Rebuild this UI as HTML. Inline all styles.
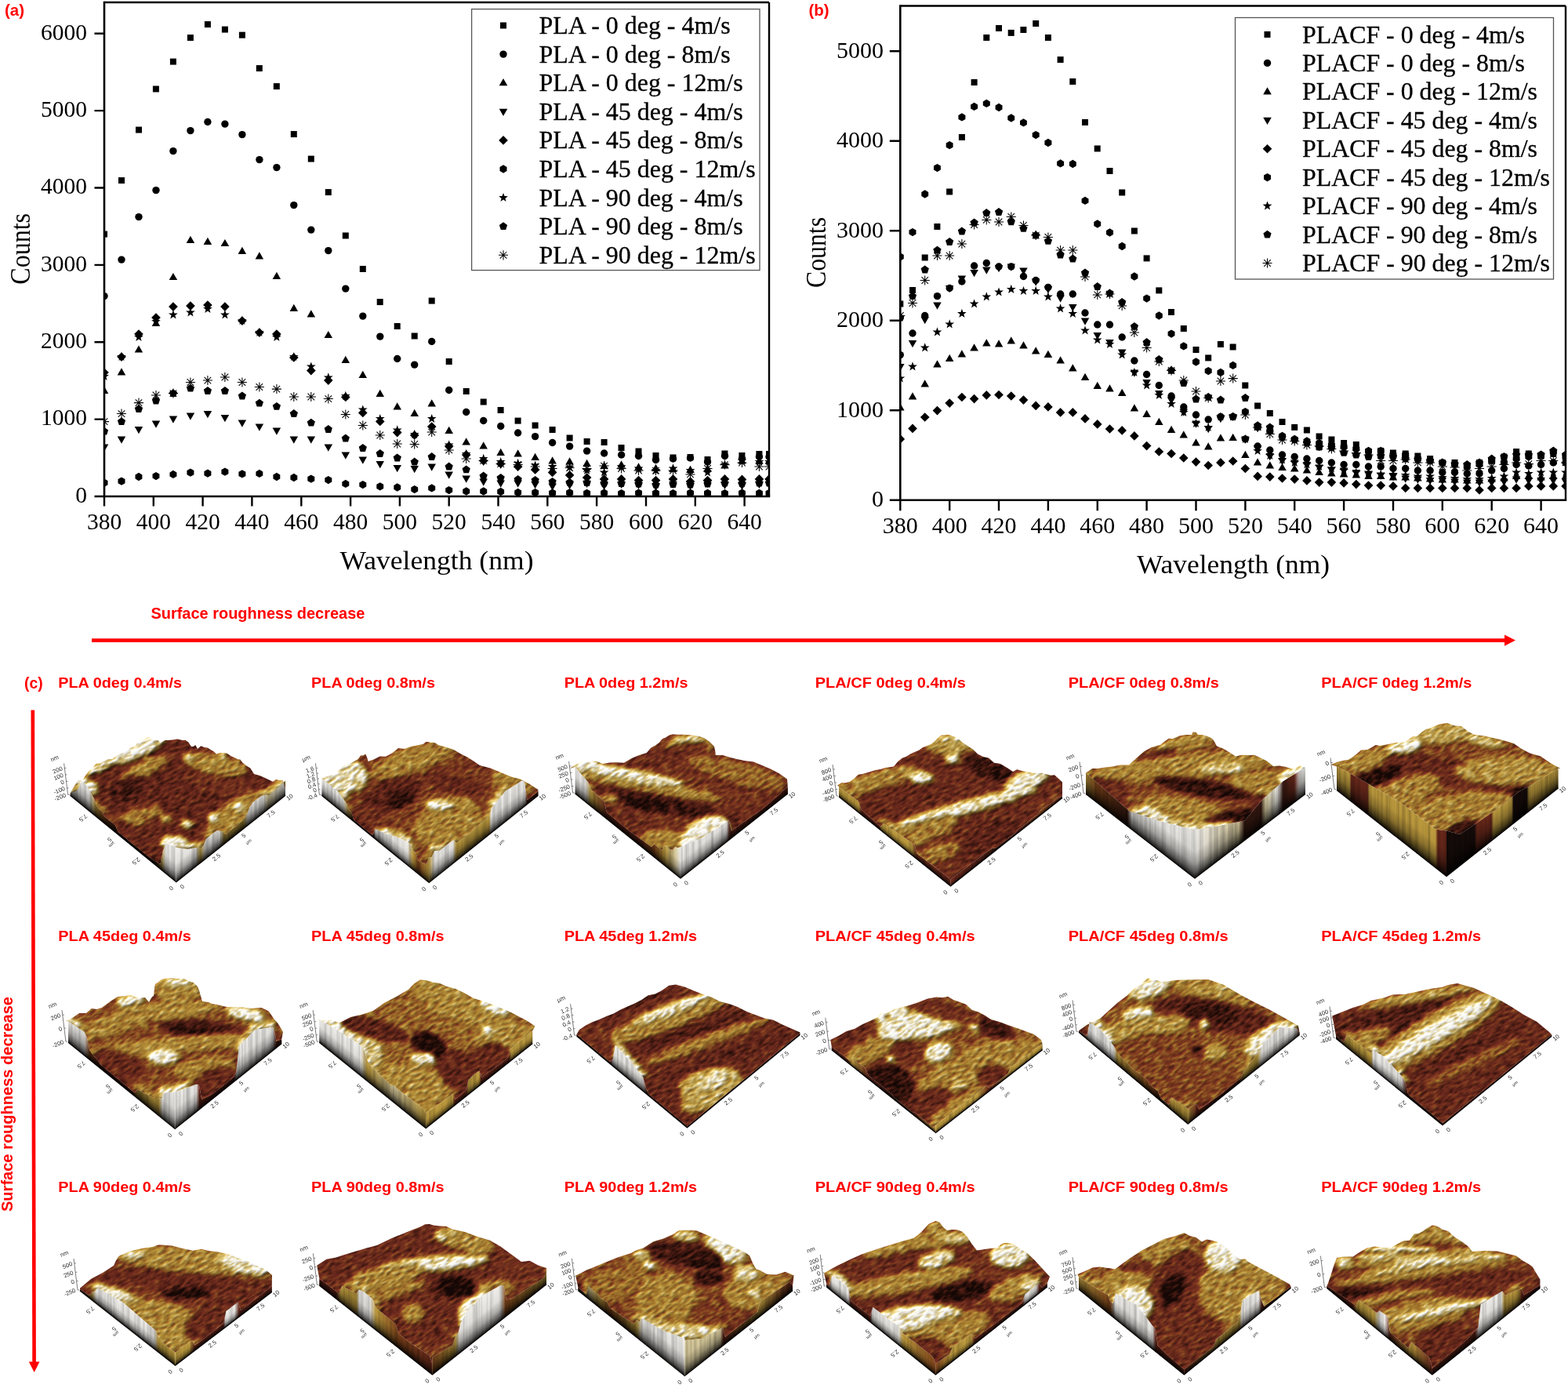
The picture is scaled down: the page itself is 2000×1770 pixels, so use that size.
<!DOCTYPE html><html><head><meta charset="utf-8"><title>Figure</title><style>html,body{margin:0;padding:0;background:#fff;}body{width:2000px;height:1770px;overflow:hidden;position:relative;}svg{display:block;}</style></head><body>
<svg width="2000" height="1770" viewBox="0 0 2000 1770">
<rect width="2000" height="1770" fill="#fff"/>
<clipPath id="cA"><rect x="133" y="3" width="848" height="630"/></clipPath>
<g clip-path="url(#cA)" fill="#000">
<rect x="129.0" y="294.6" width="8.0" height="8.0"/>
<rect x="151.0" y="226.1" width="8.0" height="8.0"/>
<rect x="173.0" y="161.6" width="8.0" height="8.0"/>
<rect x="194.9" y="109.5" width="8.0" height="8.0"/>
<rect x="216.9" y="74.6" width="8.0" height="8.0"/>
<rect x="238.9" y="44.1" width="8.0" height="8.0"/>
<rect x="260.9" y="27.1" width="8.0" height="8.0"/>
<rect x="282.9" y="33.6" width="8.0" height="8.0"/>
<rect x="304.9" y="40.7" width="8.0" height="8.0"/>
<rect x="326.8" y="83.1" width="8.0" height="8.0"/>
<rect x="348.8" y="106.1" width="8.0" height="8.0"/>
<rect x="370.8" y="167.1" width="8.0" height="8.0"/>
<rect x="392.8" y="198.6" width="8.0" height="8.0"/>
<rect x="414.8" y="241.1" width="8.0" height="8.0"/>
<rect x="436.8" y="296.5" width="8.0" height="8.0"/>
<rect x="458.8" y="339.0" width="8.0" height="8.0"/>
<rect x="480.7" y="381.1" width="8.0" height="8.0"/>
<rect x="502.7" y="412.0" width="8.0" height="8.0"/>
<rect x="524.7" y="424.5" width="8.0" height="8.0"/>
<rect x="546.7" y="379.6" width="8.0" height="8.0"/>
<rect x="568.7" y="457.0" width="8.0" height="8.0"/>
<rect x="590.7" y="495.0" width="8.0" height="8.0"/>
<rect x="612.7" y="508.5" width="8.0" height="8.0"/>
<rect x="634.6" y="519.0" width="8.0" height="8.0"/>
<rect x="656.6" y="532.6" width="8.0" height="8.0"/>
<rect x="678.6" y="538.5" width="8.0" height="8.0"/>
<rect x="700.6" y="544.0" width="8.0" height="8.0"/>
<rect x="722.6" y="554.5" width="8.0" height="8.0"/>
<rect x="744.6" y="559.0" width="8.0" height="8.0"/>
<rect x="766.6" y="560.0" width="8.0" height="8.0"/>
<rect x="788.5" y="567.0" width="8.0" height="8.0"/>
<rect x="810.5" y="571.5" width="8.0" height="8.0"/>
<rect x="832.5" y="577.0" width="8.0" height="8.0"/>
<rect x="854.5" y="579.5" width="8.0" height="8.0"/>
<rect x="876.5" y="579.0" width="8.0" height="8.0"/>
<rect x="898.5" y="582.0" width="8.0" height="8.0"/>
<rect x="920.4" y="574.5" width="8.0" height="8.0"/>
<rect x="942.4" y="577.0" width="8.0" height="8.0"/>
<rect x="964.4" y="575.0" width="8.0" height="8.0"/>
<rect x="977.0" y="575.0" width="8.0" height="8.0"/>
<circle cx="133.0" cy="377.6" r="4.7"/>
<circle cx="155.0" cy="331.1" r="4.7"/>
<circle cx="177.0" cy="276.6" r="4.7"/>
<circle cx="199.0" cy="242.6" r="4.7"/>
<circle cx="220.9" cy="192.6" r="4.7"/>
<circle cx="242.9" cy="166.6" r="4.7"/>
<circle cx="264.9" cy="155.5" r="4.7"/>
<circle cx="286.9" cy="158.1" r="4.7"/>
<circle cx="308.9" cy="171.6" r="4.7"/>
<circle cx="330.9" cy="203.6" r="4.7"/>
<circle cx="352.9" cy="213.6" r="4.7"/>
<circle cx="374.8" cy="261.6" r="4.7"/>
<circle cx="396.8" cy="293.1" r="4.7"/>
<circle cx="418.8" cy="319.6" r="4.7"/>
<circle cx="440.8" cy="368.1" r="4.7"/>
<circle cx="462.8" cy="403.1" r="4.7"/>
<circle cx="484.8" cy="429.1" r="4.7"/>
<circle cx="506.7" cy="457.5" r="4.7"/>
<circle cx="528.7" cy="465.1" r="4.7"/>
<circle cx="550.7" cy="435.5" r="4.7"/>
<circle cx="572.7" cy="497.5" r="4.7"/>
<circle cx="594.7" cy="525.5" r="4.7"/>
<circle cx="616.7" cy="536.5" r="4.7"/>
<circle cx="638.7" cy="543.5" r="4.7"/>
<circle cx="660.6" cy="552.0" r="4.7"/>
<circle cx="682.6" cy="556.6" r="4.7"/>
<circle cx="704.6" cy="564.5" r="4.7"/>
<circle cx="726.6" cy="569.1" r="4.7"/>
<circle cx="748.6" cy="575.1" r="4.7"/>
<circle cx="770.6" cy="578.0" r="4.7"/>
<circle cx="792.6" cy="580.0" r="4.7"/>
<circle cx="814.5" cy="581.5" r="4.7"/>
<circle cx="836.5" cy="586.5" r="4.7"/>
<circle cx="858.5" cy="585.0" r="4.7"/>
<circle cx="880.5" cy="584.0" r="4.7"/>
<circle cx="902.5" cy="589.0" r="4.7"/>
<circle cx="924.5" cy="581.5" r="4.7"/>
<circle cx="946.5" cy="585.0" r="4.7"/>
<circle cx="968.4" cy="582.5" r="4.7"/>
<circle cx="981.0" cy="582.5" r="4.7"/>
<path d="M133.0 492.8L138.3 502.1L127.7 502.1Z"/>
<path d="M155.0 469.3L160.2 478.5L149.7 478.5Z"/>
<path d="M177.0 440.4L182.2 449.6L171.7 449.6Z"/>
<path d="M199.0 406.8L204.2 416.1L193.7 416.1Z"/>
<path d="M220.9 347.9L226.2 357.1L215.7 357.1Z"/>
<path d="M242.9 300.8L248.2 310.1L237.7 310.1Z"/>
<path d="M264.9 302.8L270.2 312.1L259.6 312.1Z"/>
<path d="M286.9 304.9L292.2 314.1L281.6 314.1Z"/>
<path d="M308.9 314.8L314.1 324.1L303.6 324.1Z"/>
<path d="M330.9 321.3L336.1 330.6L325.6 330.6Z"/>
<path d="M352.9 346.8L358.1 356.1L347.6 356.1Z"/>
<path d="M374.8 387.8L380.1 397.1L369.6 397.1Z"/>
<path d="M396.8 395.3L402.1 404.6L391.6 404.6Z"/>
<path d="M418.8 421.9L424.1 431.1L413.5 431.1Z"/>
<path d="M440.8 453.8L446.1 463.1L435.5 463.1Z"/>
<path d="M462.8 472.8L468.0 482.1L457.5 482.1Z"/>
<path d="M484.8 496.8L490.0 506.1L479.5 506.1Z"/>
<path d="M506.7 513.3L512.0 522.5L501.5 522.5Z"/>
<path d="M528.7 521.8L534.0 531.1L523.5 531.1Z"/>
<path d="M550.7 509.3L556.0 518.6L545.5 518.6Z"/>
<path d="M572.7 543.8L578.0 553.0L567.4 553.0Z"/>
<path d="M594.7 558.3L600.0 567.6L589.4 567.6Z"/>
<path d="M616.7 563.3L621.9 572.6L611.4 572.6Z"/>
<path d="M638.7 571.8L643.9 581.1L633.4 581.1Z"/>
<path d="M660.6 573.3L665.9 582.5L655.4 582.5Z"/>
<path d="M682.6 577.8L687.9 587.1L677.4 587.1Z"/>
<path d="M704.6 582.3L709.9 591.6L699.4 591.6Z"/>
<path d="M726.6 583.3L731.9 592.6L721.3 592.6Z"/>
<path d="M748.6 585.8L753.8 595.0L743.3 595.0Z"/>
<path d="M770.6 588.8L775.8 598.1L765.3 598.1Z"/>
<path d="M792.6 587.3L797.8 596.6L787.3 596.6Z"/>
<path d="M814.5 590.3L819.8 599.6L809.3 599.6Z"/>
<path d="M836.5 591.8L841.8 601.0L831.3 601.0Z"/>
<path d="M858.5 592.7L863.8 602.0L853.2 602.0Z"/>
<path d="M880.5 593.7L885.8 603.0L875.2 603.0Z"/>
<path d="M902.5 592.3L907.7 601.5L897.2 601.5Z"/>
<path d="M924.5 588.3L929.7 597.6L919.2 597.6Z"/>
<path d="M946.5 582.3L951.7 591.6L941.2 591.6Z"/>
<path d="M968.4 582.3L973.7 591.6L963.2 591.6Z"/>
<path d="M981.0 582.3L986.3 591.6L975.7 591.6Z"/>
<path d="M133.0 575.8L138.3 566.5L127.7 566.5Z"/>
<path d="M155.0 565.7L160.2 556.5L149.7 556.5Z"/>
<path d="M177.0 553.2L182.2 544.0L171.7 544.0Z"/>
<path d="M199.0 545.7L204.2 536.5L193.7 536.5Z"/>
<path d="M220.9 539.7L226.2 530.5L215.7 530.5Z"/>
<path d="M242.9 535.7L248.2 526.4L237.7 526.4Z"/>
<path d="M264.9 533.3L270.2 524.0L259.6 524.0Z"/>
<path d="M286.9 538.3L292.2 529.0L281.6 529.0Z"/>
<path d="M308.9 544.8L314.1 535.5L303.6 535.5Z"/>
<path d="M330.9 549.8L336.1 540.5L325.6 540.5Z"/>
<path d="M352.9 554.7L358.1 545.4L347.6 545.4Z"/>
<path d="M374.8 565.7L380.1 556.5L369.6 556.5Z"/>
<path d="M396.8 565.7L402.1 556.5L391.6 556.5Z"/>
<path d="M418.8 575.8L424.1 566.5L413.5 566.5Z"/>
<path d="M440.8 585.7L446.1 576.4L435.5 576.4Z"/>
<path d="M462.8 591.7L468.0 582.4L457.5 582.4Z"/>
<path d="M484.8 597.2L490.0 587.9L479.5 587.9Z"/>
<path d="M506.7 602.2L512.0 593.0L501.5 593.0Z"/>
<path d="M528.7 603.2L534.0 593.9L523.5 593.9Z"/>
<path d="M550.7 600.7L556.0 591.5L545.5 591.5Z"/>
<path d="M572.7 610.7L578.0 601.4L567.4 601.4Z"/>
<path d="M594.7 615.7L600.0 606.4L589.4 606.4Z"/>
<path d="M616.7 619.7L621.9 610.5L611.4 610.5Z"/>
<path d="M638.7 621.7L643.9 612.4L633.4 612.4Z"/>
<path d="M660.6 621.7L665.9 612.4L655.4 612.4Z"/>
<path d="M682.6 623.2L687.9 613.9L677.4 613.9Z"/>
<path d="M704.6 625.7L709.9 616.5L699.4 616.5Z"/>
<path d="M726.6 624.0L731.9 614.7L721.3 614.7Z"/>
<path d="M748.6 622.0L753.8 612.7L743.3 612.7Z"/>
<path d="M770.6 624.9L775.8 615.7L765.3 615.7Z"/>
<path d="M792.6 623.0L797.8 613.7L787.3 613.7Z"/>
<path d="M814.5 624.0L819.8 614.7L809.3 614.7Z"/>
<path d="M836.5 625.9L841.8 616.7L831.3 616.7Z"/>
<path d="M858.5 623.0L863.8 613.7L853.2 613.7Z"/>
<path d="M880.5 624.9L885.8 615.7L875.2 615.7Z"/>
<path d="M902.5 622.0L907.7 612.7L897.2 612.7Z"/>
<path d="M924.5 624.0L929.7 614.7L919.2 614.7Z"/>
<path d="M946.5 624.9L951.7 615.7L941.2 615.7Z"/>
<path d="M968.4 623.0L973.7 613.7L963.2 613.7Z"/>
<path d="M981.0 623.0L986.3 613.7L975.7 613.7Z"/>
<path d="M133.0 469.2L138.8 475.0L133.0 480.8L127.2 475.0Z"/>
<path d="M155.0 449.2L160.8 455.0L155.0 460.9L149.2 455.0Z"/>
<path d="M177.0 420.2L182.8 426.0L177.0 431.8L171.1 426.0Z"/>
<path d="M199.0 399.2L204.8 405.0L199.0 410.9L193.1 405.0Z"/>
<path d="M220.9 385.2L226.8 391.1L220.9 396.9L215.1 391.1Z"/>
<path d="M242.9 384.3L248.8 390.1L242.9 395.9L237.1 390.1Z"/>
<path d="M264.9 383.2L270.7 389.0L264.9 394.8L259.1 389.0Z"/>
<path d="M286.9 385.2L292.7 391.1L286.9 396.9L281.1 391.1Z"/>
<path d="M308.9 403.2L314.7 409.1L308.9 414.9L303.1 409.1Z"/>
<path d="M330.9 418.2L336.7 424.0L330.9 429.9L325.0 424.0Z"/>
<path d="M352.9 420.2L358.7 426.0L352.9 431.8L347.0 426.0Z"/>
<path d="M374.8 450.2L380.7 456.0L374.8 461.8L369.0 456.0Z"/>
<path d="M396.8 466.7L402.7 472.5L396.8 478.4L391.0 472.5Z"/>
<path d="M418.8 479.2L424.6 485.0L418.8 490.9L413.0 485.0Z"/>
<path d="M440.8 500.6L446.6 506.5L440.8 512.3L435.0 506.5Z"/>
<path d="M462.8 520.6L468.6 526.5L462.8 532.3L456.9 526.5Z"/>
<path d="M484.8 531.6L490.6 537.5L484.8 543.3L478.9 537.5Z"/>
<path d="M506.7 545.7L512.6 551.5L506.7 557.4L500.9 551.5Z"/>
<path d="M528.7 549.2L534.6 555.0L528.7 560.8L522.9 555.0Z"/>
<path d="M550.7 538.2L556.5 544.1L550.7 549.9L544.9 544.1Z"/>
<path d="M572.7 563.2L578.5 569.1L572.7 574.9L566.9 569.1Z"/>
<path d="M594.7 574.1L600.5 580.0L594.7 585.8L588.9 580.0Z"/>
<path d="M616.7 581.7L622.5 587.5L616.7 593.4L610.8 587.5Z"/>
<path d="M638.7 585.7L644.5 591.5L638.7 597.3L632.8 591.5Z"/>
<path d="M660.6 589.2L666.5 595.0L660.6 600.9L654.8 595.0Z"/>
<path d="M682.6 593.1L688.5 599.0L682.6 604.8L676.8 599.0Z"/>
<path d="M704.6 596.7L710.4 602.5L704.6 608.3L698.8 602.5Z"/>
<path d="M726.6 600.1L732.4 605.9L726.6 611.8L720.8 605.9Z"/>
<path d="M748.6 603.2L754.4 609.0L748.6 614.8L742.8 609.0Z"/>
<path d="M770.6 605.1L776.4 611.0L770.6 616.8L764.7 611.0Z"/>
<path d="M792.6 605.1L798.4 611.0L792.6 616.8L786.7 611.0Z"/>
<path d="M814.5 606.7L820.4 612.5L814.5 618.4L808.7 612.5Z"/>
<path d="M836.5 606.7L842.4 612.5L836.5 618.4L830.7 612.5Z"/>
<path d="M858.5 605.1L864.3 611.0L858.5 616.8L852.7 611.0Z"/>
<path d="M880.5 608.2L886.3 614.0L880.5 619.8L874.7 614.0Z"/>
<path d="M902.5 606.7L908.3 612.5L902.5 618.4L896.7 612.5Z"/>
<path d="M924.5 605.1L930.3 611.0L924.5 616.8L918.6 611.0Z"/>
<path d="M946.5 605.6L952.3 611.5L946.5 617.3L940.6 611.5Z"/>
<path d="M968.4 605.1L974.3 611.0L968.4 616.8L962.6 611.0Z"/>
<path d="M981.0 605.1L986.8 611.0L981.0 616.8L975.2 611.0Z"/>
<polygon points="133.0,620.9 128.5,618.3 128.5,613.1 133.0,610.5 137.5,613.1 137.5,618.3"/>
<polygon points="155.0,618.8 150.5,616.2 150.5,611.0 155.0,608.4 159.5,611.0 159.5,616.2"/>
<polygon points="177.0,613.2 172.5,610.6 172.5,605.4 177.0,602.8 181.4,605.4 181.4,610.6"/>
<polygon points="199.0,612.2 194.5,609.6 194.5,604.4 199.0,601.9 203.4,604.4 203.4,609.6"/>
<polygon points="220.9,610.1 216.5,607.5 216.5,602.4 220.9,599.8 225.4,602.4 225.4,607.5"/>
<polygon points="242.9,607.8 238.4,605.2 238.4,600.0 242.9,597.4 247.4,600.0 247.4,605.2"/>
<polygon points="264.9,608.8 260.4,606.2 260.4,601.0 264.9,598.4 269.4,601.0 269.4,606.2"/>
<polygon points="286.9,606.8 282.4,604.2 282.4,599.0 286.9,596.4 291.4,599.0 291.4,604.2"/>
<polygon points="308.9,609.5 304.4,607.0 304.4,601.8 308.9,599.2 313.4,601.8 313.4,607.0"/>
<polygon points="330.9,609.1 326.4,606.6 326.4,601.4 330.9,598.8 335.3,601.4 335.3,606.6"/>
<polygon points="352.9,613.2 348.4,610.6 348.4,605.4 352.9,602.8 357.3,605.4 357.3,610.6"/>
<polygon points="374.8,614.2 370.4,611.6 370.4,606.4 374.8,603.8 379.3,606.4 379.3,611.6"/>
<polygon points="396.8,615.7 392.3,613.2 392.3,608.0 396.8,605.4 401.3,608.0 401.3,613.2"/>
<polygon points="418.8,617.2 414.3,614.6 414.3,609.5 418.8,606.9 423.3,609.5 423.3,614.6"/>
<polygon points="440.8,622.1 436.3,619.5 436.3,614.4 440.8,611.8 445.3,614.4 445.3,619.5"/>
<polygon points="462.8,623.2 458.3,620.6 458.3,615.5 462.8,612.9 467.3,615.5 467.3,620.6"/>
<polygon points="484.8,625.6 480.3,623.0 480.3,617.8 484.8,615.2 489.2,617.8 489.2,623.0"/>
<polygon points="506.7,626.7 502.3,624.1 502.3,618.9 506.7,616.3 511.2,618.9 511.2,624.1"/>
<polygon points="528.7,629.2 524.3,626.6 524.3,621.5 528.7,618.9 533.2,621.5 533.2,626.6"/>
<polygon points="550.7,627.6 546.2,625.1 546.2,619.9 550.7,617.3 555.2,619.9 555.2,625.1"/>
<polygon points="572.7,630.2 568.2,627.6 568.2,622.4 572.7,619.9 577.2,622.4 577.2,627.6"/>
<polygon points="594.7,631.7 590.2,629.1 590.2,623.9 594.7,621.3 599.2,623.9 599.2,629.1"/>
<polygon points="616.7,631.7 612.2,629.1 612.2,623.9 616.7,621.3 621.2,623.9 621.2,629.1"/>
<polygon points="638.7,632.2 634.2,629.6 634.2,624.4 638.7,621.8 643.1,624.4 643.1,629.6"/>
<polygon points="660.6,633.2 656.2,630.6 656.2,625.4 660.6,622.8 665.1,625.4 665.1,630.6"/>
<polygon points="682.6,633.3 678.2,630.7 678.2,625.5 682.6,622.9 687.1,625.5 687.1,630.7"/>
<polygon points="704.6,633.7 700.1,631.2 700.1,626.0 704.6,623.4 709.1,626.0 709.1,631.2"/>
<polygon points="726.6,633.4 722.1,630.9 722.1,625.7 726.6,623.1 731.1,625.7 731.1,630.9"/>
<polygon points="748.6,634.0 744.1,631.5 744.1,626.3 748.6,623.7 753.1,626.3 753.1,631.5"/>
<polygon points="770.6,633.7 766.1,631.2 766.1,626.0 770.6,623.4 775.0,626.0 775.0,631.2"/>
<polygon points="792.6,634.2 788.1,631.6 788.1,626.5 792.6,623.9 797.0,626.5 797.0,631.6"/>
<polygon points="814.5,633.7 810.1,631.2 810.1,626.0 814.5,623.4 819.0,626.0 819.0,631.2"/>
<polygon points="836.5,634.0 832.0,631.5 832.0,626.3 836.5,623.7 841.0,626.3 841.0,631.5"/>
<polygon points="858.5,634.2 854.0,631.6 854.0,626.5 858.5,623.9 863.0,626.5 863.0,631.6"/>
<polygon points="880.5,633.7 876.0,631.2 876.0,626.0 880.5,623.4 885.0,626.0 885.0,631.2"/>
<polygon points="902.5,634.0 898.0,631.5 898.0,626.3 902.5,623.7 907.0,626.3 907.0,631.5"/>
<polygon points="924.5,634.2 920.0,631.6 920.0,626.5 924.5,623.9 928.9,626.5 928.9,631.6"/>
<polygon points="946.5,633.7 942.0,631.2 942.0,626.0 946.5,623.4 950.9,626.0 950.9,631.2"/>
<polygon points="968.4,634.0 964.0,631.5 964.0,626.3 968.4,623.7 972.9,626.3 972.9,631.5"/>
<polygon points="981.0,634.0 976.5,631.5 976.5,626.3 981.0,623.7 985.5,626.3 985.5,631.5"/>
<polygon points="133.0,473.9 134.5,478.0 138.9,478.1 135.4,480.8 136.6,485.0 133.0,482.5 129.4,485.0 130.6,480.8 127.1,478.1 131.5,478.0"/>
<polygon points="155.0,448.9 156.5,453.0 160.8,453.1 157.4,455.8 158.6,460.0 155.0,457.6 151.4,460.0 152.6,455.8 149.1,453.1 153.5,453.0"/>
<polygon points="177.0,423.9 178.5,428.0 182.8,428.1 179.4,430.8 180.6,435.0 177.0,432.6 173.3,435.0 174.6,430.8 171.1,428.1 175.5,428.0"/>
<polygon points="199.0,403.9 200.4,408.0 204.8,408.2 201.4,410.8 202.6,415.0 199.0,412.6 195.3,415.0 196.5,410.8 193.1,408.2 197.5,408.0"/>
<polygon points="220.9,395.3 222.4,399.5 226.8,399.6 223.3,402.3 224.6,406.5 220.9,404.0 217.3,406.5 218.5,402.3 215.1,399.6 219.5,399.5"/>
<polygon points="242.9,392.4 244.4,396.5 248.8,396.6 245.3,399.3 246.5,403.5 242.9,401.1 239.3,403.5 240.5,399.3 237.1,396.6 241.4,396.5"/>
<polygon points="264.9,387.9 266.4,392.0 270.8,392.1 267.3,394.8 268.5,399.0 264.9,396.6 261.3,399.0 262.5,394.8 259.1,392.1 263.4,392.0"/>
<polygon points="286.9,395.3 288.4,399.5 292.8,399.6 289.3,402.3 290.5,406.5 286.9,404.0 283.3,406.5 284.5,402.3 281.0,399.6 285.4,399.5"/>
<polygon points="308.9,402.9 310.4,407.0 314.7,407.2 311.3,409.9 312.5,414.1 308.9,411.6 305.3,414.1 306.5,409.9 303.0,407.2 307.4,407.0"/>
<polygon points="330.9,417.9 332.4,422.0 336.7,422.1 333.3,424.8 334.5,429.0 330.9,426.6 327.2,429.0 328.5,424.8 325.0,422.1 329.4,422.0"/>
<polygon points="352.9,423.9 354.3,428.0 358.7,428.1 355.3,430.8 356.5,435.0 352.9,432.6 349.2,435.0 350.4,430.8 347.0,428.1 351.4,428.0"/>
<polygon points="374.8,448.9 376.3,453.0 380.7,453.1 377.2,455.8 378.5,460.0 374.8,457.6 371.2,460.0 372.4,455.8 369.0,453.1 373.3,453.0"/>
<polygon points="396.8,461.4 398.3,465.5 402.7,465.6 399.2,468.3 400.4,472.5 396.8,470.0 393.2,472.5 394.4,468.3 391.0,465.6 395.3,465.5"/>
<polygon points="418.8,475.3 420.3,479.4 424.7,479.6 421.2,482.3 422.4,486.5 418.8,484.0 415.2,486.5 416.4,482.3 412.9,479.6 417.3,479.4"/>
<polygon points="440.8,498.8 442.3,503.0 446.7,503.1 443.2,505.8 444.4,510.0 440.8,507.5 437.2,510.0 438.4,505.8 434.9,503.1 439.3,503.0"/>
<polygon points="462.8,516.4 464.3,520.5 468.6,520.6 465.2,523.3 466.4,527.5 462.8,525.0 459.2,527.5 460.4,523.3 456.9,520.6 461.3,520.5"/>
<polygon points="484.8,527.9 486.3,532.0 490.6,532.1 487.2,534.8 488.4,539.0 484.8,536.6 481.1,539.0 482.4,534.8 478.9,532.1 483.3,532.0"/>
<polygon points="506.7,542.3 508.2,546.4 512.6,546.6 509.2,549.3 510.4,553.5 506.7,551.0 503.1,553.5 504.3,549.3 500.9,546.6 505.3,546.4"/>
<polygon points="528.7,547.8 530.2,552.0 534.6,552.1 531.1,554.8 532.4,559.0 528.7,556.5 525.1,559.0 526.3,554.8 522.9,552.1 527.2,552.0"/>
<polygon points="550.7,527.9 552.2,532.0 556.6,532.1 553.1,534.8 554.3,539.0 550.7,536.6 547.1,539.0 548.3,534.8 544.9,532.1 549.2,532.0"/>
<polygon points="572.7,561.3 574.2,565.4 578.6,565.6 575.1,568.3 576.3,572.5 572.7,570.0 569.1,572.5 570.3,568.3 566.8,565.6 571.2,565.4"/>
<polygon points="594.7,572.8 596.2,576.9 600.5,577.1 597.1,579.8 598.3,584.0 594.7,581.5 591.1,584.0 592.3,579.8 588.8,577.1 593.2,576.9"/>
<polygon points="616.7,578.8 618.2,582.9 622.5,583.1 619.1,585.8 620.3,590.0 616.7,587.5 613.1,590.0 614.3,585.8 610.8,583.1 615.2,582.9"/>
<polygon points="638.7,582.9 640.1,587.0 644.5,587.1 641.1,589.8 642.3,594.0 638.7,591.6 635.0,594.0 636.3,589.8 632.8,587.1 637.2,587.0"/>
<polygon points="660.6,584.8 662.1,588.9 666.5,589.1 663.1,591.8 664.3,596.0 660.6,593.5 657.0,596.0 658.2,591.8 654.8,589.1 659.2,588.9"/>
<polygon points="682.6,587.4 684.1,591.5 688.5,591.6 685.0,594.3 686.3,598.5 682.6,596.1 679.0,598.5 680.2,594.3 676.8,591.6 681.1,591.5"/>
<polygon points="704.6,588.9 706.1,593.0 710.5,593.1 707.0,595.8 708.2,600.0 704.6,597.6 701.0,600.0 702.2,595.8 698.8,593.1 703.1,593.0"/>
<polygon points="726.6,589.8 728.1,594.0 732.5,594.1 729.0,596.8 730.2,601.0 726.6,598.5 723.0,601.0 724.2,596.8 720.7,594.1 725.1,594.0"/>
<polygon points="748.6,593.9 750.1,598.0 754.4,598.1 751.0,600.8 752.2,605.0 748.6,602.6 745.0,605.0 746.2,600.8 742.7,598.1 747.1,598.0"/>
<polygon points="770.6,596.3 772.1,600.5 776.4,600.6 773.0,603.3 774.2,607.5 770.6,605.0 766.9,607.5 768.2,603.3 764.7,600.6 769.1,600.5"/>
<polygon points="792.6,588.9 794.0,593.0 798.4,593.1 795.0,595.8 796.2,600.0 792.6,597.6 788.9,600.0 790.1,595.8 786.7,593.1 791.1,593.0"/>
<polygon points="814.5,591.3 816.0,595.4 820.4,595.6 816.9,598.3 818.2,602.5 814.5,600.0 810.9,602.5 812.1,598.3 808.7,595.6 813.1,595.4"/>
<polygon points="836.5,593.9 838.0,598.0 842.4,598.1 838.9,600.8 840.1,605.0 836.5,602.6 832.9,605.0 834.1,600.8 830.7,598.1 835.0,598.0"/>
<polygon points="858.5,591.3 860.0,595.4 864.4,595.6 860.9,598.3 862.1,602.5 858.5,600.0 854.9,602.5 856.1,598.3 852.7,595.6 857.0,595.4"/>
<polygon points="880.5,593.9 882.0,598.0 886.4,598.1 882.9,600.8 884.1,605.0 880.5,602.6 876.9,605.0 878.1,600.8 874.6,598.1 879.0,598.0"/>
<polygon points="902.5,596.3 904.0,600.5 908.3,600.6 904.9,603.3 906.1,607.5 902.5,605.0 898.9,607.5 900.1,603.3 896.6,600.6 901.0,600.5"/>
<polygon points="924.5,586.4 926.0,590.5 930.3,590.7 926.9,593.3 928.1,597.5 924.5,595.1 920.8,597.5 922.1,593.3 918.6,590.7 923.0,590.5"/>
<polygon points="946.5,581.4 947.9,585.5 952.3,585.6 948.9,588.3 950.1,592.5 946.5,590.1 942.8,592.5 944.0,588.3 940.6,585.6 945.0,585.5"/>
<polygon points="968.4,582.9 969.9,587.0 974.3,587.1 970.8,589.8 972.1,594.0 968.4,591.6 964.8,594.0 966.0,589.8 962.6,587.1 966.9,587.0"/>
<polygon points="981.0,582.9 982.5,587.0 986.9,587.1 983.4,589.8 984.6,594.0 981.0,591.6 977.4,594.0 978.6,589.8 975.1,587.1 979.5,587.0"/>
<polygon points="133.0,544.7 138.1,548.4 136.2,554.4 129.8,554.4 127.9,548.4"/>
<polygon points="155.0,532.2 160.1,535.9 158.2,541.9 151.8,541.9 149.9,535.9"/>
<polygon points="177.0,516.1 182.1,519.9 180.1,525.9 173.8,525.9 171.8,519.9"/>
<polygon points="199.0,505.6 204.1,509.3 202.1,515.4 195.8,515.4 193.8,509.3"/>
<polygon points="220.9,496.2 226.1,499.9 224.1,505.9 217.8,505.9 215.8,499.9"/>
<polygon points="242.9,489.7 248.1,493.4 246.1,499.4 239.8,499.4 237.8,493.4"/>
<polygon points="264.9,493.1 270.0,496.8 268.1,502.9 261.7,502.9 259.8,496.8"/>
<polygon points="286.9,493.1 292.0,496.8 290.1,502.9 283.7,502.9 281.8,496.8"/>
<polygon points="308.9,499.6 314.0,503.3 312.0,509.4 305.7,509.4 303.8,503.3"/>
<polygon points="330.9,508.7 336.0,512.4 334.0,518.4 327.7,518.4 325.7,512.4"/>
<polygon points="352.9,513.1 358.0,516.8 356.0,522.8 349.7,522.8 347.7,516.8"/>
<polygon points="374.8,522.1 380.0,525.9 378.0,531.9 371.7,531.9 369.7,525.9"/>
<polygon points="396.8,533.7 401.9,537.4 400.0,543.4 393.7,543.4 391.7,537.4"/>
<polygon points="418.8,542.1 423.9,545.8 422.0,551.9 415.6,551.9 413.7,545.8"/>
<polygon points="440.8,553.6 445.9,557.4 444.0,563.4 437.6,563.4 435.7,557.4"/>
<polygon points="462.8,566.1 467.9,569.8 465.9,575.9 459.6,575.9 457.7,569.8"/>
<polygon points="484.8,573.1 489.9,576.8 487.9,582.9 481.6,582.9 479.6,576.8"/>
<polygon points="506.7,578.6 511.9,582.3 509.9,588.4 503.6,588.4 501.6,582.3"/>
<polygon points="528.7,583.6 533.9,587.4 531.9,593.4 525.6,593.4 523.6,587.4"/>
<polygon points="550.7,577.1 555.8,580.9 553.9,586.9 547.6,586.9 545.6,580.9"/>
<polygon points="572.7,589.6 577.8,593.4 575.9,599.4 569.5,599.4 567.6,593.4"/>
<polygon points="594.7,593.6 599.8,597.3 597.9,603.3 591.5,603.3 589.6,597.3"/>
<polygon points="616.7,601.6 621.8,605.4 619.8,611.4 613.5,611.4 611.5,605.4"/>
<polygon points="638.7,604.1 643.8,607.8 641.8,613.8 635.5,613.8 633.5,607.8"/>
<polygon points="660.6,606.0 665.8,609.7 663.8,615.7 657.5,615.7 655.5,609.7"/>
<polygon points="682.6,606.9 687.8,610.7 685.8,616.7 679.5,616.7 677.5,610.7"/>
<polygon points="704.6,608.9 709.7,612.6 707.8,618.7 701.4,618.7 699.5,612.6"/>
<polygon points="726.6,609.9 731.7,613.6 729.8,619.7 723.4,619.7 721.5,613.6"/>
<polygon points="748.6,610.4 753.7,614.1 751.8,620.1 745.4,620.1 743.5,614.1"/>
<polygon points="770.6,610.9 775.7,614.6 773.7,620.6 767.4,620.6 765.4,614.6"/>
<polygon points="792.6,611.4 797.7,615.1 795.7,621.1 789.4,621.1 787.4,615.1"/>
<polygon points="814.5,611.9 819.7,615.6 817.7,621.6 811.4,621.6 809.4,615.6"/>
<polygon points="836.5,612.9 841.7,616.6 839.7,622.6 833.4,622.6 831.4,616.6"/>
<polygon points="858.5,612.4 863.6,616.1 861.7,622.1 855.3,622.1 853.4,616.1"/>
<polygon points="880.5,612.9 885.6,616.6 883.7,622.6 877.3,622.6 875.4,616.6"/>
<polygon points="902.5,611.9 907.6,615.6 905.6,621.6 899.3,621.6 897.4,615.6"/>
<polygon points="924.5,610.9 929.6,614.6 927.6,620.6 921.3,620.6 919.3,614.6"/>
<polygon points="946.5,611.4 951.6,615.1 949.6,621.1 943.3,621.1 941.3,615.1"/>
<polygon points="968.4,610.9 973.6,614.6 971.6,620.6 965.3,620.6 963.3,614.6"/>
<polygon points="981.0,610.9 986.1,614.6 984.2,620.6 977.8,620.6 975.9,614.6"/>
<path d="M127.0 537.6L139.1 537.6M128.7 533.3L137.3 541.8M133.0 531.5L133.0 543.6M137.3 533.3L128.7 541.8" fill="none" stroke="#000" stroke-width="1.05"/>
<path d="M148.9 527.5L161.0 527.5M150.7 523.3L159.3 531.8M155.0 521.5L155.0 533.6M159.3 523.3L150.7 531.8" fill="none" stroke="#000" stroke-width="1.05"/>
<path d="M170.9 513.6L183.0 513.6M172.7 509.3L181.2 517.8M177.0 507.5L177.0 519.6M181.2 509.3L172.7 517.8" fill="none" stroke="#000" stroke-width="1.05"/>
<path d="M192.9 504.0L205.0 504.0M194.7 499.7L203.2 508.3M199.0 498.0L199.0 510.1M203.2 499.7L194.7 508.3" fill="none" stroke="#000" stroke-width="1.05"/>
<path d="M214.9 501.6L227.0 501.6M216.7 497.3L225.2 505.8M220.9 495.5L220.9 507.6M225.2 497.3L216.7 505.8" fill="none" stroke="#000" stroke-width="1.05"/>
<path d="M236.9 487.5L249.0 487.5M238.6 483.2L247.2 491.8M242.9 481.4L242.9 493.5M247.2 483.2L238.6 491.8" fill="none" stroke="#000" stroke-width="1.05"/>
<path d="M258.9 485.0L271.0 485.0M260.6 480.8L269.2 489.3M264.9 479.0L264.9 491.1M269.2 480.8L260.6 489.3" fill="none" stroke="#000" stroke-width="1.05"/>
<path d="M280.8 481.0L292.9 481.0M282.6 476.7L291.2 485.3M286.9 474.9L286.9 487.0M291.2 476.7L282.6 485.3" fill="none" stroke="#000" stroke-width="1.05"/>
<path d="M302.8 487.5L314.9 487.5M304.6 483.2L313.2 491.8M308.9 481.4L308.9 493.5M313.2 483.2L304.6 491.8" fill="none" stroke="#000" stroke-width="1.05"/>
<path d="M324.8 493.5L336.9 493.5M326.6 489.2L335.1 497.8M330.9 487.4L330.9 499.5M335.1 489.2L326.6 497.8" fill="none" stroke="#000" stroke-width="1.05"/>
<path d="M346.8 496.1L358.9 496.1M348.6 491.8L357.1 500.3M352.9 490.0L352.9 502.1M357.1 491.8L348.6 500.3" fill="none" stroke="#000" stroke-width="1.05"/>
<path d="M368.8 506.0L380.9 506.0M370.6 501.7L379.1 510.3M374.8 499.9L374.8 512.0M379.1 501.7L370.6 510.3" fill="none" stroke="#000" stroke-width="1.05"/>
<path d="M390.8 506.0L402.9 506.0M392.5 501.7L401.1 510.3M396.8 499.9L396.8 512.0M401.1 501.7L392.5 510.3" fill="none" stroke="#000" stroke-width="1.05"/>
<path d="M412.8 508.5L424.9 508.5M414.5 504.3L423.1 512.8M418.8 502.5L418.8 514.6M423.1 504.3L414.5 512.8" fill="none" stroke="#000" stroke-width="1.05"/>
<path d="M434.7 528.5L446.8 528.5M436.5 524.2L445.1 532.8M440.8 522.5L440.8 534.6M445.1 524.2L436.5 532.8" fill="none" stroke="#000" stroke-width="1.05"/>
<path d="M456.7 542.5L468.8 542.5M458.5 538.2L467.1 546.8M462.8 536.4L462.8 548.5M467.1 538.2L458.5 546.8" fill="none" stroke="#000" stroke-width="1.05"/>
<path d="M478.7 555.0L490.8 555.0M480.5 550.7L489.0 559.3M484.8 548.9L484.8 561.0M489.0 550.7L480.5 559.3" fill="none" stroke="#000" stroke-width="1.05"/>
<path d="M500.7 566.0L512.8 566.0M502.5 561.7L511.0 570.3M506.7 560.0L506.7 572.1M511.0 561.7L502.5 570.3" fill="none" stroke="#000" stroke-width="1.05"/>
<path d="M522.7 566.5L534.8 566.5M524.5 562.2L533.0 570.8M528.7 560.4L528.7 572.5M533.0 562.2L524.5 570.8" fill="none" stroke="#000" stroke-width="1.05"/>
<path d="M544.7 551.0L556.8 551.0M546.4 546.8L555.0 555.3M550.7 545.0L550.7 557.1M555.0 546.8L546.4 555.3" fill="none" stroke="#000" stroke-width="1.05"/>
<path d="M566.7 574.0L578.8 574.0M568.4 569.7L577.0 578.2M572.7 567.9L572.7 580.0M577.0 569.7L568.4 578.2" fill="none" stroke="#000" stroke-width="1.05"/>
<path d="M588.6 585.0L600.7 585.0M590.4 580.7L599.0 589.3M594.7 578.9L594.7 591.0M599.0 580.7L590.4 589.3" fill="none" stroke="#000" stroke-width="1.05"/>
<path d="M610.6 587.5L622.7 587.5M612.4 583.3L621.0 591.8M616.7 581.5L616.7 593.6M621.0 583.3L612.4 591.8" fill="none" stroke="#000" stroke-width="1.05"/>
<path d="M632.6 591.5L644.7 591.5M634.4 587.2L642.9 595.8M638.7 585.4L638.7 597.5M642.9 587.2L634.4 595.8" fill="none" stroke="#000" stroke-width="1.05"/>
<path d="M654.6 592.5L666.7 592.5M656.4 588.2L664.9 596.7M660.6 586.4L660.6 598.5M664.9 588.2L656.4 596.7" fill="none" stroke="#000" stroke-width="1.05"/>
<path d="M676.6 595.0L688.7 595.0M678.4 590.7L686.9 599.3M682.6 589.0L682.6 601.1M686.9 590.7L678.4 599.3" fill="none" stroke="#000" stroke-width="1.05"/>
<path d="M698.6 597.5L710.7 597.5M700.3 593.2L708.9 601.8M704.6 591.4L704.6 603.5M708.9 593.2L700.3 601.8" fill="none" stroke="#000" stroke-width="1.05"/>
<path d="M720.6 596.5L732.6 596.5M722.3 592.2L730.9 600.8M726.6 590.4L726.6 602.5M730.9 592.2L722.3 600.8" fill="none" stroke="#000" stroke-width="1.05"/>
<path d="M742.5 597.5L754.6 597.5M744.3 593.2L752.9 601.8M748.6 591.4L748.6 603.5M752.9 593.2L744.3 601.8" fill="none" stroke="#000" stroke-width="1.05"/>
<path d="M764.5 594.0L776.6 594.0M766.3 589.8L774.8 598.3M770.6 588.0L770.6 600.1M774.8 589.8L766.3 598.3" fill="none" stroke="#000" stroke-width="1.05"/>
<path d="M786.5 597.5L798.6 597.5M788.3 593.2L796.8 601.8M792.6 591.4L792.6 603.5M796.8 593.2L788.3 601.8" fill="none" stroke="#000" stroke-width="1.05"/>
<path d="M808.5 600.0L820.6 600.0M810.3 595.8L818.8 604.3M814.5 594.0L814.5 606.1M818.8 595.8L810.3 604.3" fill="none" stroke="#000" stroke-width="1.05"/>
<path d="M830.5 600.0L842.6 600.0M832.2 595.8L840.8 604.3M836.5 594.0L836.5 606.1M840.8 595.8L832.2 604.3" fill="none" stroke="#000" stroke-width="1.05"/>
<path d="M852.5 600.0L864.6 600.0M854.2 595.8L862.8 604.3M858.5 594.0L858.5 606.1M862.8 595.8L854.2 604.3" fill="none" stroke="#000" stroke-width="1.05"/>
<path d="M874.4 605.0L886.5 605.0M876.2 600.7L884.8 609.2M880.5 598.9L880.5 611.0M884.8 600.7L876.2 609.2" fill="none" stroke="#000" stroke-width="1.05"/>
<path d="M896.4 597.5L908.5 597.5M898.2 593.2L906.8 601.8M902.5 591.4L902.5 603.5M906.8 593.2L898.2 601.8" fill="none" stroke="#000" stroke-width="1.05"/>
<path d="M918.4 592.6L930.5 592.6M920.2 588.3L928.7 596.8M924.5 586.5L924.5 598.6M928.7 588.3L920.2 596.8" fill="none" stroke="#000" stroke-width="1.05"/>
<path d="M940.4 590.0L952.5 590.0M942.2 585.7L950.7 594.3M946.5 584.0L946.5 596.1M950.7 585.7L942.2 594.3" fill="none" stroke="#000" stroke-width="1.05"/>
<path d="M962.4 595.0L974.5 595.0M964.2 590.7L972.7 599.3M968.4 589.0L968.4 601.1M972.7 590.7L964.2 599.3" fill="none" stroke="#000" stroke-width="1.05"/>
<path d="M975.0 595.0L987.0 595.0M976.7 590.7L985.3 599.3M981.0 589.0L981.0 601.1M985.3 590.7L976.7 599.3" fill="none" stroke="#000" stroke-width="1.05"/>
</g>
<path d="M133 3H981M981 3V633" stroke="#000" stroke-width="2.4" fill="none"/>
<path d="M133 1.8V633H982.2" stroke="#000" stroke-width="2.6" fill="none"/>
<path d="M133.0 633v12.5M195.8 633v12.5M258.6 633v12.5M321.4 633v12.5M384.3 633v12.5M447.1 633v12.5M509.9 633v12.5M572.7 633v12.5M635.5 633v12.5M698.3 633v12.5M761.1 633v12.5M824.0 633v12.5M886.8 633v12.5M949.6 633v12.5M133 633.0h-12.5M133 534.6h-12.5M133 436.2h-12.5M133 337.9h-12.5M133 239.5h-12.5M133 141.1h-12.5M133 42.7h-12.5" stroke="#000" stroke-width="2.4" fill="none"/>
<g font-family="'Liberation Serif', 'Times New Roman', serif" font-size="29.5" fill="#000">
<text x="133.0" y="674.5" text-anchor="middle">380</text>
<text x="195.8" y="674.5" text-anchor="middle">400</text>
<text x="258.6" y="674.5" text-anchor="middle">420</text>
<text x="321.4" y="674.5" text-anchor="middle">440</text>
<text x="384.3" y="674.5" text-anchor="middle">460</text>
<text x="447.1" y="674.5" text-anchor="middle">480</text>
<text x="509.9" y="674.5" text-anchor="middle">500</text>
<text x="572.7" y="674.5" text-anchor="middle">520</text>
<text x="635.5" y="674.5" text-anchor="middle">540</text>
<text x="698.3" y="674.5" text-anchor="middle">560</text>
<text x="761.1" y="674.5" text-anchor="middle">580</text>
<text x="824.0" y="674.5" text-anchor="middle">600</text>
<text x="886.8" y="674.5" text-anchor="middle">620</text>
<text x="949.6" y="674.5" text-anchor="middle">640</text>
<text x="111" y="640.8" text-anchor="end">0</text>
<text x="111" y="542.4" text-anchor="end">1000</text>
<text x="111" y="444.0" text-anchor="end">2000</text>
<text x="111" y="345.7" text-anchor="end">3000</text>
<text x="111" y="247.3" text-anchor="end">4000</text>
<text x="111" y="148.9" text-anchor="end">5000</text>
<text x="111" y="50.5" text-anchor="end">6000</text>
</g>
<text x="433.5" y="725.7" font-family="'Liberation Serif', 'Times New Roman', serif" font-size="34" textLength="247" lengthAdjust="spacingAndGlyphs">Wavelength (nm)</text>
<text transform="translate(37.5 362.7) rotate(-90)" x="0" y="0" font-family="'Liberation Serif', 'Times New Roman', serif" font-size="35" textLength="90.7" lengthAdjust="spacingAndGlyphs">Counts</text>
<rect x="601.6" y="11.6" width="367.4" height="333.0" fill="#fff" stroke="#555" stroke-width="1.3"/>
<g fill="#000">
<rect x="638.0" y="28.5" width="8.0" height="8.0"/>
<circle cx="642.0" cy="69.1" r="4.7"/>
<path d="M642.0 100.0L647.3 109.2L636.7 109.2Z"/>
<path d="M642.0 148.0L647.3 138.8L636.7 138.8Z"/>
<path d="M642.0 173.1L647.8 178.9L642.0 184.7L636.2 178.9Z"/>
<polygon points="642.0,220.7 637.5,218.1 637.5,212.9 642.0,210.3 646.5,212.9 646.5,218.1"/>
<polygon points="642.0,245.9 643.5,250.1 647.9,250.2 644.4,252.9 645.6,257.1 642.0,254.6 638.4,257.1 639.6,252.9 636.1,250.2 640.5,250.1"/>
<polygon points="642.0,283.3 647.1,287.0 645.2,293.1 638.8,293.1 636.9,287.0"/>
<path d="M636.0 325.3L648.0 325.3M637.7 321.0L646.3 329.6M642.0 319.2L642.0 331.4M646.3 321.0L637.7 329.6" fill="none" stroke="#000" stroke-width="1.05"/>
</g>
<g font-family="'Liberation Serif', 'Times New Roman', serif" font-size="31" fill="#000" stroke="#000" stroke-width="0.3">
<text x="687.6" y="43.0" textLength="244" lengthAdjust="spacingAndGlyphs">PLA - 0 deg - 4m/s</text>
<text x="687.6" y="79.6" textLength="244" lengthAdjust="spacingAndGlyphs">PLA - 0 deg - 8m/s</text>
<text x="687.6" y="116.2" textLength="260" lengthAdjust="spacingAndGlyphs">PLA - 0 deg - 12m/s</text>
<text x="687.6" y="152.8" textLength="260" lengthAdjust="spacingAndGlyphs">PLA - 45 deg - 4m/s</text>
<text x="687.6" y="189.4" textLength="260" lengthAdjust="spacingAndGlyphs">PLA - 45 deg - 8m/s</text>
<text x="687.6" y="226.0" textLength="276" lengthAdjust="spacingAndGlyphs">PLA - 45 deg - 12m/s</text>
<text x="687.6" y="262.6" textLength="260" lengthAdjust="spacingAndGlyphs">PLA - 90 deg - 4m/s</text>
<text x="687.6" y="299.2" textLength="260" lengthAdjust="spacingAndGlyphs">PLA - 90 deg - 8m/s</text>
<text x="687.6" y="335.8" textLength="276" lengthAdjust="spacingAndGlyphs">PLA - 90 deg - 12m/s</text>
</g>
<clipPath id="cB"><rect x="1148.3" y="7.5" width="848.7" height="630.2"/></clipPath>
<g clip-path="url(#cB)" fill="#000">
<rect x="1144.3" y="383.5" width="8.0" height="8.0"/>
<rect x="1160.0" y="366.0" width="8.0" height="8.0"/>
<rect x="1175.7" y="324.5" width="8.0" height="8.0"/>
<rect x="1191.4" y="285.0" width="8.0" height="8.0"/>
<rect x="1207.1" y="240.5" width="8.0" height="8.0"/>
<rect x="1222.9" y="171.0" width="8.0" height="8.0"/>
<rect x="1238.6" y="101.0" width="8.0" height="8.0"/>
<rect x="1254.3" y="44.0" width="8.0" height="8.0"/>
<rect x="1270.0" y="32.0" width="8.0" height="8.0"/>
<rect x="1285.7" y="37.9" width="8.0" height="8.0"/>
<rect x="1301.4" y="34.0" width="8.0" height="8.0"/>
<rect x="1317.2" y="26.0" width="8.0" height="8.0"/>
<rect x="1332.9" y="44.0" width="8.0" height="8.0"/>
<rect x="1348.6" y="72.1" width="8.0" height="8.0"/>
<rect x="1364.3" y="100.0" width="8.0" height="8.0"/>
<rect x="1380.0" y="152.0" width="8.0" height="8.0"/>
<rect x="1395.7" y="185.5" width="8.0" height="8.0"/>
<rect x="1411.5" y="214.0" width="8.0" height="8.0"/>
<rect x="1427.2" y="241.5" width="8.0" height="8.0"/>
<rect x="1442.9" y="290.5" width="8.0" height="8.0"/>
<rect x="1458.6" y="325.4" width="8.0" height="8.0"/>
<rect x="1474.3" y="366.4" width="8.0" height="8.0"/>
<rect x="1490.0" y="394.0" width="8.0" height="8.0"/>
<rect x="1505.8" y="415.0" width="8.0" height="8.0"/>
<rect x="1521.5" y="442.0" width="8.0" height="8.0"/>
<rect x="1537.2" y="452.4" width="8.0" height="8.0"/>
<rect x="1552.9" y="435.0" width="8.0" height="8.0"/>
<rect x="1568.6" y="438.5" width="8.0" height="8.0"/>
<rect x="1584.3" y="487.5" width="8.0" height="8.0"/>
<rect x="1600.1" y="513.5" width="8.0" height="8.0"/>
<rect x="1615.8" y="523.0" width="8.0" height="8.0"/>
<rect x="1631.5" y="534.0" width="8.0" height="8.0"/>
<rect x="1647.2" y="540.9" width="8.0" height="8.0"/>
<rect x="1662.9" y="544.5" width="8.0" height="8.0"/>
<rect x="1678.6" y="552.5" width="8.0" height="8.0"/>
<rect x="1694.4" y="556.5" width="8.0" height="8.0"/>
<rect x="1710.1" y="561.0" width="8.0" height="8.0"/>
<rect x="1725.8" y="563.0" width="8.0" height="8.0"/>
<rect x="1741.5" y="572.0" width="8.0" height="8.0"/>
<rect x="1757.2" y="570.9" width="8.0" height="8.0"/>
<rect x="1772.9" y="573.5" width="8.0" height="8.0"/>
<rect x="1788.7" y="574.5" width="8.0" height="8.0"/>
<rect x="1804.4" y="577.5" width="8.0" height="8.0"/>
<rect x="1820.1" y="581.0" width="8.0" height="8.0"/>
<rect x="1835.8" y="585.9" width="8.0" height="8.0"/>
<rect x="1851.5" y="585.9" width="8.0" height="8.0"/>
<rect x="1867.2" y="591.0" width="8.0" height="8.0"/>
<rect x="1883.0" y="585.9" width="8.0" height="8.0"/>
<rect x="1898.7" y="583.5" width="8.0" height="8.0"/>
<rect x="1914.4" y="578.5" width="8.0" height="8.0"/>
<rect x="1930.1" y="572.0" width="8.0" height="8.0"/>
<rect x="1945.8" y="574.5" width="8.0" height="8.0"/>
<rect x="1961.5" y="577.5" width="8.0" height="8.0"/>
<rect x="1977.3" y="574.9" width="8.0" height="8.0"/>
<rect x="1993.0" y="577.5" width="8.0" height="8.0"/>
<polygon points="1148.3,332.7 1143.8,330.1 1143.8,324.9 1148.3,322.3 1152.8,324.9 1152.8,330.1"/>
<polygon points="1164.0,301.2 1159.5,298.6 1159.5,293.4 1164.0,290.9 1168.5,293.4 1168.5,298.6"/>
<polygon points="1179.7,252.7 1175.3,250.1 1175.3,244.9 1179.7,242.3 1184.2,244.9 1184.2,250.1"/>
<polygon points="1195.5,219.2 1191.0,216.6 1191.0,211.5 1195.5,208.9 1199.9,211.5 1199.9,216.6"/>
<polygon points="1211.2,190.3 1206.7,187.7 1206.7,182.5 1211.2,179.9 1215.6,182.5 1215.6,187.7"/>
<polygon points="1226.9,154.6 1222.4,152.1 1222.4,146.9 1226.9,144.3 1231.4,146.9 1231.4,152.1"/>
<polygon points="1242.6,141.1 1238.1,138.5 1238.1,133.4 1242.6,130.8 1247.1,133.4 1247.1,138.5"/>
<polygon points="1258.3,137.1 1253.8,134.5 1253.8,129.4 1258.3,126.8 1262.8,129.4 1262.8,134.5"/>
<polygon points="1274.0,142.2 1269.6,139.6 1269.6,134.4 1274.0,131.8 1278.5,134.4 1278.5,139.6"/>
<polygon points="1289.8,155.7 1285.3,153.1 1285.3,147.9 1289.8,145.3 1294.2,147.9 1294.2,153.1"/>
<polygon points="1305.5,161.6 1301.0,159.0 1301.0,153.9 1305.5,151.3 1309.9,153.9 1309.9,159.0"/>
<polygon points="1321.2,177.2 1316.7,174.6 1316.7,169.4 1321.2,166.9 1325.7,169.4 1325.7,174.6"/>
<polygon points="1336.9,187.2 1332.4,184.6 1332.4,179.4 1336.9,176.8 1341.4,179.4 1341.4,184.6"/>
<polygon points="1352.6,213.6 1348.1,211.0 1348.1,205.9 1352.6,203.3 1357.1,205.9 1357.1,211.0"/>
<polygon points="1368.3,214.2 1363.9,211.6 1363.9,206.4 1368.3,203.8 1372.8,206.4 1372.8,211.6"/>
<polygon points="1384.0,261.1 1379.6,258.5 1379.6,253.4 1384.0,250.8 1388.5,253.4 1388.5,258.5"/>
<polygon points="1399.8,290.7 1395.3,288.1 1395.3,282.9 1399.8,280.3 1404.2,282.9 1404.2,288.1"/>
<polygon points="1415.5,301.7 1411.0,299.1 1411.0,293.9 1415.5,291.3 1420.0,293.9 1420.0,299.1"/>
<polygon points="1431.2,319.2 1426.7,316.6 1426.7,311.4 1431.2,308.8 1435.7,311.4 1435.7,316.6"/>
<polygon points="1446.9,357.7 1442.4,355.1 1442.4,349.9 1446.9,347.3 1451.4,349.9 1451.4,355.1"/>
<polygon points="1462.6,385.7 1458.2,383.1 1458.2,377.9 1462.6,375.4 1467.1,377.9 1467.1,383.1"/>
<polygon points="1478.3,407.7 1473.9,405.1 1473.9,399.9 1478.3,397.3 1482.8,399.9 1482.8,405.1"/>
<polygon points="1494.1,430.7 1489.6,428.1 1489.6,422.9 1494.1,420.4 1498.5,422.9 1498.5,428.1"/>
<polygon points="1509.8,446.6 1505.3,444.0 1505.3,438.9 1509.8,436.3 1514.3,438.9 1514.3,444.0"/>
<polygon points="1525.5,466.7 1521.0,464.1 1521.0,458.9 1525.5,456.3 1530.0,458.9 1530.0,464.1"/>
<polygon points="1541.2,478.2 1536.7,475.6 1536.7,470.5 1541.2,467.9 1545.7,470.5 1545.7,475.6"/>
<polygon points="1556.9,480.2 1552.5,477.6 1552.5,472.4 1556.9,469.8 1561.4,472.4 1561.4,477.6"/>
<polygon points="1572.7,471.1 1568.2,468.5 1568.2,463.4 1572.7,460.8 1577.1,463.4 1577.1,468.5"/>
<polygon points="1588.4,530.2 1583.9,527.6 1583.9,522.4 1588.4,519.9 1592.8,522.4 1592.8,527.6"/>
<polygon points="1604.1,550.1 1599.6,547.5 1599.6,542.4 1604.1,539.8 1608.6,542.4 1608.6,547.5"/>
<polygon points="1619.8,555.2 1615.3,552.6 1615.3,547.4 1619.8,544.8 1624.3,547.4 1624.3,552.6"/>
<polygon points="1635.5,561.1 1631.0,558.5 1631.0,553.4 1635.5,550.8 1640.0,553.4 1640.0,558.5"/>
<polygon points="1651.2,565.1 1646.8,562.5 1646.8,557.4 1651.2,554.8 1655.7,557.4 1655.7,562.5"/>
<polygon points="1666.9,567.6 1662.5,565.1 1662.5,559.9 1666.9,557.3 1671.4,559.9 1671.4,565.1"/>
<polygon points="1682.7,570.2 1678.2,567.6 1678.2,562.4 1682.7,559.8 1687.1,562.4 1687.1,567.6"/>
<polygon points="1698.4,572.7 1693.9,570.1 1693.9,564.9 1698.4,562.3 1702.9,564.9 1702.9,570.1"/>
<polygon points="1714.1,575.2 1709.6,572.6 1709.6,567.4 1714.1,564.9 1718.6,567.4 1718.6,572.6"/>
<polygon points="1729.8,577.7 1725.3,575.1 1725.3,570.0 1729.8,567.4 1734.3,570.0 1734.3,575.1"/>
<polygon points="1745.5,580.1 1741.1,577.5 1741.1,572.4 1745.5,569.8 1750.0,572.4 1750.0,577.5"/>
<polygon points="1761.2,580.1 1756.8,577.5 1756.8,572.4 1761.2,569.8 1765.7,572.4 1765.7,577.5"/>
<polygon points="1777.0,585.2 1772.5,582.6 1772.5,577.4 1777.0,574.8 1781.4,577.4 1781.4,582.6"/>
<polygon points="1792.7,585.2 1788.2,582.6 1788.2,577.4 1792.7,574.8 1797.2,577.4 1797.2,582.6"/>
<polygon points="1808.4,590.2 1803.9,587.6 1803.9,582.4 1808.4,579.9 1812.9,582.4 1812.9,587.6"/>
<polygon points="1824.1,592.7 1819.6,590.1 1819.6,585.0 1824.1,582.4 1828.6,585.0 1828.6,590.1"/>
<polygon points="1839.8,595.1 1835.4,592.5 1835.4,587.4 1839.8,584.8 1844.3,587.4 1844.3,592.5"/>
<polygon points="1855.5,597.6 1851.1,595.1 1851.1,589.9 1855.5,587.3 1860.0,589.9 1860.0,595.1"/>
<polygon points="1871.3,600.2 1866.8,597.6 1866.8,592.4 1871.3,589.8 1875.7,592.4 1875.7,597.6"/>
<polygon points="1887.0,597.6 1882.5,595.1 1882.5,589.9 1887.0,587.3 1891.5,589.9 1891.5,595.1"/>
<polygon points="1902.7,592.7 1898.2,590.1 1898.2,585.0 1902.7,582.4 1907.2,585.0 1907.2,590.1"/>
<polygon points="1918.4,595.1 1913.9,592.5 1913.9,587.4 1918.4,584.8 1922.9,587.4 1922.9,592.5"/>
<polygon points="1934.1,590.2 1929.7,587.6 1929.7,582.4 1934.1,579.9 1938.6,582.4 1938.6,587.6"/>
<polygon points="1949.8,587.7 1945.4,585.1 1945.4,579.9 1949.8,577.3 1954.3,579.9 1954.3,585.1"/>
<polygon points="1965.6,585.2 1961.1,582.6 1961.1,577.4 1965.6,574.8 1970.0,577.4 1970.0,582.6"/>
<polygon points="1981.3,581.7 1976.8,579.1 1976.8,574.0 1981.3,571.4 1985.8,574.0 1985.8,579.1"/>
<polygon points="1997.0,587.7 1992.5,585.1 1992.5,579.9 1997.0,577.3 2001.5,579.9 2001.5,585.1"/>
<path d="M1148.3 514.3L1153.6 523.5L1143.0 523.5Z"/>
<path d="M1164.0 500.3L1169.3 509.6L1158.8 509.6Z"/>
<path d="M1179.7 484.3L1185.0 493.5L1174.5 493.5Z"/>
<path d="M1195.5 459.3L1200.7 468.6L1190.2 468.6Z"/>
<path d="M1211.2 451.8L1216.4 461.0L1205.9 461.0Z"/>
<path d="M1226.9 446.3L1232.1 455.5L1221.6 455.5Z"/>
<path d="M1242.6 438.2L1247.9 447.5L1237.3 447.5Z"/>
<path d="M1258.3 432.3L1263.6 441.6L1253.1 441.6Z"/>
<path d="M1274.0 433.3L1279.3 442.6L1268.8 442.6Z"/>
<path d="M1289.8 429.3L1295.0 438.6L1284.5 438.6Z"/>
<path d="M1305.5 435.3L1310.7 444.5L1300.2 444.5Z"/>
<path d="M1321.2 442.3L1326.4 451.5L1315.9 451.5Z"/>
<path d="M1336.9 446.8L1342.2 456.1L1331.6 456.1Z"/>
<path d="M1352.6 454.3L1357.9 463.5L1347.4 463.5Z"/>
<path d="M1368.3 464.2L1373.6 473.5L1363.1 473.5Z"/>
<path d="M1384.0 475.8L1389.3 485.1L1378.8 485.1Z"/>
<path d="M1399.8 486.8L1405.0 496.1L1394.5 496.1Z"/>
<path d="M1415.5 490.2L1420.7 499.5L1410.2 499.5Z"/>
<path d="M1431.2 495.7L1436.5 505.0L1425.9 505.0Z"/>
<path d="M1446.9 515.3L1452.2 524.6L1441.7 524.6Z"/>
<path d="M1462.6 522.7L1467.9 532.0L1457.4 532.0Z"/>
<path d="M1478.3 532.8L1483.6 542.1L1473.1 542.1Z"/>
<path d="M1494.1 542.8L1499.3 552.1L1488.8 552.1Z"/>
<path d="M1509.8 549.3L1515.0 558.6L1504.5 558.6Z"/>
<path d="M1525.5 559.3L1530.8 568.5L1520.2 568.5Z"/>
<path d="M1541.2 564.3L1546.5 573.6L1536.0 573.6Z"/>
<path d="M1556.9 553.3L1562.2 562.6L1551.7 562.6Z"/>
<path d="M1572.7 552.7L1577.9 562.0L1567.4 562.0Z"/>
<path d="M1588.4 574.7L1593.6 584.0L1583.1 584.0Z"/>
<path d="M1604.1 584.2L1609.3 593.5L1598.8 593.5Z"/>
<path d="M1619.8 588.2L1625.1 597.5L1614.5 597.5Z"/>
<path d="M1635.5 590.8L1640.8 600.0L1630.3 600.0Z"/>
<path d="M1651.2 592.2L1656.5 601.5L1646.0 601.5Z"/>
<path d="M1666.9 594.3L1672.2 603.6L1661.7 603.6Z"/>
<path d="M1682.7 596.8L1687.9 606.1L1677.4 606.1Z"/>
<path d="M1698.4 598.3L1703.6 607.6L1693.1 607.6Z"/>
<path d="M1714.1 599.2L1719.4 608.5L1708.8 608.5Z"/>
<path d="M1729.8 600.3L1735.1 609.5L1724.6 609.5Z"/>
<path d="M1745.5 601.8L1750.8 611.0L1740.3 611.0Z"/>
<path d="M1761.2 601.8L1766.5 611.0L1756.0 611.0Z"/>
<path d="M1777.0 603.2L1782.2 612.5L1771.7 612.5Z"/>
<path d="M1792.7 603.2L1797.9 612.5L1787.4 612.5Z"/>
<path d="M1808.4 604.3L1813.7 613.5L1803.1 613.5Z"/>
<path d="M1824.1 605.3L1829.4 614.6L1818.9 614.6Z"/>
<path d="M1839.8 606.3L1845.1 615.6L1834.6 615.6Z"/>
<path d="M1855.5 606.3L1860.8 615.6L1850.3 615.6Z"/>
<path d="M1871.3 607.2L1876.5 616.5L1866.0 616.5Z"/>
<path d="M1887.0 607.2L1892.2 616.5L1881.7 616.5Z"/>
<path d="M1902.7 605.3L1908.0 614.6L1897.4 614.6Z"/>
<path d="M1918.4 604.3L1923.7 613.5L1913.2 613.5Z"/>
<path d="M1934.1 601.8L1939.4 611.0L1928.9 611.0Z"/>
<path d="M1949.8 601.8L1955.1 611.0L1944.6 611.0Z"/>
<path d="M1965.6 603.2L1970.8 612.5L1960.3 612.5Z"/>
<path d="M1981.3 601.8L1986.5 611.0L1976.0 611.0Z"/>
<path d="M1997.0 601.8L2002.3 611.0L1991.7 611.0Z"/>
<path d="M1148.3 473.2L1153.6 463.9L1143.0 463.9Z"/>
<path d="M1164.0 443.2L1169.3 433.9L1158.8 433.9Z"/>
<path d="M1179.7 413.3L1185.0 404.0L1174.5 404.0Z"/>
<path d="M1195.5 394.7L1200.7 385.5L1190.2 385.5Z"/>
<path d="M1211.2 373.2L1216.4 363.9L1205.9 363.9Z"/>
<path d="M1226.9 360.7L1232.1 351.5L1221.6 351.5Z"/>
<path d="M1242.6 353.3L1247.9 344.0L1237.3 344.0Z"/>
<path d="M1258.3 349.7L1263.6 340.5L1253.1 340.5Z"/>
<path d="M1274.0 347.2L1279.3 337.9L1268.8 337.9Z"/>
<path d="M1289.8 345.7L1295.0 336.5L1284.5 336.5Z"/>
<path d="M1305.5 350.8L1310.7 341.5L1300.2 341.5Z"/>
<path d="M1321.2 364.7L1326.4 355.5L1315.9 355.5Z"/>
<path d="M1336.9 374.2L1342.2 365.0L1331.6 365.0Z"/>
<path d="M1352.6 385.7L1357.9 376.4L1347.4 376.4Z"/>
<path d="M1368.3 397.2L1373.6 388.0L1363.1 388.0Z"/>
<path d="M1384.0 414.8L1389.3 405.5L1378.8 405.5Z"/>
<path d="M1399.8 433.2L1405.0 423.9L1394.5 423.9Z"/>
<path d="M1415.5 442.2L1420.7 433.0L1410.2 433.0Z"/>
<path d="M1431.2 454.7L1436.5 445.5L1425.9 445.5Z"/>
<path d="M1446.9 480.7L1452.2 471.4L1441.7 471.4Z"/>
<path d="M1462.6 493.2L1467.9 483.9L1457.4 483.9Z"/>
<path d="M1478.3 507.2L1483.6 497.9L1473.1 497.9Z"/>
<path d="M1494.1 515.8L1499.3 506.5L1488.8 506.5Z"/>
<path d="M1509.8 530.8L1515.0 521.5L1504.5 521.5Z"/>
<path d="M1525.5 545.8L1530.8 536.5L1520.2 536.5Z"/>
<path d="M1541.2 552.2L1546.5 542.9L1536.0 542.9Z"/>
<path d="M1556.9 539.2L1562.2 530.0L1551.7 530.0Z"/>
<path d="M1572.7 537.2L1577.9 527.9L1567.4 527.9Z"/>
<path d="M1588.4 565.7L1593.6 556.4L1583.1 556.4Z"/>
<path d="M1604.1 577.2L1609.3 568.0L1598.8 568.0Z"/>
<path d="M1619.8 587.2L1625.1 577.9L1614.5 577.9Z"/>
<path d="M1635.5 593.3L1640.8 584.0L1630.3 584.0Z"/>
<path d="M1651.2 595.7L1656.5 586.4L1646.0 586.4Z"/>
<path d="M1666.9 598.2L1672.2 588.9L1661.7 588.9Z"/>
<path d="M1682.7 601.7L1687.9 592.5L1677.4 592.5Z"/>
<path d="M1698.4 604.7L1703.6 595.5L1693.1 595.5Z"/>
<path d="M1714.1 605.7L1719.4 596.5L1708.8 596.5Z"/>
<path d="M1729.8 608.3L1735.1 599.0L1724.6 599.0Z"/>
<path d="M1745.5 610.7L1750.8 601.4L1740.3 601.4Z"/>
<path d="M1761.2 611.7L1766.5 602.4L1756.0 602.4Z"/>
<path d="M1777.0 613.2L1782.2 603.9L1771.7 603.9Z"/>
<path d="M1792.7 615.7L1797.9 606.4L1787.4 606.4Z"/>
<path d="M1808.4 616.7L1813.7 607.5L1803.1 607.5Z"/>
<path d="M1824.1 618.2L1829.4 609.0L1818.9 609.0Z"/>
<path d="M1839.8 618.2L1845.1 609.0L1834.6 609.0Z"/>
<path d="M1855.5 619.7L1860.8 610.5L1850.3 610.5Z"/>
<path d="M1871.3 620.7L1876.5 611.5L1866.0 611.5Z"/>
<path d="M1887.0 620.7L1892.2 611.5L1881.7 611.5Z"/>
<path d="M1902.7 620.7L1908.0 611.5L1897.4 611.5Z"/>
<path d="M1918.4 619.7L1923.7 610.5L1913.2 610.5Z"/>
<path d="M1934.1 616.7L1939.4 607.5L1928.9 607.5Z"/>
<path d="M1949.8 618.2L1955.1 609.0L1944.6 609.0Z"/>
<path d="M1965.6 618.2L1970.8 609.0L1960.3 609.0Z"/>
<path d="M1981.3 618.2L1986.5 609.0L1976.0 609.0Z"/>
<path d="M1997.0 619.7L2002.3 610.5L1991.7 610.5Z"/>
<path d="M1148.3 554.1L1154.1 560.0L1148.3 565.8L1142.5 560.0Z"/>
<path d="M1164.0 540.6L1169.8 546.4L1164.0 552.3L1158.2 546.4Z"/>
<path d="M1179.7 526.2L1185.6 532.0L1179.7 537.8L1173.9 532.0Z"/>
<path d="M1195.5 517.7L1201.3 523.5L1195.5 529.4L1189.6 523.5Z"/>
<path d="M1211.2 508.2L1217.0 514.0L1211.2 519.9L1205.3 514.0Z"/>
<path d="M1226.9 500.7L1232.7 506.5L1226.9 512.3L1221.1 506.5Z"/>
<path d="M1242.6 502.7L1248.4 508.5L1242.6 514.4L1236.8 508.5Z"/>
<path d="M1258.3 498.1L1264.1 504.0L1258.3 509.8L1252.5 504.0Z"/>
<path d="M1274.0 497.7L1279.9 503.5L1274.0 509.3L1268.2 503.5Z"/>
<path d="M1289.8 499.2L1295.6 505.0L1289.8 510.8L1283.9 505.0Z"/>
<path d="M1305.5 504.2L1311.3 510.0L1305.5 515.9L1299.6 510.0Z"/>
<path d="M1321.2 511.6L1327.0 517.5L1321.2 523.3L1315.4 517.5Z"/>
<path d="M1336.9 513.1L1342.7 519.0L1336.9 524.8L1331.1 519.0Z"/>
<path d="M1352.6 520.1L1358.4 525.9L1352.6 531.8L1346.8 525.9Z"/>
<path d="M1368.3 520.1L1374.2 525.9L1368.3 531.8L1362.5 525.9Z"/>
<path d="M1384.0 528.1L1389.9 534.0L1384.0 539.8L1378.2 534.0Z"/>
<path d="M1399.8 535.1L1405.6 540.9L1399.8 546.8L1393.9 540.9Z"/>
<path d="M1415.5 541.2L1421.3 547.0L1415.5 552.8L1409.7 547.0Z"/>
<path d="M1431.2 543.1L1437.0 549.0L1431.2 554.8L1425.4 549.0Z"/>
<path d="M1446.9 550.1L1452.7 555.9L1446.9 561.8L1441.1 555.9Z"/>
<path d="M1462.6 562.7L1468.5 568.5L1462.6 574.4L1456.8 568.5Z"/>
<path d="M1478.3 570.2L1484.2 576.0L1478.3 581.8L1472.5 576.0Z"/>
<path d="M1494.1 572.7L1499.9 578.5L1494.1 584.3L1488.2 578.5Z"/>
<path d="M1509.8 578.2L1515.6 584.0L1509.8 589.8L1504.0 584.0Z"/>
<path d="M1525.5 583.2L1531.3 589.0L1525.5 594.9L1519.7 589.0Z"/>
<path d="M1541.2 587.7L1547.0 593.5L1541.2 599.3L1535.4 593.5Z"/>
<path d="M1556.9 584.1L1562.8 590.0L1556.9 595.8L1551.1 590.0Z"/>
<path d="M1572.7 582.2L1578.5 588.0L1572.7 593.8L1566.8 588.0Z"/>
<path d="M1588.4 591.7L1594.2 597.5L1588.4 603.3L1582.5 597.5Z"/>
<path d="M1604.1 601.6L1609.9 607.5L1604.1 613.3L1598.3 607.5Z"/>
<path d="M1619.8 602.2L1625.6 608.0L1619.8 613.9L1614.0 608.0Z"/>
<path d="M1635.5 604.2L1641.3 610.0L1635.5 615.8L1629.7 610.0Z"/>
<path d="M1651.2 605.2L1657.1 611.0L1651.2 616.9L1645.4 611.0Z"/>
<path d="M1666.9 607.1L1672.8 613.0L1666.9 618.8L1661.1 613.0Z"/>
<path d="M1682.7 609.2L1688.5 615.0L1682.7 620.9L1676.8 615.0Z"/>
<path d="M1698.4 609.2L1704.2 615.0L1698.4 620.9L1692.6 615.0Z"/>
<path d="M1714.1 610.1L1719.9 615.9L1714.1 621.8L1708.3 615.9Z"/>
<path d="M1729.8 611.7L1735.6 617.5L1729.8 623.4L1724.0 617.5Z"/>
<path d="M1745.5 613.2L1751.4 619.0L1745.5 624.9L1739.7 619.0Z"/>
<path d="M1761.2 613.2L1767.1 619.0L1761.2 624.9L1755.4 619.0Z"/>
<path d="M1777.0 614.1L1782.8 620.0L1777.0 625.8L1771.1 620.0Z"/>
<path d="M1792.7 616.6L1798.5 622.5L1792.7 628.3L1786.9 622.5Z"/>
<path d="M1808.4 616.6L1814.2 622.5L1808.4 628.3L1802.6 622.5Z"/>
<path d="M1824.1 616.6L1829.9 622.5L1824.1 628.3L1818.3 622.5Z"/>
<path d="M1839.8 616.6L1845.7 622.5L1839.8 628.3L1834.0 622.5Z"/>
<path d="M1855.5 616.6L1861.4 622.5L1855.5 628.3L1849.7 622.5Z"/>
<path d="M1871.3 616.6L1877.1 622.5L1871.3 628.3L1865.4 622.5Z"/>
<path d="M1887.0 619.2L1892.8 625.0L1887.0 630.8L1881.2 625.0Z"/>
<path d="M1902.7 616.6L1908.5 622.5L1902.7 628.3L1896.9 622.5Z"/>
<path d="M1918.4 616.6L1924.2 622.5L1918.4 628.3L1912.6 622.5Z"/>
<path d="M1934.1 616.6L1940.0 622.5L1934.1 628.3L1928.3 622.5Z"/>
<path d="M1949.8 614.1L1955.7 620.0L1949.8 625.8L1944.0 620.0Z"/>
<path d="M1965.6 614.1L1971.4 620.0L1965.6 625.8L1959.7 620.0Z"/>
<path d="M1981.3 614.1L1987.1 620.0L1981.3 625.8L1975.5 620.0Z"/>
<path d="M1997.0 614.1L2002.8 620.0L1997.0 625.8L1991.2 620.0Z"/>
<circle cx="1148.3" cy="452.6" r="4.7"/>
<circle cx="1164.0" cy="425.0" r="4.7"/>
<circle cx="1179.7" cy="402.5" r="4.7"/>
<circle cx="1195.5" cy="377.6" r="4.7"/>
<circle cx="1211.2" cy="367.5" r="4.7"/>
<circle cx="1226.9" cy="359.0" r="4.7"/>
<circle cx="1242.6" cy="339.0" r="4.7"/>
<circle cx="1258.3" cy="335.5" r="4.7"/>
<circle cx="1274.0" cy="340.0" r="4.7"/>
<circle cx="1289.8" cy="340.0" r="4.7"/>
<circle cx="1305.5" cy="352.5" r="4.7"/>
<circle cx="1321.2" cy="357.5" r="4.7"/>
<circle cx="1336.9" cy="366.4" r="4.7"/>
<circle cx="1352.6" cy="375.0" r="4.7"/>
<circle cx="1368.3" cy="375.0" r="4.7"/>
<circle cx="1384.0" cy="399.0" r="4.7"/>
<circle cx="1399.8" cy="414.0" r="4.7"/>
<circle cx="1415.5" cy="414.0" r="4.7"/>
<circle cx="1431.2" cy="430.0" r="4.7"/>
<circle cx="1446.9" cy="460.0" r="4.7"/>
<circle cx="1462.6" cy="477.5" r="4.7"/>
<circle cx="1478.3" cy="491.5" r="4.7"/>
<circle cx="1494.1" cy="505.0" r="4.7"/>
<circle cx="1509.8" cy="519.0" r="4.7"/>
<circle cx="1525.5" cy="529.0" r="4.7"/>
<circle cx="1541.2" cy="535.0" r="4.7"/>
<circle cx="1556.9" cy="531.4" r="4.7"/>
<circle cx="1572.7" cy="531.4" r="4.7"/>
<circle cx="1588.4" cy="560.0" r="4.7"/>
<circle cx="1604.1" cy="569.0" r="4.7"/>
<circle cx="1619.8" cy="574.0" r="4.7"/>
<circle cx="1635.5" cy="580.0" r="4.7"/>
<circle cx="1651.2" cy="582.5" r="4.7"/>
<circle cx="1666.9" cy="585.0" r="4.7"/>
<circle cx="1682.7" cy="587.5" r="4.7"/>
<circle cx="1698.4" cy="590.0" r="4.7"/>
<circle cx="1714.1" cy="592.5" r="4.7"/>
<circle cx="1729.8" cy="592.5" r="4.7"/>
<circle cx="1745.5" cy="595.0" r="4.7"/>
<circle cx="1761.2" cy="595.0" r="4.7"/>
<circle cx="1777.0" cy="597.5" r="4.7"/>
<circle cx="1792.7" cy="597.5" r="4.7"/>
<circle cx="1808.4" cy="600.0" r="4.7"/>
<circle cx="1824.1" cy="600.0" r="4.7"/>
<circle cx="1839.8" cy="602.5" r="4.7"/>
<circle cx="1855.5" cy="602.5" r="4.7"/>
<circle cx="1871.3" cy="604.0" r="4.7"/>
<circle cx="1887.0" cy="604.0" r="4.7"/>
<circle cx="1902.7" cy="600.0" r="4.7"/>
<circle cx="1918.4" cy="597.5" r="4.7"/>
<circle cx="1934.1" cy="592.5" r="4.7"/>
<circle cx="1949.8" cy="594.0" r="4.7"/>
<circle cx="1965.6" cy="592.5" r="4.7"/>
<circle cx="1981.3" cy="590.0" r="4.7"/>
<circle cx="1997.0" cy="590.0" r="4.7"/>
<polygon points="1148.3,476.4 1149.8,480.5 1154.2,480.6 1150.7,483.3 1151.9,487.5 1148.3,485.1 1144.7,487.5 1145.9,483.3 1142.4,480.6 1146.8,480.5"/>
<polygon points="1164.0,461.3 1165.5,465.4 1169.9,465.5 1166.4,468.2 1167.6,472.4 1164.0,470.0 1160.4,472.4 1161.6,468.2 1158.2,465.5 1162.5,465.4"/>
<polygon points="1179.7,437.3 1181.2,441.5 1185.6,441.6 1182.1,444.3 1183.4,448.5 1179.7,446.0 1176.1,448.5 1177.3,444.3 1173.9,441.6 1178.2,441.5"/>
<polygon points="1195.5,417.3 1196.9,421.4 1201.3,421.6 1197.9,424.3 1199.1,428.5 1195.5,426.0 1191.8,428.5 1193.0,424.3 1189.6,421.6 1194.0,421.4"/>
<polygon points="1211.2,407.3 1212.7,411.5 1217.0,411.6 1213.6,414.3 1214.8,418.5 1211.2,416.0 1207.5,418.5 1208.8,414.3 1205.3,411.6 1209.7,411.5"/>
<polygon points="1226.9,393.8 1228.4,398.0 1232.7,398.1 1229.3,400.8 1230.5,405.0 1226.9,402.5 1223.3,405.0 1224.5,400.8 1221.0,398.1 1225.4,398.0"/>
<polygon points="1242.6,381.4 1244.1,385.5 1248.5,385.6 1245.0,388.3 1246.2,392.5 1242.6,390.0 1239.0,392.5 1240.2,388.3 1236.7,385.6 1241.1,385.5"/>
<polygon points="1258.3,372.3 1259.8,376.4 1264.2,376.6 1260.7,379.3 1261.9,383.5 1258.3,381.0 1254.7,383.5 1255.9,379.3 1252.5,376.6 1256.8,376.4"/>
<polygon points="1274.0,366.4 1275.5,370.5 1279.9,370.6 1276.4,373.3 1277.7,377.5 1274.0,375.0 1270.4,377.5 1271.6,373.3 1268.2,370.6 1272.5,370.5"/>
<polygon points="1289.8,362.8 1291.2,366.9 1295.6,367.1 1292.2,369.8 1293.4,374.0 1289.8,371.5 1286.1,374.0 1287.3,369.8 1283.9,367.1 1288.3,366.9"/>
<polygon points="1305.5,364.9 1307.0,369.0 1311.3,369.1 1307.9,371.8 1309.1,376.0 1305.5,373.6 1301.8,376.0 1303.1,371.8 1299.6,369.1 1304.0,369.0"/>
<polygon points="1321.2,364.9 1322.7,369.0 1327.0,369.1 1323.6,371.8 1324.8,376.0 1321.2,373.6 1317.6,376.0 1318.8,371.8 1315.3,369.1 1319.7,369.0"/>
<polygon points="1336.9,372.3 1338.4,376.4 1342.8,376.6 1339.3,379.3 1340.5,383.5 1336.9,381.0 1333.3,383.5 1334.5,379.3 1331.0,376.6 1335.4,376.4"/>
<polygon points="1352.6,387.3 1354.1,391.4 1358.5,391.6 1355.0,394.3 1356.2,398.5 1352.6,396.0 1349.0,398.5 1350.2,394.3 1346.8,391.6 1351.1,391.4"/>
<polygon points="1368.3,393.8 1369.8,398.0 1374.2,398.1 1370.7,400.8 1372.0,405.0 1368.3,402.5 1364.7,405.0 1365.9,400.8 1362.5,398.1 1366.8,398.0"/>
<polygon points="1384.0,415.4 1385.5,419.5 1389.9,419.6 1386.5,422.3 1387.7,426.5 1384.0,424.1 1380.4,426.5 1381.6,422.3 1378.2,419.6 1382.6,419.5"/>
<polygon points="1399.8,427.4 1401.3,431.5 1405.6,431.6 1402.2,434.3 1403.4,438.5 1399.8,436.1 1396.1,438.5 1397.4,434.3 1393.9,431.6 1398.3,431.5"/>
<polygon points="1415.5,432.9 1417.0,437.0 1421.3,437.1 1417.9,439.8 1419.1,444.0 1415.5,441.6 1411.9,444.0 1413.1,439.8 1409.6,437.1 1414.0,437.0"/>
<polygon points="1431.2,446.4 1432.7,450.5 1437.1,450.6 1433.6,453.3 1434.8,457.5 1431.2,455.1 1427.6,457.5 1428.8,453.3 1425.3,450.6 1429.7,450.5"/>
<polygon points="1446.9,468.8 1448.4,472.9 1452.8,473.1 1449.3,475.8 1450.5,480.0 1446.9,477.5 1443.3,480.0 1444.5,475.8 1441.1,473.1 1445.4,472.9"/>
<polygon points="1462.6,485.3 1464.1,489.4 1468.5,489.6 1465.0,492.3 1466.3,496.5 1462.6,494.0 1459.0,496.5 1460.2,492.3 1456.8,489.6 1461.1,489.4"/>
<polygon points="1478.3,497.8 1479.8,501.9 1484.2,502.1 1480.8,504.7 1482.0,508.9 1478.3,506.5 1474.7,508.9 1475.9,504.7 1472.5,502.1 1476.9,501.9"/>
<polygon points="1494.1,508.8 1495.6,512.9 1499.9,513.1 1496.5,515.7 1497.7,519.9 1494.1,517.5 1490.4,519.9 1491.7,515.7 1488.2,513.1 1492.6,512.9"/>
<polygon points="1509.8,519.8 1511.3,523.9 1515.6,524.0 1512.2,526.7 1513.4,530.9 1509.8,528.5 1506.2,530.9 1507.4,526.7 1503.9,524.0 1508.3,523.9"/>
<polygon points="1525.5,533.9 1527.0,538.0 1531.4,538.1 1527.9,540.8 1529.1,545.0 1525.5,542.6 1521.9,545.0 1523.1,540.8 1519.6,538.1 1524.0,538.0"/>
<polygon points="1541.2,538.8 1542.7,542.9 1547.1,543.1 1543.6,545.7 1544.8,549.9 1541.2,547.5 1537.6,549.9 1538.8,545.7 1535.4,543.1 1539.7,542.9"/>
<polygon points="1556.9,525.3 1558.4,529.4 1562.8,529.5 1559.3,532.2 1560.6,536.4 1556.9,534.0 1553.3,536.4 1554.5,532.2 1551.1,529.5 1555.4,529.4"/>
<polygon points="1572.7,525.3 1574.1,529.4 1578.5,529.5 1575.1,532.2 1576.3,536.4 1572.7,534.0 1569.0,536.4 1570.2,532.2 1566.8,529.5 1571.2,529.4"/>
<polygon points="1588.4,553.8 1589.9,557.9 1594.2,558.1 1590.8,560.7 1592.0,564.9 1588.4,562.5 1584.7,564.9 1586.0,560.7 1582.5,558.1 1586.9,557.9"/>
<polygon points="1604.1,568.8 1605.6,572.9 1609.9,573.1 1606.5,575.7 1607.7,579.9 1604.1,577.5 1600.5,579.9 1601.7,575.7 1598.2,573.1 1602.6,572.9"/>
<polygon points="1619.8,574.9 1621.3,579.0 1625.7,579.1 1622.2,581.8 1623.4,586.0 1619.8,583.6 1616.2,586.0 1617.4,581.8 1613.9,579.1 1618.3,579.0"/>
<polygon points="1635.5,580.4 1637.0,584.5 1641.4,584.6 1637.9,587.3 1639.1,591.5 1635.5,589.0 1631.9,591.5 1633.1,587.3 1629.7,584.6 1634.0,584.5"/>
<polygon points="1651.2,583.8 1652.7,587.9 1657.1,588.0 1653.6,590.7 1654.9,594.9 1651.2,592.5 1647.6,594.9 1648.8,590.7 1645.4,588.0 1649.7,587.9"/>
<polygon points="1666.9,586.3 1668.4,590.4 1672.8,590.6 1669.4,593.3 1670.6,597.5 1666.9,595.0 1663.3,597.5 1664.5,593.3 1661.1,590.6 1665.5,590.4"/>
<polygon points="1682.7,588.8 1684.2,592.9 1688.5,593.1 1685.1,595.8 1686.3,600.0 1682.7,597.5 1679.0,600.0 1680.3,595.8 1676.8,593.1 1681.2,592.9"/>
<polygon points="1698.4,591.4 1699.9,595.5 1704.2,595.6 1700.8,598.3 1702.0,602.5 1698.4,600.0 1694.8,602.5 1696.0,598.3 1692.5,595.6 1696.9,595.5"/>
<polygon points="1714.1,593.9 1715.6,598.0 1720.0,598.1 1716.5,600.8 1717.7,605.0 1714.1,602.6 1710.5,605.0 1711.7,600.8 1708.2,598.1 1712.6,598.0"/>
<polygon points="1729.8,596.4 1731.3,600.5 1735.7,600.6 1732.2,603.3 1733.4,607.5 1729.8,605.1 1726.2,607.5 1727.4,603.3 1724.0,600.6 1728.3,600.5"/>
<polygon points="1745.5,596.4 1747.0,600.5 1751.4,600.6 1747.9,603.3 1749.2,607.5 1745.5,605.1 1741.9,607.5 1743.1,603.3 1739.7,600.6 1744.0,600.5"/>
<polygon points="1761.2,598.8 1762.7,602.9 1767.1,603.0 1763.7,605.7 1764.9,609.9 1761.2,607.5 1757.6,609.9 1758.8,605.7 1755.4,603.0 1759.8,602.9"/>
<polygon points="1777.0,598.8 1778.5,602.9 1782.8,603.0 1779.4,605.7 1780.6,609.9 1777.0,607.5 1773.3,609.9 1774.6,605.7 1771.1,603.0 1775.5,602.9"/>
<polygon points="1792.7,599.8 1794.2,603.9 1798.5,604.1 1795.1,606.8 1796.3,611.0 1792.7,608.5 1789.1,611.0 1790.3,606.8 1786.8,604.1 1791.2,603.9"/>
<polygon points="1808.4,601.3 1809.9,605.4 1814.3,605.6 1810.8,608.3 1812.0,612.5 1808.4,610.0 1804.8,612.5 1806.0,608.3 1802.5,605.6 1806.9,605.4"/>
<polygon points="1824.1,601.3 1825.6,605.4 1830.0,605.6 1826.5,608.3 1827.7,612.5 1824.1,610.0 1820.5,612.5 1821.7,608.3 1818.3,605.6 1822.6,605.4"/>
<polygon points="1839.8,602.8 1841.3,606.9 1845.7,607.1 1842.2,609.7 1843.5,613.9 1839.8,611.5 1836.2,613.9 1837.4,609.7 1834.0,607.1 1838.3,606.9"/>
<polygon points="1855.5,603.8 1857.0,607.9 1861.4,608.1 1858.0,610.8 1859.2,615.0 1855.5,612.5 1851.9,615.0 1853.1,610.8 1849.7,608.1 1854.1,607.9"/>
<polygon points="1871.3,604.9 1872.8,609.0 1877.1,609.1 1873.7,611.8 1874.9,616.0 1871.3,613.6 1867.6,616.0 1868.9,611.8 1865.4,609.1 1869.8,609.0"/>
<polygon points="1887.0,604.9 1888.5,609.0 1892.8,609.1 1889.4,611.8 1890.6,616.0 1887.0,613.6 1883.4,616.0 1884.6,611.8 1881.1,609.1 1885.5,609.0"/>
<polygon points="1902.7,603.8 1904.2,607.9 1908.6,608.1 1905.1,610.8 1906.3,615.0 1902.7,612.5 1899.1,615.0 1900.3,610.8 1896.8,608.1 1901.2,607.9"/>
<polygon points="1918.4,601.3 1919.9,605.4 1924.3,605.6 1920.8,608.3 1922.0,612.5 1918.4,610.0 1914.8,612.5 1916.0,608.3 1912.6,605.6 1916.9,605.4"/>
<polygon points="1934.1,596.4 1935.6,600.5 1940.0,600.6 1936.5,603.3 1937.8,607.5 1934.1,605.1 1930.5,607.5 1931.7,603.3 1928.3,600.6 1932.6,600.5"/>
<polygon points="1949.8,597.9 1951.3,602.0 1955.7,602.1 1952.3,604.8 1953.5,609.0 1949.8,606.6 1946.2,609.0 1947.4,604.8 1944.0,602.1 1948.4,602.0"/>
<polygon points="1965.6,596.4 1967.1,600.5 1971.4,600.6 1968.0,603.3 1969.2,607.5 1965.6,605.1 1961.9,607.5 1963.2,603.3 1959.7,600.6 1964.1,600.5"/>
<polygon points="1981.3,596.4 1982.8,600.5 1987.1,600.6 1983.7,603.3 1984.9,607.5 1981.3,605.1 1977.7,607.5 1978.9,603.3 1975.4,600.6 1979.8,600.5"/>
<polygon points="1997.0,596.4 1998.5,600.5 2002.9,600.6 1999.4,603.3 2000.6,607.5 1997.0,605.1 1993.4,607.5 1994.6,603.3 1991.1,600.6 1995.5,600.5"/>
<polygon points="1148.3,399.6 1153.4,403.4 1151.5,409.4 1145.1,409.4 1143.2,403.4"/>
<polygon points="1164.0,372.4 1169.1,376.1 1167.2,382.1 1160.8,382.1 1158.9,376.1"/>
<polygon points="1179.7,338.6 1184.9,342.3 1182.9,348.4 1176.6,348.4 1174.6,342.3"/>
<polygon points="1195.5,313.7 1200.6,317.4 1198.6,323.4 1192.3,323.4 1190.3,317.4"/>
<polygon points="1211.2,303.1 1216.3,306.8 1214.3,312.9 1208.0,312.9 1206.0,306.8"/>
<polygon points="1226.9,289.6 1232.0,293.3 1230.1,299.4 1223.7,299.4 1221.8,293.3"/>
<polygon points="1242.6,278.6 1247.7,282.3 1245.8,288.4 1239.4,288.4 1237.5,282.3"/>
<polygon points="1258.3,266.1 1263.4,269.9 1261.5,275.9 1255.1,275.9 1253.2,269.9"/>
<polygon points="1274.0,265.1 1279.2,268.8 1277.2,274.9 1270.9,274.9 1268.9,268.8"/>
<polygon points="1289.8,277.6 1294.9,281.3 1292.9,287.3 1286.6,287.3 1284.6,281.3"/>
<polygon points="1305.5,286.1 1310.6,289.8 1308.6,295.8 1302.3,295.8 1300.3,289.8"/>
<polygon points="1321.2,294.6 1326.3,298.4 1324.4,304.4 1318.0,304.4 1316.1,298.4"/>
<polygon points="1336.9,302.1 1342.0,305.8 1340.1,311.8 1333.7,311.8 1331.8,305.8"/>
<polygon points="1352.6,319.6 1357.7,323.3 1355.8,329.4 1349.4,329.4 1347.5,323.3"/>
<polygon points="1368.3,324.6 1373.5,328.4 1371.5,334.4 1365.2,334.4 1363.2,328.4"/>
<polygon points="1384.0,342.6 1389.2,346.3 1387.2,352.4 1380.9,352.4 1378.9,346.3"/>
<polygon points="1399.8,360.1 1404.9,363.9 1402.9,369.9 1396.6,369.9 1394.6,363.9"/>
<polygon points="1415.5,368.6 1420.6,372.3 1418.7,378.4 1412.3,378.4 1410.4,372.3"/>
<polygon points="1431.2,380.1 1436.3,383.8 1434.4,389.8 1428.0,389.8 1426.1,383.8"/>
<polygon points="1446.9,411.1 1452.0,414.8 1450.1,420.8 1443.7,420.8 1441.8,414.8"/>
<polygon points="1462.6,431.1 1467.8,434.9 1465.8,440.9 1459.5,440.9 1457.5,434.9"/>
<polygon points="1478.3,453.1 1483.5,456.8 1481.5,462.9 1475.2,462.9 1473.2,456.8"/>
<polygon points="1494.1,467.1 1499.2,470.8 1497.2,476.8 1490.9,476.8 1488.9,470.8"/>
<polygon points="1509.8,483.1 1514.9,486.8 1513.0,492.9 1506.6,492.9 1504.7,486.8"/>
<polygon points="1525.5,503.6 1530.6,507.3 1528.7,513.4 1522.3,513.4 1520.4,507.3"/>
<polygon points="1541.2,501.1 1546.3,504.8 1544.4,510.8 1538.0,510.8 1536.1,504.8"/>
<polygon points="1556.9,504.6 1562.1,508.4 1560.1,514.4 1553.8,514.4 1551.8,508.4"/>
<polygon points="1572.7,526.1 1577.8,529.8 1575.8,535.8 1569.5,535.8 1567.5,529.8"/>
<polygon points="1588.4,502.1 1593.5,505.8 1591.5,511.9 1585.2,511.9 1583.2,505.8"/>
<polygon points="1604.1,537.2 1609.2,540.9 1607.3,546.9 1600.9,546.9 1599.0,540.9"/>
<polygon points="1619.8,539.6 1624.9,543.3 1623.0,549.3 1616.6,549.3 1614.7,543.3"/>
<polygon points="1635.5,552.2 1640.6,555.9 1638.7,561.9 1632.3,561.9 1630.4,555.9"/>
<polygon points="1651.2,555.6 1656.4,559.3 1654.4,565.3 1648.1,565.3 1646.1,559.3"/>
<polygon points="1666.9,559.6 1672.1,563.3 1670.1,569.4 1663.8,569.4 1661.8,563.3"/>
<polygon points="1682.7,564.6 1687.8,568.4 1685.8,574.4 1679.5,574.4 1677.5,568.4"/>
<polygon points="1698.4,565.6 1703.5,569.3 1701.6,575.3 1695.2,575.3 1693.3,569.3"/>
<polygon points="1714.1,572.1 1719.2,575.8 1717.3,581.8 1710.9,581.8 1709.0,575.8"/>
<polygon points="1729.8,574.6 1734.9,578.3 1733.0,584.4 1726.6,584.4 1724.7,578.3"/>
<polygon points="1745.5,577.1 1750.7,580.8 1748.7,586.9 1742.4,586.9 1740.4,580.8"/>
<polygon points="1761.2,575.6 1766.4,579.4 1764.4,585.4 1758.1,585.4 1756.1,579.4"/>
<polygon points="1777.0,577.1 1782.1,580.8 1780.1,586.9 1773.8,586.9 1771.8,580.8"/>
<polygon points="1792.7,579.6 1797.8,583.4 1795.9,589.4 1789.5,589.4 1787.6,583.4"/>
<polygon points="1808.4,580.6 1813.5,584.3 1811.6,590.3 1805.2,590.3 1803.3,584.3"/>
<polygon points="1824.1,582.2 1829.2,585.9 1827.3,591.9 1820.9,591.9 1819.0,585.9"/>
<polygon points="1839.8,584.6 1845.0,588.3 1843.0,594.3 1836.7,594.3 1834.7,588.3"/>
<polygon points="1855.5,586.2 1860.7,589.9 1858.7,595.9 1852.4,595.9 1850.4,589.9"/>
<polygon points="1871.3,587.1 1876.4,590.8 1874.4,596.8 1868.1,596.8 1866.1,590.8"/>
<polygon points="1887.0,584.6 1892.1,588.3 1890.2,594.3 1883.8,594.3 1881.9,588.3"/>
<polygon points="1902.7,579.6 1907.8,583.4 1905.9,589.4 1899.5,589.4 1897.6,583.4"/>
<polygon points="1918.4,577.1 1923.5,580.8 1921.6,586.9 1915.2,586.9 1913.3,580.8"/>
<polygon points="1934.1,574.6 1939.3,578.3 1937.3,584.4 1931.0,584.4 1929.0,578.3"/>
<polygon points="1949.8,574.6 1955.0,578.3 1953.0,584.4 1946.7,584.4 1944.7,578.3"/>
<polygon points="1965.6,574.6 1970.7,578.3 1968.7,584.4 1962.4,584.4 1960.4,578.3"/>
<polygon points="1981.3,569.6 1986.4,573.3 1984.5,579.3 1978.1,579.3 1976.2,573.3"/>
<polygon points="1997.0,574.6 2002.1,578.3 2000.2,584.4 1993.8,584.4 1991.9,578.3"/>
<path d="M1142.2 402.5L1154.3 402.5M1144.0 398.2L1152.6 406.8M1148.3 396.5L1148.3 408.6M1152.6 398.2L1144.0 406.8" fill="none" stroke="#000" stroke-width="1.05"/>
<path d="M1158.0 386.5L1170.1 386.5M1159.7 382.2L1168.3 390.8M1164.0 380.4L1164.0 392.5M1168.3 382.2L1159.7 390.8" fill="none" stroke="#000" stroke-width="1.05"/>
<path d="M1173.7 357.5L1185.8 357.5M1175.5 353.2L1184.0 361.8M1179.7 351.5L1179.7 363.6M1184.0 353.2L1175.5 361.8" fill="none" stroke="#000" stroke-width="1.05"/>
<path d="M1189.4 326.0L1201.5 326.0M1191.2 321.8L1199.7 330.3M1195.5 320.0L1195.5 332.1M1199.7 321.8L1191.2 330.3" fill="none" stroke="#000" stroke-width="1.05"/>
<path d="M1205.1 326.0L1217.2 326.0M1206.9 321.8L1215.4 330.3M1211.2 320.0L1211.2 332.1M1215.4 321.8L1206.9 330.3" fill="none" stroke="#000" stroke-width="1.05"/>
<path d="M1220.8 311.0L1232.9 311.0M1222.6 306.8L1231.2 315.3M1226.9 305.0L1226.9 317.1M1231.2 306.8L1222.6 315.3" fill="none" stroke="#000" stroke-width="1.05"/>
<path d="M1236.5 286.5L1248.6 286.5M1238.3 282.3L1246.9 290.8M1242.6 280.5L1242.6 292.6M1246.9 282.3L1238.3 290.8" fill="none" stroke="#000" stroke-width="1.05"/>
<path d="M1252.3 280.5L1264.4 280.5M1254.0 276.2L1262.6 284.7M1258.3 274.4L1258.3 286.5M1262.6 276.2L1254.0 284.7" fill="none" stroke="#000" stroke-width="1.05"/>
<path d="M1268.0 283.0L1280.1 283.0M1269.8 278.7L1278.3 287.3M1274.0 276.9L1274.0 289.0M1278.3 278.7L1269.8 287.3" fill="none" stroke="#000" stroke-width="1.05"/>
<path d="M1283.7 276.5L1295.8 276.5M1285.5 272.2L1294.0 280.7M1289.8 270.4L1289.8 282.5M1294.0 272.2L1285.5 280.7" fill="none" stroke="#000" stroke-width="1.05"/>
<path d="M1299.4 287.4L1311.5 287.4M1301.2 283.2L1309.7 291.7M1305.5 281.4L1305.5 293.5M1309.7 283.2L1301.2 291.7" fill="none" stroke="#000" stroke-width="1.05"/>
<path d="M1315.1 300.0L1327.2 300.0M1316.9 295.8L1325.5 304.3M1321.2 294.0L1321.2 306.1M1325.5 295.8L1316.9 304.3" fill="none" stroke="#000" stroke-width="1.05"/>
<path d="M1330.8 302.4L1342.9 302.4M1332.6 298.2L1341.2 306.7M1336.9 296.4L1336.9 308.5M1341.2 298.2L1332.6 306.7" fill="none" stroke="#000" stroke-width="1.05"/>
<path d="M1346.6 319.0L1358.7 319.0M1348.3 314.8L1356.9 323.3M1352.6 313.0L1352.6 325.1M1356.9 314.8L1348.3 323.3" fill="none" stroke="#000" stroke-width="1.05"/>
<path d="M1362.3 319.0L1374.4 319.0M1364.1 314.8L1372.6 323.3M1368.3 313.0L1368.3 325.1M1372.6 314.8L1364.1 323.3" fill="none" stroke="#000" stroke-width="1.05"/>
<path d="M1378.0 352.9L1390.1 352.9M1379.8 348.7L1388.3 357.2M1384.0 346.9L1384.0 359.0M1388.3 348.7L1379.8 357.2" fill="none" stroke="#000" stroke-width="1.05"/>
<path d="M1393.7 376.0L1405.8 376.0M1395.5 371.7L1404.0 380.2M1399.8 369.9L1399.8 382.0M1404.0 371.7L1395.5 380.2" fill="none" stroke="#000" stroke-width="1.05"/>
<path d="M1409.4 375.0L1421.5 375.0M1411.2 370.8L1419.8 379.3M1415.5 369.0L1415.5 381.1M1419.8 370.8L1411.2 379.3" fill="none" stroke="#000" stroke-width="1.05"/>
<path d="M1425.1 389.9L1437.2 389.9M1426.9 385.6L1435.5 394.2M1431.2 383.9L1431.2 396.0M1435.5 385.6L1426.9 394.2" fill="none" stroke="#000" stroke-width="1.05"/>
<path d="M1440.9 424.0L1453.0 424.0M1442.6 419.8L1451.2 428.3M1446.9 418.0L1446.9 430.1M1451.2 419.8L1442.6 428.3" fill="none" stroke="#000" stroke-width="1.05"/>
<path d="M1456.6 443.5L1468.7 443.5M1458.4 439.2L1466.9 447.8M1462.6 437.5L1462.6 449.6M1466.9 439.2L1458.4 447.8" fill="none" stroke="#000" stroke-width="1.05"/>
<path d="M1472.3 461.0L1484.4 461.0M1474.1 456.7L1482.6 465.3M1478.3 455.0L1478.3 467.1M1482.6 456.7L1474.1 465.3" fill="none" stroke="#000" stroke-width="1.05"/>
<path d="M1488.0 472.5L1500.1 472.5M1489.8 468.2L1498.3 476.8M1494.1 466.4L1494.1 478.5M1498.3 468.2L1489.8 476.8" fill="none" stroke="#000" stroke-width="1.05"/>
<path d="M1503.7 485.0L1515.8 485.0M1505.5 480.7L1514.1 489.2M1509.8 478.9L1509.8 491.0M1514.1 480.7L1505.5 489.2" fill="none" stroke="#000" stroke-width="1.05"/>
<path d="M1519.5 499.0L1531.5 499.0M1521.2 494.8L1529.8 503.3M1525.5 493.0L1525.5 505.1M1529.8 494.8L1521.2 503.3" fill="none" stroke="#000" stroke-width="1.05"/>
<path d="M1535.2 507.5L1547.3 507.5M1536.9 503.2L1545.5 511.8M1541.2 501.5L1541.2 513.6M1545.5 503.2L1536.9 511.8" fill="none" stroke="#000" stroke-width="1.05"/>
<path d="M1550.9 486.0L1563.0 486.0M1552.7 481.7L1561.2 490.3M1556.9 479.9L1556.9 492.0M1561.2 481.7L1552.7 490.3" fill="none" stroke="#000" stroke-width="1.05"/>
<path d="M1566.6 482.6L1578.7 482.6M1568.4 478.3L1576.9 486.8M1572.7 476.5L1572.7 488.6M1576.9 478.3L1568.4 486.8" fill="none" stroke="#000" stroke-width="1.05"/>
<path d="M1582.3 529.0L1594.4 529.0M1584.1 524.8L1592.6 533.3M1588.4 523.0L1588.4 535.1M1592.6 524.8L1584.1 533.3" fill="none" stroke="#000" stroke-width="1.05"/>
<path d="M1598.0 545.0L1610.1 545.0M1599.8 540.7L1608.4 549.2M1604.1 538.9L1604.1 551.0M1608.4 540.7L1599.8 549.2" fill="none" stroke="#000" stroke-width="1.05"/>
<path d="M1613.8 553.5L1625.8 553.5M1615.5 549.3L1624.1 557.8M1619.8 547.5L1619.8 559.6M1624.1 549.3L1615.5 557.8" fill="none" stroke="#000" stroke-width="1.05"/>
<path d="M1629.5 561.0L1641.6 561.0M1631.2 556.7L1639.8 565.3M1635.5 554.9L1635.5 567.0M1639.8 556.7L1631.2 565.3" fill="none" stroke="#000" stroke-width="1.05"/>
<path d="M1645.2 562.5L1657.3 562.5M1647.0 558.2L1655.5 566.8M1651.2 556.4L1651.2 568.5M1655.5 558.2L1647.0 566.8" fill="none" stroke="#000" stroke-width="1.05"/>
<path d="M1660.9 567.5L1673.0 567.5M1662.7 563.2L1671.2 571.8M1666.9 561.5L1666.9 573.6M1671.2 563.2L1662.7 571.8" fill="none" stroke="#000" stroke-width="1.05"/>
<path d="M1676.6 569.0L1688.7 569.0M1678.4 564.7L1686.9 573.3M1682.7 563.0L1682.7 575.0M1686.9 564.7L1678.4 573.3" fill="none" stroke="#000" stroke-width="1.05"/>
<path d="M1692.3 572.5L1704.4 572.5M1694.1 568.3L1702.7 576.8M1698.4 566.5L1698.4 578.6M1702.7 568.3L1694.1 576.8" fill="none" stroke="#000" stroke-width="1.05"/>
<path d="M1708.0 575.0L1720.1 575.0M1709.8 570.7L1718.4 579.2M1714.1 568.9L1714.1 581.0M1718.4 570.7L1709.8 579.2" fill="none" stroke="#000" stroke-width="1.05"/>
<path d="M1723.8 577.5L1735.9 577.5M1725.5 573.2L1734.1 581.8M1729.8 571.4L1729.8 583.5M1734.1 573.2L1725.5 581.8" fill="none" stroke="#000" stroke-width="1.05"/>
<path d="M1739.5 580.0L1751.6 580.0M1741.3 575.7L1749.8 584.3M1745.5 573.9L1745.5 586.0M1749.8 575.7L1741.3 584.3" fill="none" stroke="#000" stroke-width="1.05"/>
<path d="M1755.2 587.5L1767.3 587.5M1757.0 583.3L1765.5 591.8M1761.2 581.5L1761.2 593.6M1765.5 583.3L1757.0 591.8" fill="none" stroke="#000" stroke-width="1.05"/>
<path d="M1770.9 587.5L1783.0 587.5M1772.7 583.3L1781.2 591.8M1777.0 581.5L1777.0 593.6M1781.2 583.3L1772.7 591.8" fill="none" stroke="#000" stroke-width="1.05"/>
<path d="M1786.6 585.9L1798.7 585.9M1788.4 581.7L1797.0 590.2M1792.7 579.9L1792.7 592.0M1797.0 581.7L1788.4 590.2" fill="none" stroke="#000" stroke-width="1.05"/>
<path d="M1802.4 590.0L1814.5 590.0M1804.1 585.7L1812.7 594.2M1808.4 583.9L1808.4 596.0M1812.7 585.7L1804.1 594.2" fill="none" stroke="#000" stroke-width="1.05"/>
<path d="M1818.1 590.0L1830.2 590.0M1819.8 585.7L1828.4 594.2M1824.1 583.9L1824.1 596.0M1828.4 585.7L1819.8 594.2" fill="none" stroke="#000" stroke-width="1.05"/>
<path d="M1833.8 595.0L1845.9 595.0M1835.6 590.7L1844.1 599.3M1839.8 588.9L1839.8 601.0M1844.1 590.7L1835.6 599.3" fill="none" stroke="#000" stroke-width="1.05"/>
<path d="M1849.5 596.0L1861.6 596.0M1851.3 591.7L1859.8 600.3M1855.5 590.0L1855.5 602.1M1859.8 591.7L1851.3 600.3" fill="none" stroke="#000" stroke-width="1.05"/>
<path d="M1865.2 600.0L1877.3 600.0M1867.0 595.8L1875.5 604.3M1871.3 594.0L1871.3 606.1M1875.5 595.8L1867.0 604.3" fill="none" stroke="#000" stroke-width="1.05"/>
<path d="M1880.9 597.5L1893.0 597.5M1882.7 593.2L1891.3 601.8M1887.0 591.5L1887.0 603.6M1891.3 593.2L1882.7 601.8" fill="none" stroke="#000" stroke-width="1.05"/>
<path d="M1896.6 595.0L1908.7 595.0M1898.4 590.7L1907.0 599.3M1902.7 588.9L1902.7 601.0M1907.0 590.7L1898.4 599.3" fill="none" stroke="#000" stroke-width="1.05"/>
<path d="M1912.4 592.5L1924.5 592.5M1914.1 588.2L1922.7 596.8M1918.4 586.4L1918.4 598.5M1922.7 588.2L1914.1 596.8" fill="none" stroke="#000" stroke-width="1.05"/>
<path d="M1928.1 590.0L1940.2 590.0M1929.9 585.7L1938.4 594.2M1934.1 583.9L1934.1 596.0M1938.4 585.7L1929.9 594.2" fill="none" stroke="#000" stroke-width="1.05"/>
<path d="M1943.8 591.6L1955.9 591.6M1945.6 587.3L1954.1 595.8M1949.8 585.5L1949.8 597.6M1954.1 587.3L1945.6 595.8" fill="none" stroke="#000" stroke-width="1.05"/>
<path d="M1959.5 587.5L1971.6 587.5M1961.3 583.3L1969.8 591.8M1965.6 581.5L1965.6 593.6M1969.8 583.3L1961.3 591.8" fill="none" stroke="#000" stroke-width="1.05"/>
<path d="M1975.2 587.5L1987.3 587.5M1977.0 583.3L1985.6 591.8M1981.3 581.5L1981.3 593.6M1985.6 583.3L1977.0 591.8" fill="none" stroke="#000" stroke-width="1.05"/>
<path d="M1991.0 590.0L2003.0 590.0M1992.7 585.7L2001.3 594.2M1997.0 583.9L1997.0 596.0M2001.3 585.7L1992.7 594.2" fill="none" stroke="#000" stroke-width="1.05"/>
</g>
<path d="M1148.3 7.5H1997.0M1997.0 7.5V637.7" stroke="#000" stroke-width="2.4" fill="none"/>
<path d="M1148.3 6.3V637.7H1998.2" stroke="#000" stroke-width="2.6" fill="none"/>
<path d="M1148.3 637.7v13.5M1211.2 637.7v13.5M1274.0 637.7v13.5M1336.9 637.7v13.5M1399.8 637.7v13.5M1462.6 637.7v13.5M1525.5 637.7v13.5M1588.4 637.7v13.5M1651.2 637.7v13.5M1714.1 637.7v13.5M1777.0 637.7v13.5M1839.8 637.7v13.5M1902.7 637.7v13.5M1965.6 637.7v13.5M1148.3 637.7h-13.5M1148.3 523.2h-13.5M1148.3 408.7h-13.5M1148.3 294.2h-13.5M1148.3 179.7h-13.5M1148.3 65.2h-13.5" stroke="#000" stroke-width="2.4" fill="none"/>
<g font-family="'Liberation Serif', 'Times New Roman', serif" font-size="30" fill="#000">
<text x="1148.3" y="679.8" text-anchor="middle">380</text>
<text x="1211.2" y="679.8" text-anchor="middle">400</text>
<text x="1274.0" y="679.8" text-anchor="middle">420</text>
<text x="1336.9" y="679.8" text-anchor="middle">440</text>
<text x="1399.8" y="679.8" text-anchor="middle">460</text>
<text x="1462.6" y="679.8" text-anchor="middle">480</text>
<text x="1525.5" y="679.8" text-anchor="middle">500</text>
<text x="1588.4" y="679.8" text-anchor="middle">520</text>
<text x="1651.2" y="679.8" text-anchor="middle">540</text>
<text x="1714.1" y="679.8" text-anchor="middle">560</text>
<text x="1777.0" y="679.8" text-anchor="middle">580</text>
<text x="1839.8" y="679.8" text-anchor="middle">600</text>
<text x="1902.7" y="679.8" text-anchor="middle">620</text>
<text x="1965.6" y="679.8" text-anchor="middle">640</text>
<text x="1127" y="646.2" text-anchor="end">0</text>
<text x="1127" y="531.7" text-anchor="end">1000</text>
<text x="1127" y="417.2" text-anchor="end">2000</text>
<text x="1127" y="302.7" text-anchor="end">3000</text>
<text x="1127" y="188.2" text-anchor="end">4000</text>
<text x="1127" y="73.7" text-anchor="end">5000</text>
</g>
<text x="1450" y="731" font-family="'Liberation Serif', 'Times New Roman', serif" font-size="34" textLength="246" lengthAdjust="spacingAndGlyphs">Wavelength (nm)</text>
<text transform="translate(1053 367) rotate(-90)" x="0" y="0" font-family="'Liberation Serif', 'Times New Roman', serif" font-size="35" textLength="90" lengthAdjust="spacingAndGlyphs">Counts</text>
<rect x="1575.5" y="22.5" width="406.0" height="333.5" fill="#fff" stroke="#555" stroke-width="1.3"/>
<g fill="#000">
<rect x="1612.5" y="40.0" width="8.0" height="8.0"/>
<circle cx="1616.5" cy="80.4" r="4.7"/>
<path d="M1616.5 111.2L1621.8 120.4L1611.2 120.4Z"/>
<path d="M1616.5 159.0L1621.8 149.8L1611.2 149.8Z"/>
<path d="M1616.5 183.9L1622.3 189.8L1616.5 195.6L1610.7 189.8Z"/>
<polygon points="1616.5,231.4 1612.0,228.8 1612.0,223.6 1616.5,221.0 1621.0,223.6 1621.0,228.8"/>
<polygon points="1616.5,256.5 1618.0,260.6 1622.4,260.7 1618.9,263.4 1620.1,267.6 1616.5,265.2 1612.9,267.6 1614.1,263.4 1610.6,260.7 1615.0,260.6"/>
<polygon points="1616.5,293.7 1621.6,297.4 1619.7,303.4 1613.3,303.4 1611.4,297.4"/>
<path d="M1610.5 335.5L1622.5 335.5M1612.2 331.2L1620.8 339.8M1616.5 329.5L1616.5 341.6M1620.8 331.2L1612.2 339.8" fill="none" stroke="#000" stroke-width="1.05"/>
</g>
<g font-family="'Liberation Serif', 'Times New Roman', serif" font-size="31" fill="#000" stroke="#000" stroke-width="0.3">
<text x="1661" y="54.5" textLength="284" lengthAdjust="spacingAndGlyphs">PLACF - 0 deg - 4m/s</text>
<text x="1661" y="90.9" textLength="284" lengthAdjust="spacingAndGlyphs">PLACF - 0 deg - 8m/s</text>
<text x="1661" y="127.4" textLength="300" lengthAdjust="spacingAndGlyphs">PLACF - 0 deg - 12m/s</text>
<text x="1661" y="163.8" textLength="300" lengthAdjust="spacingAndGlyphs">PLACF - 45 deg - 4m/s</text>
<text x="1661" y="200.3" textLength="300" lengthAdjust="spacingAndGlyphs">PLACF - 45 deg - 8m/s</text>
<text x="1661" y="236.7" textLength="316" lengthAdjust="spacingAndGlyphs">PLACF - 45 deg - 12m/s</text>
<text x="1661" y="273.1" textLength="300" lengthAdjust="spacingAndGlyphs">PLACF - 90 deg - 4m/s</text>
<text x="1661" y="309.6" textLength="300" lengthAdjust="spacingAndGlyphs">PLACF - 90 deg - 8m/s</text>
<text x="1661" y="346.0" textLength="316" lengthAdjust="spacingAndGlyphs">PLACF - 90 deg - 12m/s</text>
</g>
<g font-family="'Liberation Sans', Arial, sans-serif" font-weight="bold" fill="#f00" font-size="20.5">
<text x="6" y="19.5">(a)</text>
<text x="1031.5" y="19.5">(b)</text>
</g>
<g font-family="'Liberation Sans', Arial, sans-serif" font-weight="bold" fill="#ff0000">
<text x="192.4" y="788.9" font-size="19.3" textLength="273" lengthAdjust="spacingAndGlyphs">Surface roughness decrease</text>
<text transform="translate(16.3 1545) rotate(-90)" font-size="19.3" textLength="274" lengthAdjust="spacingAndGlyphs">Surface roughness decrease</text>
<text x="31" y="877.6" font-size="19.5" textLength="23.6" lengthAdjust="spacingAndGlyphs">(c)</text>
<text x="74.3" y="877.4" font-size="18.3" textLength="157.8" lengthAdjust="spacingAndGlyphs">PLA 0deg 0.4m/s</text>
<text x="397.1" y="877.4" font-size="18.3" textLength="157.8" lengthAdjust="spacingAndGlyphs">PLA 0deg 0.8m/s</text>
<text x="719.7" y="877.4" font-size="18.3" textLength="157.8" lengthAdjust="spacingAndGlyphs">PLA 0deg 1.2m/s</text>
<text x="1039.7" y="877.4" font-size="18.3" textLength="192.3" lengthAdjust="spacingAndGlyphs">PLA/CF 0deg 0.4m/s</text>
<text x="1362.7" y="877.4" font-size="18.3" textLength="192.3" lengthAdjust="spacingAndGlyphs">PLA/CF 0deg 0.8m/s</text>
<text x="1685.2" y="877.4" font-size="18.3" textLength="192.3" lengthAdjust="spacingAndGlyphs">PLA/CF 0deg 1.2m/s</text>
<text x="74.3" y="1199.8" font-size="18.3" textLength="169.5" lengthAdjust="spacingAndGlyphs">PLA 45deg 0.4m/s</text>
<text x="397.1" y="1199.8" font-size="18.3" textLength="169.5" lengthAdjust="spacingAndGlyphs">PLA 45deg 0.8m/s</text>
<text x="719.7" y="1199.8" font-size="18.3" textLength="169.5" lengthAdjust="spacingAndGlyphs">PLA 45deg 1.2m/s</text>
<text x="1039.7" y="1199.8" font-size="18.3" textLength="204.0" lengthAdjust="spacingAndGlyphs">PLA/CF 45deg 0.4m/s</text>
<text x="1362.7" y="1199.8" font-size="18.3" textLength="204.0" lengthAdjust="spacingAndGlyphs">PLA/CF 45deg 0.8m/s</text>
<text x="1685.2" y="1199.8" font-size="18.3" textLength="204.0" lengthAdjust="spacingAndGlyphs">PLA/CF 45deg 1.2m/s</text>
<text x="74.3" y="1520.4" font-size="18.3" textLength="169.5" lengthAdjust="spacingAndGlyphs">PLA 90deg 0.4m/s</text>
<text x="397.1" y="1520.4" font-size="18.3" textLength="169.5" lengthAdjust="spacingAndGlyphs">PLA 90deg 0.8m/s</text>
<text x="719.7" y="1520.4" font-size="18.3" textLength="169.5" lengthAdjust="spacingAndGlyphs">PLA 90deg 1.2m/s</text>
<text x="1039.7" y="1520.4" font-size="18.3" textLength="204.0" lengthAdjust="spacingAndGlyphs">PLA/CF 90deg 0.4m/s</text>
<text x="1362.7" y="1520.4" font-size="18.3" textLength="204.0" lengthAdjust="spacingAndGlyphs">PLA/CF 90deg 0.8m/s</text>
<text x="1685.2" y="1520.4" font-size="18.3" textLength="204.0" lengthAdjust="spacingAndGlyphs">PLA/CF 90deg 1.2m/s</text>
</g>
<path d="M117 816.6H1920" stroke="#ff0000" stroke-width="4.6"/>
<path d="M1919 809.5L1933 816.6L1919 823.8Z" fill="#ff0000"/>
<path d="M41.8 905.5L43.6 1738" stroke="#ff0000" stroke-width="4.6"/>
<path d="M36.8 1736.5L50.5 1736.5L43.7 1750Z" fill="#ff0000"/>
<filter id="streak" color-interpolation-filters="sRGB"><feTurbulence type="fractalNoise" baseFrequency="0.28 0.004" numOctaves="2" seed="5" result="t"/><feColorMatrix in="t" type="matrix" values="0 0 0 0 0 0 0 0 0 0 0 0 0 0 0 0.5 0 0 0 -0.18" result="ta"/><feComposite in="ta" in2="SourceGraphic" operator="in"/></filter>
<clipPath id="p0c"><polygon points="98.4,1008.0 103.2,998.9 108.0,990.6 112.8,984.0 117.5,979.9 122.3,974.1 127.0,972.8 132.3,971.0 137.7,967.9 143.0,968.0 147.3,964.7 151.7,960.8 156.0,960.0 161.3,955.8 166.7,953.8 172.0,952.0 177.3,944.7 182.7,943.4 188.0,940.8 190.7,940.5 193.3,942.5 196.0,944.0 198.7,944.0 201.3,943.5 204.0,947.0 207.2,945.7 210.4,944.0 213.6,944.0 220.0,943.4 226.4,942.6 232.8,944.0 236.5,943.8 240.3,946.4 244.0,952.0 246.7,952.0 249.3,950.1 252.0,955.0 256.3,951.3 260.5,952.9 264.8,953.6 268.5,955.9 272.3,958.1 276.0,961.6 278.7,960.6 281.3,959.9 284.0,960.0 289.3,960.5 294.7,964.2 300.0,966.4 303.2,968.2 306.4,968.6 309.6,972.8 314.4,976.5 319.2,979.4 324.0,987.0 332.0,989.3 340.0,992.9 348.0,996.8 352.3,994.0 356.5,994.9 360.8,995.0 361.9,998.0 362.9,1001.9 364.0,1006.0 364.0,995.4 360.5,999.3 357.0,1002.2 353.6,1005.1 350.1,1008.0 346.6,1010.9 343.1,1013.9 339.6,1013.6 336.2,1014.2 332.7,1015.2 329.2,1018.0 325.7,1020.8 322.2,1023.5 318.8,1028.8 315.3,1037.8 311.8,1042.6 308.3,1047.4 304.8,1050.1 301.4,1052.9 297.9,1055.6 294.4,1058.4 290.9,1061.2 287.4,1063.9 284.0,1060.4 280.5,1059.8 277.0,1059.1 273.5,1061.2 270.0,1063.9 266.6,1066.7 263.1,1069.6 259.6,1078.1 256.1,1081.6 252.6,1080.7 249.2,1081.2 245.7,1081.7 242.2,1082.2 238.7,1082.8 235.2,1082.3 231.8,1081.8 228.3,1081.3 224.8,1080.8 224.8,1080.8 221.4,1079.1 218.0,1077.4 214.7,1076.2 211.3,1076.9 207.9,1084.2 204.5,1102.2 201.1,1100.1 197.8,1098.0 194.4,1095.9 191.0,1093.8 187.6,1091.1 184.2,1088.3 180.9,1085.6 177.5,1082.8 174.1,1080.1 170.7,1077.4 167.3,1074.6 164.0,1071.9 160.6,1069.1 157.2,1066.4 153.8,1063.6 150.4,1060.9 147.1,1052.5 143.7,1049.8 140.3,1047.0 136.9,1044.2 133.5,1041.5 130.2,1034.7 126.8,1032.0 123.4,1028.1 120.0,1018.3 116.6,1012.1 113.3,1005.8 109.9,1001.0 106.5,998.2 103.1,995.4 99.7,994.4 96.4,1000.0 93.0,1005.7 89.6,1011.4"/></clipPath>
<filter id="p0f" filterUnits="userSpaceOnUse" x="-180.4" y="662" width="814.4" height="732.8" color-interpolation-filters="sRGB"><feGaussianBlur in="SourceGraphic" stdDeviation="2.6" result="b"/><feTurbulence type="fractalNoise" baseFrequency="0.1 0.28" numOctaves="2" seed="3" result="t"/><feColorMatrix in="t" type="matrix" values="1 0 0 0 0 1 0 0 0 0 1 0 0 0 0 0 0 0 0 1" result="tg"/><feComposite in="b" in2="tg" operator="arithmetic" k1="0" k2="1.0" k3="0.6" k4="-0.300" result="h"/><feComponentTransfer in="h" result="col"><feFuncR type="table" tableValues="0.08 0.24 0.40 0.49 0.60 0.70 0.83 0.97"/><feFuncG type="table" tableValues="0.03 0.09 0.15 0.23 0.42 0.57 0.75 0.97"/><feFuncB type="table" tableValues="0.02 0.06 0.11 0.12 0.16 0.23 0.49 0.96"/><feFuncA type="linear" slope="0" intercept="1"/></feComponentTransfer><feColorMatrix in="h" type="matrix" values="0 0 0 0 0 0 0 0 0 0 0 0 0 0 0 1 0 0 0 0" result="ha0"/><feGaussianBlur in="ha0" stdDeviation="1.3" result="ha"/><feDiffuseLighting in="ha" surfaceScale="2.5" diffuseConstant="1" lighting-color="#fff" result="lit"><feDistantLight azimuth="255" elevation="50"/></feDiffuseLighting><feComposite in="col" in2="lit" operator="arithmetic" k1="1.305" k2="0" k3="0" k4="0"/></filter>
<linearGradient id="p0lh" gradientUnits="userSpaceOnUse" x1="89.6" y1="0" x2="224.8" y2="0"><stop offset="0.000" stop-color="#f2f0ec"/><stop offset="0.180" stop-color="#f2f0ec"/><stop offset="0.240" stop-color="#c4a040"/><stop offset="0.320" stop-color="#8a4a1c"/><stop offset="0.450" stop-color="#3a1a12"/><stop offset="0.800" stop-color="#3a1a12"/><stop offset="0.860" stop-color="#c4a040"/><stop offset="0.900" stop-color="#f2f0ec"/><stop offset="1.000" stop-color="#f2f0ec"/></linearGradient>
<linearGradient id="p0lv" gradientUnits="userSpaceOnUse" x1="0" y1="941.2" x2="0" y2="897.2" gradientTransform="matrix(1 0.8166 0 1 0 0)"><stop offset="0" stop-color="#000" stop-opacity="0.93"/><stop offset="0.12" stop-color="#000" stop-opacity="0.62"/><stop offset="0.3" stop-color="#000" stop-opacity="0.3"/><stop offset="0.55" stop-color="#000" stop-opacity="0.07"/><stop offset="1" stop-color="#000" stop-opacity="0"/></linearGradient>
<polygon points="89.6,1014.4 224.8,1124.8 224.8,1080.8 221.4,1079.1 218.0,1077.4 214.7,1076.2 211.3,1076.9 207.9,1084.2 204.5,1102.2 201.1,1100.1 197.8,1098.0 194.4,1095.9 191.0,1093.8 187.6,1091.1 184.2,1088.3 180.9,1085.6 177.5,1082.8 174.1,1080.1 170.7,1077.4 167.3,1074.6 164.0,1071.9 160.6,1069.1 157.2,1066.4 153.8,1063.6 150.4,1060.9 147.1,1052.5 143.7,1049.8 140.3,1047.0 136.9,1044.2 133.5,1041.5 130.2,1034.7 126.8,1032.0 123.4,1028.1 120.0,1018.3 116.6,1012.1 113.3,1005.8 109.9,1001.0 106.5,998.2 103.1,995.4 99.7,994.4 96.4,1000.0 93.0,1005.7 89.6,1011.4" fill="url(#p0lh)"/>
<polygon points="89.6,1014.4 224.8,1124.8 224.8,1080.8 221.4,1079.1 218.0,1077.4 214.7,1076.2 211.3,1076.9 207.9,1084.2 204.5,1102.2 201.1,1100.1 197.8,1098.0 194.4,1095.9 191.0,1093.8 187.6,1091.1 184.2,1088.3 180.9,1085.6 177.5,1082.8 174.1,1080.1 170.7,1077.4 167.3,1074.6 164.0,1071.9 160.6,1069.1 157.2,1066.4 153.8,1063.6 150.4,1060.9 147.1,1052.5 143.7,1049.8 140.3,1047.0 136.9,1044.2 133.5,1041.5 130.2,1034.7 126.8,1032.0 123.4,1028.1 120.0,1018.3 116.6,1012.1 113.3,1005.8 109.9,1001.0 106.5,998.2 103.1,995.4 99.7,994.4 96.4,1000.0 93.0,1005.7 89.6,1011.4" fill="#000" filter="url(#streak)"/>
<polygon points="89.6,1014.4 224.8,1124.8 224.8,1080.8 221.4,1079.1 218.0,1077.4 214.7,1076.2 211.3,1076.9 207.9,1084.2 204.5,1102.2 201.1,1100.1 197.8,1098.0 194.4,1095.9 191.0,1093.8 187.6,1091.1 184.2,1088.3 180.9,1085.6 177.5,1082.8 174.1,1080.1 170.7,1077.4 167.3,1074.6 164.0,1071.9 160.6,1069.1 157.2,1066.4 153.8,1063.6 150.4,1060.9 147.1,1052.5 143.7,1049.8 140.3,1047.0 136.9,1044.2 133.5,1041.5 130.2,1034.7 126.8,1032.0 123.4,1028.1 120.0,1018.3 116.6,1012.1 113.3,1005.8 109.9,1001.0 106.5,998.2 103.1,995.4 99.7,994.4 96.4,1000.0 93.0,1005.7 89.6,1011.4" fill="url(#p0lv)"/>
<linearGradient id="p0rh" gradientUnits="userSpaceOnUse" x1="224.8" y1="0" x2="364.0" y2="0"><stop offset="0.000" stop-color="#f2f0ec"/><stop offset="0.180" stop-color="#f2f0ec"/><stop offset="0.220" stop-color="#c4a040"/><stop offset="0.270" stop-color="#f2f0ec"/><stop offset="0.400" stop-color="#f2f0ec"/><stop offset="0.440" stop-color="#c4a040"/><stop offset="0.620" stop-color="#c4a040"/><stop offset="0.660" stop-color="#f2f0ec"/><stop offset="0.800" stop-color="#f2f0ec"/><stop offset="0.840" stop-color="#e2d4a4"/><stop offset="1.000" stop-color="#f2f0ec"/></linearGradient>
<linearGradient id="p0rv" gradientUnits="userSpaceOnUse" x1="0" y1="1303.1" x2="0" y2="1259.1" gradientTransform="matrix(1 -0.7931 0 1 0 0)"><stop offset="0" stop-color="#000" stop-opacity="0.93"/><stop offset="0.12" stop-color="#000" stop-opacity="0.62"/><stop offset="0.3" stop-color="#000" stop-opacity="0.3"/><stop offset="0.55" stop-color="#000" stop-opacity="0.07"/><stop offset="1" stop-color="#000" stop-opacity="0"/></linearGradient>
<polygon points="224.8,1124.8 364.0,1014.4 364.0,995.4 360.5,999.3 357.0,1002.2 353.6,1005.1 350.1,1008.0 346.6,1010.9 343.1,1013.9 339.6,1013.6 336.2,1014.2 332.7,1015.2 329.2,1018.0 325.7,1020.8 322.2,1023.5 318.8,1028.8 315.3,1037.8 311.8,1042.6 308.3,1047.4 304.8,1050.1 301.4,1052.9 297.9,1055.6 294.4,1058.4 290.9,1061.2 287.4,1063.9 284.0,1060.4 280.5,1059.8 277.0,1059.1 273.5,1061.2 270.0,1063.9 266.6,1066.7 263.1,1069.6 259.6,1078.1 256.1,1081.6 252.6,1080.7 249.2,1081.2 245.7,1081.7 242.2,1082.2 238.7,1082.8 235.2,1082.3 231.8,1081.8 228.3,1081.3 224.8,1080.8" fill="url(#p0rh)"/>
<polygon points="224.8,1124.8 364.0,1014.4 364.0,995.4 360.5,999.3 357.0,1002.2 353.6,1005.1 350.1,1008.0 346.6,1010.9 343.1,1013.9 339.6,1013.6 336.2,1014.2 332.7,1015.2 329.2,1018.0 325.7,1020.8 322.2,1023.5 318.8,1028.8 315.3,1037.8 311.8,1042.6 308.3,1047.4 304.8,1050.1 301.4,1052.9 297.9,1055.6 294.4,1058.4 290.9,1061.2 287.4,1063.9 284.0,1060.4 280.5,1059.8 277.0,1059.1 273.5,1061.2 270.0,1063.9 266.6,1066.7 263.1,1069.6 259.6,1078.1 256.1,1081.6 252.6,1080.7 249.2,1081.2 245.7,1081.7 242.2,1082.2 238.7,1082.8 235.2,1082.3 231.8,1081.8 228.3,1081.3 224.8,1080.8" fill="#000" filter="url(#streak)"/>
<polygon points="224.8,1124.8 364.0,1014.4 364.0,995.4 360.5,999.3 357.0,1002.2 353.6,1005.1 350.1,1008.0 346.6,1010.9 343.1,1013.9 339.6,1013.6 336.2,1014.2 332.7,1015.2 329.2,1018.0 325.7,1020.8 322.2,1023.5 318.8,1028.8 315.3,1037.8 311.8,1042.6 308.3,1047.4 304.8,1050.1 301.4,1052.9 297.9,1055.6 294.4,1058.4 290.9,1061.2 287.4,1063.9 284.0,1060.4 280.5,1059.8 277.0,1059.1 273.5,1061.2 270.0,1063.9 266.6,1066.7 263.1,1069.6 259.6,1078.1 256.1,1081.6 252.6,1080.7 249.2,1081.2 245.7,1081.7 242.2,1082.2 238.7,1082.8 235.2,1082.3 231.8,1081.8 228.3,1081.3 224.8,1080.8" fill="url(#p0rv)"/>
<g clip-path="url(#p0c)"><g transform="rotate(-30 226.8 1028.4)" filter="url(#p0f)"><g transform="rotate(30 226.8 1028.4)">
<rect x="10" y="852" width="434" height="353" fill="rgb(71,71,71)"/>
<ellipse cx="89.6" cy="1008.4" rx="7" ry="4" fill="rgb(242,242,242)"/>
<ellipse cx="96.4" cy="997.0" rx="7" ry="4" fill="rgb(242,242,242)"/>
<ellipse cx="103.1" cy="992.4" rx="7" ry="4" fill="rgb(242,242,242)"/>
<ellipse cx="109.9" cy="998.0" rx="7" ry="4" fill="rgb(242,242,242)"/>
<ellipse cx="116.6" cy="1009.1" rx="7" ry="4" fill="rgb(242,242,242)"/>
<ellipse cx="123.4" cy="1025.1" rx="7" ry="4" fill="rgb(165,165,165)"/>
<ellipse cx="130.2" cy="1031.7" rx="7" ry="4" fill="rgb(165,165,165)"/>
<ellipse cx="136.9" cy="1041.2" rx="7" ry="4" fill="rgb(114,114,114)"/>
<ellipse cx="143.7" cy="1046.8" rx="7" ry="4" fill="rgb(114,114,114)"/>
<ellipse cx="150.4" cy="1057.9" rx="7" ry="4" fill="rgb(45,45,45)"/>
<ellipse cx="157.2" cy="1063.4" rx="7" ry="4" fill="rgb(45,45,45)"/>
<ellipse cx="164.0" cy="1068.9" rx="7" ry="4" fill="rgb(45,45,45)"/>
<ellipse cx="170.7" cy="1074.4" rx="7" ry="4" fill="rgb(45,45,45)"/>
<ellipse cx="177.5" cy="1079.8" rx="7" ry="4" fill="rgb(45,45,45)"/>
<ellipse cx="184.2" cy="1085.3" rx="7" ry="4" fill="rgb(45,45,45)"/>
<ellipse cx="191.0" cy="1090.8" rx="7" ry="4" fill="rgb(45,45,45)"/>
<ellipse cx="197.8" cy="1095.0" rx="7" ry="4" fill="rgb(45,45,45)"/>
<ellipse cx="204.5" cy="1099.2" rx="7" ry="4" fill="rgb(45,45,45)"/>
<ellipse cx="211.3" cy="1073.9" rx="7" ry="4" fill="rgb(242,242,242)"/>
<ellipse cx="218.0" cy="1074.4" rx="7" ry="4" fill="rgb(242,242,242)"/>
<ellipse cx="224.8" cy="1077.8" rx="7" ry="4" fill="rgb(242,242,242)"/>
<ellipse cx="224.8" cy="1077.8" rx="7" ry="4" fill="rgb(242,242,242)"/>
<ellipse cx="231.8" cy="1078.8" rx="7" ry="4" fill="rgb(242,242,242)"/>
<ellipse cx="238.7" cy="1079.8" rx="7" ry="4" fill="rgb(242,242,242)"/>
<ellipse cx="245.7" cy="1078.7" rx="7" ry="4" fill="rgb(242,242,242)"/>
<ellipse cx="252.6" cy="1077.7" rx="7" ry="4" fill="rgb(242,242,242)"/>
<ellipse cx="259.6" cy="1075.1" rx="7" ry="4" fill="rgb(165,165,165)"/>
<ellipse cx="266.6" cy="1063.7" rx="7" ry="4" fill="rgb(242,242,242)"/>
<ellipse cx="273.5" cy="1058.2" rx="7" ry="4" fill="rgb(242,242,242)"/>
<ellipse cx="280.5" cy="1056.8" rx="7" ry="4" fill="rgb(242,242,242)"/>
<ellipse cx="287.4" cy="1060.9" rx="7" ry="4" fill="rgb(165,165,165)"/>
<ellipse cx="294.4" cy="1055.4" rx="7" ry="4" fill="rgb(165,165,165)"/>
<ellipse cx="301.4" cy="1049.9" rx="7" ry="4" fill="rgb(165,165,165)"/>
<ellipse cx="308.3" cy="1044.4" rx="7" ry="4" fill="rgb(165,165,165)"/>
<ellipse cx="315.3" cy="1034.8" rx="7" ry="4" fill="rgb(165,165,165)"/>
<ellipse cx="322.2" cy="1020.5" rx="7" ry="4" fill="rgb(242,242,242)"/>
<ellipse cx="329.2" cy="1015.0" rx="7" ry="4" fill="rgb(242,242,242)"/>
<ellipse cx="336.2" cy="1011.2" rx="7" ry="4" fill="rgb(242,242,242)"/>
<ellipse cx="343.1" cy="1010.9" rx="7" ry="4" fill="rgb(216,216,216)"/>
<ellipse cx="350.1" cy="1005.0" rx="7" ry="4" fill="rgb(216,216,216)"/>
<ellipse cx="357.0" cy="999.2" rx="7" ry="4" fill="rgb(216,216,216)"/>
<ellipse cx="364.0" cy="992.4" rx="7" ry="4" fill="rgb(242,242,242)"/>
<ellipse cx="176" cy="955" rx="40" ry="12" transform="rotate(-25 176 955)" fill="rgb(242,242,242)"/>
<ellipse cx="130" cy="975" rx="25" ry="8" transform="rotate(-30 130 975)" fill="rgb(229,229,229)"/>
<ellipse cx="112" cy="1005" rx="14" ry="10" fill="rgb(242,242,242)"/>
<ellipse cx="185" cy="980" rx="35" ry="10" transform="rotate(-25 185 980)" fill="rgb(165,165,165)"/>
<ellipse cx="165" cy="1008" rx="28" ry="16" transform="rotate(-20 165 1008)" fill="rgb(56,56,56)"/>
<ellipse cx="163" cy="1005" rx="8" ry="9" fill="rgb(20,20,20)"/>
<ellipse cx="275" cy="975" rx="42" ry="14" transform="rotate(10 275 975)" fill="rgb(165,165,165)"/>
<ellipse cx="241" cy="965" rx="6" ry="5" fill="rgb(242,242,242)"/>
<ellipse cx="284" cy="963" rx="6" ry="5" fill="rgb(242,242,242)"/>
<ellipse cx="285" cy="1003" rx="50" ry="10" transform="rotate(15 285 1003)" fill="rgb(89,89,89)"/>
<ellipse cx="300" cy="1040" rx="45" ry="18" transform="rotate(-35 300 1040)" fill="rgb(165,165,165)"/>
<ellipse cx="305" cy="1029" rx="8" ry="6" fill="rgb(242,242,242)"/>
<ellipse cx="273" cy="1042" rx="8" ry="6" fill="rgb(242,242,242)"/>
<ellipse cx="239" cy="1051" rx="8" ry="6" fill="rgb(234,234,234)"/>
<ellipse cx="212" cy="1045" rx="7" ry="5" fill="rgb(229,229,229)"/>
<ellipse cx="170" cy="1045" rx="40" ry="12" transform="rotate(-20 170 1045)" fill="rgb(153,153,153)"/>
<ellipse cx="175" cy="1070" rx="40" ry="14" transform="rotate(30 175 1070)" fill="rgb(76,76,76)"/>
<ellipse cx="222" cy="1075" rx="18" ry="10" fill="rgb(242,242,242)"/>
</g></g></g>
<path d="M89.6,1014.4L224.8,1124.8L364.0,1014.4" stroke="#0a0606" stroke-width="1.2" fill="none"/>
<g font-family="'Liberation Sans', Arial, sans-serif" font-size="7.6" fill="#2a2a2a"><text transform="translate(172.0 1096.2) rotate(141)" text-anchor="middle">2.5</text><text transform="translate(138.2 1068.6) rotate(141)" text-anchor="middle">5</text><text transform="translate(104.4 1041.0) rotate(141)" text-anchor="middle">7.5</text><text transform="translate(141.2 1075.6) rotate(141)" text-anchor="middle" font-size="5.5">µm</text><text transform="translate(277.6 1095.2) rotate(-38)" text-anchor="middle">2.5</text><text transform="translate(312.4 1067.6) rotate(-38)" text-anchor="middle">5</text><text transform="translate(347.2 1040.0) rotate(-38)" text-anchor="middle">7.5</text><text transform="translate(371.0 1018.4) rotate(-38)" text-anchor="middle">10</text><text transform="translate(318.4 1074.6) rotate(-38)" text-anchor="middle" font-size="5.5">µm</text><text transform="translate(219.8 1134.8) rotate(-38)" text-anchor="middle">0</text><text transform="translate(233.8 1132.8) rotate(-38)" text-anchor="middle">0</text><path d="M86.6 1013.4L81.6 973.4" stroke="#444" stroke-width="0.7" fill="none"/><text transform="translate(80.3 981.9) rotate(-22)" text-anchor="end">200</text><text transform="translate(81.4 990.4) rotate(-22)" text-anchor="end">100</text><text transform="translate(82.5 998.9) rotate(-22)" text-anchor="end">0</text><text transform="translate(83.5 1007.4) rotate(-22)" text-anchor="end">-100</text><text transform="translate(84.6 1015.9) rotate(-22)" text-anchor="end">-200</text><path d="M82.3 979.4h2.2M83.4 987.9h2.2M84.5 996.4h2.2M85.5 1004.9h2.2M86.6 1013.4h2.2" stroke="#444" stroke-width="0.6" fill="none"/><text transform="translate(70.6 969.4) rotate(-22)" text-anchor="middle">nm</text></g>
<clipPath id="p1c"><polygon points="412.0,992.0 417.3,989.4 422.7,988.2 428.0,987.0 437.6,977.1 447.2,973.5 456.8,968.0 460.0,963.6 463.2,963.2 466.4,961.6 467.5,964.5 468.5,966.8 469.6,971.0 477.1,968.3 484.5,964.5 492.0,964.8 500.0,960.5 508.0,954.1 516.0,955.0 524.0,952.0 532.0,950.4 540.0,948.8 543.2,945.9 546.4,946.1 549.6,947.0 552.7,946.8 555.9,947.7 559.0,950.0 568.7,952.8 578.3,955.7 588.0,961.6 596.0,965.5 604.0,970.6 612.0,976.0 625.3,979.6 638.7,985.0 652.0,990.4 663.5,993.6 674.9,999.6 686.4,1007.0 686.4,1009.1 682.9,1011.9 679.4,1014.7 676.0,1017.5 672.5,1020.3 669.0,996.6 665.5,995.6 662.0,997.8 658.6,1000.0 655.1,1002.2 651.6,1004.4 648.1,1006.6 644.6,1008.8 641.2,1013.0 637.7,1017.3 634.2,1021.6 630.7,1025.9 627.2,1030.2 623.8,1040.4 620.3,1043.5 616.8,1046.6 613.3,1049.7 609.8,1052.8 606.4,1055.8 602.9,1058.9 599.4,1062.0 595.9,1065.1 592.4,1067.5 589.0,1069.8 585.5,1072.2 582.0,1074.6 578.5,1071.1 575.0,1073.4 571.6,1076.1 568.1,1078.9 564.6,1081.7 561.1,1084.5 557.6,1084.8 554.2,1085.0 550.7,1092.8 547.2,1093.6 547.2,1093.6 543.8,1102.1 540.4,1100.5 536.9,1099.0 533.5,1097.4 530.1,1087.1 526.7,1084.5 523.3,1075.9 519.8,1073.4 516.4,1071.8 513.0,1070.3 509.6,1068.8 506.2,1067.2 502.7,1066.2 499.3,1065.2 495.9,1064.1 492.5,1063.1 489.1,1061.6 485.6,1060.1 482.2,1058.5 478.8,1057.0 475.4,1065.0 472.0,1062.4 468.5,1059.7 465.1,1056.9 461.7,1054.1 458.3,1051.3 454.9,1048.5 451.4,1045.8 448.0,1035.4 444.6,1031.0 441.2,1023.4 437.8,1018.6 434.3,1013.9 430.9,1009.1 427.5,1006.3 424.1,1003.5 420.7,1000.7 417.2,998.0 413.8,995.2 410.4,992.4"/></clipPath>
<filter id="p1f" filterUnits="userSpaceOnUse" x="140.39999999999998" y="667" width="816.0" height="728.5999999999999" color-interpolation-filters="sRGB"><feGaussianBlur in="SourceGraphic" stdDeviation="2.6" result="b"/><feTurbulence type="fractalNoise" baseFrequency="0.1 0.28" numOctaves="2" seed="10" result="t"/><feColorMatrix in="t" type="matrix" values="1 0 0 0 0 1 0 0 0 0 1 0 0 0 0 0 0 0 0 1" result="tg"/><feComposite in="b" in2="tg" operator="arithmetic" k1="0" k2="1.0" k3="0.6" k4="-0.300" result="h"/><feComponentTransfer in="h" result="col"><feFuncR type="table" tableValues="0.08 0.24 0.40 0.49 0.60 0.70 0.83 0.97"/><feFuncG type="table" tableValues="0.03 0.09 0.15 0.23 0.42 0.57 0.75 0.97"/><feFuncB type="table" tableValues="0.02 0.06 0.11 0.12 0.16 0.23 0.49 0.96"/><feFuncA type="linear" slope="0" intercept="1"/></feComponentTransfer><feColorMatrix in="h" type="matrix" values="0 0 0 0 0 0 0 0 0 0 0 0 0 0 0 1 0 0 0 0" result="ha0"/><feGaussianBlur in="ha0" stdDeviation="1.3" result="ha"/><feDiffuseLighting in="ha" surfaceScale="2.5" diffuseConstant="1" lighting-color="#fff" result="lit"><feDistantLight azimuth="255" elevation="50"/></feDiffuseLighting><feComposite in="col" in2="lit" operator="arithmetic" k1="1.305" k2="0" k3="0" k4="0"/></filter>
<linearGradient id="p1lh" gradientUnits="userSpaceOnUse" x1="410.4" y1="0" x2="547.2" y2="0"><stop offset="0.000" stop-color="#f2f0ec"/><stop offset="0.200" stop-color="#f2f0ec"/><stop offset="0.250" stop-color="#c4a040"/><stop offset="0.300" stop-color="#3a1a12"/><stop offset="0.480" stop-color="#3a1a12"/><stop offset="0.500" stop-color="#f2f0ec"/><stop offset="0.800" stop-color="#f2f0ec"/><stop offset="0.850" stop-color="#c4a040"/><stop offset="0.900" stop-color="#8a4a1c"/><stop offset="1.000" stop-color="#c4a040"/></linearGradient>
<linearGradient id="p1lv" gradientUnits="userSpaceOnUse" x1="0" y1="680.8" x2="0" y2="648.8" gradientTransform="matrix(1 0.8129 0 1 0 0)"><stop offset="0" stop-color="#000" stop-opacity="0.93"/><stop offset="0.12" stop-color="#000" stop-opacity="0.62"/><stop offset="0.3" stop-color="#000" stop-opacity="0.3"/><stop offset="0.55" stop-color="#000" stop-opacity="0.07"/><stop offset="1" stop-color="#000" stop-opacity="0"/></linearGradient>
<polygon points="410.4,1014.4 547.2,1125.6 547.2,1093.6 543.8,1102.1 540.4,1100.5 536.9,1099.0 533.5,1097.4 530.1,1087.1 526.7,1084.5 523.3,1075.9 519.8,1073.4 516.4,1071.8 513.0,1070.3 509.6,1068.8 506.2,1067.2 502.7,1066.2 499.3,1065.2 495.9,1064.1 492.5,1063.1 489.1,1061.6 485.6,1060.1 482.2,1058.5 478.8,1057.0 475.4,1065.0 472.0,1062.4 468.5,1059.7 465.1,1056.9 461.7,1054.1 458.3,1051.3 454.9,1048.5 451.4,1045.8 448.0,1035.4 444.6,1031.0 441.2,1023.4 437.8,1018.6 434.3,1013.9 430.9,1009.1 427.5,1006.3 424.1,1003.5 420.7,1000.7 417.2,998.0 413.8,995.2 410.4,992.4" fill="url(#p1lh)"/>
<polygon points="410.4,1014.4 547.2,1125.6 547.2,1093.6 543.8,1102.1 540.4,1100.5 536.9,1099.0 533.5,1097.4 530.1,1087.1 526.7,1084.5 523.3,1075.9 519.8,1073.4 516.4,1071.8 513.0,1070.3 509.6,1068.8 506.2,1067.2 502.7,1066.2 499.3,1065.2 495.9,1064.1 492.5,1063.1 489.1,1061.6 485.6,1060.1 482.2,1058.5 478.8,1057.0 475.4,1065.0 472.0,1062.4 468.5,1059.7 465.1,1056.9 461.7,1054.1 458.3,1051.3 454.9,1048.5 451.4,1045.8 448.0,1035.4 444.6,1031.0 441.2,1023.4 437.8,1018.6 434.3,1013.9 430.9,1009.1 427.5,1006.3 424.1,1003.5 420.7,1000.7 417.2,998.0 413.8,995.2 410.4,992.4" fill="#000" filter="url(#streak)"/>
<polygon points="410.4,1014.4 547.2,1125.6 547.2,1093.6 543.8,1102.1 540.4,1100.5 536.9,1099.0 533.5,1097.4 530.1,1087.1 526.7,1084.5 523.3,1075.9 519.8,1073.4 516.4,1071.8 513.0,1070.3 509.6,1068.8 506.2,1067.2 502.7,1066.2 499.3,1065.2 495.9,1064.1 492.5,1063.1 489.1,1061.6 485.6,1060.1 482.2,1058.5 478.8,1057.0 475.4,1065.0 472.0,1062.4 468.5,1059.7 465.1,1056.9 461.7,1054.1 458.3,1051.3 454.9,1048.5 451.4,1045.8 448.0,1035.4 444.6,1031.0 441.2,1023.4 437.8,1018.6 434.3,1013.9 430.9,1009.1 427.5,1006.3 424.1,1003.5 420.7,1000.7 417.2,998.0 413.8,995.2 410.4,992.4" fill="url(#p1lv)"/>
<linearGradient id="p1rh" gradientUnits="userSpaceOnUse" x1="547.2" y1="0" x2="686.4" y2="0"><stop offset="0.000" stop-color="#c4a040"/><stop offset="0.050" stop-color="#f2f0ec"/><stop offset="0.220" stop-color="#f2f0ec"/><stop offset="0.250" stop-color="#c4a040"/><stop offset="0.550" stop-color="#c4a040"/><stop offset="0.570" stop-color="#f2f0ec"/><stop offset="0.880" stop-color="#f2f0ec"/><stop offset="0.900" stop-color="#6e2a1c"/><stop offset="1.000" stop-color="#6e2a1c"/></linearGradient>
<linearGradient id="p1rv" gradientUnits="userSpaceOnUse" x1="0" y1="1562.7" x2="0" y2="1523.7" gradientTransform="matrix(1 -0.7989 0 1 0 0)"><stop offset="0" stop-color="#000" stop-opacity="0.93"/><stop offset="0.12" stop-color="#000" stop-opacity="0.62"/><stop offset="0.3" stop-color="#000" stop-opacity="0.3"/><stop offset="0.55" stop-color="#000" stop-opacity="0.07"/><stop offset="1" stop-color="#000" stop-opacity="0"/></linearGradient>
<polygon points="547.2,1125.6 686.4,1014.4 686.4,1009.1 682.9,1011.9 679.4,1014.7 676.0,1017.5 672.5,1020.3 669.0,996.6 665.5,995.6 662.0,997.8 658.6,1000.0 655.1,1002.2 651.6,1004.4 648.1,1006.6 644.6,1008.8 641.2,1013.0 637.7,1017.3 634.2,1021.6 630.7,1025.9 627.2,1030.2 623.8,1040.4 620.3,1043.5 616.8,1046.6 613.3,1049.7 609.8,1052.8 606.4,1055.8 602.9,1058.9 599.4,1062.0 595.9,1065.1 592.4,1067.5 589.0,1069.8 585.5,1072.2 582.0,1074.6 578.5,1071.1 575.0,1073.4 571.6,1076.1 568.1,1078.9 564.6,1081.7 561.1,1084.5 557.6,1084.8 554.2,1085.0 550.7,1092.8 547.2,1093.6" fill="url(#p1rh)"/>
<polygon points="547.2,1125.6 686.4,1014.4 686.4,1009.1 682.9,1011.9 679.4,1014.7 676.0,1017.5 672.5,1020.3 669.0,996.6 665.5,995.6 662.0,997.8 658.6,1000.0 655.1,1002.2 651.6,1004.4 648.1,1006.6 644.6,1008.8 641.2,1013.0 637.7,1017.3 634.2,1021.6 630.7,1025.9 627.2,1030.2 623.8,1040.4 620.3,1043.5 616.8,1046.6 613.3,1049.7 609.8,1052.8 606.4,1055.8 602.9,1058.9 599.4,1062.0 595.9,1065.1 592.4,1067.5 589.0,1069.8 585.5,1072.2 582.0,1074.6 578.5,1071.1 575.0,1073.4 571.6,1076.1 568.1,1078.9 564.6,1081.7 561.1,1084.5 557.6,1084.8 554.2,1085.0 550.7,1092.8 547.2,1093.6" fill="#000" filter="url(#streak)"/>
<polygon points="547.2,1125.6 686.4,1014.4 686.4,1009.1 682.9,1011.9 679.4,1014.7 676.0,1017.5 672.5,1020.3 669.0,996.6 665.5,995.6 662.0,997.8 658.6,1000.0 655.1,1002.2 651.6,1004.4 648.1,1006.6 644.6,1008.8 641.2,1013.0 637.7,1017.3 634.2,1021.6 630.7,1025.9 627.2,1030.2 623.8,1040.4 620.3,1043.5 616.8,1046.6 613.3,1049.7 609.8,1052.8 606.4,1055.8 602.9,1058.9 599.4,1062.0 595.9,1065.1 592.4,1067.5 589.0,1069.8 585.5,1072.2 582.0,1074.6 578.5,1071.1 575.0,1073.4 571.6,1076.1 568.1,1078.9 564.6,1081.7 561.1,1084.5 557.6,1084.8 554.2,1085.0 550.7,1092.8 547.2,1093.6" fill="url(#p1rv)"/>
<g clip-path="url(#p1c)"><g transform="rotate(-30 548.4 1031.3)" filter="url(#p1f)"><g transform="rotate(30 548.4 1031.3)">
<rect x="330" y="857" width="436" height="349" fill="rgb(107,107,107)"/>
<ellipse cx="410.4" cy="989.4" rx="7" ry="4" fill="rgb(242,242,242)"/>
<ellipse cx="417.2" cy="995.0" rx="7" ry="4" fill="rgb(242,242,242)"/>
<ellipse cx="424.1" cy="1000.5" rx="7" ry="4" fill="rgb(242,242,242)"/>
<ellipse cx="430.9" cy="1006.1" rx="7" ry="4" fill="rgb(242,242,242)"/>
<ellipse cx="437.8" cy="1015.6" rx="7" ry="4" fill="rgb(242,242,242)"/>
<ellipse cx="444.6" cy="1028.0" rx="7" ry="4" fill="rgb(165,165,165)"/>
<ellipse cx="451.4" cy="1042.8" rx="7" ry="4" fill="rgb(45,45,45)"/>
<ellipse cx="458.3" cy="1048.3" rx="7" ry="4" fill="rgb(45,45,45)"/>
<ellipse cx="465.1" cy="1053.9" rx="7" ry="4" fill="rgb(45,45,45)"/>
<ellipse cx="472.0" cy="1059.4" rx="7" ry="4" fill="rgb(45,45,45)"/>
<ellipse cx="478.8" cy="1054.0" rx="7" ry="4" fill="rgb(242,242,242)"/>
<ellipse cx="485.6" cy="1057.1" rx="7" ry="4" fill="rgb(242,242,242)"/>
<ellipse cx="492.5" cy="1060.1" rx="7" ry="4" fill="rgb(242,242,242)"/>
<ellipse cx="499.3" cy="1062.2" rx="7" ry="4" fill="rgb(242,242,242)"/>
<ellipse cx="506.2" cy="1064.2" rx="7" ry="4" fill="rgb(242,242,242)"/>
<ellipse cx="513.0" cy="1067.3" rx="7" ry="4" fill="rgb(242,242,242)"/>
<ellipse cx="519.8" cy="1070.4" rx="7" ry="4" fill="rgb(242,242,242)"/>
<ellipse cx="526.7" cy="1081.5" rx="7" ry="4" fill="rgb(165,165,165)"/>
<ellipse cx="533.5" cy="1094.4" rx="7" ry="4" fill="rgb(114,114,114)"/>
<ellipse cx="540.4" cy="1097.5" rx="7" ry="4" fill="rgb(114,114,114)"/>
<ellipse cx="547.2" cy="1090.6" rx="7" ry="4" fill="rgb(165,165,165)"/>
<ellipse cx="547.2" cy="1090.6" rx="7" ry="4" fill="rgb(165,165,165)"/>
<ellipse cx="554.2" cy="1082.0" rx="7" ry="4" fill="rgb(242,242,242)"/>
<ellipse cx="561.1" cy="1081.5" rx="7" ry="4" fill="rgb(242,242,242)"/>
<ellipse cx="568.1" cy="1075.9" rx="7" ry="4" fill="rgb(242,242,242)"/>
<ellipse cx="575.0" cy="1070.4" rx="7" ry="4" fill="rgb(242,242,242)"/>
<ellipse cx="582.0" cy="1071.6" rx="7" ry="4" fill="rgb(165,165,165)"/>
<ellipse cx="589.0" cy="1066.8" rx="7" ry="4" fill="rgb(165,165,165)"/>
<ellipse cx="595.9" cy="1062.1" rx="7" ry="4" fill="rgb(165,165,165)"/>
<ellipse cx="602.9" cy="1055.9" rx="7" ry="4" fill="rgb(165,165,165)"/>
<ellipse cx="609.8" cy="1049.8" rx="7" ry="4" fill="rgb(165,165,165)"/>
<ellipse cx="616.8" cy="1043.6" rx="7" ry="4" fill="rgb(165,165,165)"/>
<ellipse cx="623.8" cy="1037.4" rx="7" ry="4" fill="rgb(165,165,165)"/>
<ellipse cx="630.7" cy="1022.9" rx="7" ry="4" fill="rgb(242,242,242)"/>
<ellipse cx="637.7" cy="1014.3" rx="7" ry="4" fill="rgb(242,242,242)"/>
<ellipse cx="644.6" cy="1005.8" rx="7" ry="4" fill="rgb(242,242,242)"/>
<ellipse cx="651.6" cy="1001.4" rx="7" ry="4" fill="rgb(242,242,242)"/>
<ellipse cx="658.6" cy="997.0" rx="7" ry="4" fill="rgb(242,242,242)"/>
<ellipse cx="665.5" cy="992.6" rx="7" ry="4" fill="rgb(242,242,242)"/>
<ellipse cx="672.5" cy="1017.3" rx="7" ry="4" fill="rgb(81,81,81)"/>
<ellipse cx="679.4" cy="1011.7" rx="7" ry="4" fill="rgb(81,81,81)"/>
<ellipse cx="686.4" cy="1006.1" rx="7" ry="4" fill="rgb(81,81,81)"/>
<ellipse cx="440" cy="990" rx="30" ry="22" fill="rgb(234,234,234)"/>
<ellipse cx="530" cy="968" rx="60" ry="16" transform="rotate(-20 530 968)" fill="rgb(165,165,165)"/>
<ellipse cx="620" cy="975" rx="35" ry="12" transform="rotate(20 620 975)" fill="rgb(91,91,91)"/>
<ellipse cx="655" cy="998" rx="30" ry="12" transform="rotate(20 655 998)" fill="rgb(165,165,165)"/>
<ellipse cx="500" cy="1015" rx="40" ry="20" transform="rotate(-20 500 1015)" fill="rgb(63,63,63)"/>
<ellipse cx="512" cy="1020" rx="18" ry="10" transform="rotate(-20 512 1020)" fill="rgb(20,20,20)"/>
<ellipse cx="580" cy="1000" rx="40" ry="12" transform="rotate(15 580 1000)" fill="rgb(76,76,76)"/>
<ellipse cx="570" cy="1048" rx="45" ry="28" transform="rotate(-25 570 1048)" fill="rgb(165,165,165)"/>
<ellipse cx="560" cy="1026" rx="18" ry="7" fill="rgb(242,242,242)"/>
<ellipse cx="645" cy="1030" rx="22" ry="14" transform="rotate(-35 645 1030)" fill="rgb(242,242,242)"/>
<ellipse cx="505" cy="1075" rx="25" ry="14" transform="rotate(30 505 1075)" fill="rgb(229,229,229)"/>
<ellipse cx="470" cy="1040" rx="25" ry="12" transform="rotate(35 470 1040)" fill="rgb(89,89,89)"/>
</g></g></g>
<path d="M410.4,1014.4L547.2,1125.6L686.4,1014.4" stroke="#0a0606" stroke-width="1.2" fill="none"/>
<g font-family="'Liberation Sans', Arial, sans-serif" font-size="7.6" fill="#2a2a2a"><text transform="translate(494.0 1096.8) rotate(141)" text-anchor="middle">2.5</text><text transform="translate(459.8 1069.0) rotate(141)" text-anchor="middle">5</text><text transform="translate(425.6 1041.2) rotate(141)" text-anchor="middle">7.5</text><text transform="translate(462.8 1076.0) rotate(141)" text-anchor="middle" font-size="5.5">µm</text><text transform="translate(600.0 1095.8) rotate(-38)" text-anchor="middle">2.5</text><text transform="translate(634.8 1068.0) rotate(-38)" text-anchor="middle">5</text><text transform="translate(669.6 1040.2) rotate(-38)" text-anchor="middle">7.5</text><text transform="translate(693.4 1018.4) rotate(-38)" text-anchor="middle">10</text><text transform="translate(640.8 1075.0) rotate(-38)" text-anchor="middle" font-size="5.5">µm</text><text transform="translate(542.2 1135.6) rotate(-38)" text-anchor="middle">0</text><text transform="translate(556.2 1133.6) rotate(-38)" text-anchor="middle">0</text><path d="M407.4 1013.4L402.4 973.4" stroke="#444" stroke-width="0.7" fill="none"/><text transform="translate(401.1 981.9) rotate(-22)" text-anchor="end">1.6</text><text transform="translate(402.0 988.7) rotate(-22)" text-anchor="end">1.2</text><text transform="translate(402.8 995.5) rotate(-22)" text-anchor="end">0.8</text><text transform="translate(403.7 1002.3) rotate(-22)" text-anchor="end">0.4</text><text transform="translate(404.5 1009.1) rotate(-22)" text-anchor="end">0</text><text transform="translate(405.4 1015.9) rotate(-22)" text-anchor="end">-0.4</text><path d="M403.1 979.4h2.2M404.0 986.2h2.2M404.8 993.0h2.2M405.7 999.8h2.2M406.5 1006.6h2.2M407.4 1013.4h2.2" stroke="#444" stroke-width="0.6" fill="none"/><text transform="translate(391.4 969.4) rotate(-22)" text-anchor="middle">µm</text></g>
<clipPath id="p2c"><polygon points="727.0,980.0 732.9,975.7 738.9,972.2 744.8,971.0 752.8,970.8 760.8,970.8 768.8,974.0 777.9,972.4 786.9,972.2 796.0,972.8 805.6,967.0 815.2,962.9 824.8,960.0 830.1,953.8 835.5,950.8 840.8,947.0 843.5,943.5 846.1,941.5 848.8,940.8 853.5,937.6 858.3,936.3 863.0,936.8 872.7,936.7 882.3,937.5 892.0,939.0 898.3,941.3 904.7,945.6 911.0,952.0 911.6,954.9 912.2,957.3 912.8,963.0 921.9,962.9 930.9,965.7 940.0,968.0 950.7,970.3 961.3,971.4 972.0,976.0 982.7,980.5 993.3,986.0 1004.0,993.6 1004.8,1003.2 1001.4,1006.3 998.0,1009.3 994.5,1012.4 991.1,1015.4 987.7,1018.5 984.3,1021.5 980.9,1024.5 977.4,1027.6 974.0,1030.6 970.6,1033.1 967.2,1035.5 963.8,1037.9 960.3,1040.3 956.9,1042.7 953.5,1045.1 950.1,1047.4 946.7,1049.8 943.2,1052.2 939.8,1054.8 936.4,1057.3 933.0,1059.9 929.6,1045.9 926.1,1048.2 922.7,1050.4 919.3,1052.7 915.9,1054.9 912.5,1057.2 909.0,1059.4 905.6,1061.7 902.2,1063.9 898.8,1066.2 895.4,1068.4 891.9,1069.8 888.5,1071.3 885.1,1072.8 881.7,1074.2 878.3,1075.7 874.8,1077.1 871.4,1078.5 868.0,1080.0 868.0,1080.0 864.6,1081.0 861.3,1079.9 857.9,1084.1 854.6,1082.8 851.2,1080.5 847.8,1078.2 844.5,1083.8 841.1,1081.4 837.8,1078.9 834.4,1076.5 831.0,1080.1 827.7,1077.7 824.3,1075.2 821.0,1072.8 817.6,1070.4 814.2,1068.0 810.9,1065.6 807.5,1063.1 804.2,1060.7 800.8,1058.3 797.4,1055.5 794.1,1052.7 790.7,1049.9 787.4,1047.1 784.0,1044.3 780.6,1041.5 777.3,1038.7 773.9,1035.9 770.6,1021.9 767.2,1019.0 763.8,1015.8 760.5,1012.7 757.1,1009.5 753.8,1006.4 750.4,997.6 747.0,993.8 743.7,989.9 740.3,985.9 737.0,982.0 733.6,978.0"/></clipPath>
<filter id="p2f" filterUnits="userSpaceOnUse" x="458" y="657" width="817" height="733" color-interpolation-filters="sRGB"><feGaussianBlur in="SourceGraphic" stdDeviation="2.6" result="b"/><feTurbulence type="fractalNoise" baseFrequency="0.1 0.28" numOctaves="2" seed="17" result="t"/><feColorMatrix in="t" type="matrix" values="1 0 0 0 0 1 0 0 0 0 1 0 0 0 0 0 0 0 0 1" result="tg"/><feComposite in="b" in2="tg" operator="arithmetic" k1="0" k2="1.0" k3="0.6" k4="-0.300" result="h"/><feComponentTransfer in="h" result="col"><feFuncR type="table" tableValues="0.08 0.24 0.40 0.49 0.60 0.70 0.83 0.97"/><feFuncG type="table" tableValues="0.03 0.09 0.15 0.23 0.42 0.57 0.75 0.97"/><feFuncB type="table" tableValues="0.02 0.06 0.11 0.12 0.16 0.23 0.49 0.96"/><feFuncA type="linear" slope="0" intercept="1"/></feComponentTransfer><feColorMatrix in="h" type="matrix" values="0 0 0 0 0 0 0 0 0 0 0 0 0 0 0 1 0 0 0 0" result="ha0"/><feGaussianBlur in="ha0" stdDeviation="1.3" result="ha"/><feDiffuseLighting in="ha" surfaceScale="2.5" diffuseConstant="1" lighting-color="#fff" result="lit"><feDistantLight azimuth="255" elevation="50"/></feDiffuseLighting><feComposite in="col" in2="lit" operator="arithmetic" k1="1.305" k2="0" k3="0" k4="0"/></filter>
<linearGradient id="p2lh" gradientUnits="userSpaceOnUse" x1="733.6" y1="0" x2="868.0" y2="0"><stop offset="0.000" stop-color="#f2f0ec"/><stop offset="0.100" stop-color="#f2f0ec"/><stop offset="0.150" stop-color="#c4a040"/><stop offset="0.300" stop-color="#6e2a1c"/><stop offset="0.600" stop-color="#6e2a1c"/><stop offset="0.750" stop-color="#8a4a1c"/><stop offset="0.850" stop-color="#c4a040"/><stop offset="0.950" stop-color="#e2d4a4"/><stop offset="1.000" stop-color="#f2f0ec"/></linearGradient>
<linearGradient id="p2lv" gradientUnits="userSpaceOnUse" x1="0" y1="422.5" x2="0" y2="382.5" gradientTransform="matrix(1 0.8036 0 1 0 0)"><stop offset="0" stop-color="#000" stop-opacity="0.93"/><stop offset="0.12" stop-color="#000" stop-opacity="0.62"/><stop offset="0.3" stop-color="#000" stop-opacity="0.3"/><stop offset="0.55" stop-color="#000" stop-opacity="0.07"/><stop offset="1" stop-color="#000" stop-opacity="0"/></linearGradient>
<polygon points="733.6,1012.0 868.0,1120.0 868.0,1080.0 864.6,1081.0 861.3,1079.9 857.9,1084.1 854.6,1082.8 851.2,1080.5 847.8,1078.2 844.5,1083.8 841.1,1081.4 837.8,1078.9 834.4,1076.5 831.0,1080.1 827.7,1077.7 824.3,1075.2 821.0,1072.8 817.6,1070.4 814.2,1068.0 810.9,1065.6 807.5,1063.1 804.2,1060.7 800.8,1058.3 797.4,1055.5 794.1,1052.7 790.7,1049.9 787.4,1047.1 784.0,1044.3 780.6,1041.5 777.3,1038.7 773.9,1035.9 770.6,1021.9 767.2,1019.0 763.8,1015.8 760.5,1012.7 757.1,1009.5 753.8,1006.4 750.4,997.6 747.0,993.8 743.7,989.9 740.3,985.9 737.0,982.0 733.6,978.0" fill="url(#p2lh)"/>
<polygon points="733.6,1012.0 868.0,1120.0 868.0,1080.0 864.6,1081.0 861.3,1079.9 857.9,1084.1 854.6,1082.8 851.2,1080.5 847.8,1078.2 844.5,1083.8 841.1,1081.4 837.8,1078.9 834.4,1076.5 831.0,1080.1 827.7,1077.7 824.3,1075.2 821.0,1072.8 817.6,1070.4 814.2,1068.0 810.9,1065.6 807.5,1063.1 804.2,1060.7 800.8,1058.3 797.4,1055.5 794.1,1052.7 790.7,1049.9 787.4,1047.1 784.0,1044.3 780.6,1041.5 777.3,1038.7 773.9,1035.9 770.6,1021.9 767.2,1019.0 763.8,1015.8 760.5,1012.7 757.1,1009.5 753.8,1006.4 750.4,997.6 747.0,993.8 743.7,989.9 740.3,985.9 737.0,982.0 733.6,978.0" fill="#000" filter="url(#streak)"/>
<polygon points="733.6,1012.0 868.0,1120.0 868.0,1080.0 864.6,1081.0 861.3,1079.9 857.9,1084.1 854.6,1082.8 851.2,1080.5 847.8,1078.2 844.5,1083.8 841.1,1081.4 837.8,1078.9 834.4,1076.5 831.0,1080.1 827.7,1077.7 824.3,1075.2 821.0,1072.8 817.6,1070.4 814.2,1068.0 810.9,1065.6 807.5,1063.1 804.2,1060.7 800.8,1058.3 797.4,1055.5 794.1,1052.7 790.7,1049.9 787.4,1047.1 784.0,1044.3 780.6,1041.5 777.3,1038.7 773.9,1035.9 770.6,1021.9 767.2,1019.0 763.8,1015.8 760.5,1012.7 757.1,1009.5 753.8,1006.4 750.4,997.6 747.0,993.8 743.7,989.9 740.3,985.9 737.0,982.0 733.6,978.0" fill="url(#p2lv)"/>
<linearGradient id="p2rh" gradientUnits="userSpaceOnUse" x1="868.0" y1="0" x2="1004.8" y2="0"><stop offset="0.000" stop-color="#f2f0ec"/><stop offset="0.430" stop-color="#f2f0ec"/><stop offset="0.460" stop-color="#6e2a1c"/><stop offset="1.000" stop-color="#6e2a1c"/></linearGradient>
<linearGradient id="p2rv" gradientUnits="userSpaceOnUse" x1="0" y1="1805.3" x2="0" y2="1765.3" gradientTransform="matrix(1 -0.7895 0 1 0 0)"><stop offset="0" stop-color="#000" stop-opacity="0.93"/><stop offset="0.12" stop-color="#000" stop-opacity="0.62"/><stop offset="0.3" stop-color="#000" stop-opacity="0.3"/><stop offset="0.55" stop-color="#000" stop-opacity="0.07"/><stop offset="1" stop-color="#000" stop-opacity="0"/></linearGradient>
<polygon points="868.0,1120.0 1004.8,1012.0 1004.8,1003.2 1001.4,1006.3 998.0,1009.3 994.5,1012.4 991.1,1015.4 987.7,1018.5 984.3,1021.5 980.9,1024.5 977.4,1027.6 974.0,1030.6 970.6,1033.1 967.2,1035.5 963.8,1037.9 960.3,1040.3 956.9,1042.7 953.5,1045.1 950.1,1047.4 946.7,1049.8 943.2,1052.2 939.8,1054.8 936.4,1057.3 933.0,1059.9 929.6,1045.9 926.1,1048.2 922.7,1050.4 919.3,1052.7 915.9,1054.9 912.5,1057.2 909.0,1059.4 905.6,1061.7 902.2,1063.9 898.8,1066.2 895.4,1068.4 891.9,1069.8 888.5,1071.3 885.1,1072.8 881.7,1074.2 878.3,1075.7 874.8,1077.1 871.4,1078.5 868.0,1080.0" fill="url(#p2rh)"/>
<polygon points="868.0,1120.0 1004.8,1012.0 1004.8,1003.2 1001.4,1006.3 998.0,1009.3 994.5,1012.4 991.1,1015.4 987.7,1018.5 984.3,1021.5 980.9,1024.5 977.4,1027.6 974.0,1030.6 970.6,1033.1 967.2,1035.5 963.8,1037.9 960.3,1040.3 956.9,1042.7 953.5,1045.1 950.1,1047.4 946.7,1049.8 943.2,1052.2 939.8,1054.8 936.4,1057.3 933.0,1059.9 929.6,1045.9 926.1,1048.2 922.7,1050.4 919.3,1052.7 915.9,1054.9 912.5,1057.2 909.0,1059.4 905.6,1061.7 902.2,1063.9 898.8,1066.2 895.4,1068.4 891.9,1069.8 888.5,1071.3 885.1,1072.8 881.7,1074.2 878.3,1075.7 874.8,1077.1 871.4,1078.5 868.0,1080.0" fill="#000" filter="url(#streak)"/>
<polygon points="868.0,1120.0 1004.8,1012.0 1004.8,1003.2 1001.4,1006.3 998.0,1009.3 994.5,1012.4 991.1,1015.4 987.7,1018.5 984.3,1021.5 980.9,1024.5 977.4,1027.6 974.0,1030.6 970.6,1033.1 967.2,1035.5 963.8,1037.9 960.3,1040.3 956.9,1042.7 953.5,1045.1 950.1,1047.4 946.7,1049.8 943.2,1052.2 939.8,1054.8 936.4,1057.3 933.0,1059.9 929.6,1045.9 926.1,1048.2 922.7,1050.4 919.3,1052.7 915.9,1054.9 912.5,1057.2 909.0,1059.4 905.6,1061.7 902.2,1063.9 898.8,1066.2 895.4,1068.4 891.9,1069.8 888.5,1071.3 885.1,1072.8 881.7,1074.2 878.3,1075.7 874.8,1077.1 871.4,1078.5 868.0,1080.0" fill="url(#p2rv)"/>
<g clip-path="url(#p2c)"><g transform="rotate(-30 866.5 1023.5)" filter="url(#p2f)"><g transform="rotate(30 866.5 1023.5)">
<rect x="648" y="847" width="437" height="353" fill="rgb(94,94,94)"/>
<ellipse cx="733.6" cy="975.0" rx="7" ry="4" fill="rgb(242,242,242)"/>
<ellipse cx="740.3" cy="982.9" rx="7" ry="4" fill="rgb(242,242,242)"/>
<ellipse cx="747.0" cy="990.8" rx="7" ry="4" fill="rgb(242,242,242)"/>
<ellipse cx="753.8" cy="1003.4" rx="7" ry="4" fill="rgb(165,165,165)"/>
<ellipse cx="760.5" cy="1009.7" rx="7" ry="4" fill="rgb(165,165,165)"/>
<ellipse cx="767.2" cy="1016.0" rx="7" ry="4" fill="rgb(165,165,165)"/>
<ellipse cx="773.9" cy="1032.9" rx="7" ry="4" fill="rgb(81,81,81)"/>
<ellipse cx="780.6" cy="1038.5" rx="7" ry="4" fill="rgb(81,81,81)"/>
<ellipse cx="787.4" cy="1044.1" rx="7" ry="4" fill="rgb(81,81,81)"/>
<ellipse cx="794.1" cy="1049.7" rx="7" ry="4" fill="rgb(81,81,81)"/>
<ellipse cx="800.8" cy="1055.3" rx="7" ry="4" fill="rgb(81,81,81)"/>
<ellipse cx="807.5" cy="1060.1" rx="7" ry="4" fill="rgb(81,81,81)"/>
<ellipse cx="814.2" cy="1065.0" rx="7" ry="4" fill="rgb(81,81,81)"/>
<ellipse cx="821.0" cy="1069.8" rx="7" ry="4" fill="rgb(81,81,81)"/>
<ellipse cx="827.7" cy="1074.7" rx="7" ry="4" fill="rgb(81,81,81)"/>
<ellipse cx="834.4" cy="1073.5" rx="7" ry="4" fill="rgb(114,114,114)"/>
<ellipse cx="841.1" cy="1078.4" rx="7" ry="4" fill="rgb(114,114,114)"/>
<ellipse cx="847.8" cy="1075.2" rx="7" ry="4" fill="rgb(165,165,165)"/>
<ellipse cx="854.6" cy="1079.8" rx="7" ry="4" fill="rgb(165,165,165)"/>
<ellipse cx="861.3" cy="1076.9" rx="7" ry="4" fill="rgb(216,216,216)"/>
<ellipse cx="868.0" cy="1077.0" rx="7" ry="4" fill="rgb(242,242,242)"/>
<ellipse cx="868.0" cy="1077.0" rx="7" ry="4" fill="rgb(242,242,242)"/>
<ellipse cx="874.8" cy="1074.1" rx="7" ry="4" fill="rgb(242,242,242)"/>
<ellipse cx="881.7" cy="1071.2" rx="7" ry="4" fill="rgb(242,242,242)"/>
<ellipse cx="888.5" cy="1068.3" rx="7" ry="4" fill="rgb(242,242,242)"/>
<ellipse cx="895.4" cy="1065.4" rx="7" ry="4" fill="rgb(242,242,242)"/>
<ellipse cx="902.2" cy="1060.9" rx="7" ry="4" fill="rgb(242,242,242)"/>
<ellipse cx="909.0" cy="1056.4" rx="7" ry="4" fill="rgb(242,242,242)"/>
<ellipse cx="915.9" cy="1051.9" rx="7" ry="4" fill="rgb(242,242,242)"/>
<ellipse cx="922.7" cy="1047.4" rx="7" ry="4" fill="rgb(242,242,242)"/>
<ellipse cx="929.6" cy="1042.9" rx="7" ry="4" fill="rgb(242,242,242)"/>
<ellipse cx="936.4" cy="1054.3" rx="7" ry="4" fill="rgb(81,81,81)"/>
<ellipse cx="943.2" cy="1049.2" rx="7" ry="4" fill="rgb(81,81,81)"/>
<ellipse cx="950.1" cy="1044.4" rx="7" ry="4" fill="rgb(81,81,81)"/>
<ellipse cx="956.9" cy="1039.7" rx="7" ry="4" fill="rgb(81,81,81)"/>
<ellipse cx="963.8" cy="1034.9" rx="7" ry="4" fill="rgb(81,81,81)"/>
<ellipse cx="970.6" cy="1030.1" rx="7" ry="4" fill="rgb(81,81,81)"/>
<ellipse cx="977.4" cy="1024.6" rx="7" ry="4" fill="rgb(81,81,81)"/>
<ellipse cx="984.3" cy="1018.5" rx="7" ry="4" fill="rgb(81,81,81)"/>
<ellipse cx="991.1" cy="1012.4" rx="7" ry="4" fill="rgb(81,81,81)"/>
<ellipse cx="998.0" cy="1006.3" rx="7" ry="4" fill="rgb(81,81,81)"/>
<ellipse cx="1004.8" cy="1000.2" rx="7" ry="4" fill="rgb(81,81,81)"/>
<ellipse cx="880" cy="950" rx="30" ry="12" fill="rgb(178,178,178)"/>
<ellipse cx="880" cy="942" rx="18" ry="5" fill="rgb(224,224,224)"/>
<ellipse cx="850" cy="965" rx="55" ry="10" transform="rotate(-15 850 965)" fill="rgb(81,81,81)"/>
<ellipse cx="940" cy="985" rx="65" ry="14" transform="rotate(15 940 985)" fill="rgb(140,140,140)"/>
<ellipse cx="830" cy="1003" rx="90" ry="9" transform="rotate(10 830 1003)" fill="rgb(170,170,170)"/>
<ellipse cx="800" cy="987" rx="75" ry="7" transform="rotate(10 800 987)" fill="rgb(247,247,247)"/>
<ellipse cx="750" cy="975" rx="18" ry="8" transform="rotate(10 750 975)" fill="rgb(242,242,242)"/>
<ellipse cx="850" cy="1027" rx="95" ry="11" transform="rotate(12 850 1027)" fill="rgb(38,38,38)"/>
<ellipse cx="825" cy="1027" rx="30" ry="8" transform="rotate(10 825 1027)" fill="rgb(12,12,12)"/>
<ellipse cx="778" cy="1018" rx="12" ry="6" fill="rgb(170,170,170)"/>
<ellipse cx="815" cy="1055" rx="45" ry="14" transform="rotate(20 815 1055)" fill="rgb(81,81,81)"/>
<ellipse cx="845" cy="1070" rx="30" ry="12" fill="rgb(165,165,165)"/>
<ellipse cx="900" cy="1065" rx="35" ry="22" transform="rotate(-30 900 1065)" fill="rgb(247,247,247)"/>
</g></g></g>
<path d="M733.6,1012.0L868.0,1120.0L1004.8,1012.0" stroke="#0a0606" stroke-width="1.2" fill="none"/>
<g font-family="'Liberation Sans', Arial, sans-serif" font-size="7.6" fill="#2a2a2a"><text transform="translate(815.4 1092.0) rotate(141)" text-anchor="middle">2.5</text><text transform="translate(781.8 1065.0) rotate(141)" text-anchor="middle">5</text><text transform="translate(748.2 1038.0) rotate(141)" text-anchor="middle">7.5</text><text transform="translate(784.8 1072.0) rotate(141)" text-anchor="middle" font-size="5.5">µm</text><text transform="translate(920.2 1091.0) rotate(-38)" text-anchor="middle">2.5</text><text transform="translate(954.4 1064.0) rotate(-38)" text-anchor="middle">5</text><text transform="translate(988.6 1037.0) rotate(-38)" text-anchor="middle">7.5</text><text transform="translate(1011.8 1016.0) rotate(-38)" text-anchor="middle">10</text><text transform="translate(960.4 1071.0) rotate(-38)" text-anchor="middle" font-size="5.5">µm</text><text transform="translate(863.0 1130.0) rotate(-38)" text-anchor="middle">0</text><text transform="translate(877.0 1128.0) rotate(-38)" text-anchor="middle">0</text><path d="M730.6 1011.0L725.6 971.0" stroke="#444" stroke-width="0.7" fill="none"/><text transform="translate(724.4 979.5) rotate(-22)" text-anchor="end">500</text><text transform="translate(725.4 988.0) rotate(-22)" text-anchor="end">250</text><text transform="translate(726.5 996.5) rotate(-22)" text-anchor="end">0</text><text transform="translate(727.5 1005.0) rotate(-22)" text-anchor="end">-250</text><text transform="translate(728.6 1013.5) rotate(-22)" text-anchor="end">-500</text><path d="M726.4 977.0h2.2M727.4 985.5h2.2M728.5 994.0h2.2M729.5 1002.5h2.2M730.6 1011.0h2.2" stroke="#444" stroke-width="0.6" fill="none"/><text transform="translate(714.6 967.0) rotate(-22)" text-anchor="middle">nm</text></g>
<clipPath id="p3c"><polygon points="1068.0,1001.6 1073.3,998.2 1078.7,998.2 1084.0,996.8 1089.3,993.0 1094.7,987.7 1100.0,987.0 1108.0,984.8 1116.0,982.2 1124.0,980.8 1129.3,979.1 1134.7,978.2 1140.0,977.6 1145.3,970.9 1150.7,966.8 1156.0,964.8 1161.3,961.6 1166.7,958.9 1172.0,956.8 1177.3,953.1 1182.7,950.9 1188.0,948.8 1192.3,944.9 1196.5,941.0 1200.8,937.6 1204.5,937.5 1208.3,936.8 1212.0,937.6 1217.3,939.4 1222.7,942.5 1228.0,947.0 1234.3,951.2 1240.7,955.2 1247.0,961.6 1254.0,965.1 1261.0,966.5 1268.0,972.8 1276.0,974.1 1284.0,978.8 1292.0,984.0 1297.3,981.3 1302.7,982.7 1308.0,984.0 1318.7,985.6 1329.3,985.7 1340.0,988.8 1345.0,988.3 1350.0,992.7 1355.0,997.5 1355.0,1015.4 1351.4,1016.6 1347.9,1019.1 1344.3,1021.5 1340.8,1024.0 1337.2,1026.4 1333.6,1028.9 1330.1,1031.6 1326.5,1034.3 1322.9,1039.1 1319.4,1041.8 1315.8,1044.6 1312.2,1047.3 1308.7,1050.1 1305.1,1052.8 1301.6,1055.6 1298.0,1058.3 1294.4,1062.8 1290.9,1065.5 1287.3,1068.1 1283.8,1070.8 1280.2,1073.5 1276.6,1076.2 1273.1,1078.9 1269.5,1081.5 1265.9,1081.5 1262.4,1084.1 1258.8,1086.7 1255.2,1089.2 1251.7,1091.9 1248.1,1094.6 1244.6,1097.2 1241.0,1099.9 1237.4,1102.6 1233.9,1105.2 1230.3,1107.9 1226.8,1110.6 1223.2,1113.2 1219.6,1115.9 1216.1,1118.6 1212.5,1121.2 1212.5,1121.2 1208.9,1118.5 1205.4,1115.8 1201.8,1113.1 1198.2,1110.4 1194.7,1107.7 1191.1,1104.9 1187.6,1102.2 1184.0,1099.5 1180.4,1096.8 1176.9,1094.1 1173.3,1091.4 1169.8,1088.7 1166.2,1077.0 1162.6,1074.4 1159.1,1071.9 1155.5,1069.4 1151.9,1066.8 1148.4,1064.3 1144.8,1061.9 1141.2,1059.6 1137.7,1057.2 1134.1,1054.9 1130.6,1052.5 1127.0,1050.2 1123.4,1054.0 1119.9,1051.4 1116.3,1048.2 1112.8,1045.1 1109.2,1041.9 1105.6,1038.8 1102.1,1035.6 1098.5,1032.5 1094.9,1021.8 1091.4,1019.1 1087.8,1016.5 1084.2,1013.8 1080.7,1011.1 1077.1,1008.5 1073.6,1005.9 1070.0,1003.2"/></clipPath>
<filter id="p3f" filterUnits="userSpaceOnUse" x="800" y="657.5" width="825" height="742.5" color-interpolation-filters="sRGB"><feGaussianBlur in="SourceGraphic" stdDeviation="2.6" result="b"/><feTurbulence type="fractalNoise" baseFrequency="0.1 0.28" numOctaves="2" seed="24" result="t"/><feColorMatrix in="t" type="matrix" values="1 0 0 0 0 1 0 0 0 0 1 0 0 0 0 0 0 0 0 1" result="tg"/><feComposite in="b" in2="tg" operator="arithmetic" k1="0" k2="1.0" k3="0.6" k4="-0.300" result="h"/><feComponentTransfer in="h" result="col"><feFuncR type="table" tableValues="0.08 0.24 0.40 0.49 0.60 0.70 0.83 0.97"/><feFuncG type="table" tableValues="0.03 0.09 0.15 0.23 0.42 0.57 0.75 0.97"/><feFuncB type="table" tableValues="0.02 0.06 0.11 0.12 0.16 0.23 0.49 0.96"/><feFuncA type="linear" slope="0" intercept="1"/></feComponentTransfer><feColorMatrix in="h" type="matrix" values="0 0 0 0 0 0 0 0 0 0 0 0 0 0 0 1 0 0 0 0" result="ha0"/><feGaussianBlur in="ha0" stdDeviation="1.3" result="ha"/><feDiffuseLighting in="ha" surfaceScale="2.5" diffuseConstant="1" lighting-color="#fff" result="lit"><feDistantLight azimuth="255" elevation="50"/></feDiffuseLighting><feComposite in="col" in2="lit" operator="arithmetic" k1="1.305" k2="0" k3="0" k4="0"/></filter>
<linearGradient id="p3lh" gradientUnits="userSpaceOnUse" x1="1070.0" y1="0" x2="1212.5" y2="0"><stop offset="0.000" stop-color="#c4a040"/><stop offset="0.180" stop-color="#c4a040"/><stop offset="0.200" stop-color="#6e2a1c"/><stop offset="0.360" stop-color="#6e2a1c"/><stop offset="0.380" stop-color="#c4a040"/><stop offset="0.650" stop-color="#c4a040"/><stop offset="0.700" stop-color="#6e2a1c"/><stop offset="1.000" stop-color="#6e2a1c"/></linearGradient>
<linearGradient id="p3lv" gradientUnits="userSpaceOnUse" x1="0" y1="160.0" x2="0" y2="144.0" gradientTransform="matrix(1 0.8000 0 1 0 0)"><stop offset="0" stop-color="#000" stop-opacity="0.93"/><stop offset="0.12" stop-color="#000" stop-opacity="0.62"/><stop offset="0.3" stop-color="#000" stop-opacity="0.3"/><stop offset="0.55" stop-color="#000" stop-opacity="0.07"/><stop offset="1" stop-color="#000" stop-opacity="0"/></linearGradient>
<polygon points="1070.0,1016.0 1212.5,1130.0 1212.5,1121.2 1208.9,1118.5 1205.4,1115.8 1201.8,1113.1 1198.2,1110.4 1194.7,1107.7 1191.1,1104.9 1187.6,1102.2 1184.0,1099.5 1180.4,1096.8 1176.9,1094.1 1173.3,1091.4 1169.8,1088.7 1166.2,1077.0 1162.6,1074.4 1159.1,1071.9 1155.5,1069.4 1151.9,1066.8 1148.4,1064.3 1144.8,1061.9 1141.2,1059.6 1137.7,1057.2 1134.1,1054.9 1130.6,1052.5 1127.0,1050.2 1123.4,1054.0 1119.9,1051.4 1116.3,1048.2 1112.8,1045.1 1109.2,1041.9 1105.6,1038.8 1102.1,1035.6 1098.5,1032.5 1094.9,1021.8 1091.4,1019.1 1087.8,1016.5 1084.2,1013.8 1080.7,1011.1 1077.1,1008.5 1073.6,1005.9 1070.0,1003.2" fill="url(#p3lh)"/>
<polygon points="1070.0,1016.0 1212.5,1130.0 1212.5,1121.2 1208.9,1118.5 1205.4,1115.8 1201.8,1113.1 1198.2,1110.4 1194.7,1107.7 1191.1,1104.9 1187.6,1102.2 1184.0,1099.5 1180.4,1096.8 1176.9,1094.1 1173.3,1091.4 1169.8,1088.7 1166.2,1077.0 1162.6,1074.4 1159.1,1071.9 1155.5,1069.4 1151.9,1066.8 1148.4,1064.3 1144.8,1061.9 1141.2,1059.6 1137.7,1057.2 1134.1,1054.9 1130.6,1052.5 1127.0,1050.2 1123.4,1054.0 1119.9,1051.4 1116.3,1048.2 1112.8,1045.1 1109.2,1041.9 1105.6,1038.8 1102.1,1035.6 1098.5,1032.5 1094.9,1021.8 1091.4,1019.1 1087.8,1016.5 1084.2,1013.8 1080.7,1011.1 1077.1,1008.5 1073.6,1005.9 1070.0,1003.2" fill="#000" filter="url(#streak)"/>
<polygon points="1070.0,1016.0 1212.5,1130.0 1212.5,1121.2 1208.9,1118.5 1205.4,1115.8 1201.8,1113.1 1198.2,1110.4 1194.7,1107.7 1191.1,1104.9 1187.6,1102.2 1184.0,1099.5 1180.4,1096.8 1176.9,1094.1 1173.3,1091.4 1169.8,1088.7 1166.2,1077.0 1162.6,1074.4 1159.1,1071.9 1155.5,1069.4 1151.9,1066.8 1148.4,1064.3 1144.8,1061.9 1141.2,1059.6 1137.7,1057.2 1134.1,1054.9 1130.6,1052.5 1127.0,1050.2 1123.4,1054.0 1119.9,1051.4 1116.3,1048.2 1112.8,1045.1 1109.2,1041.9 1105.6,1038.8 1102.1,1035.6 1098.5,1032.5 1094.9,1021.8 1091.4,1019.1 1087.8,1016.5 1084.2,1013.8 1080.7,1011.1 1077.1,1008.5 1073.6,1005.9 1070.0,1003.2" fill="url(#p3lv)"/>
<linearGradient id="p3rh" gradientUnits="userSpaceOnUse" x1="1212.5" y1="0" x2="1355.0" y2="0"><stop offset="0.000" stop-color="#6e2a1c"/><stop offset="0.400" stop-color="#3a1a12"/><stop offset="0.600" stop-color="#6e2a1c"/><stop offset="0.800" stop-color="#8a4a1c"/><stop offset="1.000" stop-color="#6e2a1c"/></linearGradient>
<linearGradient id="p3rv" gradientUnits="userSpaceOnUse" x1="0" y1="2087.2" x2="0" y2="2078.5" gradientTransform="matrix(1 -0.7895 0 1 0 0)"><stop offset="0" stop-color="#000" stop-opacity="0.93"/><stop offset="0.12" stop-color="#000" stop-opacity="0.62"/><stop offset="0.3" stop-color="#000" stop-opacity="0.3"/><stop offset="0.55" stop-color="#000" stop-opacity="0.07"/><stop offset="1" stop-color="#000" stop-opacity="0"/></linearGradient>
<polygon points="1212.5,1130.0 1355.0,1017.5 1355.0,1015.4 1351.4,1016.6 1347.9,1019.1 1344.3,1021.5 1340.8,1024.0 1337.2,1026.4 1333.6,1028.9 1330.1,1031.6 1326.5,1034.3 1322.9,1039.1 1319.4,1041.8 1315.8,1044.6 1312.2,1047.3 1308.7,1050.1 1305.1,1052.8 1301.6,1055.6 1298.0,1058.3 1294.4,1062.8 1290.9,1065.5 1287.3,1068.1 1283.8,1070.8 1280.2,1073.5 1276.6,1076.2 1273.1,1078.9 1269.5,1081.5 1265.9,1081.5 1262.4,1084.1 1258.8,1086.7 1255.2,1089.2 1251.7,1091.9 1248.1,1094.6 1244.6,1097.2 1241.0,1099.9 1237.4,1102.6 1233.9,1105.2 1230.3,1107.9 1226.8,1110.6 1223.2,1113.2 1219.6,1115.9 1216.1,1118.6 1212.5,1121.2" fill="url(#p3rh)"/>
<polygon points="1212.5,1130.0 1355.0,1017.5 1355.0,1015.4 1351.4,1016.6 1347.9,1019.1 1344.3,1021.5 1340.8,1024.0 1337.2,1026.4 1333.6,1028.9 1330.1,1031.6 1326.5,1034.3 1322.9,1039.1 1319.4,1041.8 1315.8,1044.6 1312.2,1047.3 1308.7,1050.1 1305.1,1052.8 1301.6,1055.6 1298.0,1058.3 1294.4,1062.8 1290.9,1065.5 1287.3,1068.1 1283.8,1070.8 1280.2,1073.5 1276.6,1076.2 1273.1,1078.9 1269.5,1081.5 1265.9,1081.5 1262.4,1084.1 1258.8,1086.7 1255.2,1089.2 1251.7,1091.9 1248.1,1094.6 1244.6,1097.2 1241.0,1099.9 1237.4,1102.6 1233.9,1105.2 1230.3,1107.9 1226.8,1110.6 1223.2,1113.2 1219.6,1115.9 1216.1,1118.6 1212.5,1121.2" fill="#000" filter="url(#streak)"/>
<polygon points="1212.5,1130.0 1355.0,1017.5 1355.0,1015.4 1351.4,1016.6 1347.9,1019.1 1344.3,1021.5 1340.8,1024.0 1337.2,1026.4 1333.6,1028.9 1330.1,1031.6 1326.5,1034.3 1322.9,1039.1 1319.4,1041.8 1315.8,1044.6 1312.2,1047.3 1308.7,1050.1 1305.1,1052.8 1301.6,1055.6 1298.0,1058.3 1294.4,1062.8 1290.9,1065.5 1287.3,1068.1 1283.8,1070.8 1280.2,1073.5 1276.6,1076.2 1273.1,1078.9 1269.5,1081.5 1265.9,1081.5 1262.4,1084.1 1258.8,1086.7 1255.2,1089.2 1251.7,1091.9 1248.1,1094.6 1244.6,1097.2 1241.0,1099.9 1237.4,1102.6 1233.9,1105.2 1230.3,1107.9 1226.8,1110.6 1223.2,1113.2 1219.6,1115.9 1216.1,1118.6 1212.5,1121.2" fill="url(#p3rv)"/>
<g clip-path="url(#p3c)"><g transform="rotate(-30 1212.5 1028.8)" filter="url(#p3f)"><g transform="rotate(30 1212.5 1028.8)">
<rect x="990" y="848" width="445" height="362" fill="rgb(81,81,81)"/>
<ellipse cx="1070.0" cy="1000.2" rx="7" ry="4" fill="rgb(165,165,165)"/>
<ellipse cx="1077.1" cy="1005.5" rx="7" ry="4" fill="rgb(165,165,165)"/>
<ellipse cx="1084.2" cy="1010.8" rx="7" ry="4" fill="rgb(165,165,165)"/>
<ellipse cx="1091.4" cy="1016.1" rx="7" ry="4" fill="rgb(165,165,165)"/>
<ellipse cx="1098.5" cy="1029.5" rx="7" ry="4" fill="rgb(81,81,81)"/>
<ellipse cx="1105.6" cy="1035.8" rx="7" ry="4" fill="rgb(81,81,81)"/>
<ellipse cx="1112.8" cy="1042.1" rx="7" ry="4" fill="rgb(81,81,81)"/>
<ellipse cx="1119.9" cy="1048.4" rx="7" ry="4" fill="rgb(81,81,81)"/>
<ellipse cx="1127.0" cy="1047.2" rx="7" ry="4" fill="rgb(165,165,165)"/>
<ellipse cx="1134.1" cy="1051.9" rx="7" ry="4" fill="rgb(165,165,165)"/>
<ellipse cx="1141.2" cy="1056.6" rx="7" ry="4" fill="rgb(165,165,165)"/>
<ellipse cx="1148.4" cy="1061.3" rx="7" ry="4" fill="rgb(165,165,165)"/>
<ellipse cx="1155.5" cy="1066.4" rx="7" ry="4" fill="rgb(165,165,165)"/>
<ellipse cx="1162.6" cy="1071.4" rx="7" ry="4" fill="rgb(165,165,165)"/>
<ellipse cx="1169.8" cy="1085.7" rx="7" ry="4" fill="rgb(81,81,81)"/>
<ellipse cx="1176.9" cy="1091.1" rx="7" ry="4" fill="rgb(81,81,81)"/>
<ellipse cx="1184.0" cy="1096.5" rx="7" ry="4" fill="rgb(81,81,81)"/>
<ellipse cx="1191.1" cy="1101.9" rx="7" ry="4" fill="rgb(81,81,81)"/>
<ellipse cx="1198.2" cy="1107.4" rx="7" ry="4" fill="rgb(81,81,81)"/>
<ellipse cx="1205.4" cy="1112.8" rx="7" ry="4" fill="rgb(81,81,81)"/>
<ellipse cx="1212.5" cy="1118.2" rx="7" ry="4" fill="rgb(81,81,81)"/>
<ellipse cx="1212.5" cy="1118.2" rx="7" ry="4" fill="rgb(81,81,81)"/>
<ellipse cx="1219.6" cy="1112.9" rx="7" ry="4" fill="rgb(81,81,81)"/>
<ellipse cx="1226.8" cy="1107.6" rx="7" ry="4" fill="rgb(81,81,81)"/>
<ellipse cx="1233.9" cy="1102.2" rx="7" ry="4" fill="rgb(81,81,81)"/>
<ellipse cx="1241.0" cy="1096.9" rx="7" ry="4" fill="rgb(81,81,81)"/>
<ellipse cx="1248.1" cy="1091.6" rx="7" ry="4" fill="rgb(81,81,81)"/>
<ellipse cx="1255.2" cy="1086.2" rx="7" ry="4" fill="rgb(81,81,81)"/>
<ellipse cx="1262.4" cy="1081.1" rx="7" ry="4" fill="rgb(81,81,81)"/>
<ellipse cx="1269.5" cy="1078.5" rx="7" ry="4" fill="rgb(45,45,45)"/>
<ellipse cx="1276.6" cy="1073.2" rx="7" ry="4" fill="rgb(45,45,45)"/>
<ellipse cx="1283.8" cy="1067.8" rx="7" ry="4" fill="rgb(45,45,45)"/>
<ellipse cx="1290.9" cy="1062.5" rx="7" ry="4" fill="rgb(45,45,45)"/>
<ellipse cx="1298.0" cy="1055.3" rx="7" ry="4" fill="rgb(81,81,81)"/>
<ellipse cx="1305.1" cy="1049.8" rx="7" ry="4" fill="rgb(81,81,81)"/>
<ellipse cx="1312.2" cy="1044.3" rx="7" ry="4" fill="rgb(81,81,81)"/>
<ellipse cx="1319.4" cy="1038.8" rx="7" ry="4" fill="rgb(81,81,81)"/>
<ellipse cx="1326.5" cy="1031.3" rx="7" ry="4" fill="rgb(114,114,114)"/>
<ellipse cx="1333.6" cy="1025.9" rx="7" ry="4" fill="rgb(114,114,114)"/>
<ellipse cx="1340.8" cy="1021.0" rx="7" ry="4" fill="rgb(114,114,114)"/>
<ellipse cx="1347.9" cy="1016.1" rx="7" ry="4" fill="rgb(114,114,114)"/>
<ellipse cx="1355.0" cy="1012.4" rx="7" ry="4" fill="rgb(81,81,81)"/>
<ellipse cx="1212" cy="950" rx="32" ry="14" fill="rgb(178,178,178)"/>
<ellipse cx="1212" cy="942" rx="15" ry="6" fill="rgb(224,224,224)"/>
<ellipse cx="1215" cy="968" rx="10" ry="6" fill="rgb(247,247,247)"/>
<ellipse cx="1120" cy="995" rx="55" ry="12" transform="rotate(-15 1120 995)" fill="rgb(165,165,165)"/>
<ellipse cx="1175" cy="992" rx="16" ry="8" fill="rgb(247,247,247)"/>
<ellipse cx="1265" cy="982" rx="35" ry="12" transform="rotate(20 1265 982)" fill="rgb(25,25,25)"/>
<ellipse cx="1160" cy="1020" rx="65" ry="12" transform="rotate(-15 1160 1020)" fill="rgb(76,76,76)"/>
<ellipse cx="1232" cy="1030" rx="95" ry="9" transform="rotate(-15 1232 1030)" fill="rgb(242,242,242)"/>
<ellipse cx="1310" cy="995" rx="30" ry="12" transform="rotate(-20 1310 995)" fill="rgb(242,242,242)"/>
<ellipse cx="1176" cy="1062" rx="50" ry="14" transform="rotate(-20 1176 1062)" fill="rgb(160,160,160)"/>
<ellipse cx="1268" cy="1070" rx="40" ry="20" transform="rotate(-30 1268 1070)" fill="rgb(63,63,63)"/>
<ellipse cx="1196" cy="1088" rx="30" ry="12" transform="rotate(-20 1196 1088)" fill="rgb(153,153,153)"/>
<ellipse cx="1205" cy="1110" rx="20" ry="10" fill="rgb(89,89,89)"/>
</g></g></g>
<path d="M1070.0,1016.0L1212.5,1130.0L1355.0,1017.5" stroke="#0a0606" stroke-width="1.2" fill="none"/>
<g font-family="'Liberation Sans', Arial, sans-serif" font-size="7.6" fill="#2a2a2a"><text transform="translate(1157.9 1100.5) rotate(141)" text-anchor="middle">2.5</text><text transform="translate(1122.2 1072.0) rotate(141)" text-anchor="middle">5</text><text transform="translate(1086.6 1043.5) rotate(141)" text-anchor="middle">7.5</text><text transform="translate(1125.2 1079.0) rotate(141)" text-anchor="middle" font-size="5.5">µm</text><text transform="translate(1266.1 1099.9) rotate(-38)" text-anchor="middle">2.5</text><text transform="translate(1301.8 1071.8) rotate(-38)" text-anchor="middle">5</text><text transform="translate(1337.4 1043.6) rotate(-38)" text-anchor="middle">7.5</text><text transform="translate(1362.0 1021.5) rotate(-38)" text-anchor="middle">10</text><text transform="translate(1307.8 1078.8) rotate(-38)" text-anchor="middle" font-size="5.5">µm</text><text transform="translate(1207.5 1140.0) rotate(-38)" text-anchor="middle">0</text><text transform="translate(1221.5 1138.0) rotate(-38)" text-anchor="middle">0</text><path d="M1067.0 1015.0L1062.0 975.0" stroke="#444" stroke-width="0.7" fill="none"/><text transform="translate(1060.8 983.5) rotate(-22)" text-anchor="end">800</text><text transform="translate(1061.8 992.0) rotate(-22)" text-anchor="end">400</text><text transform="translate(1062.9 1000.5) rotate(-22)" text-anchor="end">0</text><text transform="translate(1063.9 1009.0) rotate(-22)" text-anchor="end">-400</text><text transform="translate(1065.0 1017.5) rotate(-22)" text-anchor="end">-800</text><path d="M1062.8 981.0h2.2M1063.8 989.5h2.2M1064.9 998.0h2.2M1065.9 1006.5h2.2M1067.0 1015.0h2.2" stroke="#444" stroke-width="0.6" fill="none"/><text transform="translate(1051.0 971.0) rotate(-22)" text-anchor="middle">nm</text></g>
<clipPath id="p4c"><polygon points="1385.6,985.2 1393.1,979.9 1400.5,980.1 1408.0,978.8 1418.7,977.6 1429.3,975.5 1440.0,975.6 1449.6,966.8 1459.2,958.3 1468.8,953.0 1472.5,951.9 1476.3,950.7 1480.0,950.0 1485.3,945.6 1490.7,941.7 1496.0,942.0 1504.0,938.6 1512.0,937.1 1520.0,937.0 1521.0,934.9 1522.0,933.0 1523.0,934.0 1524.7,933.6 1526.3,934.4 1528.0,937.0 1533.3,937.0 1538.7,938.4 1544.0,940.4 1546.7,942.5 1549.3,946.3 1552.0,951.6 1560.0,954.4 1568.0,959.2 1576.0,964.4 1584.0,962.7 1592.0,963.1 1600.0,962.8 1608.0,966.6 1616.0,970.4 1624.0,977.0 1632.0,976.4 1640.0,978.0 1648.0,980.4 1653.3,978.9 1658.7,976.5 1664.0,978.8 1665.0,978.5 1636.8,996.0 1611.4,1018.3 1587.5,1046.6 1552.2,1053.5 1524.0,1058.0 1524.0,1058.0 1482.3,1047.8 1440.6,1034.5 1385.0,985.5"/></clipPath>
<filter id="p4f" filterUnits="userSpaceOnUse" x="1115" y="655" width="820" height="735" color-interpolation-filters="sRGB"><feGaussianBlur in="SourceGraphic" stdDeviation="2.6" result="b"/><feTurbulence type="fractalNoise" baseFrequency="0.1 0.28" numOctaves="2" seed="31" result="t"/><feColorMatrix in="t" type="matrix" values="1 0 0 0 0 1 0 0 0 0 1 0 0 0 0 0 0 0 0 1" result="tg"/><feComposite in="b" in2="tg" operator="arithmetic" k1="0" k2="1.0" k3="0.6" k4="-0.300" result="h"/><feComponentTransfer in="h" result="col"><feFuncR type="table" tableValues="0.08 0.24 0.40 0.49 0.60 0.70 0.83 0.97"/><feFuncG type="table" tableValues="0.03 0.09 0.15 0.23 0.42 0.57 0.75 0.97"/><feFuncB type="table" tableValues="0.02 0.06 0.11 0.12 0.16 0.23 0.49 0.96"/><feFuncA type="linear" slope="0" intercept="1"/></feComponentTransfer><feColorMatrix in="h" type="matrix" values="0 0 0 0 0 0 0 0 0 0 0 0 0 0 0 1 0 0 0 0" result="ha0"/><feGaussianBlur in="ha0" stdDeviation="1.3" result="ha"/><feDiffuseLighting in="ha" surfaceScale="2.5" diffuseConstant="1" lighting-color="#fff" result="lit"><feDistantLight azimuth="255" elevation="50"/></feDiffuseLighting><feComposite in="col" in2="lit" operator="arithmetic" k1="1.305" k2="0" k3="0" k4="0"/></filter>
<linearGradient id="p4lh" gradientUnits="userSpaceOnUse" x1="1385.0" y1="0" x2="1524.0" y2="0"><stop offset="0.000" stop-color="#c4a040"/><stop offset="0.100" stop-color="#8a4a1c"/><stop offset="0.380" stop-color="#3a1a12"/><stop offset="0.420" stop-color="#f2f0ec"/><stop offset="1.000" stop-color="#f2f0ec"/></linearGradient>
<linearGradient id="p4lv" gradientUnits="userSpaceOnUse" x1="0" y1="-58.6" x2="0" y2="-120.6" gradientTransform="matrix(1 0.7734 0 1 0 0)"><stop offset="0" stop-color="#000" stop-opacity="0.93"/><stop offset="0.12" stop-color="#000" stop-opacity="0.62"/><stop offset="0.3" stop-color="#000" stop-opacity="0.3"/><stop offset="0.55" stop-color="#000" stop-opacity="0.07"/><stop offset="1" stop-color="#000" stop-opacity="0"/></linearGradient>
<polygon points="1385.0,1012.5 1524.0,1120.0 1524.0,1058.0 1482.3,1047.8 1440.6,1034.5 1385.0,985.5" fill="url(#p4lh)"/>
<polygon points="1385.0,1012.5 1524.0,1120.0 1524.0,1058.0 1482.3,1047.8 1440.6,1034.5 1385.0,985.5" fill="#000" filter="url(#streak)"/>
<polygon points="1385.0,1012.5 1524.0,1120.0 1524.0,1058.0 1482.3,1047.8 1440.6,1034.5 1385.0,985.5" fill="url(#p4lv)"/>
<linearGradient id="p4rh" gradientUnits="userSpaceOnUse" x1="1524.0" y1="0" x2="1665.0" y2="0"><stop offset="0.000" stop-color="#f2f0ec"/><stop offset="0.400" stop-color="#e2d4a4"/><stop offset="0.450" stop-color="#3a1a12"/><stop offset="0.600" stop-color="#3a1a12"/><stop offset="0.630" stop-color="#e2d4a4"/><stop offset="0.750" stop-color="#f2f0ec"/><stop offset="0.800" stop-color="#3a1a12"/><stop offset="0.900" stop-color="#6e2a1c"/><stop offset="0.950" stop-color="#f2f0ec"/><stop offset="1.000" stop-color="#f2f0ec"/></linearGradient>
<linearGradient id="p4rv" gradientUnits="userSpaceOnUse" x1="0" y1="2281.9" x2="0" y2="2219.9" gradientTransform="matrix(1 -0.7624 0 1 0 0)"><stop offset="0" stop-color="#000" stop-opacity="0.93"/><stop offset="0.12" stop-color="#000" stop-opacity="0.62"/><stop offset="0.3" stop-color="#000" stop-opacity="0.3"/><stop offset="0.55" stop-color="#000" stop-opacity="0.07"/><stop offset="1" stop-color="#000" stop-opacity="0"/></linearGradient>
<polygon points="1524.0,1120.0 1665.0,1012.5 1665.0,978.5 1636.8,996.0 1611.4,1018.3 1587.5,1046.6 1552.2,1053.5 1524.0,1058.0" fill="url(#p4rh)"/>
<polygon points="1524.0,1120.0 1665.0,1012.5 1665.0,978.5 1636.8,996.0 1611.4,1018.3 1587.5,1046.6 1552.2,1053.5 1524.0,1058.0" fill="#000" filter="url(#streak)"/>
<polygon points="1524.0,1120.0 1665.0,1012.5 1665.0,978.5 1636.8,996.0 1611.4,1018.3 1587.5,1046.6 1552.2,1053.5 1524.0,1058.0" fill="url(#p4rv)"/>
<g clip-path="url(#p4c)"><g transform="rotate(-30 1525.0 1022.5)" filter="url(#p4f)"><g transform="rotate(30 1525.0 1022.5)">
<rect x="1305" y="845" width="440" height="355" fill="rgb(119,119,119)"/>
<ellipse cx="1385.0" cy="982.5" rx="7" ry="4" fill="rgb(165,165,165)"/>
<ellipse cx="1392.0" cy="988.6" rx="7" ry="4" fill="rgb(165,165,165)"/>
<ellipse cx="1398.9" cy="994.8" rx="7" ry="4" fill="rgb(114,114,114)"/>
<ellipse cx="1405.8" cy="1000.9" rx="7" ry="4" fill="rgb(114,114,114)"/>
<ellipse cx="1412.8" cy="1007.0" rx="7" ry="4" fill="rgb(114,114,114)"/>
<ellipse cx="1419.8" cy="1013.1" rx="7" ry="4" fill="rgb(114,114,114)"/>
<ellipse cx="1426.7" cy="1019.3" rx="7" ry="4" fill="rgb(114,114,114)"/>
<ellipse cx="1433.7" cy="1025.4" rx="7" ry="4" fill="rgb(114,114,114)"/>
<ellipse cx="1440.6" cy="1031.5" rx="7" ry="4" fill="rgb(45,45,45)"/>
<ellipse cx="1447.5" cy="1033.7" rx="7" ry="4" fill="rgb(242,242,242)"/>
<ellipse cx="1454.5" cy="1035.9" rx="7" ry="4" fill="rgb(242,242,242)"/>
<ellipse cx="1461.5" cy="1038.1" rx="7" ry="4" fill="rgb(242,242,242)"/>
<ellipse cx="1468.4" cy="1040.3" rx="7" ry="4" fill="rgb(242,242,242)"/>
<ellipse cx="1475.3" cy="1042.5" rx="7" ry="4" fill="rgb(242,242,242)"/>
<ellipse cx="1482.3" cy="1044.8" rx="7" ry="4" fill="rgb(242,242,242)"/>
<ellipse cx="1489.2" cy="1046.5" rx="7" ry="4" fill="rgb(242,242,242)"/>
<ellipse cx="1496.2" cy="1048.2" rx="7" ry="4" fill="rgb(242,242,242)"/>
<ellipse cx="1503.2" cy="1049.9" rx="7" ry="4" fill="rgb(242,242,242)"/>
<ellipse cx="1510.1" cy="1051.6" rx="7" ry="4" fill="rgb(242,242,242)"/>
<ellipse cx="1517.0" cy="1053.3" rx="7" ry="4" fill="rgb(242,242,242)"/>
<ellipse cx="1524.0" cy="1055.0" rx="7" ry="4" fill="rgb(242,242,242)"/>
<ellipse cx="1524.0" cy="1055.0" rx="7" ry="4" fill="rgb(242,242,242)"/>
<ellipse cx="1531.0" cy="1053.9" rx="7" ry="4" fill="rgb(242,242,242)"/>
<ellipse cx="1538.1" cy="1052.8" rx="7" ry="4" fill="rgb(242,242,242)"/>
<ellipse cx="1545.2" cy="1051.6" rx="7" ry="4" fill="rgb(242,242,242)"/>
<ellipse cx="1552.2" cy="1050.5" rx="7" ry="4" fill="rgb(242,242,242)"/>
<ellipse cx="1559.2" cy="1049.1" rx="7" ry="4" fill="rgb(242,242,242)"/>
<ellipse cx="1566.3" cy="1047.8" rx="7" ry="4" fill="rgb(242,242,242)"/>
<ellipse cx="1573.3" cy="1046.4" rx="7" ry="4" fill="rgb(242,242,242)"/>
<ellipse cx="1580.4" cy="1045.0" rx="7" ry="4" fill="rgb(216,216,216)"/>
<ellipse cx="1587.5" cy="1043.6" rx="7" ry="4" fill="rgb(45,45,45)"/>
<ellipse cx="1594.5" cy="1035.3" rx="7" ry="4" fill="rgb(45,45,45)"/>
<ellipse cx="1601.5" cy="1027.0" rx="7" ry="4" fill="rgb(45,45,45)"/>
<ellipse cx="1608.6" cy="1018.7" rx="7" ry="4" fill="rgb(45,45,45)"/>
<ellipse cx="1615.7" cy="1011.6" rx="7" ry="4" fill="rgb(216,216,216)"/>
<ellipse cx="1622.7" cy="1005.4" rx="7" ry="4" fill="rgb(216,216,216)"/>
<ellipse cx="1629.8" cy="999.2" rx="7" ry="4" fill="rgb(242,242,242)"/>
<ellipse cx="1636.8" cy="993.0" rx="7" ry="4" fill="rgb(45,45,45)"/>
<ellipse cx="1643.8" cy="988.6" rx="7" ry="4" fill="rgb(45,45,45)"/>
<ellipse cx="1650.9" cy="984.2" rx="7" ry="4" fill="rgb(81,81,81)"/>
<ellipse cx="1658.0" cy="979.9" rx="7" ry="4" fill="rgb(242,242,242)"/>
<ellipse cx="1665.0" cy="975.5" rx="7" ry="4" fill="rgb(242,242,242)"/>
<ellipse cx="1512" cy="948" rx="40" ry="10" transform="rotate(-10 1512 948)" fill="rgb(170,170,170)"/>
<ellipse cx="1472" cy="968" rx="32" ry="8" transform="rotate(-20 1472 968)" fill="rgb(76,76,76)"/>
<ellipse cx="1410" cy="1003" rx="24" ry="14" transform="rotate(-20 1410 1003)" fill="rgb(51,51,51)"/>
<ellipse cx="1512" cy="978" rx="120" ry="15" transform="rotate(-5 1512 978)" fill="rgb(165,165,165)"/>
<ellipse cx="1560" cy="980" rx="30" ry="8" fill="rgb(216,216,216)"/>
<ellipse cx="1536" cy="1006" rx="64" ry="10" transform="rotate(10 1536 1006)" fill="rgb(25,25,25)"/>
<ellipse cx="1416" cy="1012" rx="24" ry="16" fill="rgb(81,81,81)"/>
<ellipse cx="1512" cy="1034" rx="56" ry="16" transform="rotate(10 1512 1034)" fill="rgb(165,165,165)"/>
<ellipse cx="1576" cy="1046" rx="40" ry="12" transform="rotate(-10 1576 1046)" fill="rgb(20,20,20)"/>
<ellipse cx="1612" cy="998" rx="44" ry="14" fill="rgb(165,165,165)"/>
<ellipse cx="1648" cy="992" rx="16" ry="12" fill="rgb(242,242,242)"/>
<ellipse cx="1540" cy="1060" rx="40" ry="10" transform="rotate(-10 1540 1060)" fill="rgb(242,242,242)"/>
<ellipse cx="1480" cy="1045" rx="30" ry="8" transform="rotate(35 1480 1045)" fill="rgb(242,242,242)"/>
</g></g></g>
<path d="M1385.0,1012.5L1524.0,1120.0L1665.0,1012.5" stroke="#0a0606" stroke-width="1.2" fill="none"/>
<g font-family="'Liberation Sans', Arial, sans-serif" font-size="7.6" fill="#2a2a2a"><text transform="translate(1470.2 1092.1) rotate(141)" text-anchor="middle">2.5</text><text transform="translate(1435.5 1065.2) rotate(141)" text-anchor="middle">5</text><text transform="translate(1400.8 1038.4) rotate(141)" text-anchor="middle">7.5</text><text transform="translate(1438.5 1072.2) rotate(141)" text-anchor="middle" font-size="5.5">µm</text><text transform="translate(1577.2 1091.1) rotate(-38)" text-anchor="middle">2.5</text><text transform="translate(1612.5 1064.2) rotate(-38)" text-anchor="middle">5</text><text transform="translate(1647.8 1037.4) rotate(-38)" text-anchor="middle">7.5</text><text transform="translate(1672.0 1016.5) rotate(-38)" text-anchor="middle">10</text><text transform="translate(1618.5 1071.2) rotate(-38)" text-anchor="middle" font-size="5.5">µm</text><text transform="translate(1519.0 1130.0) rotate(-38)" text-anchor="middle">0</text><text transform="translate(1533.0 1128.0) rotate(-38)" text-anchor="middle">0</text><path d="M1382.0 1011.5L1377.0 971.5" stroke="#444" stroke-width="0.7" fill="none"/><text transform="translate(1375.8 980.0) rotate(-22)" text-anchor="end">200</text><text transform="translate(1377.2 991.3) rotate(-22)" text-anchor="end">0</text><text transform="translate(1378.6 1002.7) rotate(-22)" text-anchor="end">-200</text><text transform="translate(1380.0 1014.0) rotate(-22)" text-anchor="end">-400</text><path d="M1377.8 977.5h2.2M1379.2 988.8h2.2M1380.6 1000.2h2.2M1382.0 1011.5h2.2" stroke="#444" stroke-width="0.6" fill="none"/><text transform="translate(1366.0 967.5) rotate(-22)" text-anchor="middle">nm</text></g>
<clipPath id="p5c"><polygon points="1697.6,975.2 1705.1,972.0 1712.5,969.9 1720.0,968.8 1728.0,963.5 1736.0,956.5 1744.0,956.0 1749.3,953.3 1754.7,950.1 1760.0,951.0 1770.7,949.0 1781.3,947.1 1792.0,946.4 1797.3,942.2 1802.7,938.9 1808.0,938.4 1813.3,933.8 1818.7,930.1 1824.0,928.8 1829.9,926.1 1835.7,923.8 1841.6,922.4 1846.4,922.0 1851.2,923.9 1856.0,925.6 1864.0,926.1 1872.0,932.3 1880.0,936.8 1893.3,938.5 1906.7,941.6 1920.0,944.8 1930.7,947.9 1941.3,955.3 1952.0,960.8 1964.8,964.3 1977.6,972.9 1990.4,980.0 1987.5,980.0 1959.0,997.5 1937.6,1009.4 1909.1,1031.9 1887.8,1046.8 1862.1,1064.0 1845.0,1059.5 1845.0,1059.5 1831.0,1057.5 1789.0,1025.5 1747.0,1000.5 1719.0,984.5 1705.0,977.5"/></clipPath>
<filter id="p5f" filterUnits="userSpaceOnUse" x="1427.5" y="642.5" width="832.5" height="745.0" color-interpolation-filters="sRGB"><feGaussianBlur in="SourceGraphic" stdDeviation="2.6" result="b"/><feTurbulence type="fractalNoise" baseFrequency="0.1 0.28" numOctaves="2" seed="38" result="t"/><feColorMatrix in="t" type="matrix" values="1 0 0 0 0 1 0 0 0 0 1 0 0 0 0 0 0 0 0 1" result="tg"/><feComposite in="b" in2="tg" operator="arithmetic" k1="0" k2="1.0" k3="0.6" k4="-0.300" result="h"/><feComponentTransfer in="h" result="col"><feFuncR type="table" tableValues="0.08 0.24 0.40 0.49 0.60 0.70 0.83 0.97"/><feFuncG type="table" tableValues="0.03 0.09 0.15 0.23 0.42 0.57 0.75 0.97"/><feFuncB type="table" tableValues="0.02 0.06 0.11 0.12 0.16 0.23 0.49 0.96"/><feFuncA type="linear" slope="0" intercept="1"/></feComponentTransfer><feColorMatrix in="h" type="matrix" values="0 0 0 0 0 0 0 0 0 0 0 0 0 0 0 1 0 0 0 0" result="ha0"/><feGaussianBlur in="ha0" stdDeviation="1.3" result="ha"/><feDiffuseLighting in="ha" surfaceScale="2.5" diffuseConstant="1" lighting-color="#fff" result="lit"><feDistantLight azimuth="255" elevation="50"/></feDiffuseLighting><feComposite in="col" in2="lit" operator="arithmetic" k1="1.305" k2="0" k3="0" k4="0"/></filter>
<linearGradient id="p5lh" gradientUnits="userSpaceOnUse" x1="1705.0" y1="0" x2="1845.0" y2="0"><stop offset="0.000" stop-color="#c4a040"/><stop offset="0.120" stop-color="#c4a040"/><stop offset="0.130" stop-color="#6e2a1c"/><stop offset="0.280" stop-color="#6e2a1c"/><stop offset="0.300" stop-color="#c4a040"/><stop offset="0.900" stop-color="#c4a040"/><stop offset="0.920" stop-color="#6e2a1c"/><stop offset="1.000" stop-color="#6e2a1c"/></linearGradient>
<linearGradient id="p5lv" gradientUnits="userSpaceOnUse" x1="0" y1="-332.1" x2="0" y2="-390.1" gradientTransform="matrix(1 0.7857 0 1 0 0)"><stop offset="0" stop-color="#000" stop-opacity="0.93"/><stop offset="0.12" stop-color="#000" stop-opacity="0.62"/><stop offset="0.3" stop-color="#000" stop-opacity="0.3"/><stop offset="0.55" stop-color="#000" stop-opacity="0.07"/><stop offset="1" stop-color="#000" stop-opacity="0"/></linearGradient>
<polygon points="1705.0,1007.5 1845.0,1117.5 1845.0,1059.5 1831.0,1057.5 1789.0,1025.5 1747.0,1000.5 1719.0,984.5 1705.0,977.5" fill="url(#p5lh)"/>
<polygon points="1705.0,1007.5 1845.0,1117.5 1845.0,1059.5 1831.0,1057.5 1789.0,1025.5 1747.0,1000.5 1719.0,984.5 1705.0,977.5" fill="#000" filter="url(#streak)"/>
<polygon points="1705.0,1007.5 1845.0,1117.5 1845.0,1059.5 1831.0,1057.5 1789.0,1025.5 1747.0,1000.5 1719.0,984.5 1705.0,977.5" fill="url(#p5lv)"/>
<linearGradient id="p5rh" gradientUnits="userSpaceOnUse" x1="1845.0" y1="0" x2="1987.5" y2="0"><stop offset="0.000" stop-color="#160c0a"/><stop offset="0.250" stop-color="#160c0a"/><stop offset="0.270" stop-color="#6e2a1c"/><stop offset="0.400" stop-color="#6e2a1c"/><stop offset="0.420" stop-color="#c4a040"/><stop offset="0.580" stop-color="#c4a040"/><stop offset="0.600" stop-color="#160c0a"/><stop offset="0.720" stop-color="#160c0a"/><stop offset="0.740" stop-color="#c4a040"/><stop offset="1.000" stop-color="#c4a040"/></linearGradient>
<linearGradient id="p5rv" gradientUnits="userSpaceOnUse" x1="0" y1="2574.1" x2="0" y2="2516.1" gradientTransform="matrix(1 -0.7895 0 1 0 0)"><stop offset="0" stop-color="#000" stop-opacity="0.93"/><stop offset="0.12" stop-color="#000" stop-opacity="0.62"/><stop offset="0.3" stop-color="#000" stop-opacity="0.3"/><stop offset="0.55" stop-color="#000" stop-opacity="0.07"/><stop offset="1" stop-color="#000" stop-opacity="0"/></linearGradient>
<polygon points="1845.0,1117.5 1987.5,1005.0 1987.5,980.0 1959.0,997.5 1937.6,1009.4 1909.1,1031.9 1887.8,1046.8 1862.1,1064.0 1845.0,1059.5" fill="url(#p5rh)"/>
<polygon points="1845.0,1117.5 1987.5,1005.0 1987.5,980.0 1959.0,997.5 1937.6,1009.4 1909.1,1031.9 1887.8,1046.8 1862.1,1064.0 1845.0,1059.5" fill="#000" filter="url(#streak)"/>
<polygon points="1845.0,1117.5 1987.5,1005.0 1987.5,980.0 1959.0,997.5 1937.6,1009.4 1909.1,1031.9 1887.8,1046.8 1862.1,1064.0 1845.0,1059.5" fill="url(#p5rv)"/>
<g clip-path="url(#p5c)"><g transform="rotate(-30 1843.8 1015.0)" filter="url(#p5f)"><g transform="rotate(30 1843.8 1015.0)">
<rect x="1618" y="832" width="452" height="365" fill="rgb(119,119,119)"/>
<ellipse cx="1705.0" cy="974.5" rx="7" ry="4" fill="rgb(165,165,165)"/>
<ellipse cx="1712.0" cy="978.0" rx="7" ry="4" fill="rgb(165,165,165)"/>
<ellipse cx="1719.0" cy="981.5" rx="7" ry="4" fill="rgb(165,165,165)"/>
<ellipse cx="1726.0" cy="985.5" rx="7" ry="4" fill="rgb(81,81,81)"/>
<ellipse cx="1733.0" cy="989.5" rx="7" ry="4" fill="rgb(81,81,81)"/>
<ellipse cx="1740.0" cy="993.5" rx="7" ry="4" fill="rgb(81,81,81)"/>
<ellipse cx="1747.0" cy="997.5" rx="7" ry="4" fill="rgb(165,165,165)"/>
<ellipse cx="1754.0" cy="1001.7" rx="7" ry="4" fill="rgb(165,165,165)"/>
<ellipse cx="1761.0" cy="1005.8" rx="7" ry="4" fill="rgb(165,165,165)"/>
<ellipse cx="1768.0" cy="1010.0" rx="7" ry="4" fill="rgb(165,165,165)"/>
<ellipse cx="1775.0" cy="1014.2" rx="7" ry="4" fill="rgb(165,165,165)"/>
<ellipse cx="1782.0" cy="1018.3" rx="7" ry="4" fill="rgb(165,165,165)"/>
<ellipse cx="1789.0" cy="1022.5" rx="7" ry="4" fill="rgb(165,165,165)"/>
<ellipse cx="1796.0" cy="1027.8" rx="7" ry="4" fill="rgb(165,165,165)"/>
<ellipse cx="1803.0" cy="1033.2" rx="7" ry="4" fill="rgb(165,165,165)"/>
<ellipse cx="1810.0" cy="1038.5" rx="7" ry="4" fill="rgb(165,165,165)"/>
<ellipse cx="1817.0" cy="1043.8" rx="7" ry="4" fill="rgb(165,165,165)"/>
<ellipse cx="1824.0" cy="1049.2" rx="7" ry="4" fill="rgb(165,165,165)"/>
<ellipse cx="1831.0" cy="1054.5" rx="7" ry="4" fill="rgb(165,165,165)"/>
<ellipse cx="1838.0" cy="1055.5" rx="7" ry="4" fill="rgb(81,81,81)"/>
<ellipse cx="1845.0" cy="1056.5" rx="7" ry="4" fill="rgb(81,81,81)"/>
<ellipse cx="1845.0" cy="1056.5" rx="7" ry="4" fill="rgb(15,15,15)"/>
<ellipse cx="1852.1" cy="1058.4" rx="7" ry="4" fill="rgb(15,15,15)"/>
<ellipse cx="1859.2" cy="1060.2" rx="7" ry="4" fill="rgb(15,15,15)"/>
<ellipse cx="1866.4" cy="1058.1" rx="7" ry="4" fill="rgb(15,15,15)"/>
<ellipse cx="1873.5" cy="1053.3" rx="7" ry="4" fill="rgb(15,15,15)"/>
<ellipse cx="1880.6" cy="1048.5" rx="7" ry="4" fill="rgb(15,15,15)"/>
<ellipse cx="1887.8" cy="1043.8" rx="7" ry="4" fill="rgb(81,81,81)"/>
<ellipse cx="1894.9" cy="1038.8" rx="7" ry="4" fill="rgb(81,81,81)"/>
<ellipse cx="1902.0" cy="1033.8" rx="7" ry="4" fill="rgb(81,81,81)"/>
<ellipse cx="1909.1" cy="1028.9" rx="7" ry="4" fill="rgb(165,165,165)"/>
<ellipse cx="1916.2" cy="1023.2" rx="7" ry="4" fill="rgb(165,165,165)"/>
<ellipse cx="1923.4" cy="1017.6" rx="7" ry="4" fill="rgb(165,165,165)"/>
<ellipse cx="1930.5" cy="1012.0" rx="7" ry="4" fill="rgb(15,15,15)"/>
<ellipse cx="1937.6" cy="1006.4" rx="7" ry="4" fill="rgb(15,15,15)"/>
<ellipse cx="1944.8" cy="1002.4" rx="7" ry="4" fill="rgb(15,15,15)"/>
<ellipse cx="1951.9" cy="998.5" rx="7" ry="4" fill="rgb(165,165,165)"/>
<ellipse cx="1959.0" cy="994.5" rx="7" ry="4" fill="rgb(165,165,165)"/>
<ellipse cx="1966.1" cy="990.1" rx="7" ry="4" fill="rgb(165,165,165)"/>
<ellipse cx="1973.2" cy="985.8" rx="7" ry="4" fill="rgb(165,165,165)"/>
<ellipse cx="1980.4" cy="981.4" rx="7" ry="4" fill="rgb(165,165,165)"/>
<ellipse cx="1987.5" cy="977.0" rx="7" ry="4" fill="rgb(165,165,165)"/>
<ellipse cx="1840" cy="936" rx="48" ry="12" transform="rotate(-5 1840 936)" fill="rgb(191,191,191)"/>
<ellipse cx="1784" cy="957" rx="32" ry="10" transform="rotate(-20 1784 957)" fill="rgb(247,247,247)"/>
<ellipse cx="1896" cy="946" rx="24" ry="6" transform="rotate(10 1896 946)" fill="rgb(216,216,216)"/>
<ellipse cx="1840" cy="984" rx="80" ry="18" transform="rotate(10 1840 984)" fill="rgb(76,76,76)"/>
<ellipse cx="1912" cy="996" rx="72" ry="16" transform="rotate(10 1912 996)" fill="rgb(81,81,81)"/>
<ellipse cx="1737" cy="972" rx="38" ry="14" transform="rotate(-20 1737 972)" fill="rgb(165,165,165)"/>
<ellipse cx="1756" cy="992" rx="36" ry="10" transform="rotate(-20 1756 992)" fill="rgb(12,12,12)"/>
<ellipse cx="1796" cy="1009" rx="44" ry="17" transform="rotate(-20 1796 1009)" fill="rgb(165,165,165)"/>
<ellipse cx="1920" cy="984" rx="64" ry="18" fill="rgb(178,178,178)"/>
<ellipse cx="1940" cy="1012" rx="12" ry="8" fill="rgb(12,12,12)"/>
<ellipse cx="1856" cy="1036" rx="80" ry="22" transform="rotate(-10 1856 1036)" fill="rgb(165,165,165)"/>
<ellipse cx="1860" cy="1064" rx="28" ry="12" transform="rotate(-30 1860 1064)" fill="rgb(25,25,25)"/>
</g></g></g>
<path d="M1705.0,1007.5L1845.0,1117.5L1987.5,1005.0" stroke="#0a0606" stroke-width="1.2" fill="none"/>
<g font-family="'Liberation Sans', Arial, sans-serif" font-size="7.6" fill="#2a2a2a"><text transform="translate(1791.0 1089.0) rotate(141)" text-anchor="middle">2.5</text><text transform="translate(1756.0 1061.5) rotate(141)" text-anchor="middle">5</text><text transform="translate(1721.0 1034.0) rotate(141)" text-anchor="middle">7.5</text><text transform="translate(1759.0 1068.5) rotate(141)" text-anchor="middle" font-size="5.5">µm</text><text transform="translate(1898.6 1087.4) rotate(-38)" text-anchor="middle">2.5</text><text transform="translate(1934.2 1059.2) rotate(-38)" text-anchor="middle">5</text><text transform="translate(1969.9 1031.1) rotate(-38)" text-anchor="middle">7.5</text><text transform="translate(1994.5 1009.0) rotate(-38)" text-anchor="middle">10</text><text transform="translate(1940.2 1066.2) rotate(-38)" text-anchor="middle" font-size="5.5">µm</text><text transform="translate(1840.0 1127.5) rotate(-38)" text-anchor="middle">0</text><text transform="translate(1854.0 1125.5) rotate(-38)" text-anchor="middle">0</text><path d="M1702.0 1006.5L1697.0 966.5" stroke="#444" stroke-width="0.7" fill="none"/><text transform="translate(1695.8 975.0) rotate(-22)" text-anchor="end">0</text><text transform="translate(1697.9 992.0) rotate(-22)" text-anchor="end">-200</text><text transform="translate(1700.0 1009.0) rotate(-22)" text-anchor="end">-400</text><path d="M1697.8 972.5h2.2M1699.9 989.5h2.2M1702.0 1006.5h2.2" stroke="#444" stroke-width="0.6" fill="none"/><text transform="translate(1686.0 962.5) rotate(-22)" text-anchor="middle">nm</text></g>
<clipPath id="p6c"><polygon points="84.0,1302.0 92.7,1297.8 101.3,1292.0 110.0,1292.0 116.7,1285.9 123.3,1286.9 130.0,1285.0 136.7,1280.1 143.3,1275.2 150.0,1271.0 158.3,1270.3 166.7,1269.0 175.0,1272.0 180.0,1272.4 185.0,1272.1 190.0,1278.0 192.0,1274.2 194.0,1271.3 196.0,1270.0 196.7,1263.6 197.3,1258.0 198.0,1255.0 202.0,1252.6 206.0,1249.0 210.0,1248.0 218.3,1247.1 226.7,1247.9 235.0,1248.0 240.7,1251.0 246.3,1252.8 252.0,1258.0 254.0,1263.0 256.0,1270.0 258.0,1277.0 262.0,1277.6 266.0,1278.1 270.0,1280.0 276.3,1280.9 282.7,1282.5 289.0,1284.0 299.3,1284.6 309.7,1284.6 320.0,1286.0 326.7,1285.6 333.3,1284.9 340.0,1288.0 343.3,1290.1 346.7,1295.3 350.0,1300.0 353.7,1303.9 357.3,1309.5 361.0,1316.0 359.2,1325.5 355.8,1326.6 352.4,1327.7 349.0,1309.9 345.6,1309.9 342.2,1310.4 338.8,1310.9 335.4,1311.5 332.0,1312.0 328.6,1312.5 325.2,1313.0 321.8,1316.6 318.4,1320.1 315.0,1323.7 311.6,1327.2 308.2,1330.8 304.8,1334.3 301.4,1367.1 298.0,1373.8 294.6,1376.5 291.2,1379.2 287.8,1382.0 284.4,1384.7 281.0,1387.4 277.6,1390.1 274.2,1392.8 270.8,1395.6 267.4,1397.2 264.0,1398.9 260.6,1400.6 257.2,1402.2 253.8,1383.1 250.4,1382.8 247.0,1384.1 243.6,1385.3 240.2,1386.5 236.8,1387.7 233.4,1388.9 230.0,1390.2 226.6,1391.4 223.2,1392.6 223.2,1392.6 219.8,1392.8 216.4,1393.1 213.0,1393.3 209.6,1393.6 206.2,1400.4 202.8,1400.2 199.4,1400.1 196.0,1399.9 192.6,1398.2 189.1,1396.4 185.7,1394.6 182.3,1392.9 178.9,1391.1 175.5,1389.4 172.1,1393.6 168.7,1391.2 165.3,1388.4 161.9,1385.6 158.5,1382.7 155.1,1379.9 151.7,1377.1 148.3,1374.2 144.9,1371.4 141.5,1368.6 138.1,1365.7 134.7,1362.9 131.3,1360.1 127.9,1357.2 124.5,1351.4 121.0,1348.5 117.6,1343.7 114.2,1338.9 110.8,1322.3 107.4,1315.8 104.0,1313.5 100.6,1311.2 97.2,1309.0 93.8,1306.7 90.4,1304.5 87.0,1302.2"/></clipPath>
<filter id="p6f" filterUnits="userSpaceOnUse" x="-186" y="968" width="817" height="741.5999999999999" color-interpolation-filters="sRGB"><feGaussianBlur in="SourceGraphic" stdDeviation="2.6" result="b"/><feTurbulence type="fractalNoise" baseFrequency="0.1 0.28" numOctaves="2" seed="45" result="t"/><feColorMatrix in="t" type="matrix" values="1 0 0 0 0 1 0 0 0 0 1 0 0 0 0 0 0 0 0 1" result="tg"/><feComposite in="b" in2="tg" operator="arithmetic" k1="0" k2="1.0" k3="0.6" k4="-0.300" result="h"/><feComponentTransfer in="h" result="col"><feFuncR type="table" tableValues="0.08 0.24 0.40 0.49 0.60 0.70 0.83 0.97"/><feFuncG type="table" tableValues="0.03 0.09 0.15 0.23 0.42 0.57 0.75 0.97"/><feFuncB type="table" tableValues="0.02 0.06 0.11 0.12 0.16 0.23 0.49 0.96"/><feFuncA type="linear" slope="0" intercept="1"/></feComponentTransfer><feColorMatrix in="h" type="matrix" values="0 0 0 0 0 0 0 0 0 0 0 0 0 0 0 1 0 0 0 0" result="ha0"/><feGaussianBlur in="ha0" stdDeviation="1.3" result="ha"/><feDiffuseLighting in="ha" surfaceScale="2.5" diffuseConstant="1" lighting-color="#fff" result="lit"><feDistantLight azimuth="255" elevation="50"/></feDiffuseLighting><feComposite in="col" in2="lit" operator="arithmetic" k1="1.305" k2="0" k3="0" k4="0"/></filter>
<linearGradient id="p6lh" gradientUnits="userSpaceOnUse" x1="87.0" y1="0" x2="223.2" y2="0"><stop offset="0.000" stop-color="#f2f0ec"/><stop offset="0.150" stop-color="#f2f0ec"/><stop offset="0.200" stop-color="#8a4a1c"/><stop offset="0.300" stop-color="#6e2a1c"/><stop offset="0.600" stop-color="#6e2a1c"/><stop offset="0.650" stop-color="#c4a040"/><stop offset="0.850" stop-color="#c4a040"/><stop offset="0.880" stop-color="#f2f0ec"/><stop offset="1.000" stop-color="#f2f0ec"/></linearGradient>
<linearGradient id="p6lv" gradientUnits="userSpaceOnUse" x1="0" y1="1258.7" x2="0" y2="1211.7" gradientTransform="matrix(1 0.8106 0 1 0 0)"><stop offset="0" stop-color="#000" stop-opacity="0.93"/><stop offset="0.12" stop-color="#000" stop-opacity="0.62"/><stop offset="0.3" stop-color="#000" stop-opacity="0.3"/><stop offset="0.55" stop-color="#000" stop-opacity="0.07"/><stop offset="1" stop-color="#000" stop-opacity="0"/></linearGradient>
<polygon points="87.0,1329.2 223.2,1439.6 223.2,1392.6 219.8,1392.8 216.4,1393.1 213.0,1393.3 209.6,1393.6 206.2,1400.4 202.8,1400.2 199.4,1400.1 196.0,1399.9 192.6,1398.2 189.1,1396.4 185.7,1394.6 182.3,1392.9 178.9,1391.1 175.5,1389.4 172.1,1393.6 168.7,1391.2 165.3,1388.4 161.9,1385.6 158.5,1382.7 155.1,1379.9 151.7,1377.1 148.3,1374.2 144.9,1371.4 141.5,1368.6 138.1,1365.7 134.7,1362.9 131.3,1360.1 127.9,1357.2 124.5,1351.4 121.0,1348.5 117.6,1343.7 114.2,1338.9 110.8,1322.3 107.4,1315.8 104.0,1313.5 100.6,1311.2 97.2,1309.0 93.8,1306.7 90.4,1304.5 87.0,1302.2" fill="url(#p6lh)"/>
<polygon points="87.0,1329.2 223.2,1439.6 223.2,1392.6 219.8,1392.8 216.4,1393.1 213.0,1393.3 209.6,1393.6 206.2,1400.4 202.8,1400.2 199.4,1400.1 196.0,1399.9 192.6,1398.2 189.1,1396.4 185.7,1394.6 182.3,1392.9 178.9,1391.1 175.5,1389.4 172.1,1393.6 168.7,1391.2 165.3,1388.4 161.9,1385.6 158.5,1382.7 155.1,1379.9 151.7,1377.1 148.3,1374.2 144.9,1371.4 141.5,1368.6 138.1,1365.7 134.7,1362.9 131.3,1360.1 127.9,1357.2 124.5,1351.4 121.0,1348.5 117.6,1343.7 114.2,1338.9 110.8,1322.3 107.4,1315.8 104.0,1313.5 100.6,1311.2 97.2,1309.0 93.8,1306.7 90.4,1304.5 87.0,1302.2" fill="#000" filter="url(#streak)"/>
<polygon points="87.0,1329.2 223.2,1439.6 223.2,1392.6 219.8,1392.8 216.4,1393.1 213.0,1393.3 209.6,1393.6 206.2,1400.4 202.8,1400.2 199.4,1400.1 196.0,1399.9 192.6,1398.2 189.1,1396.4 185.7,1394.6 182.3,1392.9 178.9,1391.1 175.5,1389.4 172.1,1393.6 168.7,1391.2 165.3,1388.4 161.9,1385.6 158.5,1382.7 155.1,1379.9 151.7,1377.1 148.3,1374.2 144.9,1371.4 141.5,1368.6 138.1,1365.7 134.7,1362.9 131.3,1360.1 127.9,1357.2 124.5,1351.4 121.0,1348.5 117.6,1343.7 114.2,1338.9 110.8,1322.3 107.4,1315.8 104.0,1313.5 100.6,1311.2 97.2,1309.0 93.8,1306.7 90.4,1304.5 87.0,1302.2" fill="url(#p6lv)"/>
<linearGradient id="p6rh" gradientUnits="userSpaceOnUse" x1="223.2" y1="0" x2="359.2" y2="0"><stop offset="0.000" stop-color="#f2f0ec"/><stop offset="0.200" stop-color="#f2f0ec"/><stop offset="0.230" stop-color="#6e2a1c"/><stop offset="0.550" stop-color="#6e2a1c"/><stop offset="0.580" stop-color="#f2f0ec"/><stop offset="0.920" stop-color="#f2f0ec"/><stop offset="0.950" stop-color="#6e2a1c"/><stop offset="1.000" stop-color="#6e2a1c"/></linearGradient>
<linearGradient id="p6rv" gradientUnits="userSpaceOnUse" x1="0" y1="1618.2" x2="0" y2="1571.2" gradientTransform="matrix(1 -0.8000 0 1 0 0)"><stop offset="0" stop-color="#000" stop-opacity="0.93"/><stop offset="0.12" stop-color="#000" stop-opacity="0.62"/><stop offset="0.3" stop-color="#000" stop-opacity="0.3"/><stop offset="0.55" stop-color="#000" stop-opacity="0.07"/><stop offset="1" stop-color="#000" stop-opacity="0"/></linearGradient>
<polygon points="223.2,1439.6 359.2,1330.8 359.2,1325.5 355.8,1326.6 352.4,1327.7 349.0,1309.9 345.6,1309.9 342.2,1310.4 338.8,1310.9 335.4,1311.5 332.0,1312.0 328.6,1312.5 325.2,1313.0 321.8,1316.6 318.4,1320.1 315.0,1323.7 311.6,1327.2 308.2,1330.8 304.8,1334.3 301.4,1367.1 298.0,1373.8 294.6,1376.5 291.2,1379.2 287.8,1382.0 284.4,1384.7 281.0,1387.4 277.6,1390.1 274.2,1392.8 270.8,1395.6 267.4,1397.2 264.0,1398.9 260.6,1400.6 257.2,1402.2 253.8,1383.1 250.4,1382.8 247.0,1384.1 243.6,1385.3 240.2,1386.5 236.8,1387.7 233.4,1388.9 230.0,1390.2 226.6,1391.4 223.2,1392.6" fill="url(#p6rh)"/>
<polygon points="223.2,1439.6 359.2,1330.8 359.2,1325.5 355.8,1326.6 352.4,1327.7 349.0,1309.9 345.6,1309.9 342.2,1310.4 338.8,1310.9 335.4,1311.5 332.0,1312.0 328.6,1312.5 325.2,1313.0 321.8,1316.6 318.4,1320.1 315.0,1323.7 311.6,1327.2 308.2,1330.8 304.8,1334.3 301.4,1367.1 298.0,1373.8 294.6,1376.5 291.2,1379.2 287.8,1382.0 284.4,1384.7 281.0,1387.4 277.6,1390.1 274.2,1392.8 270.8,1395.6 267.4,1397.2 264.0,1398.9 260.6,1400.6 257.2,1402.2 253.8,1383.1 250.4,1382.8 247.0,1384.1 243.6,1385.3 240.2,1386.5 236.8,1387.7 233.4,1388.9 230.0,1390.2 226.6,1391.4 223.2,1392.6" fill="#000" filter="url(#streak)"/>
<polygon points="223.2,1439.6 359.2,1330.8 359.2,1325.5 355.8,1326.6 352.4,1327.7 349.0,1309.9 345.6,1309.9 342.2,1310.4 338.8,1310.9 335.4,1311.5 332.0,1312.0 328.6,1312.5 325.2,1313.0 321.8,1316.6 318.4,1320.1 315.0,1323.7 311.6,1327.2 308.2,1330.8 304.8,1334.3 301.4,1367.1 298.0,1373.8 294.6,1376.5 291.2,1379.2 287.8,1382.0 284.4,1384.7 281.0,1387.4 277.6,1390.1 274.2,1392.8 270.8,1395.6 267.4,1397.2 264.0,1398.9 260.6,1400.6 257.2,1402.2 253.8,1383.1 250.4,1382.8 247.0,1384.1 243.6,1385.3 240.2,1386.5 236.8,1387.7 233.4,1388.9 230.0,1390.2 226.6,1391.4 223.2,1392.6" fill="url(#p6rv)"/>
<g clip-path="url(#p6c)"><g transform="rotate(-30 222.5 1338.8)" filter="url(#p6f)"><g transform="rotate(30 222.5 1338.8)">
<rect x="4" y="1158" width="437" height="362" fill="rgb(119,119,119)"/>
<ellipse cx="87.0" cy="1299.2" rx="7" ry="4" fill="rgb(242,242,242)"/>
<ellipse cx="93.8" cy="1303.7" rx="7" ry="4" fill="rgb(242,242,242)"/>
<ellipse cx="100.6" cy="1308.2" rx="7" ry="4" fill="rgb(242,242,242)"/>
<ellipse cx="107.4" cy="1312.8" rx="7" ry="4" fill="rgb(242,242,242)"/>
<ellipse cx="114.2" cy="1335.9" rx="7" ry="4" fill="rgb(114,114,114)"/>
<ellipse cx="121.0" cy="1345.5" rx="7" ry="4" fill="rgb(114,114,114)"/>
<ellipse cx="127.9" cy="1354.2" rx="7" ry="4" fill="rgb(81,81,81)"/>
<ellipse cx="134.7" cy="1359.9" rx="7" ry="4" fill="rgb(81,81,81)"/>
<ellipse cx="141.5" cy="1365.6" rx="7" ry="4" fill="rgb(81,81,81)"/>
<ellipse cx="148.3" cy="1371.2" rx="7" ry="4" fill="rgb(81,81,81)"/>
<ellipse cx="155.1" cy="1376.9" rx="7" ry="4" fill="rgb(81,81,81)"/>
<ellipse cx="161.9" cy="1382.6" rx="7" ry="4" fill="rgb(81,81,81)"/>
<ellipse cx="168.7" cy="1388.2" rx="7" ry="4" fill="rgb(81,81,81)"/>
<ellipse cx="175.5" cy="1386.4" rx="7" ry="4" fill="rgb(165,165,165)"/>
<ellipse cx="182.3" cy="1389.9" rx="7" ry="4" fill="rgb(165,165,165)"/>
<ellipse cx="189.1" cy="1393.4" rx="7" ry="4" fill="rgb(165,165,165)"/>
<ellipse cx="196.0" cy="1396.9" rx="7" ry="4" fill="rgb(165,165,165)"/>
<ellipse cx="202.8" cy="1397.2" rx="7" ry="4" fill="rgb(165,165,165)"/>
<ellipse cx="209.6" cy="1390.6" rx="7" ry="4" fill="rgb(242,242,242)"/>
<ellipse cx="216.4" cy="1390.1" rx="7" ry="4" fill="rgb(242,242,242)"/>
<ellipse cx="223.2" cy="1389.6" rx="7" ry="4" fill="rgb(242,242,242)"/>
<ellipse cx="223.2" cy="1389.6" rx="7" ry="4" fill="rgb(242,242,242)"/>
<ellipse cx="230.0" cy="1387.2" rx="7" ry="4" fill="rgb(242,242,242)"/>
<ellipse cx="236.8" cy="1384.7" rx="7" ry="4" fill="rgb(242,242,242)"/>
<ellipse cx="243.6" cy="1382.3" rx="7" ry="4" fill="rgb(242,242,242)"/>
<ellipse cx="250.4" cy="1379.8" rx="7" ry="4" fill="rgb(242,242,242)"/>
<ellipse cx="257.2" cy="1399.2" rx="7" ry="4" fill="rgb(81,81,81)"/>
<ellipse cx="264.0" cy="1395.9" rx="7" ry="4" fill="rgb(81,81,81)"/>
<ellipse cx="270.8" cy="1392.6" rx="7" ry="4" fill="rgb(81,81,81)"/>
<ellipse cx="277.6" cy="1387.1" rx="7" ry="4" fill="rgb(81,81,81)"/>
<ellipse cx="284.4" cy="1381.7" rx="7" ry="4" fill="rgb(81,81,81)"/>
<ellipse cx="291.2" cy="1376.2" rx="7" ry="4" fill="rgb(81,81,81)"/>
<ellipse cx="298.0" cy="1370.8" rx="7" ry="4" fill="rgb(81,81,81)"/>
<ellipse cx="304.8" cy="1331.3" rx="7" ry="4" fill="rgb(242,242,242)"/>
<ellipse cx="311.6" cy="1324.2" rx="7" ry="4" fill="rgb(242,242,242)"/>
<ellipse cx="318.4" cy="1317.1" rx="7" ry="4" fill="rgb(242,242,242)"/>
<ellipse cx="325.2" cy="1310.0" rx="7" ry="4" fill="rgb(242,242,242)"/>
<ellipse cx="332.0" cy="1309.0" rx="7" ry="4" fill="rgb(242,242,242)"/>
<ellipse cx="338.8" cy="1307.9" rx="7" ry="4" fill="rgb(242,242,242)"/>
<ellipse cx="345.6" cy="1306.9" rx="7" ry="4" fill="rgb(242,242,242)"/>
<ellipse cx="352.4" cy="1324.7" rx="7" ry="4" fill="rgb(81,81,81)"/>
<ellipse cx="359.2" cy="1322.5" rx="7" ry="4" fill="rgb(81,81,81)"/>
<ellipse cx="227" cy="1262" rx="30" ry="16" fill="rgb(170,170,170)"/>
<ellipse cx="227" cy="1252" rx="22" ry="6" fill="rgb(234,234,234)"/>
<ellipse cx="168" cy="1275" rx="20" ry="7" transform="rotate(-15 168 1275)" fill="rgb(242,242,242)"/>
<ellipse cx="210" cy="1290" rx="73" ry="12" transform="rotate(-5 210 1290)" fill="rgb(170,170,170)"/>
<ellipse cx="314" cy="1293" rx="26" ry="9" transform="rotate(10 314 1293)" fill="rgb(242,242,242)"/>
<ellipse cx="144" cy="1307" rx="60" ry="13" transform="rotate(-15 144 1307)" fill="rgb(165,165,165)"/>
<ellipse cx="260" cy="1314" rx="56" ry="12" transform="rotate(5 260 1314)" fill="rgb(51,51,51)"/>
<ellipse cx="245" cy="1314" rx="28" ry="6" fill="rgb(20,20,20)"/>
<ellipse cx="228" cy="1332" rx="120" ry="10" transform="rotate(-5 228 1332)" fill="rgb(170,170,170)"/>
<ellipse cx="316" cy="1334" rx="16" ry="8" fill="rgb(242,242,242)"/>
<ellipse cx="208" cy="1348" rx="20" ry="10" fill="rgb(247,247,247)"/>
<ellipse cx="152" cy="1358" rx="36" ry="16" transform="rotate(20 152 1358)" fill="rgb(76,76,76)"/>
<ellipse cx="260" cy="1362" rx="40" ry="12" transform="rotate(-10 260 1362)" fill="rgb(165,165,165)"/>
<ellipse cx="268" cy="1382" rx="32" ry="16" transform="rotate(-30 268 1382)" fill="rgb(76,76,76)"/>
<ellipse cx="228" cy="1396" rx="24" ry="10" fill="rgb(242,242,242)"/>
</g></g></g>
<path d="M87.0,1329.2L223.2,1439.6L359.2,1330.8" stroke="#0a0606" stroke-width="1.2" fill="none"/>
<g font-family="'Liberation Sans', Arial, sans-serif" font-size="7.6" fill="#2a2a2a"><text transform="translate(170.1 1411.0) rotate(141)" text-anchor="middle">2.5</text><text transform="translate(136.1 1383.4) rotate(141)" text-anchor="middle">5</text><text transform="translate(102.0 1355.8) rotate(141)" text-anchor="middle">7.5</text><text transform="translate(139.1 1390.4) rotate(141)" text-anchor="middle" font-size="5.5">µm</text><text transform="translate(275.2 1410.4) rotate(-38)" text-anchor="middle">2.5</text><text transform="translate(309.2 1383.2) rotate(-38)" text-anchor="middle">5</text><text transform="translate(343.2 1356.0) rotate(-38)" text-anchor="middle">7.5</text><text transform="translate(366.2 1334.8) rotate(-38)" text-anchor="middle">10</text><text transform="translate(315.2 1390.2) rotate(-38)" text-anchor="middle" font-size="5.5">µm</text><text transform="translate(218.2 1449.6) rotate(-38)" text-anchor="middle">0</text><text transform="translate(232.2 1447.6) rotate(-38)" text-anchor="middle">0</text><path d="M84.0 1328.2L79.0 1288.2" stroke="#444" stroke-width="0.7" fill="none"/><text transform="translate(77.8 1296.7) rotate(-22)" text-anchor="end">200</text><text transform="translate(79.9 1313.7) rotate(-22)" text-anchor="end">0</text><text transform="translate(82.0 1330.7) rotate(-22)" text-anchor="end">-200</text><path d="M79.8 1294.2h2.2M81.9 1311.2h2.2M84.0 1328.2h2.2" stroke="#444" stroke-width="0.6" fill="none"/><text transform="translate(68.0 1284.2) rotate(-22)" text-anchor="middle">nm</text></g>
<clipPath id="p7c"><polygon points="405.6,1300.4 414.7,1301.7 423.7,1301.0 432.8,1304.4 447.2,1297.0 461.6,1293.7 476.0,1289.0 490.9,1278.6 505.9,1270.8 520.8,1262.0 528.3,1254.2 535.7,1249.5 543.2,1250.0 552.1,1252.6 561.1,1254.1 570.0,1258.0 581.3,1260.9 592.7,1266.6 604.0,1273.0 620.0,1277.9 636.0,1284.3 652.0,1291.0 662.1,1296.4 672.3,1301.7 682.4,1308.4 679.2,1314.8 675.8,1317.5 672.4,1320.2 669.0,1322.9 665.6,1325.6 662.2,1328.3 658.8,1331.0 655.4,1333.7 652.0,1336.4 648.6,1348.1 645.2,1350.8 641.8,1353.5 638.4,1356.2 635.0,1358.7 631.6,1361.2 628.2,1363.8 624.8,1366.3 621.4,1368.8 618.0,1371.3 614.6,1373.9 611.2,1365.6 607.8,1367.9 604.4,1370.2 601.0,1373.6 597.6,1376.9 594.2,1390.4 590.8,1393.4 587.4,1396.4 584.0,1399.4 580.6,1402.0 577.2,1395.3 573.8,1397.7 570.4,1400.1 567.0,1402.6 563.6,1405.0 560.2,1407.4 556.8,1409.9 553.4,1412.3 550.0,1414.7 546.6,1417.2 543.2,1419.6 543.2,1419.6 539.8,1413.5 536.4,1410.9 533.0,1408.3 529.6,1405.8 526.2,1403.2 522.8,1400.7 519.4,1398.1 516.0,1395.6 512.6,1393.0 509.2,1390.5 505.8,1387.2 502.4,1383.9 499.0,1384.1 495.6,1380.9 492.2,1377.7 488.8,1374.5 485.4,1371.3 482.0,1368.0 478.6,1364.8 475.2,1361.6 471.8,1356.9 468.4,1352.1 465.0,1340.3 461.6,1335.0 458.2,1331.6 454.8,1329.4 451.4,1327.2 448.0,1325.0 444.6,1322.8 441.2,1320.5 437.8,1318.3 434.4,1316.1 431.0,1314.1 427.6,1312.1 424.2,1310.2 420.8,1308.2 417.4,1306.2 414.0,1304.2 410.6,1302.2 407.2,1300.2"/></clipPath>
<filter id="p7f" filterUnits="userSpaceOnUse" x="135.60000000000002" y="970" width="816.8" height="738.8" color-interpolation-filters="sRGB"><feGaussianBlur in="SourceGraphic" stdDeviation="2.6" result="b"/><feTurbulence type="fractalNoise" baseFrequency="0.1 0.28" numOctaves="2" seed="52" result="t"/><feColorMatrix in="t" type="matrix" values="1 0 0 0 0 1 0 0 0 0 1 0 0 0 0 0 0 0 0 1" result="tg"/><feComposite in="b" in2="tg" operator="arithmetic" k1="0" k2="1.0" k3="0.6" k4="-0.300" result="h"/><feComponentTransfer in="h" result="col"><feFuncR type="table" tableValues="0.08 0.24 0.40 0.49 0.60 0.70 0.83 0.97"/><feFuncG type="table" tableValues="0.03 0.09 0.15 0.23 0.42 0.57 0.75 0.97"/><feFuncB type="table" tableValues="0.02 0.06 0.11 0.12 0.16 0.23 0.49 0.96"/><feFuncA type="linear" slope="0" intercept="1"/></feComponentTransfer><feColorMatrix in="h" type="matrix" values="0 0 0 0 0 0 0 0 0 0 0 0 0 0 0 1 0 0 0 0" result="ha0"/><feGaussianBlur in="ha0" stdDeviation="1.3" result="ha"/><feDiffuseLighting in="ha" surfaceScale="2.5" diffuseConstant="1" lighting-color="#fff" result="lit"><feDistantLight azimuth="255" elevation="50"/></feDiffuseLighting><feComposite in="col" in2="lit" operator="arithmetic" k1="1.305" k2="0" k3="0" k4="0"/></filter>
<linearGradient id="p7lh" gradientUnits="userSpaceOnUse" x1="407.2" y1="0" x2="543.2" y2="0"><stop offset="0.000" stop-color="#f2f0ec"/><stop offset="0.390" stop-color="#f2f0ec"/><stop offset="0.450" stop-color="#c4a040"/><stop offset="0.700" stop-color="#e2d4a4"/><stop offset="1.000" stop-color="#c4a040"/></linearGradient>
<linearGradient id="p7lv" gradientUnits="userSpaceOnUse" x1="0" y1="1001.0" x2="0" y2="962.4" gradientTransform="matrix(1 0.8059 0 1 0 0)"><stop offset="0" stop-color="#000" stop-opacity="0.93"/><stop offset="0.12" stop-color="#000" stop-opacity="0.62"/><stop offset="0.3" stop-color="#000" stop-opacity="0.3"/><stop offset="0.55" stop-color="#000" stop-opacity="0.07"/><stop offset="1" stop-color="#000" stop-opacity="0"/></linearGradient>
<polygon points="407.2,1329.2 543.2,1438.8 543.2,1419.6 539.8,1413.5 536.4,1410.9 533.0,1408.3 529.6,1405.8 526.2,1403.2 522.8,1400.7 519.4,1398.1 516.0,1395.6 512.6,1393.0 509.2,1390.5 505.8,1387.2 502.4,1383.9 499.0,1384.1 495.6,1380.9 492.2,1377.7 488.8,1374.5 485.4,1371.3 482.0,1368.0 478.6,1364.8 475.2,1361.6 471.8,1356.9 468.4,1352.1 465.0,1340.3 461.6,1335.0 458.2,1331.6 454.8,1329.4 451.4,1327.2 448.0,1325.0 444.6,1322.8 441.2,1320.5 437.8,1318.3 434.4,1316.1 431.0,1314.1 427.6,1312.1 424.2,1310.2 420.8,1308.2 417.4,1306.2 414.0,1304.2 410.6,1302.2 407.2,1300.2" fill="url(#p7lh)"/>
<polygon points="407.2,1329.2 543.2,1438.8 543.2,1419.6 539.8,1413.5 536.4,1410.9 533.0,1408.3 529.6,1405.8 526.2,1403.2 522.8,1400.7 519.4,1398.1 516.0,1395.6 512.6,1393.0 509.2,1390.5 505.8,1387.2 502.4,1383.9 499.0,1384.1 495.6,1380.9 492.2,1377.7 488.8,1374.5 485.4,1371.3 482.0,1368.0 478.6,1364.8 475.2,1361.6 471.8,1356.9 468.4,1352.1 465.0,1340.3 461.6,1335.0 458.2,1331.6 454.8,1329.4 451.4,1327.2 448.0,1325.0 444.6,1322.8 441.2,1320.5 437.8,1318.3 434.4,1316.1 431.0,1314.1 427.6,1312.1 424.2,1310.2 420.8,1308.2 417.4,1306.2 414.0,1304.2 410.6,1302.2 407.2,1300.2" fill="#000" filter="url(#streak)"/>
<polygon points="407.2,1329.2 543.2,1438.8 543.2,1419.6 539.8,1413.5 536.4,1410.9 533.0,1408.3 529.6,1405.8 526.2,1403.2 522.8,1400.7 519.4,1398.1 516.0,1395.6 512.6,1393.0 509.2,1390.5 505.8,1387.2 502.4,1383.9 499.0,1384.1 495.6,1380.9 492.2,1377.7 488.8,1374.5 485.4,1371.3 482.0,1368.0 478.6,1364.8 475.2,1361.6 471.8,1356.9 468.4,1352.1 465.0,1340.3 461.6,1335.0 458.2,1331.6 454.8,1329.4 451.4,1327.2 448.0,1325.0 444.6,1322.8 441.2,1320.5 437.8,1318.3 434.4,1316.1 431.0,1314.1 427.6,1312.1 424.2,1310.2 420.8,1308.2 417.4,1306.2 414.0,1304.2 410.6,1302.2 407.2,1300.2" fill="url(#p7lv)"/>
<linearGradient id="p7rh" gradientUnits="userSpaceOnUse" x1="543.2" y1="0" x2="679.2" y2="0"><stop offset="0.000" stop-color="#c4a040"/><stop offset="0.250" stop-color="#c4a040"/><stop offset="0.270" stop-color="#6e2a1c"/><stop offset="0.380" stop-color="#6e2a1c"/><stop offset="0.400" stop-color="#c4a040"/><stop offset="0.500" stop-color="#c4a040"/><stop offset="0.520" stop-color="#6e2a1c"/><stop offset="0.780" stop-color="#6e2a1c"/><stop offset="0.800" stop-color="#c4a040"/><stop offset="1.000" stop-color="#c4a040"/></linearGradient>
<linearGradient id="p7rv" gradientUnits="userSpaceOnUse" x1="0" y1="1870.2" x2="0" y2="1850.2" gradientTransform="matrix(1 -0.7941 0 1 0 0)"><stop offset="0" stop-color="#000" stop-opacity="0.93"/><stop offset="0.12" stop-color="#000" stop-opacity="0.62"/><stop offset="0.3" stop-color="#000" stop-opacity="0.3"/><stop offset="0.55" stop-color="#000" stop-opacity="0.07"/><stop offset="1" stop-color="#000" stop-opacity="0"/></linearGradient>
<polygon points="543.2,1438.8 679.2,1330.8 679.2,1314.8 675.8,1317.5 672.4,1320.2 669.0,1322.9 665.6,1325.6 662.2,1328.3 658.8,1331.0 655.4,1333.7 652.0,1336.4 648.6,1348.1 645.2,1350.8 641.8,1353.5 638.4,1356.2 635.0,1358.7 631.6,1361.2 628.2,1363.8 624.8,1366.3 621.4,1368.8 618.0,1371.3 614.6,1373.9 611.2,1365.6 607.8,1367.9 604.4,1370.2 601.0,1373.6 597.6,1376.9 594.2,1390.4 590.8,1393.4 587.4,1396.4 584.0,1399.4 580.6,1402.0 577.2,1395.3 573.8,1397.7 570.4,1400.1 567.0,1402.6 563.6,1405.0 560.2,1407.4 556.8,1409.9 553.4,1412.3 550.0,1414.7 546.6,1417.2 543.2,1419.6" fill="url(#p7rh)"/>
<polygon points="543.2,1438.8 679.2,1330.8 679.2,1314.8 675.8,1317.5 672.4,1320.2 669.0,1322.9 665.6,1325.6 662.2,1328.3 658.8,1331.0 655.4,1333.7 652.0,1336.4 648.6,1348.1 645.2,1350.8 641.8,1353.5 638.4,1356.2 635.0,1358.7 631.6,1361.2 628.2,1363.8 624.8,1366.3 621.4,1368.8 618.0,1371.3 614.6,1373.9 611.2,1365.6 607.8,1367.9 604.4,1370.2 601.0,1373.6 597.6,1376.9 594.2,1390.4 590.8,1393.4 587.4,1396.4 584.0,1399.4 580.6,1402.0 577.2,1395.3 573.8,1397.7 570.4,1400.1 567.0,1402.6 563.6,1405.0 560.2,1407.4 556.8,1409.9 553.4,1412.3 550.0,1414.7 546.6,1417.2 543.2,1419.6" fill="#000" filter="url(#streak)"/>
<polygon points="543.2,1438.8 679.2,1330.8 679.2,1314.8 675.8,1317.5 672.4,1320.2 669.0,1322.9 665.6,1325.6 662.2,1328.3 658.8,1331.0 655.4,1333.7 652.0,1336.4 648.6,1348.1 645.2,1350.8 641.8,1353.5 638.4,1356.2 635.0,1358.7 631.6,1361.2 628.2,1363.8 624.8,1366.3 621.4,1368.8 618.0,1371.3 614.6,1373.9 611.2,1365.6 607.8,1367.9 604.4,1370.2 601.0,1373.6 597.6,1376.9 594.2,1390.4 590.8,1393.4 587.4,1396.4 584.0,1399.4 580.6,1402.0 577.2,1395.3 573.8,1397.7 570.4,1400.1 567.0,1402.6 563.6,1405.0 560.2,1407.4 556.8,1409.9 553.4,1412.3 550.0,1414.7 546.6,1417.2 543.2,1419.6" fill="url(#p7rv)"/>
<g clip-path="url(#p7c)"><g transform="rotate(-30 544.0 1339.4)" filter="url(#p7f)"><g transform="rotate(30 544.0 1339.4)">
<rect x="326" y="1160" width="437" height="359" fill="rgb(140,140,140)"/>
<ellipse cx="407.2" cy="1297.2" rx="7" ry="4" fill="rgb(242,242,242)"/>
<ellipse cx="414.0" cy="1301.2" rx="7" ry="4" fill="rgb(242,242,242)"/>
<ellipse cx="420.8" cy="1305.2" rx="7" ry="4" fill="rgb(242,242,242)"/>
<ellipse cx="427.6" cy="1309.1" rx="7" ry="4" fill="rgb(242,242,242)"/>
<ellipse cx="434.4" cy="1313.1" rx="7" ry="4" fill="rgb(242,242,242)"/>
<ellipse cx="441.2" cy="1317.5" rx="7" ry="4" fill="rgb(242,242,242)"/>
<ellipse cx="448.0" cy="1322.0" rx="7" ry="4" fill="rgb(242,242,242)"/>
<ellipse cx="454.8" cy="1326.4" rx="7" ry="4" fill="rgb(242,242,242)"/>
<ellipse cx="461.6" cy="1332.0" rx="7" ry="4" fill="rgb(242,242,242)"/>
<ellipse cx="468.4" cy="1349.1" rx="7" ry="4" fill="rgb(165,165,165)"/>
<ellipse cx="475.2" cy="1358.6" rx="7" ry="4" fill="rgb(165,165,165)"/>
<ellipse cx="482.0" cy="1365.0" rx="7" ry="4" fill="rgb(165,165,165)"/>
<ellipse cx="488.8" cy="1371.5" rx="7" ry="4" fill="rgb(165,165,165)"/>
<ellipse cx="495.6" cy="1377.9" rx="7" ry="4" fill="rgb(165,165,165)"/>
<ellipse cx="502.4" cy="1380.9" rx="7" ry="4" fill="rgb(216,216,216)"/>
<ellipse cx="509.2" cy="1387.5" rx="7" ry="4" fill="rgb(216,216,216)"/>
<ellipse cx="516.0" cy="1392.6" rx="7" ry="4" fill="rgb(216,216,216)"/>
<ellipse cx="522.8" cy="1397.7" rx="7" ry="4" fill="rgb(216,216,216)"/>
<ellipse cx="529.6" cy="1402.8" rx="7" ry="4" fill="rgb(216,216,216)"/>
<ellipse cx="536.4" cy="1407.9" rx="7" ry="4" fill="rgb(216,216,216)"/>
<ellipse cx="543.2" cy="1416.6" rx="7" ry="4" fill="rgb(165,165,165)"/>
<ellipse cx="543.2" cy="1416.6" rx="7" ry="4" fill="rgb(165,165,165)"/>
<ellipse cx="550.0" cy="1411.7" rx="7" ry="4" fill="rgb(165,165,165)"/>
<ellipse cx="556.8" cy="1406.9" rx="7" ry="4" fill="rgb(165,165,165)"/>
<ellipse cx="563.6" cy="1402.0" rx="7" ry="4" fill="rgb(165,165,165)"/>
<ellipse cx="570.4" cy="1397.1" rx="7" ry="4" fill="rgb(165,165,165)"/>
<ellipse cx="577.2" cy="1392.3" rx="7" ry="4" fill="rgb(165,165,165)"/>
<ellipse cx="584.0" cy="1396.4" rx="7" ry="4" fill="rgb(81,81,81)"/>
<ellipse cx="590.8" cy="1390.4" rx="7" ry="4" fill="rgb(81,81,81)"/>
<ellipse cx="597.6" cy="1373.9" rx="7" ry="4" fill="rgb(165,165,165)"/>
<ellipse cx="604.4" cy="1367.2" rx="7" ry="4" fill="rgb(165,165,165)"/>
<ellipse cx="611.2" cy="1362.6" rx="7" ry="4" fill="rgb(165,165,165)"/>
<ellipse cx="618.0" cy="1368.3" rx="7" ry="4" fill="rgb(81,81,81)"/>
<ellipse cx="624.8" cy="1363.3" rx="7" ry="4" fill="rgb(81,81,81)"/>
<ellipse cx="631.6" cy="1358.2" rx="7" ry="4" fill="rgb(81,81,81)"/>
<ellipse cx="638.4" cy="1353.2" rx="7" ry="4" fill="rgb(81,81,81)"/>
<ellipse cx="645.2" cy="1347.8" rx="7" ry="4" fill="rgb(81,81,81)"/>
<ellipse cx="652.0" cy="1333.4" rx="7" ry="4" fill="rgb(165,165,165)"/>
<ellipse cx="658.8" cy="1328.0" rx="7" ry="4" fill="rgb(165,165,165)"/>
<ellipse cx="665.6" cy="1322.6" rx="7" ry="4" fill="rgb(165,165,165)"/>
<ellipse cx="672.4" cy="1317.2" rx="7" ry="4" fill="rgb(165,165,165)"/>
<ellipse cx="679.2" cy="1311.8" rx="7" ry="4" fill="rgb(165,165,165)"/>
<ellipse cx="455" cy="1335" rx="38" ry="24" transform="rotate(35 455 1335)" fill="rgb(219,219,219)"/>
<ellipse cx="432" cy="1326" rx="28" ry="28" fill="rgb(242,242,242)"/>
<ellipse cx="425" cy="1312" rx="16" ry="10" fill="rgb(247,247,247)"/>
<ellipse cx="588" cy="1278" rx="64" ry="24" transform="rotate(20 588 1278)" fill="rgb(170,170,170)"/>
<ellipse cx="632" cy="1283" rx="20" ry="10" transform="rotate(20 632 1283)" fill="rgb(242,242,242)"/>
<ellipse cx="478" cy="1313" rx="46" ry="12" transform="rotate(15 478 1313)" fill="rgb(63,63,63)"/>
<ellipse cx="548" cy="1334" rx="24" ry="16" transform="rotate(25 548 1334)" fill="rgb(12,12,12)"/>
<ellipse cx="588" cy="1366" rx="32" ry="24" transform="rotate(35 588 1366)" fill="rgb(71,71,71)"/>
<ellipse cx="642" cy="1322" rx="38" ry="20" fill="rgb(170,170,170)"/>
<ellipse cx="623" cy="1315" rx="6" ry="7" fill="rgb(247,247,247)"/>
<ellipse cx="620" cy="1354" rx="32" ry="20" transform="rotate(-30 620 1354)" fill="rgb(76,76,76)"/>
<ellipse cx="540" cy="1350" rx="16" ry="8" fill="rgb(242,242,242)"/>
<ellipse cx="508" cy="1386" rx="60" ry="30" fill="rgb(170,170,170)"/>
</g></g></g>
<path d="M407.2,1329.2L543.2,1438.8L679.2,1330.8" stroke="#0a0606" stroke-width="1.2" fill="none"/>
<g font-family="'Liberation Sans', Arial, sans-serif" font-size="7.6" fill="#2a2a2a"><text transform="translate(490.2 1410.4) rotate(141)" text-anchor="middle">2.5</text><text transform="translate(456.2 1383.0) rotate(141)" text-anchor="middle">5</text><text transform="translate(422.2 1355.6) rotate(141)" text-anchor="middle">7.5</text><text transform="translate(459.2 1390.0) rotate(141)" text-anchor="middle" font-size="5.5">µm</text><text transform="translate(595.2 1409.8) rotate(-38)" text-anchor="middle">2.5</text><text transform="translate(629.2 1382.8) rotate(-38)" text-anchor="middle">5</text><text transform="translate(663.2 1355.8) rotate(-38)" text-anchor="middle">7.5</text><text transform="translate(686.2 1334.8) rotate(-38)" text-anchor="middle">10</text><text transform="translate(635.2 1389.8) rotate(-38)" text-anchor="middle" font-size="5.5">µm</text><text transform="translate(538.2 1448.8) rotate(-38)" text-anchor="middle">0</text><text transform="translate(552.2 1446.8) rotate(-38)" text-anchor="middle">0</text><path d="M404.2 1328.2L399.2 1288.2" stroke="#444" stroke-width="0.7" fill="none"/><text transform="translate(397.9 1296.7) rotate(-22)" text-anchor="end">500</text><text transform="translate(399.0 1305.2) rotate(-22)" text-anchor="end">250</text><text transform="translate(400.1 1313.7) rotate(-22)" text-anchor="end">0</text><text transform="translate(401.1 1322.2) rotate(-22)" text-anchor="end">-250</text><text transform="translate(402.2 1330.7) rotate(-22)" text-anchor="end">-500</text><path d="M399.9 1294.2h2.2M401.0 1302.7h2.2M402.1 1311.2h2.2M403.1 1319.7h2.2M404.2 1328.2h2.2" stroke="#444" stroke-width="0.6" fill="none"/><text transform="translate(388.2 1284.2) rotate(-22)" text-anchor="middle">nm</text></g>
<clipPath id="p8c"><polygon points="738.8,1313.2 747.6,1307.2 756.4,1303.0 765.2,1299.8 774.0,1295.7 782.8,1292.5 791.6,1287.5 800.4,1283.5 809.2,1279.8 818.0,1275.3 826.8,1269.2 835.6,1267.6 844.4,1262.9 853.2,1256.7 862.0,1255.6 873.3,1258.5 884.6,1263.2 895.9,1267.8 907.3,1271.5 918.6,1277.2 929.9,1280.1 941.2,1284.3 952.5,1290.0 963.8,1294.3 975.1,1298.6 986.5,1300.7 997.8,1306.4 1009.1,1311.6 1020.4,1316.4 1020.4,1317.6 1016.8,1320.6 1013.2,1323.5 1009.6,1326.5 1006.0,1329.4 1002.4,1332.4 998.8,1335.4 995.2,1338.3 991.6,1341.3 988.0,1344.2 984.4,1347.2 980.8,1350.2 977.2,1353.1 973.6,1356.1 970.0,1359.0 966.4,1362.0 962.8,1365.0 959.2,1367.9 955.6,1370.9 952.0,1373.8 948.4,1376.8 944.8,1379.8 941.2,1382.7 937.6,1385.7 934.0,1388.6 930.4,1391.6 926.8,1394.6 923.2,1397.5 919.6,1400.5 916.0,1403.4 912.4,1406.4 908.8,1409.4 905.2,1412.3 901.6,1415.3 898.0,1418.2 894.4,1421.2 890.8,1424.1 887.2,1427.1 883.6,1430.0 880.0,1433.0 876.4,1435.9 876.4,1435.9 872.9,1433.0 869.4,1430.1 865.8,1427.1 862.3,1424.2 858.8,1421.3 855.3,1418.4 851.8,1415.5 848.2,1412.5 844.7,1409.6 841.2,1406.7 837.7,1403.8 834.2,1400.9 830.6,1397.9 827.1,1395.0 823.6,1386.2 820.1,1373.3 816.6,1369.0 813.0,1364.8 809.5,1360.5 806.0,1356.3 802.5,1352.0 799.0,1347.8 795.4,1343.9 791.9,1340.1 788.4,1336.3 784.9,1332.4 781.4,1351.8 777.8,1354.1 774.3,1351.2 770.8,1348.3 767.3,1345.4 763.8,1342.5 760.2,1339.5 756.7,1336.6 753.2,1333.7 749.7,1330.8 746.2,1327.9 742.6,1324.9 739.1,1322.0 735.6,1319.1"/></clipPath>
<filter id="p8f" filterUnits="userSpaceOnUse" x="465.6" y="975.5999999999999" width="824.8000000000001" height="732.4000000000001" color-interpolation-filters="sRGB"><feGaussianBlur in="SourceGraphic" stdDeviation="2.6" result="b"/><feTurbulence type="fractalNoise" baseFrequency="0.1 0.28" numOctaves="2" seed="59" result="t"/><feColorMatrix in="t" type="matrix" values="1 0 0 0 0 1 0 0 0 0 1 0 0 0 0 0 0 0 0 1" result="tg"/><feComposite in="b" in2="tg" operator="arithmetic" k1="0" k2="1.0" k3="0.6" k4="-0.300" result="h"/><feComponentTransfer in="h" result="col"><feFuncR type="table" tableValues="0.08 0.24 0.40 0.49 0.60 0.70 0.83 0.97"/><feFuncG type="table" tableValues="0.03 0.09 0.15 0.23 0.42 0.57 0.75 0.97"/><feFuncB type="table" tableValues="0.02 0.06 0.11 0.12 0.16 0.23 0.49 0.96"/><feFuncA type="linear" slope="0" intercept="1"/></feComponentTransfer><feColorMatrix in="h" type="matrix" values="0 0 0 0 0 0 0 0 0 0 0 0 0 0 0 1 0 0 0 0" result="ha0"/><feGaussianBlur in="ha0" stdDeviation="1.3" result="ha"/><feDiffuseLighting in="ha" surfaceScale="2.5" diffuseConstant="1" lighting-color="#fff" result="lit"><feDistantLight azimuth="255" elevation="50"/></feDiffuseLighting><feComposite in="col" in2="lit" operator="arithmetic" k1="1.305" k2="0" k3="0" k4="0"/></filter>
<linearGradient id="p8lh" gradientUnits="userSpaceOnUse" x1="735.6" y1="0" x2="876.4" y2="0"><stop offset="0.000" stop-color="#6e2a1c"/><stop offset="0.300" stop-color="#6e2a1c"/><stop offset="0.330" stop-color="#f2f0ec"/><stop offset="0.600" stop-color="#f2f0ec"/><stop offset="0.640" stop-color="#6e2a1c"/><stop offset="1.000" stop-color="#6e2a1c"/></linearGradient>
<linearGradient id="p8lv" gradientUnits="userSpaceOnUse" x1="0" y1="711.0" x2="0" y2="681.4" gradientTransform="matrix(1 0.8295 0 1 0 0)"><stop offset="0" stop-color="#000" stop-opacity="0.93"/><stop offset="0.12" stop-color="#000" stop-opacity="0.62"/><stop offset="0.3" stop-color="#000" stop-opacity="0.3"/><stop offset="0.55" stop-color="#000" stop-opacity="0.07"/><stop offset="1" stop-color="#000" stop-opacity="0"/></linearGradient>
<polygon points="735.6,1321.2 876.4,1438.0 876.4,1435.9 872.9,1433.0 869.4,1430.1 865.8,1427.1 862.3,1424.2 858.8,1421.3 855.3,1418.4 851.8,1415.5 848.2,1412.5 844.7,1409.6 841.2,1406.7 837.7,1403.8 834.2,1400.9 830.6,1397.9 827.1,1395.0 823.6,1386.2 820.1,1373.3 816.6,1369.0 813.0,1364.8 809.5,1360.5 806.0,1356.3 802.5,1352.0 799.0,1347.8 795.4,1343.9 791.9,1340.1 788.4,1336.3 784.9,1332.4 781.4,1351.8 777.8,1354.1 774.3,1351.2 770.8,1348.3 767.3,1345.4 763.8,1342.5 760.2,1339.5 756.7,1336.6 753.2,1333.7 749.7,1330.8 746.2,1327.9 742.6,1324.9 739.1,1322.0 735.6,1319.1" fill="url(#p8lh)"/>
<polygon points="735.6,1321.2 876.4,1438.0 876.4,1435.9 872.9,1433.0 869.4,1430.1 865.8,1427.1 862.3,1424.2 858.8,1421.3 855.3,1418.4 851.8,1415.5 848.2,1412.5 844.7,1409.6 841.2,1406.7 837.7,1403.8 834.2,1400.9 830.6,1397.9 827.1,1395.0 823.6,1386.2 820.1,1373.3 816.6,1369.0 813.0,1364.8 809.5,1360.5 806.0,1356.3 802.5,1352.0 799.0,1347.8 795.4,1343.9 791.9,1340.1 788.4,1336.3 784.9,1332.4 781.4,1351.8 777.8,1354.1 774.3,1351.2 770.8,1348.3 767.3,1345.4 763.8,1342.5 760.2,1339.5 756.7,1336.6 753.2,1333.7 749.7,1330.8 746.2,1327.9 742.6,1324.9 739.1,1322.0 735.6,1319.1" fill="#000" filter="url(#streak)"/>
<polygon points="735.6,1321.2 876.4,1438.0 876.4,1435.9 872.9,1433.0 869.4,1430.1 865.8,1427.1 862.3,1424.2 858.8,1421.3 855.3,1418.4 851.8,1415.5 848.2,1412.5 844.7,1409.6 841.2,1406.7 837.7,1403.8 834.2,1400.9 830.6,1397.9 827.1,1395.0 823.6,1386.2 820.1,1373.3 816.6,1369.0 813.0,1364.8 809.5,1360.5 806.0,1356.3 802.5,1352.0 799.0,1347.8 795.4,1343.9 791.9,1340.1 788.4,1336.3 784.9,1332.4 781.4,1351.8 777.8,1354.1 774.3,1351.2 770.8,1348.3 767.3,1345.4 763.8,1342.5 760.2,1339.5 756.7,1336.6 753.2,1333.7 749.7,1330.8 746.2,1327.9 742.6,1324.9 739.1,1322.0 735.6,1319.1" fill="url(#p8lv)"/>
<linearGradient id="p8rh" gradientUnits="userSpaceOnUse" x1="876.4" y1="0" x2="1020.4" y2="0"><stop offset="0.000" stop-color="#6e2a1c"/><stop offset="1.000" stop-color="#3a1a12"/></linearGradient>
<linearGradient id="p8rv" gradientUnits="userSpaceOnUse" x1="0" y1="2158.6" x2="0" y2="2152.6" gradientTransform="matrix(1 -0.8222 0 1 0 0)"><stop offset="0" stop-color="#000" stop-opacity="0.93"/><stop offset="0.12" stop-color="#000" stop-opacity="0.62"/><stop offset="0.3" stop-color="#000" stop-opacity="0.3"/><stop offset="0.55" stop-color="#000" stop-opacity="0.07"/><stop offset="1" stop-color="#000" stop-opacity="0"/></linearGradient>
<polygon points="876.4,1438.0 1020.4,1319.6 1020.4,1317.6 1016.8,1320.6 1013.2,1323.5 1009.6,1326.5 1006.0,1329.4 1002.4,1332.4 998.8,1335.4 995.2,1338.3 991.6,1341.3 988.0,1344.2 984.4,1347.2 980.8,1350.2 977.2,1353.1 973.6,1356.1 970.0,1359.0 966.4,1362.0 962.8,1365.0 959.2,1367.9 955.6,1370.9 952.0,1373.8 948.4,1376.8 944.8,1379.8 941.2,1382.7 937.6,1385.7 934.0,1388.6 930.4,1391.6 926.8,1394.6 923.2,1397.5 919.6,1400.5 916.0,1403.4 912.4,1406.4 908.8,1409.4 905.2,1412.3 901.6,1415.3 898.0,1418.2 894.4,1421.2 890.8,1424.1 887.2,1427.1 883.6,1430.0 880.0,1433.0 876.4,1435.9" fill="url(#p8rh)"/>
<polygon points="876.4,1438.0 1020.4,1319.6 1020.4,1317.6 1016.8,1320.6 1013.2,1323.5 1009.6,1326.5 1006.0,1329.4 1002.4,1332.4 998.8,1335.4 995.2,1338.3 991.6,1341.3 988.0,1344.2 984.4,1347.2 980.8,1350.2 977.2,1353.1 973.6,1356.1 970.0,1359.0 966.4,1362.0 962.8,1365.0 959.2,1367.9 955.6,1370.9 952.0,1373.8 948.4,1376.8 944.8,1379.8 941.2,1382.7 937.6,1385.7 934.0,1388.6 930.4,1391.6 926.8,1394.6 923.2,1397.5 919.6,1400.5 916.0,1403.4 912.4,1406.4 908.8,1409.4 905.2,1412.3 901.6,1415.3 898.0,1418.2 894.4,1421.2 890.8,1424.1 887.2,1427.1 883.6,1430.0 880.0,1433.0 876.4,1435.9" fill="#000" filter="url(#streak)"/>
<polygon points="876.4,1438.0 1020.4,1319.6 1020.4,1317.6 1016.8,1320.6 1013.2,1323.5 1009.6,1326.5 1006.0,1329.4 1002.4,1332.4 998.8,1335.4 995.2,1338.3 991.6,1341.3 988.0,1344.2 984.4,1347.2 980.8,1350.2 977.2,1353.1 973.6,1356.1 970.0,1359.0 966.4,1362.0 962.8,1365.0 959.2,1367.9 955.6,1370.9 952.0,1373.8 948.4,1376.8 944.8,1379.8 941.2,1382.7 937.6,1385.7 934.0,1388.6 930.4,1391.6 926.8,1394.6 923.2,1397.5 919.6,1400.5 916.0,1403.4 912.4,1406.4 908.8,1409.4 905.2,1412.3 901.6,1415.3 898.0,1418.2 894.4,1421.2 890.8,1424.1 887.2,1427.1 883.6,1430.0 880.0,1433.0 876.4,1435.9" fill="url(#p8rv)"/>
<g clip-path="url(#p8c)"><g transform="rotate(-30 878.0 1341.8)" filter="url(#p8f)"><g transform="rotate(30 878.0 1341.8)">
<rect x="656" y="1166" width="445" height="352" fill="rgb(81,81,81)"/>
<ellipse cx="735.6" cy="1316.1" rx="7" ry="4" fill="rgb(81,81,81)"/>
<ellipse cx="742.6" cy="1321.9" rx="7" ry="4" fill="rgb(81,81,81)"/>
<ellipse cx="749.7" cy="1327.8" rx="7" ry="4" fill="rgb(81,81,81)"/>
<ellipse cx="756.7" cy="1333.6" rx="7" ry="4" fill="rgb(81,81,81)"/>
<ellipse cx="763.8" cy="1339.5" rx="7" ry="4" fill="rgb(81,81,81)"/>
<ellipse cx="770.8" cy="1345.3" rx="7" ry="4" fill="rgb(81,81,81)"/>
<ellipse cx="777.8" cy="1351.1" rx="7" ry="4" fill="rgb(81,81,81)"/>
<ellipse cx="784.9" cy="1329.4" rx="7" ry="4" fill="rgb(242,242,242)"/>
<ellipse cx="791.9" cy="1337.1" rx="7" ry="4" fill="rgb(242,242,242)"/>
<ellipse cx="799.0" cy="1344.8" rx="7" ry="4" fill="rgb(242,242,242)"/>
<ellipse cx="806.0" cy="1353.3" rx="7" ry="4" fill="rgb(242,242,242)"/>
<ellipse cx="813.0" cy="1361.8" rx="7" ry="4" fill="rgb(242,242,242)"/>
<ellipse cx="820.1" cy="1370.3" rx="7" ry="4" fill="rgb(242,242,242)"/>
<ellipse cx="827.1" cy="1392.0" rx="7" ry="4" fill="rgb(81,81,81)"/>
<ellipse cx="834.2" cy="1397.9" rx="7" ry="4" fill="rgb(81,81,81)"/>
<ellipse cx="841.2" cy="1403.7" rx="7" ry="4" fill="rgb(81,81,81)"/>
<ellipse cx="848.2" cy="1409.5" rx="7" ry="4" fill="rgb(81,81,81)"/>
<ellipse cx="855.3" cy="1415.4" rx="7" ry="4" fill="rgb(81,81,81)"/>
<ellipse cx="862.3" cy="1421.2" rx="7" ry="4" fill="rgb(81,81,81)"/>
<ellipse cx="869.4" cy="1427.1" rx="7" ry="4" fill="rgb(81,81,81)"/>
<ellipse cx="876.4" cy="1432.9" rx="7" ry="4" fill="rgb(81,81,81)"/>
<ellipse cx="876.4" cy="1432.9" rx="7" ry="4" fill="rgb(81,81,81)"/>
<ellipse cx="883.6" cy="1427.0" rx="7" ry="4" fill="rgb(81,81,81)"/>
<ellipse cx="890.8" cy="1421.1" rx="7" ry="4" fill="rgb(81,81,81)"/>
<ellipse cx="898.0" cy="1415.2" rx="7" ry="4" fill="rgb(81,81,81)"/>
<ellipse cx="905.2" cy="1409.3" rx="7" ry="4" fill="rgb(81,81,81)"/>
<ellipse cx="912.4" cy="1403.4" rx="7" ry="4" fill="rgb(81,81,81)"/>
<ellipse cx="919.6" cy="1397.5" rx="7" ry="4" fill="rgb(81,81,81)"/>
<ellipse cx="926.8" cy="1391.6" rx="7" ry="4" fill="rgb(81,81,81)"/>
<ellipse cx="934.0" cy="1385.6" rx="7" ry="4" fill="rgb(81,81,81)"/>
<ellipse cx="941.2" cy="1379.7" rx="7" ry="4" fill="rgb(81,81,81)"/>
<ellipse cx="948.4" cy="1373.8" rx="7" ry="4" fill="rgb(81,81,81)"/>
<ellipse cx="955.6" cy="1367.9" rx="7" ry="4" fill="rgb(81,81,81)"/>
<ellipse cx="962.8" cy="1362.0" rx="7" ry="4" fill="rgb(81,81,81)"/>
<ellipse cx="970.0" cy="1356.0" rx="7" ry="4" fill="rgb(81,81,81)"/>
<ellipse cx="977.2" cy="1350.1" rx="7" ry="4" fill="rgb(81,81,81)"/>
<ellipse cx="984.4" cy="1344.2" rx="7" ry="4" fill="rgb(81,81,81)"/>
<ellipse cx="991.6" cy="1338.3" rx="7" ry="4" fill="rgb(81,81,81)"/>
<ellipse cx="998.8" cy="1332.4" rx="7" ry="4" fill="rgb(81,81,81)"/>
<ellipse cx="1006.0" cy="1326.4" rx="7" ry="4" fill="rgb(81,81,81)"/>
<ellipse cx="1013.2" cy="1320.5" rx="7" ry="4" fill="rgb(81,81,81)"/>
<ellipse cx="1020.4" cy="1314.6" rx="7" ry="4" fill="rgb(45,45,45)"/>
<ellipse cx="800" cy="1283" rx="65" ry="5" transform="rotate(-22 800 1283)" fill="rgb(51,51,51)"/>
<ellipse cx="850" cy="1300" rx="90" ry="14" transform="rotate(-20 850 1300)" fill="rgb(170,170,170)"/>
<ellipse cx="858" cy="1286" rx="55" ry="7" transform="rotate(-20 858 1286)" fill="rgb(242,242,242)"/>
<ellipse cx="878" cy="1318" rx="80" ry="6" transform="rotate(-18 878 1318)" fill="rgb(51,51,51)"/>
<ellipse cx="902" cy="1328" rx="85" ry="8" transform="rotate(-20 902 1328)" fill="rgb(160,160,160)"/>
<ellipse cx="934" cy="1346" rx="85" ry="8" transform="rotate(-20 934 1346)" fill="rgb(63,63,63)"/>
<ellipse cx="902" cy="1390" rx="48" ry="26" transform="rotate(-20 902 1390)" fill="rgb(191,191,191)"/>
<ellipse cx="910" cy="1378" rx="22" ry="10" transform="rotate(-20 910 1378)" fill="rgb(229,229,229)"/>
<ellipse cx="846" cy="1402" rx="24" ry="28" fill="rgb(76,76,76)"/>
<ellipse cx="800" cy="1360" rx="12" ry="28" transform="rotate(-30 800 1360)" fill="rgb(242,242,242)"/>
<ellipse cx="760" cy="1326" rx="22" ry="14" fill="rgb(89,89,89)"/>
</g></g></g>
<path d="M735.6,1321.2L876.4,1438.0L1020.4,1319.6" stroke="#0a0606" stroke-width="1.2" fill="none"/>
<g font-family="'Liberation Sans', Arial, sans-serif" font-size="7.6" fill="#2a2a2a"><text transform="translate(822.2 1407.8) rotate(141)" text-anchor="middle">2.5</text><text transform="translate(787.0 1378.6) rotate(141)" text-anchor="middle">5</text><text transform="translate(751.8 1349.4) rotate(141)" text-anchor="middle">7.5</text><text transform="translate(790.0 1385.6) rotate(141)" text-anchor="middle" font-size="5.5">µm</text><text transform="translate(930.4 1406.4) rotate(-38)" text-anchor="middle">2.5</text><text transform="translate(966.4 1376.8) rotate(-38)" text-anchor="middle">5</text><text transform="translate(1002.4 1347.2) rotate(-38)" text-anchor="middle">7.5</text><text transform="translate(1027.4 1323.6) rotate(-38)" text-anchor="middle">10</text><text transform="translate(972.4 1383.8) rotate(-38)" text-anchor="middle" font-size="5.5">µm</text><text transform="translate(871.4 1448.0) rotate(-38)" text-anchor="middle">0</text><text transform="translate(885.4 1446.0) rotate(-38)" text-anchor="middle">0</text><path d="M732.6 1320.2L727.6 1280.2" stroke="#444" stroke-width="0.7" fill="none"/><text transform="translate(726.4 1288.7) rotate(-22)" text-anchor="end">1.2</text><text transform="translate(727.4 1297.2) rotate(-22)" text-anchor="end">0.8</text><text transform="translate(728.5 1305.7) rotate(-22)" text-anchor="end">0.4</text><text transform="translate(729.5 1314.2) rotate(-22)" text-anchor="end">0</text><text transform="translate(730.6 1322.7) rotate(-22)" text-anchor="end">-0.4</text><path d="M728.4 1286.2h2.2M729.4 1294.7h2.2M730.5 1303.2h2.2M731.5 1311.7h2.2M732.6 1320.2h2.2" stroke="#444" stroke-width="0.6" fill="none"/><text transform="translate(716.6 1276.2) rotate(-22)" text-anchor="middle">µm</text></g>
<clipPath id="p9c"><polygon points="1059.2,1326.0 1069.5,1321.0 1079.7,1314.9 1090.0,1312.0 1100.0,1306.3 1110.0,1301.8 1120.0,1297.0 1124.3,1291.0 1128.7,1292.9 1133.0,1291.0 1142.0,1286.2 1151.0,1284.3 1160.0,1282.0 1171.7,1278.1 1183.3,1273.4 1195.0,1271.6 1202.0,1272.3 1209.0,1270.8 1216.0,1275.0 1224.0,1277.7 1232.0,1280.8 1240.0,1288.0 1248.0,1290.5 1256.0,1294.7 1264.0,1300.0 1276.0,1303.4 1288.0,1307.9 1300.0,1312.0 1309.3,1315.4 1318.7,1318.9 1328.0,1326.0 1329.6,1330.8 1326.2,1333.4 1322.8,1335.9 1319.4,1338.5 1316.0,1341.0 1312.6,1343.6 1309.2,1346.2 1305.8,1348.7 1302.4,1351.3 1299.0,1353.8 1295.6,1356.4 1292.2,1359.0 1288.8,1361.5 1285.4,1369.2 1282.0,1371.8 1278.6,1374.4 1275.2,1377.0 1271.8,1379.6 1268.4,1382.2 1265.0,1384.8 1261.6,1387.4 1258.2,1384.6 1254.8,1387.3 1251.4,1389.9 1248.0,1392.6 1244.6,1395.2 1241.2,1397.8 1237.8,1400.5 1234.4,1403.1 1231.0,1405.8 1227.6,1408.4 1224.2,1411.0 1220.8,1413.7 1217.4,1416.3 1214.0,1419.0 1210.6,1421.6 1207.2,1424.2 1203.8,1426.9 1200.4,1429.5 1197.0,1432.2 1193.6,1434.8 1193.6,1434.8 1190.3,1437.5 1187.0,1434.9 1183.6,1432.2 1180.3,1429.5 1177.0,1426.8 1173.7,1424.2 1170.4,1421.5 1167.0,1418.8 1163.7,1418.1 1160.4,1415.4 1157.1,1412.7 1153.8,1410.1 1150.4,1407.4 1147.1,1404.8 1143.8,1402.1 1140.5,1399.4 1137.2,1394.7 1133.8,1392.1 1130.5,1389.4 1127.2,1386.7 1123.9,1384.1 1120.6,1381.5 1117.2,1378.9 1113.9,1376.3 1110.6,1373.7 1107.3,1371.1 1104.0,1362.5 1100.6,1359.9 1097.3,1357.4 1094.0,1354.8 1090.7,1352.2 1087.4,1349.7 1084.0,1352.8 1080.7,1350.2 1077.4,1347.6 1074.1,1345.0 1070.8,1342.4 1067.4,1339.8 1064.1,1337.2 1060.8,1334.6"/></clipPath>
<filter id="p9f" filterUnits="userSpaceOnUse" x="789.2" y="991.5999999999999" width="810.3999999999999" height="722.8000000000002" color-interpolation-filters="sRGB"><feGaussianBlur in="SourceGraphic" stdDeviation="2.6" result="b"/><feTurbulence type="fractalNoise" baseFrequency="0.1 0.28" numOctaves="2" seed="66" result="t"/><feColorMatrix in="t" type="matrix" values="1 0 0 0 0 1 0 0 0 0 1 0 0 0 0 0 0 0 0 1" result="tg"/><feComposite in="b" in2="tg" operator="arithmetic" k1="0" k2="1.0" k3="0.6" k4="-0.300" result="h"/><feComponentTransfer in="h" result="col"><feFuncR type="table" tableValues="0.08 0.24 0.40 0.49 0.60 0.70 0.83 0.97"/><feFuncG type="table" tableValues="0.03 0.09 0.15 0.23 0.42 0.57 0.75 0.97"/><feFuncB type="table" tableValues="0.02 0.06 0.11 0.12 0.16 0.23 0.49 0.96"/><feFuncA type="linear" slope="0" intercept="1"/></feComponentTransfer><feColorMatrix in="h" type="matrix" values="0 0 0 0 0 0 0 0 0 0 0 0 0 0 0 1 0 0 0 0" result="ha0"/><feGaussianBlur in="ha0" stdDeviation="1.3" result="ha"/><feDiffuseLighting in="ha" surfaceScale="2.5" diffuseConstant="1" lighting-color="#fff" result="lit"><feDistantLight azimuth="255" elevation="50"/></feDiffuseLighting><feComposite in="col" in2="lit" operator="arithmetic" k1="1.305" k2="0" k3="0" k4="0"/></filter>
<linearGradient id="p9lh" gradientUnits="userSpaceOnUse" x1="1060.8" y1="0" x2="1193.6" y2="0"><stop offset="0.000" stop-color="#6e2a1c"/><stop offset="0.150" stop-color="#6e2a1c"/><stop offset="0.200" stop-color="#c4a040"/><stop offset="0.350" stop-color="#6e2a1c"/><stop offset="0.600" stop-color="#3a1a12"/><stop offset="0.800" stop-color="#6e2a1c"/><stop offset="1.000" stop-color="#c4a040"/></linearGradient>
<linearGradient id="p9lv" gradientUnits="userSpaceOnUse" x1="0" y1="495.3" x2="0" y2="484.6" gradientTransform="matrix(1 0.7952 0 1 0 0)"><stop offset="0" stop-color="#000" stop-opacity="0.93"/><stop offset="0.12" stop-color="#000" stop-opacity="0.62"/><stop offset="0.3" stop-color="#000" stop-opacity="0.3"/><stop offset="0.55" stop-color="#000" stop-opacity="0.07"/><stop offset="1" stop-color="#000" stop-opacity="0"/></linearGradient>
<polygon points="1060.8,1338.8 1193.6,1444.4 1193.6,1434.8 1190.3,1437.5 1187.0,1434.9 1183.6,1432.2 1180.3,1429.5 1177.0,1426.8 1173.7,1424.2 1170.4,1421.5 1167.0,1418.8 1163.7,1418.1 1160.4,1415.4 1157.1,1412.7 1153.8,1410.1 1150.4,1407.4 1147.1,1404.8 1143.8,1402.1 1140.5,1399.4 1137.2,1394.7 1133.8,1392.1 1130.5,1389.4 1127.2,1386.7 1123.9,1384.1 1120.6,1381.5 1117.2,1378.9 1113.9,1376.3 1110.6,1373.7 1107.3,1371.1 1104.0,1362.5 1100.6,1359.9 1097.3,1357.4 1094.0,1354.8 1090.7,1352.2 1087.4,1349.7 1084.0,1352.8 1080.7,1350.2 1077.4,1347.6 1074.1,1345.0 1070.8,1342.4 1067.4,1339.8 1064.1,1337.2 1060.8,1334.6" fill="url(#p9lh)"/>
<polygon points="1060.8,1338.8 1193.6,1444.4 1193.6,1434.8 1190.3,1437.5 1187.0,1434.9 1183.6,1432.2 1180.3,1429.5 1177.0,1426.8 1173.7,1424.2 1170.4,1421.5 1167.0,1418.8 1163.7,1418.1 1160.4,1415.4 1157.1,1412.7 1153.8,1410.1 1150.4,1407.4 1147.1,1404.8 1143.8,1402.1 1140.5,1399.4 1137.2,1394.7 1133.8,1392.1 1130.5,1389.4 1127.2,1386.7 1123.9,1384.1 1120.6,1381.5 1117.2,1378.9 1113.9,1376.3 1110.6,1373.7 1107.3,1371.1 1104.0,1362.5 1100.6,1359.9 1097.3,1357.4 1094.0,1354.8 1090.7,1352.2 1087.4,1349.7 1084.0,1352.8 1080.7,1350.2 1077.4,1347.6 1074.1,1345.0 1070.8,1342.4 1067.4,1339.8 1064.1,1337.2 1060.8,1334.6" fill="#000" filter="url(#streak)"/>
<polygon points="1060.8,1338.8 1193.6,1444.4 1193.6,1434.8 1190.3,1437.5 1187.0,1434.9 1183.6,1432.2 1180.3,1429.5 1177.0,1426.8 1173.7,1424.2 1170.4,1421.5 1167.0,1418.8 1163.7,1418.1 1160.4,1415.4 1157.1,1412.7 1153.8,1410.1 1150.4,1407.4 1147.1,1404.8 1143.8,1402.1 1140.5,1399.4 1137.2,1394.7 1133.8,1392.1 1130.5,1389.4 1127.2,1386.7 1123.9,1384.1 1120.6,1381.5 1117.2,1378.9 1113.9,1376.3 1110.6,1373.7 1107.3,1371.1 1104.0,1362.5 1100.6,1359.9 1097.3,1357.4 1094.0,1354.8 1090.7,1352.2 1087.4,1349.7 1084.0,1352.8 1080.7,1350.2 1077.4,1347.6 1074.1,1345.0 1070.8,1342.4 1067.4,1339.8 1064.1,1337.2 1060.8,1334.6" fill="url(#p9lv)"/>
<linearGradient id="p9rh" gradientUnits="userSpaceOnUse" x1="1193.6" y1="0" x2="1329.6" y2="0"><stop offset="0.000" stop-color="#c4a040"/><stop offset="0.400" stop-color="#c4a040"/><stop offset="0.500" stop-color="#6e2a1c"/><stop offset="0.700" stop-color="#c4a040"/><stop offset="1.000" stop-color="#c4a040"/></linearGradient>
<linearGradient id="p9rv" gradientUnits="userSpaceOnUse" x1="0" y1="2371.2" x2="0" y2="2361.6" gradientTransform="matrix(1 -0.7765 0 1 0 0)"><stop offset="0" stop-color="#000" stop-opacity="0.93"/><stop offset="0.12" stop-color="#000" stop-opacity="0.62"/><stop offset="0.3" stop-color="#000" stop-opacity="0.3"/><stop offset="0.55" stop-color="#000" stop-opacity="0.07"/><stop offset="1" stop-color="#000" stop-opacity="0"/></linearGradient>
<polygon points="1193.6,1444.4 1329.6,1338.8 1329.6,1330.8 1326.2,1333.4 1322.8,1335.9 1319.4,1338.5 1316.0,1341.0 1312.6,1343.6 1309.2,1346.2 1305.8,1348.7 1302.4,1351.3 1299.0,1353.8 1295.6,1356.4 1292.2,1359.0 1288.8,1361.5 1285.4,1369.2 1282.0,1371.8 1278.6,1374.4 1275.2,1377.0 1271.8,1379.6 1268.4,1382.2 1265.0,1384.8 1261.6,1387.4 1258.2,1384.6 1254.8,1387.3 1251.4,1389.9 1248.0,1392.6 1244.6,1395.2 1241.2,1397.8 1237.8,1400.5 1234.4,1403.1 1231.0,1405.8 1227.6,1408.4 1224.2,1411.0 1220.8,1413.7 1217.4,1416.3 1214.0,1419.0 1210.6,1421.6 1207.2,1424.2 1203.8,1426.9 1200.4,1429.5 1197.0,1432.2 1193.6,1434.8" fill="url(#p9rh)"/>
<polygon points="1193.6,1444.4 1329.6,1338.8 1329.6,1330.8 1326.2,1333.4 1322.8,1335.9 1319.4,1338.5 1316.0,1341.0 1312.6,1343.6 1309.2,1346.2 1305.8,1348.7 1302.4,1351.3 1299.0,1353.8 1295.6,1356.4 1292.2,1359.0 1288.8,1361.5 1285.4,1369.2 1282.0,1371.8 1278.6,1374.4 1275.2,1377.0 1271.8,1379.6 1268.4,1382.2 1265.0,1384.8 1261.6,1387.4 1258.2,1384.6 1254.8,1387.3 1251.4,1389.9 1248.0,1392.6 1244.6,1395.2 1241.2,1397.8 1237.8,1400.5 1234.4,1403.1 1231.0,1405.8 1227.6,1408.4 1224.2,1411.0 1220.8,1413.7 1217.4,1416.3 1214.0,1419.0 1210.6,1421.6 1207.2,1424.2 1203.8,1426.9 1200.4,1429.5 1197.0,1432.2 1193.6,1434.8" fill="#000" filter="url(#streak)"/>
<polygon points="1193.6,1444.4 1329.6,1338.8 1329.6,1330.8 1326.2,1333.4 1322.8,1335.9 1319.4,1338.5 1316.0,1341.0 1312.6,1343.6 1309.2,1346.2 1305.8,1348.7 1302.4,1351.3 1299.0,1353.8 1295.6,1356.4 1292.2,1359.0 1288.8,1361.5 1285.4,1369.2 1282.0,1371.8 1278.6,1374.4 1275.2,1377.0 1271.8,1379.6 1268.4,1382.2 1265.0,1384.8 1261.6,1387.4 1258.2,1384.6 1254.8,1387.3 1251.4,1389.9 1248.0,1392.6 1244.6,1395.2 1241.2,1397.8 1237.8,1400.5 1234.4,1403.1 1231.0,1405.8 1227.6,1408.4 1224.2,1411.0 1220.8,1413.7 1217.4,1416.3 1214.0,1419.0 1210.6,1421.6 1207.2,1424.2 1203.8,1426.9 1200.4,1429.5 1197.0,1432.2 1193.6,1434.8" fill="url(#p9rv)"/>
<g clip-path="url(#p9c)"><g transform="rotate(-30 1194.4 1353.0)" filter="url(#p9f)"><g transform="rotate(30 1194.4 1353.0)">
<rect x="979" y="1182" width="430" height="343" fill="rgb(119,119,119)"/>
<ellipse cx="1060.8" cy="1331.6" rx="7" ry="4" fill="rgb(81,81,81)"/>
<ellipse cx="1067.4" cy="1336.8" rx="7" ry="4" fill="rgb(81,81,81)"/>
<ellipse cx="1074.1" cy="1342.0" rx="7" ry="4" fill="rgb(81,81,81)"/>
<ellipse cx="1080.7" cy="1347.2" rx="7" ry="4" fill="rgb(81,81,81)"/>
<ellipse cx="1087.4" cy="1346.7" rx="7" ry="4" fill="rgb(165,165,165)"/>
<ellipse cx="1094.0" cy="1351.8" rx="7" ry="4" fill="rgb(165,165,165)"/>
<ellipse cx="1100.6" cy="1356.9" rx="7" ry="4" fill="rgb(165,165,165)"/>
<ellipse cx="1107.3" cy="1368.1" rx="7" ry="4" fill="rgb(81,81,81)"/>
<ellipse cx="1113.9" cy="1373.3" rx="7" ry="4" fill="rgb(81,81,81)"/>
<ellipse cx="1120.6" cy="1378.5" rx="7" ry="4" fill="rgb(81,81,81)"/>
<ellipse cx="1127.2" cy="1383.7" rx="7" ry="4" fill="rgb(81,81,81)"/>
<ellipse cx="1133.8" cy="1389.1" rx="7" ry="4" fill="rgb(81,81,81)"/>
<ellipse cx="1140.5" cy="1396.4" rx="7" ry="4" fill="rgb(45,45,45)"/>
<ellipse cx="1147.1" cy="1401.8" rx="7" ry="4" fill="rgb(45,45,45)"/>
<ellipse cx="1153.8" cy="1407.1" rx="7" ry="4" fill="rgb(45,45,45)"/>
<ellipse cx="1160.4" cy="1412.4" rx="7" ry="4" fill="rgb(45,45,45)"/>
<ellipse cx="1167.0" cy="1415.8" rx="7" ry="4" fill="rgb(81,81,81)"/>
<ellipse cx="1173.7" cy="1421.2" rx="7" ry="4" fill="rgb(81,81,81)"/>
<ellipse cx="1180.3" cy="1426.5" rx="7" ry="4" fill="rgb(81,81,81)"/>
<ellipse cx="1187.0" cy="1431.9" rx="7" ry="4" fill="rgb(81,81,81)"/>
<ellipse cx="1193.6" cy="1431.8" rx="7" ry="4" fill="rgb(165,165,165)"/>
<ellipse cx="1193.6" cy="1431.8" rx="7" ry="4" fill="rgb(165,165,165)"/>
<ellipse cx="1200.4" cy="1426.5" rx="7" ry="4" fill="rgb(165,165,165)"/>
<ellipse cx="1207.2" cy="1421.2" rx="7" ry="4" fill="rgb(165,165,165)"/>
<ellipse cx="1214.0" cy="1416.0" rx="7" ry="4" fill="rgb(165,165,165)"/>
<ellipse cx="1220.8" cy="1410.7" rx="7" ry="4" fill="rgb(165,165,165)"/>
<ellipse cx="1227.6" cy="1405.4" rx="7" ry="4" fill="rgb(165,165,165)"/>
<ellipse cx="1234.4" cy="1400.1" rx="7" ry="4" fill="rgb(165,165,165)"/>
<ellipse cx="1241.2" cy="1394.8" rx="7" ry="4" fill="rgb(165,165,165)"/>
<ellipse cx="1248.0" cy="1389.6" rx="7" ry="4" fill="rgb(165,165,165)"/>
<ellipse cx="1254.8" cy="1384.3" rx="7" ry="4" fill="rgb(165,165,165)"/>
<ellipse cx="1261.6" cy="1384.4" rx="7" ry="4" fill="rgb(81,81,81)"/>
<ellipse cx="1268.4" cy="1379.2" rx="7" ry="4" fill="rgb(81,81,81)"/>
<ellipse cx="1275.2" cy="1374.0" rx="7" ry="4" fill="rgb(81,81,81)"/>
<ellipse cx="1282.0" cy="1368.8" rx="7" ry="4" fill="rgb(81,81,81)"/>
<ellipse cx="1288.8" cy="1358.5" rx="7" ry="4" fill="rgb(165,165,165)"/>
<ellipse cx="1295.6" cy="1353.4" rx="7" ry="4" fill="rgb(165,165,165)"/>
<ellipse cx="1302.4" cy="1348.3" rx="7" ry="4" fill="rgb(165,165,165)"/>
<ellipse cx="1309.2" cy="1343.2" rx="7" ry="4" fill="rgb(165,165,165)"/>
<ellipse cx="1316.0" cy="1338.0" rx="7" ry="4" fill="rgb(165,165,165)"/>
<ellipse cx="1322.8" cy="1332.9" rx="7" ry="4" fill="rgb(165,165,165)"/>
<ellipse cx="1329.6" cy="1327.8" rx="7" ry="4" fill="rgb(165,165,165)"/>
<ellipse cx="1090" cy="1318" rx="30" ry="12" transform="rotate(-25 1090 1318)" fill="rgb(76,76,76)"/>
<ellipse cx="1112" cy="1338" rx="40" ry="12" transform="rotate(-25 1112 1338)" fill="rgb(165,165,165)"/>
<ellipse cx="1175" cy="1307" rx="57" ry="18" transform="rotate(-10 1175 1307)" fill="rgb(242,242,242)"/>
<ellipse cx="1124" cy="1298" rx="8" ry="10" fill="rgb(242,242,242)"/>
<ellipse cx="1145" cy="1290" rx="14" ry="9" fill="rgb(242,242,242)"/>
<ellipse cx="1140" cy="1313" rx="12" ry="6" fill="rgb(242,242,242)"/>
<ellipse cx="1200" cy="1288" rx="48" ry="12" transform="rotate(15 1200 1288)" fill="rgb(89,89,89)"/>
<ellipse cx="1272" cy="1314" rx="24" ry="12" transform="rotate(25 1272 1314)" fill="rgb(38,38,38)"/>
<ellipse cx="1272" cy="1346" rx="56" ry="20" transform="rotate(-10 1272 1346)" fill="rgb(165,165,165)"/>
<ellipse cx="1160" cy="1342" rx="24" ry="16" fill="rgb(81,81,81)"/>
<ellipse cx="1197" cy="1342" rx="19" ry="13" transform="rotate(-20 1197 1342)" fill="rgb(242,242,242)"/>
<ellipse cx="1137" cy="1351" rx="5" ry="5" fill="rgb(242,242,242)"/>
<ellipse cx="1257" cy="1351" rx="5" ry="4" fill="rgb(242,242,242)"/>
<ellipse cx="1243" cy="1311" rx="6" ry="5" fill="rgb(242,242,242)"/>
<ellipse cx="1136" cy="1382" rx="32" ry="24" transform="rotate(20 1136 1382)" fill="rgb(25,25,25)"/>
<ellipse cx="1224" cy="1370" rx="56" ry="20" transform="rotate(-20 1224 1370)" fill="rgb(165,165,165)"/>
<ellipse cx="1225" cy="1385" rx="10" ry="5" fill="rgb(216,216,216)"/>
<ellipse cx="1184" cy="1406" rx="32" ry="16" transform="rotate(-20 1184 1406)" fill="rgb(76,76,76)"/>
<ellipse cx="1216" cy="1422" rx="32" ry="16" transform="rotate(-30 1216 1422)" fill="rgb(170,170,170)"/>
<ellipse cx="1268" cy="1374" rx="20" ry="16" fill="rgb(81,81,81)"/>
</g></g></g>
<path d="M1060.8,1338.8L1193.6,1444.4L1329.6,1338.8" stroke="#0a0606" stroke-width="1.2" fill="none"/>
<g font-family="'Liberation Sans', Arial, sans-serif" font-size="7.6" fill="#2a2a2a"><text transform="translate(1141.4 1417.0) rotate(141)" text-anchor="middle">2.5</text><text transform="translate(1108.2 1390.6) rotate(141)" text-anchor="middle">5</text><text transform="translate(1075.0 1364.2) rotate(141)" text-anchor="middle">7.5</text><text transform="translate(1111.2 1397.6) rotate(141)" text-anchor="middle" font-size="5.5">µm</text><text transform="translate(1245.6 1416.0) rotate(-38)" text-anchor="middle">2.5</text><text transform="translate(1279.6 1389.6) rotate(-38)" text-anchor="middle">5</text><text transform="translate(1313.6 1363.2) rotate(-38)" text-anchor="middle">7.5</text><text transform="translate(1336.6 1342.8) rotate(-38)" text-anchor="middle">10</text><text transform="translate(1285.6 1396.6) rotate(-38)" text-anchor="middle" font-size="5.5">µm</text><text transform="translate(1188.6 1454.4) rotate(-38)" text-anchor="middle">0</text><text transform="translate(1202.6 1452.4) rotate(-38)" text-anchor="middle">0</text><path d="M1057.8 1337.8L1052.8 1297.8" stroke="#444" stroke-width="0.7" fill="none"/><text transform="translate(1051.5 1306.3) rotate(-22)" text-anchor="end">400</text><text transform="translate(1053.0 1317.6) rotate(-22)" text-anchor="end">200</text><text transform="translate(1054.4 1329.0) rotate(-22)" text-anchor="end">0</text><text transform="translate(1055.8 1340.3) rotate(-22)" text-anchor="end">-200</text><path d="M1053.5 1303.8h2.2M1055.0 1315.1h2.2M1056.4 1326.5h2.2M1057.8 1337.8h2.2" stroke="#444" stroke-width="0.6" fill="none"/><text transform="translate(1041.8 1293.8) rotate(-22)" text-anchor="middle">nm</text></g>
<clipPath id="p10c"><polygon points="1377.6,1313.2 1386.1,1307.0 1394.5,1303.1 1403.0,1299.0 1414.3,1288.8 1425.7,1278.6 1437.0,1270.0 1446.0,1261.3 1455.0,1254.9 1464.0,1247.6 1470.3,1248.5 1476.7,1250.4 1483.0,1252.0 1502.3,1249.8 1521.7,1249.3 1541.0,1249.0 1560.7,1255.8 1580.3,1267.6 1600.0,1278.0 1618.7,1287.2 1637.3,1297.5 1656.0,1308.0 1657.6,1316.8 1654.0,1311.4 1650.5,1311.2 1646.9,1311.0 1643.4,1310.7 1639.8,1310.5 1636.2,1310.3 1632.7,1310.1 1629.1,1312.9 1625.6,1316.5 1622.0,1320.1 1618.4,1323.6 1614.9,1327.2 1611.3,1330.8 1607.8,1339.4 1604.2,1343.7 1600.6,1348.0 1597.1,1352.3 1593.5,1356.6 1590.0,1360.9 1586.4,1365.2 1582.8,1374.4 1579.3,1377.4 1575.7,1380.3 1572.2,1383.2 1568.6,1386.1 1565.0,1389.1 1561.5,1392.0 1557.9,1394.9 1554.4,1397.4 1550.8,1399.9 1547.2,1402.4 1543.7,1404.9 1540.1,1407.4 1536.6,1409.9 1533.0,1412.3 1529.4,1414.8 1525.9,1407.9 1522.3,1409.9 1518.8,1412.0 1515.2,1414.0 1515.2,1414.0 1511.7,1411.6 1508.2,1409.1 1504.8,1406.7 1501.3,1404.2 1497.8,1401.8 1494.3,1399.4 1490.8,1408.8 1487.4,1406.0 1483.9,1403.2 1480.4,1400.4 1476.9,1391.4 1473.4,1388.7 1470.0,1386.0 1466.5,1383.3 1463.0,1376.6 1459.5,1374.0 1456.0,1371.4 1452.6,1368.8 1449.1,1366.2 1445.6,1363.6 1442.1,1360.0 1438.6,1356.4 1435.2,1352.8 1431.7,1349.3 1428.2,1345.7 1424.7,1342.1 1421.2,1334.5 1417.8,1330.3 1414.3,1325.9 1410.8,1321.5 1407.3,1317.1 1403.8,1312.8 1400.4,1310.3 1396.9,1307.9 1393.4,1305.5 1389.9,1303.1 1386.4,1321.2 1383.0,1319.2 1379.5,1317.3 1376.0,1314.4"/></clipPath>
<filter id="p10f" filterUnits="userSpaceOnUse" x="1106" y="971" width="821.5999999999999" height="732.2" color-interpolation-filters="sRGB"><feGaussianBlur in="SourceGraphic" stdDeviation="2.6" result="b"/><feTurbulence type="fractalNoise" baseFrequency="0.1 0.28" numOctaves="2" seed="73" result="t"/><feColorMatrix in="t" type="matrix" values="1 0 0 0 0 1 0 0 0 0 1 0 0 0 0 0 0 0 0 1" result="tg"/><feComposite in="b" in2="tg" operator="arithmetic" k1="0" k2="1.0" k3="0.6" k4="-0.300" result="h"/><feComponentTransfer in="h" result="col"><feFuncR type="table" tableValues="0.08 0.24 0.40 0.49 0.60 0.70 0.83 0.97"/><feFuncG type="table" tableValues="0.03 0.09 0.15 0.23 0.42 0.57 0.75 0.97"/><feFuncB type="table" tableValues="0.02 0.06 0.11 0.12 0.16 0.23 0.49 0.96"/><feFuncA type="linear" slope="0" intercept="1"/></feComponentTransfer><feColorMatrix in="h" type="matrix" values="0 0 0 0 0 0 0 0 0 0 0 0 0 0 0 1 0 0 0 0" result="ha0"/><feGaussianBlur in="ha0" stdDeviation="1.3" result="ha"/><feDiffuseLighting in="ha" surfaceScale="2.5" diffuseConstant="1" lighting-color="#fff" result="lit"><feDistantLight azimuth="255" elevation="50"/></feDiffuseLighting><feComposite in="col" in2="lit" operator="arithmetic" k1="1.305" k2="0" k3="0" k4="0"/></filter>
<linearGradient id="p10lh" gradientUnits="userSpaceOnUse" x1="1376.0" y1="0" x2="1515.2" y2="0"><stop offset="0.000" stop-color="#3a1a12"/><stop offset="0.100" stop-color="#f2f0ec"/><stop offset="0.320" stop-color="#f2f0ec"/><stop offset="0.350" stop-color="#c4a040"/><stop offset="0.650" stop-color="#8a4a1c"/><stop offset="0.750" stop-color="#3a1a12"/><stop offset="0.850" stop-color="#c4a040"/><stop offset="1.000" stop-color="#c4a040"/></linearGradient>
<linearGradient id="p10lv" gradientUnits="userSpaceOnUse" x1="0" y1="161.8" x2="0" y2="134.8" gradientTransform="matrix(1 0.8391 0 1 0 0)"><stop offset="0" stop-color="#000" stop-opacity="0.93"/><stop offset="0.12" stop-color="#000" stop-opacity="0.62"/><stop offset="0.3" stop-color="#000" stop-opacity="0.3"/><stop offset="0.55" stop-color="#000" stop-opacity="0.07"/><stop offset="1" stop-color="#000" stop-opacity="0"/></linearGradient>
<polygon points="1376.0,1316.4 1515.2,1433.2 1515.2,1414.0 1511.7,1411.6 1508.2,1409.1 1504.8,1406.7 1501.3,1404.2 1497.8,1401.8 1494.3,1399.4 1490.8,1408.8 1487.4,1406.0 1483.9,1403.2 1480.4,1400.4 1476.9,1391.4 1473.4,1388.7 1470.0,1386.0 1466.5,1383.3 1463.0,1376.6 1459.5,1374.0 1456.0,1371.4 1452.6,1368.8 1449.1,1366.2 1445.6,1363.6 1442.1,1360.0 1438.6,1356.4 1435.2,1352.8 1431.7,1349.3 1428.2,1345.7 1424.7,1342.1 1421.2,1334.5 1417.8,1330.3 1414.3,1325.9 1410.8,1321.5 1407.3,1317.1 1403.8,1312.8 1400.4,1310.3 1396.9,1307.9 1393.4,1305.5 1389.9,1303.1 1386.4,1321.2 1383.0,1319.2 1379.5,1317.3 1376.0,1314.4" fill="url(#p10lh)"/>
<polygon points="1376.0,1316.4 1515.2,1433.2 1515.2,1414.0 1511.7,1411.6 1508.2,1409.1 1504.8,1406.7 1501.3,1404.2 1497.8,1401.8 1494.3,1399.4 1490.8,1408.8 1487.4,1406.0 1483.9,1403.2 1480.4,1400.4 1476.9,1391.4 1473.4,1388.7 1470.0,1386.0 1466.5,1383.3 1463.0,1376.6 1459.5,1374.0 1456.0,1371.4 1452.6,1368.8 1449.1,1366.2 1445.6,1363.6 1442.1,1360.0 1438.6,1356.4 1435.2,1352.8 1431.7,1349.3 1428.2,1345.7 1424.7,1342.1 1421.2,1334.5 1417.8,1330.3 1414.3,1325.9 1410.8,1321.5 1407.3,1317.1 1403.8,1312.8 1400.4,1310.3 1396.9,1307.9 1393.4,1305.5 1389.9,1303.1 1386.4,1321.2 1383.0,1319.2 1379.5,1317.3 1376.0,1314.4" fill="#000" filter="url(#streak)"/>
<polygon points="1376.0,1316.4 1515.2,1433.2 1515.2,1414.0 1511.7,1411.6 1508.2,1409.1 1504.8,1406.7 1501.3,1404.2 1497.8,1401.8 1494.3,1399.4 1490.8,1408.8 1487.4,1406.0 1483.9,1403.2 1480.4,1400.4 1476.9,1391.4 1473.4,1388.7 1470.0,1386.0 1466.5,1383.3 1463.0,1376.6 1459.5,1374.0 1456.0,1371.4 1452.6,1368.8 1449.1,1366.2 1445.6,1363.6 1442.1,1360.0 1438.6,1356.4 1435.2,1352.8 1431.7,1349.3 1428.2,1345.7 1424.7,1342.1 1421.2,1334.5 1417.8,1330.3 1414.3,1325.9 1410.8,1321.5 1407.3,1317.1 1403.8,1312.8 1400.4,1310.3 1396.9,1307.9 1393.4,1305.5 1389.9,1303.1 1386.4,1321.2 1383.0,1319.2 1379.5,1317.3 1376.0,1314.4" fill="url(#p10lv)"/>
<linearGradient id="p10rh" gradientUnits="userSpaceOnUse" x1="1515.2" y1="0" x2="1657.6" y2="0"><stop offset="0.000" stop-color="#c4a040"/><stop offset="0.080" stop-color="#6e2a1c"/><stop offset="0.450" stop-color="#6e2a1c"/><stop offset="0.500" stop-color="#c4a040"/><stop offset="0.620" stop-color="#c4a040"/><stop offset="0.660" stop-color="#f2f0ec"/><stop offset="0.970" stop-color="#f2f0ec"/><stop offset="1.000" stop-color="#6e2a1c"/></linearGradient>
<linearGradient id="p10rv" gradientUnits="userSpaceOnUse" x1="0" y1="2642.0" x2="0" y2="2612.5" gradientTransform="matrix(1 -0.7978 0 1 0 0)"><stop offset="0" stop-color="#000" stop-opacity="0.93"/><stop offset="0.12" stop-color="#000" stop-opacity="0.62"/><stop offset="0.3" stop-color="#000" stop-opacity="0.3"/><stop offset="0.55" stop-color="#000" stop-opacity="0.07"/><stop offset="1" stop-color="#000" stop-opacity="0"/></linearGradient>
<polygon points="1515.2,1433.2 1657.6,1319.6 1657.6,1316.8 1654.0,1311.4 1650.5,1311.2 1646.9,1311.0 1643.4,1310.7 1639.8,1310.5 1636.2,1310.3 1632.7,1310.1 1629.1,1312.9 1625.6,1316.5 1622.0,1320.1 1618.4,1323.6 1614.9,1327.2 1611.3,1330.8 1607.8,1339.4 1604.2,1343.7 1600.6,1348.0 1597.1,1352.3 1593.5,1356.6 1590.0,1360.9 1586.4,1365.2 1582.8,1374.4 1579.3,1377.4 1575.7,1380.3 1572.2,1383.2 1568.6,1386.1 1565.0,1389.1 1561.5,1392.0 1557.9,1394.9 1554.4,1397.4 1550.8,1399.9 1547.2,1402.4 1543.7,1404.9 1540.1,1407.4 1536.6,1409.9 1533.0,1412.3 1529.4,1414.8 1525.9,1407.9 1522.3,1409.9 1518.8,1412.0 1515.2,1414.0" fill="url(#p10rh)"/>
<polygon points="1515.2,1433.2 1657.6,1319.6 1657.6,1316.8 1654.0,1311.4 1650.5,1311.2 1646.9,1311.0 1643.4,1310.7 1639.8,1310.5 1636.2,1310.3 1632.7,1310.1 1629.1,1312.9 1625.6,1316.5 1622.0,1320.1 1618.4,1323.6 1614.9,1327.2 1611.3,1330.8 1607.8,1339.4 1604.2,1343.7 1600.6,1348.0 1597.1,1352.3 1593.5,1356.6 1590.0,1360.9 1586.4,1365.2 1582.8,1374.4 1579.3,1377.4 1575.7,1380.3 1572.2,1383.2 1568.6,1386.1 1565.0,1389.1 1561.5,1392.0 1557.9,1394.9 1554.4,1397.4 1550.8,1399.9 1547.2,1402.4 1543.7,1404.9 1540.1,1407.4 1536.6,1409.9 1533.0,1412.3 1529.4,1414.8 1525.9,1407.9 1522.3,1409.9 1518.8,1412.0 1515.2,1414.0" fill="#000" filter="url(#streak)"/>
<polygon points="1515.2,1433.2 1657.6,1319.6 1657.6,1316.8 1654.0,1311.4 1650.5,1311.2 1646.9,1311.0 1643.4,1310.7 1639.8,1310.5 1636.2,1310.3 1632.7,1310.1 1629.1,1312.9 1625.6,1316.5 1622.0,1320.1 1618.4,1323.6 1614.9,1327.2 1611.3,1330.8 1607.8,1339.4 1604.2,1343.7 1600.6,1348.0 1597.1,1352.3 1593.5,1356.6 1590.0,1360.9 1586.4,1365.2 1582.8,1374.4 1579.3,1377.4 1575.7,1380.3 1572.2,1383.2 1568.6,1386.1 1565.0,1389.1 1561.5,1392.0 1557.9,1394.9 1554.4,1397.4 1550.8,1399.9 1547.2,1402.4 1543.7,1404.9 1540.1,1407.4 1536.6,1409.9 1533.0,1412.3 1529.4,1414.8 1525.9,1407.9 1522.3,1409.9 1518.8,1412.0 1515.2,1414.0" fill="url(#p10rv)"/>
<g clip-path="url(#p10c)"><g transform="rotate(-30 1516.8 1337.1)" filter="url(#p10f)"><g transform="rotate(30 1516.8 1337.1)">
<rect x="1296" y="1161" width="442" height="352" fill="rgb(127,127,127)"/>
<ellipse cx="1376.0" cy="1311.4" rx="7" ry="4" fill="rgb(45,45,45)"/>
<ellipse cx="1383.0" cy="1316.2" rx="7" ry="4" fill="rgb(45,45,45)"/>
<ellipse cx="1389.9" cy="1300.1" rx="7" ry="4" fill="rgb(242,242,242)"/>
<ellipse cx="1396.9" cy="1304.9" rx="7" ry="4" fill="rgb(242,242,242)"/>
<ellipse cx="1403.8" cy="1309.8" rx="7" ry="4" fill="rgb(242,242,242)"/>
<ellipse cx="1410.8" cy="1318.5" rx="7" ry="4" fill="rgb(242,242,242)"/>
<ellipse cx="1417.8" cy="1327.3" rx="7" ry="4" fill="rgb(242,242,242)"/>
<ellipse cx="1424.7" cy="1339.1" rx="7" ry="4" fill="rgb(165,165,165)"/>
<ellipse cx="1431.7" cy="1346.3" rx="7" ry="4" fill="rgb(165,165,165)"/>
<ellipse cx="1438.6" cy="1353.4" rx="7" ry="4" fill="rgb(165,165,165)"/>
<ellipse cx="1445.6" cy="1360.6" rx="7" ry="4" fill="rgb(165,165,165)"/>
<ellipse cx="1452.6" cy="1365.8" rx="7" ry="4" fill="rgb(165,165,165)"/>
<ellipse cx="1459.5" cy="1371.0" rx="7" ry="4" fill="rgb(165,165,165)"/>
<ellipse cx="1466.5" cy="1380.3" rx="7" ry="4" fill="rgb(114,114,114)"/>
<ellipse cx="1473.4" cy="1385.7" rx="7" ry="4" fill="rgb(114,114,114)"/>
<ellipse cx="1480.4" cy="1397.4" rx="7" ry="4" fill="rgb(45,45,45)"/>
<ellipse cx="1487.4" cy="1403.0" rx="7" ry="4" fill="rgb(45,45,45)"/>
<ellipse cx="1494.3" cy="1396.4" rx="7" ry="4" fill="rgb(165,165,165)"/>
<ellipse cx="1501.3" cy="1401.2" rx="7" ry="4" fill="rgb(165,165,165)"/>
<ellipse cx="1508.2" cy="1406.1" rx="7" ry="4" fill="rgb(165,165,165)"/>
<ellipse cx="1515.2" cy="1411.0" rx="7" ry="4" fill="rgb(165,165,165)"/>
<ellipse cx="1515.2" cy="1411.0" rx="7" ry="4" fill="rgb(165,165,165)"/>
<ellipse cx="1522.3" cy="1406.9" rx="7" ry="4" fill="rgb(165,165,165)"/>
<ellipse cx="1529.4" cy="1411.8" rx="7" ry="4" fill="rgb(81,81,81)"/>
<ellipse cx="1536.6" cy="1406.9" rx="7" ry="4" fill="rgb(81,81,81)"/>
<ellipse cx="1543.7" cy="1401.9" rx="7" ry="4" fill="rgb(81,81,81)"/>
<ellipse cx="1550.8" cy="1396.9" rx="7" ry="4" fill="rgb(81,81,81)"/>
<ellipse cx="1557.9" cy="1391.9" rx="7" ry="4" fill="rgb(81,81,81)"/>
<ellipse cx="1565.0" cy="1386.1" rx="7" ry="4" fill="rgb(81,81,81)"/>
<ellipse cx="1572.2" cy="1380.2" rx="7" ry="4" fill="rgb(81,81,81)"/>
<ellipse cx="1579.3" cy="1374.4" rx="7" ry="4" fill="rgb(81,81,81)"/>
<ellipse cx="1586.4" cy="1362.2" rx="7" ry="4" fill="rgb(165,165,165)"/>
<ellipse cx="1593.5" cy="1353.6" rx="7" ry="4" fill="rgb(165,165,165)"/>
<ellipse cx="1600.6" cy="1345.0" rx="7" ry="4" fill="rgb(165,165,165)"/>
<ellipse cx="1607.8" cy="1336.4" rx="7" ry="4" fill="rgb(165,165,165)"/>
<ellipse cx="1614.9" cy="1324.2" rx="7" ry="4" fill="rgb(242,242,242)"/>
<ellipse cx="1622.0" cy="1317.1" rx="7" ry="4" fill="rgb(242,242,242)"/>
<ellipse cx="1629.1" cy="1309.9" rx="7" ry="4" fill="rgb(242,242,242)"/>
<ellipse cx="1636.2" cy="1307.3" rx="7" ry="4" fill="rgb(242,242,242)"/>
<ellipse cx="1643.4" cy="1307.7" rx="7" ry="4" fill="rgb(242,242,242)"/>
<ellipse cx="1650.5" cy="1308.2" rx="7" ry="4" fill="rgb(242,242,242)"/>
<ellipse cx="1657.6" cy="1313.8" rx="7" ry="4" fill="rgb(81,81,81)"/>
<ellipse cx="1468" cy="1259" rx="28" ry="13" transform="rotate(-20 1468 1259)" fill="rgb(242,242,242)"/>
<ellipse cx="1544" cy="1264" rx="56" ry="13" transform="rotate(15 1544 1264)" fill="rgb(170,170,170)"/>
<ellipse cx="1560" cy="1258" rx="12" ry="6" fill="rgb(216,216,216)"/>
<ellipse cx="1552" cy="1296" rx="80" ry="20" transform="rotate(10 1552 1296)" fill="rgb(63,63,63)"/>
<ellipse cx="1544" cy="1293" rx="36" ry="12" transform="rotate(10 1544 1293)" fill="rgb(30,30,30)"/>
<ellipse cx="1452" cy="1294" rx="20" ry="10" transform="rotate(-10 1452 1294)" fill="rgb(242,242,242)"/>
<ellipse cx="1456" cy="1313" rx="64" ry="16" transform="rotate(-10 1456 1313)" fill="rgb(178,178,178)"/>
<ellipse cx="1406" cy="1325" rx="14" ry="12" fill="rgb(242,242,242)"/>
<ellipse cx="1480" cy="1338" rx="56" ry="20" fill="rgb(114,114,114)"/>
<ellipse cx="1528" cy="1340" rx="8" ry="6" fill="rgb(25,25,25)"/>
<ellipse cx="1536" cy="1306" rx="8" ry="6" fill="rgb(247,247,247)"/>
<ellipse cx="1550" cy="1342" rx="15" ry="10" fill="rgb(186,186,186)"/>
<ellipse cx="1620" cy="1325" rx="36" ry="16" transform="rotate(-30 1620 1325)" fill="rgb(242,242,242)"/>
<ellipse cx="1504" cy="1378" rx="80" ry="28" fill="rgb(114,114,114)"/>
</g></g></g>
<path d="M1376.0,1316.4L1515.2,1433.2L1657.6,1319.6" stroke="#0a0606" stroke-width="1.2" fill="none"/>
<g font-family="'Liberation Sans', Arial, sans-serif" font-size="7.6" fill="#2a2a2a"><text transform="translate(1461.4 1403.0) rotate(141)" text-anchor="middle">2.5</text><text transform="translate(1426.6 1373.8) rotate(141)" text-anchor="middle">5</text><text transform="translate(1391.8 1344.6) rotate(141)" text-anchor="middle">7.5</text><text transform="translate(1429.6 1380.8) rotate(141)" text-anchor="middle" font-size="5.5">µm</text><text transform="translate(1568.8 1402.8) rotate(-38)" text-anchor="middle">2.5</text><text transform="translate(1604.4 1374.4) rotate(-38)" text-anchor="middle">5</text><text transform="translate(1640.0 1346.0) rotate(-38)" text-anchor="middle">7.5</text><text transform="translate(1664.6 1323.6) rotate(-38)" text-anchor="middle">10</text><text transform="translate(1610.4 1381.4) rotate(-38)" text-anchor="middle" font-size="5.5">µm</text><text transform="translate(1510.2 1443.2) rotate(-38)" text-anchor="middle">0</text><text transform="translate(1524.2 1441.2) rotate(-38)" text-anchor="middle">0</text><path d="M1373.0 1315.4L1368.0 1275.4" stroke="#444" stroke-width="0.7" fill="none"/><text transform="translate(1366.8 1283.9) rotate(-22)" text-anchor="end">800</text><text transform="translate(1367.8 1292.4) rotate(-22)" text-anchor="end">400</text><text transform="translate(1368.9 1300.9) rotate(-22)" text-anchor="end">0</text><text transform="translate(1369.9 1309.4) rotate(-22)" text-anchor="end">-400</text><text transform="translate(1371.0 1317.9) rotate(-22)" text-anchor="end">-800</text><path d="M1368.8 1281.4h2.2M1369.8 1289.9h2.2M1370.9 1298.4h2.2M1371.9 1306.9h2.2M1373.0 1315.4h2.2" stroke="#444" stroke-width="0.6" fill="none"/><text transform="translate(1357.0 1271.4) rotate(-22)" text-anchor="middle">nm</text></g>
<clipPath id="p11c"><polygon points="1699.2,1295.6 1712.5,1290.2 1725.7,1284.9 1739.0,1281.0 1748.7,1276.1 1758.3,1274.1 1768.0,1271.6 1776.0,1268.6 1784.0,1267.9 1792.0,1268.0 1808.0,1264.4 1824.0,1260.9 1840.0,1258.8 1846.3,1256.2 1852.7,1255.1 1859.0,1254.0 1869.7,1256.9 1880.3,1259.9 1891.0,1265.0 1903.3,1270.4 1915.7,1276.8 1928.0,1284.0 1944.0,1294.2 1960.0,1302.8 1976.0,1316.0 1979.2,1319.2 1975.7,1322.0 1972.2,1324.9 1968.8,1327.7 1965.3,1330.6 1961.8,1333.4 1958.3,1336.2 1954.8,1339.1 1951.4,1341.9 1947.9,1344.8 1944.4,1347.6 1940.9,1350.4 1937.4,1353.3 1934.0,1356.1 1930.5,1359.0 1927.0,1361.8 1923.5,1364.6 1920.0,1367.5 1916.6,1370.3 1913.1,1373.1 1909.6,1375.9 1906.1,1378.7 1902.6,1381.5 1899.2,1384.3 1895.7,1387.1 1892.2,1389.9 1888.7,1392.7 1885.2,1395.5 1881.8,1398.3 1878.3,1401.1 1874.8,1404.0 1871.3,1406.8 1867.8,1409.6 1864.4,1412.4 1860.9,1415.2 1857.4,1418.0 1853.9,1420.8 1850.4,1423.6 1847.0,1426.4 1843.5,1429.2 1840.0,1432.0 1840.0,1432.0 1836.6,1429.2 1833.2,1426.4 1829.8,1423.5 1826.4,1420.7 1823.0,1417.9 1819.6,1415.1 1816.2,1412.3 1812.8,1409.5 1809.4,1406.6 1806.0,1403.8 1802.6,1401.0 1799.2,1398.2 1795.8,1394.3 1792.4,1379.9 1789.0,1374.0 1785.6,1369.8 1782.2,1366.0 1778.8,1362.2 1775.4,1358.4 1772.0,1354.7 1768.6,1350.9 1765.2,1347.1 1761.8,1345.2 1758.4,1343.2 1755.0,1341.3 1751.6,1339.4 1748.2,1342.0 1744.8,1339.9 1741.4,1337.4 1738.0,1334.8 1734.6,1332.2 1731.2,1329.7 1727.8,1327.1 1724.4,1324.6 1721.0,1322.0 1717.6,1319.4 1714.2,1328.8 1710.8,1326.1 1707.4,1323.5 1704.0,1320.8"/></clipPath>
<filter id="p11f" filterUnits="userSpaceOnUse" x="1429.2" y="974" width="820.0" height="730.8" color-interpolation-filters="sRGB"><feGaussianBlur in="SourceGraphic" stdDeviation="2.6" result="b"/><feTurbulence type="fractalNoise" baseFrequency="0.1 0.28" numOctaves="2" seed="80" result="t"/><feColorMatrix in="t" type="matrix" values="1 0 0 0 0 1 0 0 0 0 1 0 0 0 0 0 0 0 0 1" result="tg"/><feComposite in="b" in2="tg" operator="arithmetic" k1="0" k2="1.0" k3="0.6" k4="-0.300" result="h"/><feComponentTransfer in="h" result="col"><feFuncR type="table" tableValues="0.08 0.24 0.40 0.49 0.60 0.70 0.83 0.97"/><feFuncG type="table" tableValues="0.03 0.09 0.15 0.23 0.42 0.57 0.75 0.97"/><feFuncB type="table" tableValues="0.02 0.06 0.11 0.12 0.16 0.23 0.49 0.96"/><feFuncA type="linear" slope="0" intercept="1"/></feComponentTransfer><feColorMatrix in="h" type="matrix" values="0 0 0 0 0 0 0 0 0 0 0 0 0 0 0 1 0 0 0 0" result="ha0"/><feGaussianBlur in="ha0" stdDeviation="1.3" result="ha"/><feDiffuseLighting in="ha" surfaceScale="2.5" diffuseConstant="1" lighting-color="#fff" result="lit"><feDistantLight azimuth="255" elevation="50"/></feDiffuseLighting><feComposite in="col" in2="lit" operator="arithmetic" k1="1.305" k2="0" k3="0" k4="0"/></filter>
<linearGradient id="p11lh" gradientUnits="userSpaceOnUse" x1="1704.0" y1="0" x2="1840.0" y2="0"><stop offset="0.000" stop-color="#3a1a12"/><stop offset="0.080" stop-color="#c4a040"/><stop offset="0.330" stop-color="#c4a040"/><stop offset="0.350" stop-color="#f2f0ec"/><stop offset="0.620" stop-color="#f2f0ec"/><stop offset="0.660" stop-color="#6e2a1c"/><stop offset="1.000" stop-color="#6e2a1c"/></linearGradient>
<linearGradient id="p11lv" gradientUnits="userSpaceOnUse" x1="0" y1="-58.8" x2="0" y2="-85.8" gradientTransform="matrix(1 0.8118 0 1 0 0)"><stop offset="0" stop-color="#000" stop-opacity="0.93"/><stop offset="0.12" stop-color="#000" stop-opacity="0.62"/><stop offset="0.3" stop-color="#000" stop-opacity="0.3"/><stop offset="0.55" stop-color="#000" stop-opacity="0.07"/><stop offset="1" stop-color="#000" stop-opacity="0"/></linearGradient>
<polygon points="1704.0,1324.4 1840.0,1434.8 1840.0,1432.0 1836.6,1429.2 1833.2,1426.4 1829.8,1423.5 1826.4,1420.7 1823.0,1417.9 1819.6,1415.1 1816.2,1412.3 1812.8,1409.5 1809.4,1406.6 1806.0,1403.8 1802.6,1401.0 1799.2,1398.2 1795.8,1394.3 1792.4,1379.9 1789.0,1374.0 1785.6,1369.8 1782.2,1366.0 1778.8,1362.2 1775.4,1358.4 1772.0,1354.7 1768.6,1350.9 1765.2,1347.1 1761.8,1345.2 1758.4,1343.2 1755.0,1341.3 1751.6,1339.4 1748.2,1342.0 1744.8,1339.9 1741.4,1337.4 1738.0,1334.8 1734.6,1332.2 1731.2,1329.7 1727.8,1327.1 1724.4,1324.6 1721.0,1322.0 1717.6,1319.4 1714.2,1328.8 1710.8,1326.1 1707.4,1323.5 1704.0,1320.8" fill="url(#p11lh)"/>
<polygon points="1704.0,1324.4 1840.0,1434.8 1840.0,1432.0 1836.6,1429.2 1833.2,1426.4 1829.8,1423.5 1826.4,1420.7 1823.0,1417.9 1819.6,1415.1 1816.2,1412.3 1812.8,1409.5 1809.4,1406.6 1806.0,1403.8 1802.6,1401.0 1799.2,1398.2 1795.8,1394.3 1792.4,1379.9 1789.0,1374.0 1785.6,1369.8 1782.2,1366.0 1778.8,1362.2 1775.4,1358.4 1772.0,1354.7 1768.6,1350.9 1765.2,1347.1 1761.8,1345.2 1758.4,1343.2 1755.0,1341.3 1751.6,1339.4 1748.2,1342.0 1744.8,1339.9 1741.4,1337.4 1738.0,1334.8 1734.6,1332.2 1731.2,1329.7 1727.8,1327.1 1724.4,1324.6 1721.0,1322.0 1717.6,1319.4 1714.2,1328.8 1710.8,1326.1 1707.4,1323.5 1704.0,1320.8" fill="#000" filter="url(#streak)"/>
<polygon points="1704.0,1324.4 1840.0,1434.8 1840.0,1432.0 1836.6,1429.2 1833.2,1426.4 1829.8,1423.5 1826.4,1420.7 1823.0,1417.9 1819.6,1415.1 1816.2,1412.3 1812.8,1409.5 1809.4,1406.6 1806.0,1403.8 1802.6,1401.0 1799.2,1398.2 1795.8,1394.3 1792.4,1379.9 1789.0,1374.0 1785.6,1369.8 1782.2,1366.0 1778.8,1362.2 1775.4,1358.4 1772.0,1354.7 1768.6,1350.9 1765.2,1347.1 1761.8,1345.2 1758.4,1343.2 1755.0,1341.3 1751.6,1339.4 1748.2,1342.0 1744.8,1339.9 1741.4,1337.4 1738.0,1334.8 1734.6,1332.2 1731.2,1329.7 1727.8,1327.1 1724.4,1324.6 1721.0,1322.0 1717.6,1319.4 1714.2,1328.8 1710.8,1326.1 1707.4,1323.5 1704.0,1320.8" fill="url(#p11lv)"/>
<linearGradient id="p11rh" gradientUnits="userSpaceOnUse" x1="1840.0" y1="0" x2="1979.2" y2="0"><stop offset="0.000" stop-color="#6e2a1c"/><stop offset="1.000" stop-color="#6e2a1c"/></linearGradient>
<linearGradient id="p11rv" gradientUnits="userSpaceOnUse" x1="0" y1="2936.4" x2="0" y2="2930.4" gradientTransform="matrix(1 -0.8161 0 1 0 0)"><stop offset="0" stop-color="#000" stop-opacity="0.93"/><stop offset="0.12" stop-color="#000" stop-opacity="0.62"/><stop offset="0.3" stop-color="#000" stop-opacity="0.3"/><stop offset="0.55" stop-color="#000" stop-opacity="0.07"/><stop offset="1" stop-color="#000" stop-opacity="0"/></linearGradient>
<polygon points="1840.0,1434.8 1979.2,1321.2 1979.2,1319.2 1975.7,1322.0 1972.2,1324.9 1968.8,1327.7 1965.3,1330.6 1961.8,1333.4 1958.3,1336.2 1954.8,1339.1 1951.4,1341.9 1947.9,1344.8 1944.4,1347.6 1940.9,1350.4 1937.4,1353.3 1934.0,1356.1 1930.5,1359.0 1927.0,1361.8 1923.5,1364.6 1920.0,1367.5 1916.6,1370.3 1913.1,1373.1 1909.6,1375.9 1906.1,1378.7 1902.6,1381.5 1899.2,1384.3 1895.7,1387.1 1892.2,1389.9 1888.7,1392.7 1885.2,1395.5 1881.8,1398.3 1878.3,1401.1 1874.8,1404.0 1871.3,1406.8 1867.8,1409.6 1864.4,1412.4 1860.9,1415.2 1857.4,1418.0 1853.9,1420.8 1850.4,1423.6 1847.0,1426.4 1843.5,1429.2 1840.0,1432.0" fill="url(#p11rh)"/>
<polygon points="1840.0,1434.8 1979.2,1321.2 1979.2,1319.2 1975.7,1322.0 1972.2,1324.9 1968.8,1327.7 1965.3,1330.6 1961.8,1333.4 1958.3,1336.2 1954.8,1339.1 1951.4,1341.9 1947.9,1344.8 1944.4,1347.6 1940.9,1350.4 1937.4,1353.3 1934.0,1356.1 1930.5,1359.0 1927.0,1361.8 1923.5,1364.6 1920.0,1367.5 1916.6,1370.3 1913.1,1373.1 1909.6,1375.9 1906.1,1378.7 1902.6,1381.5 1899.2,1384.3 1895.7,1387.1 1892.2,1389.9 1888.7,1392.7 1885.2,1395.5 1881.8,1398.3 1878.3,1401.1 1874.8,1404.0 1871.3,1406.8 1867.8,1409.6 1864.4,1412.4 1860.9,1415.2 1857.4,1418.0 1853.9,1420.8 1850.4,1423.6 1847.0,1426.4 1843.5,1429.2 1840.0,1432.0" fill="#000" filter="url(#streak)"/>
<polygon points="1840.0,1434.8 1979.2,1321.2 1979.2,1319.2 1975.7,1322.0 1972.2,1324.9 1968.8,1327.7 1965.3,1330.6 1961.8,1333.4 1958.3,1336.2 1954.8,1339.1 1951.4,1341.9 1947.9,1344.8 1944.4,1347.6 1940.9,1350.4 1937.4,1353.3 1934.0,1356.1 1930.5,1359.0 1927.0,1361.8 1923.5,1364.6 1920.0,1367.5 1916.6,1370.3 1913.1,1373.1 1909.6,1375.9 1906.1,1378.7 1902.6,1381.5 1899.2,1384.3 1895.7,1387.1 1892.2,1389.9 1888.7,1392.7 1885.2,1395.5 1881.8,1398.3 1878.3,1401.1 1874.8,1404.0 1871.3,1406.8 1867.8,1409.6 1864.4,1412.4 1860.9,1415.2 1857.4,1418.0 1853.9,1420.8 1850.4,1423.6 1847.0,1426.4 1843.5,1429.2 1840.0,1432.0" fill="url(#p11rv)"/>
<g clip-path="url(#p11c)"><g transform="rotate(-30 1839.2 1339.4)" filter="url(#p11f)"><g transform="rotate(30 1839.2 1339.4)">
<rect x="1619" y="1164" width="440" height="351" fill="rgb(81,81,81)"/>
<ellipse cx="1704.0" cy="1317.8" rx="7" ry="4" fill="rgb(45,45,45)"/>
<ellipse cx="1710.8" cy="1323.1" rx="7" ry="4" fill="rgb(45,45,45)"/>
<ellipse cx="1717.6" cy="1316.4" rx="7" ry="4" fill="rgb(165,165,165)"/>
<ellipse cx="1724.4" cy="1321.6" rx="7" ry="4" fill="rgb(165,165,165)"/>
<ellipse cx="1731.2" cy="1326.7" rx="7" ry="4" fill="rgb(165,165,165)"/>
<ellipse cx="1738.0" cy="1331.8" rx="7" ry="4" fill="rgb(165,165,165)"/>
<ellipse cx="1744.8" cy="1336.9" rx="7" ry="4" fill="rgb(165,165,165)"/>
<ellipse cx="1751.6" cy="1336.4" rx="7" ry="4" fill="rgb(242,242,242)"/>
<ellipse cx="1758.4" cy="1340.2" rx="7" ry="4" fill="rgb(242,242,242)"/>
<ellipse cx="1765.2" cy="1344.1" rx="7" ry="4" fill="rgb(242,242,242)"/>
<ellipse cx="1772.0" cy="1351.7" rx="7" ry="4" fill="rgb(242,242,242)"/>
<ellipse cx="1778.8" cy="1359.2" rx="7" ry="4" fill="rgb(242,242,242)"/>
<ellipse cx="1785.6" cy="1366.8" rx="7" ry="4" fill="rgb(242,242,242)"/>
<ellipse cx="1792.4" cy="1376.9" rx="7" ry="4" fill="rgb(242,242,242)"/>
<ellipse cx="1799.2" cy="1395.2" rx="7" ry="4" fill="rgb(81,81,81)"/>
<ellipse cx="1806.0" cy="1400.8" rx="7" ry="4" fill="rgb(81,81,81)"/>
<ellipse cx="1812.8" cy="1406.5" rx="7" ry="4" fill="rgb(81,81,81)"/>
<ellipse cx="1819.6" cy="1412.1" rx="7" ry="4" fill="rgb(81,81,81)"/>
<ellipse cx="1826.4" cy="1417.7" rx="7" ry="4" fill="rgb(81,81,81)"/>
<ellipse cx="1833.2" cy="1423.4" rx="7" ry="4" fill="rgb(81,81,81)"/>
<ellipse cx="1840.0" cy="1429.0" rx="7" ry="4" fill="rgb(81,81,81)"/>
<ellipse cx="1840.0" cy="1429.0" rx="7" ry="4" fill="rgb(81,81,81)"/>
<ellipse cx="1847.0" cy="1423.4" rx="7" ry="4" fill="rgb(81,81,81)"/>
<ellipse cx="1853.9" cy="1417.8" rx="7" ry="4" fill="rgb(81,81,81)"/>
<ellipse cx="1860.9" cy="1412.2" rx="7" ry="4" fill="rgb(81,81,81)"/>
<ellipse cx="1867.8" cy="1406.6" rx="7" ry="4" fill="rgb(81,81,81)"/>
<ellipse cx="1874.8" cy="1401.0" rx="7" ry="4" fill="rgb(81,81,81)"/>
<ellipse cx="1881.8" cy="1395.3" rx="7" ry="4" fill="rgb(81,81,81)"/>
<ellipse cx="1888.7" cy="1389.7" rx="7" ry="4" fill="rgb(81,81,81)"/>
<ellipse cx="1895.7" cy="1384.1" rx="7" ry="4" fill="rgb(81,81,81)"/>
<ellipse cx="1902.6" cy="1378.5" rx="7" ry="4" fill="rgb(81,81,81)"/>
<ellipse cx="1909.6" cy="1372.9" rx="7" ry="4" fill="rgb(81,81,81)"/>
<ellipse cx="1916.6" cy="1367.3" rx="7" ry="4" fill="rgb(81,81,81)"/>
<ellipse cx="1923.5" cy="1361.6" rx="7" ry="4" fill="rgb(81,81,81)"/>
<ellipse cx="1930.5" cy="1356.0" rx="7" ry="4" fill="rgb(81,81,81)"/>
<ellipse cx="1937.4" cy="1350.3" rx="7" ry="4" fill="rgb(81,81,81)"/>
<ellipse cx="1944.4" cy="1344.6" rx="7" ry="4" fill="rgb(81,81,81)"/>
<ellipse cx="1951.4" cy="1338.9" rx="7" ry="4" fill="rgb(81,81,81)"/>
<ellipse cx="1958.3" cy="1333.2" rx="7" ry="4" fill="rgb(81,81,81)"/>
<ellipse cx="1965.3" cy="1327.6" rx="7" ry="4" fill="rgb(81,81,81)"/>
<ellipse cx="1972.2" cy="1321.9" rx="7" ry="4" fill="rgb(81,81,81)"/>
<ellipse cx="1979.2" cy="1316.2" rx="7" ry="4" fill="rgb(81,81,81)"/>
<ellipse cx="1812" cy="1271" rx="78" ry="8" transform="rotate(-10 1812 1271)" fill="rgb(178,178,178)"/>
<ellipse cx="1812" cy="1290" rx="110" ry="10" transform="rotate(-12 1812 1290)" fill="rgb(51,51,51)"/>
<ellipse cx="1800" cy="1314" rx="24" ry="10" transform="rotate(-20 1800 1314)" fill="rgb(12,12,12)"/>
<ellipse cx="1746" cy="1322" rx="30" ry="10" transform="rotate(-15 1746 1322)" fill="rgb(165,165,165)"/>
<ellipse cx="1832" cy="1316" rx="100" ry="24" transform="rotate(-30 1832 1316)" fill="rgb(170,170,170)"/>
<ellipse cx="1832" cy="1316" rx="85" ry="12" transform="rotate(-30 1832 1316)" fill="rgb(247,247,247)"/>
<ellipse cx="1872" cy="1342" rx="90" ry="8" transform="rotate(-27 1872 1342)" fill="rgb(63,63,63)"/>
<ellipse cx="1880" cy="1355" rx="70" ry="8" transform="rotate(-25 1880 1355)" fill="rgb(127,127,127)"/>
<ellipse cx="1896" cy="1390" rx="72" ry="24" transform="rotate(-25 1896 1390)" fill="rgb(76,76,76)"/>
</g></g></g>
<path d="M1704.0,1324.4L1840.0,1434.8L1979.2,1321.2" stroke="#0a0606" stroke-width="1.2" fill="none"/>
<g font-family="'Liberation Sans', Arial, sans-serif" font-size="7.6" fill="#2a2a2a"><text transform="translate(1787.0 1406.2) rotate(141)" text-anchor="middle">2.5</text><text transform="translate(1753.0 1378.6) rotate(141)" text-anchor="middle">5</text><text transform="translate(1719.0 1351.0) rotate(141)" text-anchor="middle">7.5</text><text transform="translate(1756.0 1385.6) rotate(141)" text-anchor="middle" font-size="5.5">µm</text><text transform="translate(1892.8 1404.4) rotate(-38)" text-anchor="middle">2.5</text><text transform="translate(1927.6 1376.0) rotate(-38)" text-anchor="middle">5</text><text transform="translate(1962.4 1347.6) rotate(-38)" text-anchor="middle">7.5</text><text transform="translate(1986.2 1325.2) rotate(-38)" text-anchor="middle">10</text><text transform="translate(1933.6 1383.0) rotate(-38)" text-anchor="middle" font-size="5.5">µm</text><text transform="translate(1835.0 1444.8) rotate(-38)" text-anchor="middle">0</text><text transform="translate(1849.0 1442.8) rotate(-38)" text-anchor="middle">0</text><path d="M1701.0 1323.4L1696.0 1283.4" stroke="#444" stroke-width="0.7" fill="none"/><text transform="translate(1694.8 1291.9) rotate(-22)" text-anchor="end">400</text><text transform="translate(1695.8 1300.4) rotate(-22)" text-anchor="end">200</text><text transform="translate(1696.9 1308.9) rotate(-22)" text-anchor="end">0</text><text transform="translate(1697.9 1317.4) rotate(-22)" text-anchor="end">-200</text><text transform="translate(1699.0 1325.9) rotate(-22)" text-anchor="end">-400</text><path d="M1696.8 1289.4h2.2M1697.8 1297.9h2.2M1698.9 1306.4h2.2M1699.9 1314.9h2.2M1701.0 1323.4h2.2" stroke="#444" stroke-width="0.6" fill="none"/><text transform="translate(1685.0 1279.4) rotate(-22)" text-anchor="middle">nm</text></g>
<clipPath id="p12c"><polygon points="102.0,1642.8 116.3,1630.8 130.7,1623.3 145.0,1614.0 147.7,1607.9 150.3,1603.6 153.0,1601.0 167.0,1595.2 181.0,1592.1 195.0,1590.0 198.7,1588.6 202.3,1587.4 206.0,1587.6 219.3,1588.5 232.7,1592.0 246.0,1594.8 256.7,1592.8 267.3,1595.3 278.0,1596.4 292.0,1599.5 306.0,1605.2 320.0,1610.0 329.0,1615.0 338.0,1618.5 347.0,1626.0 346.8,1639.9 343.7,1642.3 340.6,1644.8 337.6,1647.2 334.5,1649.6 331.4,1652.0 328.3,1654.5 325.2,1656.9 322.2,1659.3 319.1,1661.7 316.0,1664.0 312.9,1666.3 309.8,1668.7 306.8,1671.0 303.7,1660.4 300.6,1662.7 297.5,1665.0 294.4,1667.4 291.4,1669.7 288.3,1672.1 285.2,1687.4 282.1,1689.8 279.0,1692.3 276.0,1694.7 272.9,1697.1 269.8,1699.5 266.7,1702.0 263.6,1704.4 260.6,1706.8 257.5,1709.1 254.4,1711.3 251.3,1713.6 248.2,1715.8 245.2,1709.4 242.1,1711.6 239.0,1713.7 235.9,1715.8 232.8,1718.0 229.8,1720.1 226.7,1722.3 223.6,1724.4 223.6,1724.4 220.6,1722.2 217.5,1720.0 214.5,1717.9 211.4,1715.7 208.4,1712.4 205.4,1709.1 202.3,1705.8 199.3,1697.6 196.2,1694.6 193.2,1692.0 190.2,1689.4 187.1,1686.8 184.1,1684.2 181.0,1681.6 178.0,1679.0 175.0,1676.4 171.9,1673.8 168.9,1671.2 165.8,1668.6 162.8,1666.0 159.8,1663.4 156.7,1660.8 153.7,1659.1 150.6,1657.3 147.6,1655.5 144.6,1653.7 141.5,1651.9 138.5,1650.2 135.4,1648.4 132.4,1646.6 129.4,1644.8 126.3,1643.0 123.3,1643.7 120.2,1647.5 117.2,1647.5 114.2,1652.0 111.1,1650.2 108.1,1648.3 105.0,1646.4 102.0,1644.0"/></clipPath>
<filter id="p12f" filterUnits="userSpaceOnUse" x="-168" y="1307.6" width="785" height="703.6000000000001" color-interpolation-filters="sRGB"><feGaussianBlur in="SourceGraphic" stdDeviation="2.6" result="b"/><feTurbulence type="fractalNoise" baseFrequency="0.1 0.28" numOctaves="2" seed="87" result="t"/><feColorMatrix in="t" type="matrix" values="1 0 0 0 0 1 0 0 0 0 1 0 0 0 0 0 0 0 0 1" result="tg"/><feComposite in="b" in2="tg" operator="arithmetic" k1="0" k2="1.0" k3="0.6" k4="-0.300" result="h"/><feComponentTransfer in="h" result="col"><feFuncR type="table" tableValues="0.08 0.24 0.40 0.49 0.60 0.70 0.83 0.97"/><feFuncG type="table" tableValues="0.03 0.09 0.15 0.23 0.42 0.57 0.75 0.97"/><feFuncB type="table" tableValues="0.02 0.06 0.11 0.12 0.16 0.23 0.49 0.96"/><feFuncA type="linear" slope="0" intercept="1"/></feComponentTransfer><feColorMatrix in="h" type="matrix" values="0 0 0 0 0 0 0 0 0 0 0 0 0 0 0 1 0 0 0 0" result="ha0"/><feGaussianBlur in="ha0" stdDeviation="1.3" result="ha"/><feDiffuseLighting in="ha" surfaceScale="2.5" diffuseConstant="1" lighting-color="#fff" result="lit"><feDistantLight azimuth="255" elevation="50"/></feDiffuseLighting><feComposite in="col" in2="lit" operator="arithmetic" k1="1.305" k2="0" k3="0" k4="0"/></filter>
<linearGradient id="p12lh" gradientUnits="userSpaceOnUse" x1="102.0" y1="0" x2="223.6" y2="0"><stop offset="0.000" stop-color="#6e2a1c"/><stop offset="0.120" stop-color="#c4a040"/><stop offset="0.170" stop-color="#f2f0ec"/><stop offset="0.780" stop-color="#f2f0ec"/><stop offset="0.820" stop-color="#c4a040"/><stop offset="1.000" stop-color="#c4a040"/></linearGradient>
<linearGradient id="p12lv" gradientUnits="userSpaceOnUse" x1="0" y1="1566.1" x2="0" y2="1538.1" gradientTransform="matrix(1 0.7829 0 1 0 0)"><stop offset="0" stop-color="#000" stop-opacity="0.93"/><stop offset="0.12" stop-color="#000" stop-opacity="0.62"/><stop offset="0.3" stop-color="#000" stop-opacity="0.3"/><stop offset="0.55" stop-color="#000" stop-opacity="0.07"/><stop offset="1" stop-color="#000" stop-opacity="0"/></linearGradient>
<polygon points="102.0,1646.0 223.6,1741.2 223.6,1724.4 220.6,1722.2 217.5,1720.0 214.5,1717.9 211.4,1715.7 208.4,1712.4 205.4,1709.1 202.3,1705.8 199.3,1697.6 196.2,1694.6 193.2,1692.0 190.2,1689.4 187.1,1686.8 184.1,1684.2 181.0,1681.6 178.0,1679.0 175.0,1676.4 171.9,1673.8 168.9,1671.2 165.8,1668.6 162.8,1666.0 159.8,1663.4 156.7,1660.8 153.7,1659.1 150.6,1657.3 147.6,1655.5 144.6,1653.7 141.5,1651.9 138.5,1650.2 135.4,1648.4 132.4,1646.6 129.4,1644.8 126.3,1643.0 123.3,1643.7 120.2,1647.5 117.2,1647.5 114.2,1652.0 111.1,1650.2 108.1,1648.3 105.0,1646.4 102.0,1644.0" fill="url(#p12lh)"/>
<polygon points="102.0,1646.0 223.6,1741.2 223.6,1724.4 220.6,1722.2 217.5,1720.0 214.5,1717.9 211.4,1715.7 208.4,1712.4 205.4,1709.1 202.3,1705.8 199.3,1697.6 196.2,1694.6 193.2,1692.0 190.2,1689.4 187.1,1686.8 184.1,1684.2 181.0,1681.6 178.0,1679.0 175.0,1676.4 171.9,1673.8 168.9,1671.2 165.8,1668.6 162.8,1666.0 159.8,1663.4 156.7,1660.8 153.7,1659.1 150.6,1657.3 147.6,1655.5 144.6,1653.7 141.5,1651.9 138.5,1650.2 135.4,1648.4 132.4,1646.6 129.4,1644.8 126.3,1643.0 123.3,1643.7 120.2,1647.5 117.2,1647.5 114.2,1652.0 111.1,1650.2 108.1,1648.3 105.0,1646.4 102.0,1644.0" fill="#000" filter="url(#streak)"/>
<polygon points="102.0,1646.0 223.6,1741.2 223.6,1724.4 220.6,1722.2 217.5,1720.0 214.5,1717.9 211.4,1715.7 208.4,1712.4 205.4,1709.1 202.3,1705.8 199.3,1697.6 196.2,1694.6 193.2,1692.0 190.2,1689.4 187.1,1686.8 184.1,1684.2 181.0,1681.6 178.0,1679.0 175.0,1676.4 171.9,1673.8 168.9,1671.2 165.8,1668.6 162.8,1666.0 159.8,1663.4 156.7,1660.8 153.7,1659.1 150.6,1657.3 147.6,1655.5 144.6,1653.7 141.5,1651.9 138.5,1650.2 135.4,1648.4 132.4,1646.6 129.4,1644.8 126.3,1643.0 123.3,1643.7 120.2,1647.5 117.2,1647.5 114.2,1652.0 111.1,1650.2 108.1,1648.3 105.0,1646.4 102.0,1644.0" fill="url(#p12lv)"/>
<linearGradient id="p12rh" gradientUnits="userSpaceOnUse" x1="223.6" y1="0" x2="346.8" y2="0"><stop offset="0.000" stop-color="#c4a040"/><stop offset="0.150" stop-color="#c4a040"/><stop offset="0.200" stop-color="#6e2a1c"/><stop offset="0.500" stop-color="#6e2a1c"/><stop offset="0.520" stop-color="#f2f0ec"/><stop offset="0.620" stop-color="#f2f0ec"/><stop offset="0.660" stop-color="#6e2a1c"/><stop offset="1.000" stop-color="#6e2a1c"/></linearGradient>
<linearGradient id="p12rv" gradientUnits="userSpaceOnUse" x1="0" y1="1911.1" x2="0" y2="1891.1" gradientTransform="matrix(1 -0.7597 0 1 0 0)"><stop offset="0" stop-color="#000" stop-opacity="0.93"/><stop offset="0.12" stop-color="#000" stop-opacity="0.62"/><stop offset="0.3" stop-color="#000" stop-opacity="0.3"/><stop offset="0.55" stop-color="#000" stop-opacity="0.07"/><stop offset="1" stop-color="#000" stop-opacity="0"/></linearGradient>
<polygon points="223.6,1741.2 346.8,1647.6 346.8,1639.9 343.7,1642.3 340.6,1644.8 337.6,1647.2 334.5,1649.6 331.4,1652.0 328.3,1654.5 325.2,1656.9 322.2,1659.3 319.1,1661.7 316.0,1664.0 312.9,1666.3 309.8,1668.7 306.8,1671.0 303.7,1660.4 300.6,1662.7 297.5,1665.0 294.4,1667.4 291.4,1669.7 288.3,1672.1 285.2,1687.4 282.1,1689.8 279.0,1692.3 276.0,1694.7 272.9,1697.1 269.8,1699.5 266.7,1702.0 263.6,1704.4 260.6,1706.8 257.5,1709.1 254.4,1711.3 251.3,1713.6 248.2,1715.8 245.2,1709.4 242.1,1711.6 239.0,1713.7 235.9,1715.8 232.8,1718.0 229.8,1720.1 226.7,1722.3 223.6,1724.4" fill="url(#p12rh)"/>
<polygon points="223.6,1741.2 346.8,1647.6 346.8,1639.9 343.7,1642.3 340.6,1644.8 337.6,1647.2 334.5,1649.6 331.4,1652.0 328.3,1654.5 325.2,1656.9 322.2,1659.3 319.1,1661.7 316.0,1664.0 312.9,1666.3 309.8,1668.7 306.8,1671.0 303.7,1660.4 300.6,1662.7 297.5,1665.0 294.4,1667.4 291.4,1669.7 288.3,1672.1 285.2,1687.4 282.1,1689.8 279.0,1692.3 276.0,1694.7 272.9,1697.1 269.8,1699.5 266.7,1702.0 263.6,1704.4 260.6,1706.8 257.5,1709.1 254.4,1711.3 251.3,1713.6 248.2,1715.8 245.2,1709.4 242.1,1711.6 239.0,1713.7 235.9,1715.8 232.8,1718.0 229.8,1720.1 226.7,1722.3 223.6,1724.4" fill="#000" filter="url(#streak)"/>
<polygon points="223.6,1741.2 346.8,1647.6 346.8,1639.9 343.7,1642.3 340.6,1644.8 337.6,1647.2 334.5,1649.6 331.4,1652.0 328.3,1654.5 325.2,1656.9 322.2,1659.3 319.1,1661.7 316.0,1664.0 312.9,1666.3 309.8,1668.7 306.8,1671.0 303.7,1660.4 300.6,1662.7 297.5,1665.0 294.4,1667.4 291.4,1669.7 288.3,1672.1 285.2,1687.4 282.1,1689.8 279.0,1692.3 276.0,1694.7 272.9,1697.1 269.8,1699.5 266.7,1702.0 263.6,1704.4 260.6,1706.8 257.5,1709.1 254.4,1711.3 251.3,1713.6 248.2,1715.8 245.2,1709.4 242.1,1711.6 239.0,1713.7 235.9,1715.8 232.8,1718.0 229.8,1720.1 226.7,1722.3 223.6,1724.4" fill="url(#p12rv)"/>
<g clip-path="url(#p12c)"><g transform="rotate(-30 224.5 1659.4)" filter="url(#p12f)"><g transform="rotate(30 224.5 1659.4)">
<rect x="22" y="1498" width="405" height="324" fill="rgb(107,107,107)"/>
<ellipse cx="102.0" cy="1641.0" rx="7" ry="4" fill="rgb(81,81,81)"/>
<ellipse cx="108.1" cy="1645.3" rx="7" ry="4" fill="rgb(81,81,81)"/>
<ellipse cx="114.2" cy="1649.0" rx="7" ry="4" fill="rgb(81,81,81)"/>
<ellipse cx="120.2" cy="1644.5" rx="7" ry="4" fill="rgb(165,165,165)"/>
<ellipse cx="126.3" cy="1640.0" rx="7" ry="4" fill="rgb(242,242,242)"/>
<ellipse cx="132.4" cy="1643.6" rx="7" ry="4" fill="rgb(242,242,242)"/>
<ellipse cx="138.5" cy="1647.2" rx="7" ry="4" fill="rgb(242,242,242)"/>
<ellipse cx="144.6" cy="1650.7" rx="7" ry="4" fill="rgb(242,242,242)"/>
<ellipse cx="150.6" cy="1654.3" rx="7" ry="4" fill="rgb(242,242,242)"/>
<ellipse cx="156.7" cy="1657.8" rx="7" ry="4" fill="rgb(242,242,242)"/>
<ellipse cx="162.8" cy="1663.0" rx="7" ry="4" fill="rgb(242,242,242)"/>
<ellipse cx="168.9" cy="1668.2" rx="7" ry="4" fill="rgb(242,242,242)"/>
<ellipse cx="175.0" cy="1673.4" rx="7" ry="4" fill="rgb(242,242,242)"/>
<ellipse cx="181.0" cy="1678.6" rx="7" ry="4" fill="rgb(242,242,242)"/>
<ellipse cx="187.1" cy="1683.8" rx="7" ry="4" fill="rgb(242,242,242)"/>
<ellipse cx="193.2" cy="1689.0" rx="7" ry="4" fill="rgb(242,242,242)"/>
<ellipse cx="199.3" cy="1694.6" rx="7" ry="4" fill="rgb(242,242,242)"/>
<ellipse cx="205.4" cy="1706.1" rx="7" ry="4" fill="rgb(165,165,165)"/>
<ellipse cx="211.4" cy="1712.7" rx="7" ry="4" fill="rgb(165,165,165)"/>
<ellipse cx="217.5" cy="1717.0" rx="7" ry="4" fill="rgb(165,165,165)"/>
<ellipse cx="223.6" cy="1721.4" rx="7" ry="4" fill="rgb(165,165,165)"/>
<ellipse cx="223.6" cy="1721.4" rx="7" ry="4" fill="rgb(165,165,165)"/>
<ellipse cx="229.8" cy="1717.1" rx="7" ry="4" fill="rgb(165,165,165)"/>
<ellipse cx="235.9" cy="1712.8" rx="7" ry="4" fill="rgb(165,165,165)"/>
<ellipse cx="242.1" cy="1708.6" rx="7" ry="4" fill="rgb(165,165,165)"/>
<ellipse cx="248.2" cy="1712.8" rx="7" ry="4" fill="rgb(81,81,81)"/>
<ellipse cx="254.4" cy="1708.3" rx="7" ry="4" fill="rgb(81,81,81)"/>
<ellipse cx="260.6" cy="1703.8" rx="7" ry="4" fill="rgb(81,81,81)"/>
<ellipse cx="266.7" cy="1699.0" rx="7" ry="4" fill="rgb(81,81,81)"/>
<ellipse cx="272.9" cy="1694.1" rx="7" ry="4" fill="rgb(81,81,81)"/>
<ellipse cx="279.0" cy="1689.3" rx="7" ry="4" fill="rgb(81,81,81)"/>
<ellipse cx="285.2" cy="1684.4" rx="7" ry="4" fill="rgb(81,81,81)"/>
<ellipse cx="291.4" cy="1666.7" rx="7" ry="4" fill="rgb(242,242,242)"/>
<ellipse cx="297.5" cy="1662.0" rx="7" ry="4" fill="rgb(242,242,242)"/>
<ellipse cx="303.7" cy="1657.4" rx="7" ry="4" fill="rgb(242,242,242)"/>
<ellipse cx="309.8" cy="1665.7" rx="7" ry="4" fill="rgb(81,81,81)"/>
<ellipse cx="316.0" cy="1661.0" rx="7" ry="4" fill="rgb(81,81,81)"/>
<ellipse cx="322.2" cy="1656.3" rx="7" ry="4" fill="rgb(81,81,81)"/>
<ellipse cx="328.3" cy="1651.5" rx="7" ry="4" fill="rgb(81,81,81)"/>
<ellipse cx="334.5" cy="1646.6" rx="7" ry="4" fill="rgb(81,81,81)"/>
<ellipse cx="340.6" cy="1641.8" rx="7" ry="4" fill="rgb(81,81,81)"/>
<ellipse cx="346.8" cy="1636.9" rx="7" ry="4" fill="rgb(81,81,81)"/>
<ellipse cx="246" cy="1608" rx="100" ry="16" transform="rotate(5 246 1608)" fill="rgb(170,170,170)"/>
<ellipse cx="312" cy="1612" rx="34" ry="13" transform="rotate(15 312 1612)" fill="rgb(237,237,237)"/>
<ellipse cx="170" cy="1600" rx="16" ry="5" transform="rotate(-10 170 1600)" fill="rgb(234,234,234)"/>
<ellipse cx="224" cy="1634" rx="118" ry="12" transform="rotate(5 224 1634)" fill="rgb(76,76,76)"/>
<ellipse cx="238" cy="1650" rx="32" ry="8" fill="rgb(12,12,12)"/>
<ellipse cx="160" cy="1665" rx="38" ry="16" transform="rotate(30 160 1665)" fill="rgb(242,242,242)"/>
<ellipse cx="214" cy="1690" rx="64" ry="28" transform="rotate(20 214 1690)" fill="rgb(170,170,170)"/>
<ellipse cx="286" cy="1676" rx="56" ry="24" transform="rotate(-30 286 1676)" fill="rgb(81,81,81)"/>
</g></g></g>
<path d="M102.0,1646.0L223.6,1741.2L346.8,1647.6" stroke="#0a0606" stroke-width="1.2" fill="none"/>
<g font-family="'Liberation Sans', Arial, sans-serif" font-size="7.6" fill="#2a2a2a"><text transform="translate(174.2 1716.4) rotate(141)" text-anchor="middle">2.5</text><text transform="translate(143.8 1692.6) rotate(141)" text-anchor="middle">5</text><text transform="translate(113.4 1668.8) rotate(141)" text-anchor="middle">7.5</text><text transform="translate(146.8 1699.6) rotate(141)" text-anchor="middle" font-size="5.5">µm</text><text transform="translate(272.4 1715.8) rotate(-38)" text-anchor="middle">2.5</text><text transform="translate(303.2 1692.4) rotate(-38)" text-anchor="middle">5</text><text transform="translate(334.0 1669.0) rotate(-38)" text-anchor="middle">7.5</text><text transform="translate(353.8 1651.6) rotate(-38)" text-anchor="middle">10</text><text transform="translate(309.2 1699.4) rotate(-38)" text-anchor="middle" font-size="5.5">µm</text><text transform="translate(218.6 1751.2) rotate(-38)" text-anchor="middle">0</text><text transform="translate(232.6 1749.2) rotate(-38)" text-anchor="middle">0</text><path d="M99.0 1645.0L94.0 1605.0" stroke="#444" stroke-width="0.7" fill="none"/><text transform="translate(92.8 1613.5) rotate(-22)" text-anchor="end">500</text><text transform="translate(94.2 1624.8) rotate(-22)" text-anchor="end">250</text><text transform="translate(95.6 1636.2) rotate(-22)" text-anchor="end">0</text><text transform="translate(97.0 1647.5) rotate(-22)" text-anchor="end">-250</text><path d="M94.8 1611.0h2.2M96.2 1622.3h2.2M97.6 1633.7h2.2M99.0 1645.0h2.2" stroke="#444" stroke-width="0.6" fill="none"/><text transform="translate(83.0 1601.0) rotate(-22)" text-anchor="middle">nm</text></g>
<clipPath id="p13c"><polygon points="404.2,1613.8 416.5,1605.8 428.7,1603.6 441.0,1599.4 454.3,1595.5 467.7,1591.5 481.0,1588.0 499.7,1578.9 518.3,1571.6 537.0,1564.0 542.3,1561.2 547.7,1560.9 553.0,1562.6 561.0,1563.5 569.0,1563.8 577.0,1567.4 593.0,1570.9 609.0,1577.0 625.0,1581.8 638.3,1589.4 651.7,1599.3 665.0,1609.0 675.7,1607.8 686.3,1613.5 697.0,1617.0 697.0,1622.6 693.4,1629.7 689.7,1632.1 686.1,1634.5 682.4,1636.9 678.8,1639.2 675.2,1641.6 671.5,1644.0 667.9,1646.4 664.2,1648.7 660.6,1651.1 657.0,1653.5 653.3,1655.9 649.7,1656.7 646.0,1657.5 642.4,1639.8 638.8,1638.9 635.1,1640.9 631.5,1643.0 627.8,1645.0 624.2,1647.1 620.6,1649.1 616.9,1651.2 613.3,1654.9 609.6,1658.6 606.0,1662.3 602.4,1666.0 598.7,1669.7 595.1,1673.4 591.4,1680.1 587.8,1686.7 584.2,1700.1 580.5,1706.0 576.9,1715.7 573.2,1717.8 569.6,1720.0 566.0,1722.2 562.3,1724.4 558.7,1726.6 555.0,1728.8 551.4,1731.0 551.4,1739.0 547.8,1728.6 544.2,1726.3 540.6,1723.9 537.0,1721.6 533.4,1719.2 529.8,1716.8 526.2,1714.5 522.6,1712.1 519.0,1709.2 515.4,1706.2 511.8,1703.2 508.2,1700.2 504.6,1688.7 501.0,1685.6 497.4,1682.6 493.8,1679.6 490.2,1676.5 486.6,1673.5 483.0,1670.4 479.4,1667.4 475.8,1657.1 472.2,1654.0 468.6,1650.9 465.0,1647.8 461.4,1646.1 457.8,1644.4 454.2,1649.4 450.6,1647.5 447.0,1645.5 443.4,1643.6 439.8,1641.7 436.2,1639.7 432.6,1649.6 429.0,1646.9 425.4,1644.2 421.8,1641.5 418.2,1638.8 414.6,1636.1 411.0,1633.4 407.4,1630.7"/></clipPath>
<filter id="p13f" filterUnits="userSpaceOnUse" x="134.2" y="1282.6" width="832.8" height="740.4000000000001" color-interpolation-filters="sRGB"><feGaussianBlur in="SourceGraphic" stdDeviation="2.6" result="b"/><feTurbulence type="fractalNoise" baseFrequency="0.1 0.28" numOctaves="2" seed="94" result="t"/><feColorMatrix in="t" type="matrix" values="1 0 0 0 0 1 0 0 0 0 1 0 0 0 0 0 0 0 0 1" result="tg"/><feComposite in="b" in2="tg" operator="arithmetic" k1="0" k2="1.0" k3="0.6" k4="-0.300" result="h"/><feComponentTransfer in="h" result="col"><feFuncR type="table" tableValues="0.08 0.24 0.40 0.49 0.60 0.70 0.83 0.97"/><feFuncG type="table" tableValues="0.03 0.09 0.15 0.23 0.42 0.57 0.75 0.97"/><feFuncB type="table" tableValues="0.02 0.06 0.11 0.12 0.16 0.23 0.49 0.96"/><feFuncA type="linear" slope="0" intercept="1"/></feComponentTransfer><feColorMatrix in="h" type="matrix" values="0 0 0 0 0 0 0 0 0 0 0 0 0 0 0 1 0 0 0 0" result="ha0"/><feGaussianBlur in="ha0" stdDeviation="1.3" result="ha"/><feDiffuseLighting in="ha" surfaceScale="2.5" diffuseConstant="1" lighting-color="#fff" result="lit"><feDistantLight azimuth="255" elevation="50"/></feDiffuseLighting><feComposite in="col" in2="lit" operator="arithmetic" k1="1.305" k2="0" k3="0" k4="0"/></filter>
<linearGradient id="p13lh" gradientUnits="userSpaceOnUse" x1="407.4" y1="0" x2="551.4" y2="0"><stop offset="0.000" stop-color="#6e2a1c"/><stop offset="0.150" stop-color="#6e2a1c"/><stop offset="0.180" stop-color="#c4a040"/><stop offset="0.330" stop-color="#c4a040"/><stop offset="0.350" stop-color="#f2f0ec"/><stop offset="0.450" stop-color="#f2f0ec"/><stop offset="0.500" stop-color="#c4a040"/><stop offset="0.700" stop-color="#8a4a1c"/><stop offset="1.000" stop-color="#6e2a1c"/></linearGradient>
<linearGradient id="p13lv" gradientUnits="userSpaceOnUse" x1="0" y1="1318.0" x2="0" y2="1281.0" gradientTransform="matrix(1 0.7889 0 1 0 0)"><stop offset="0" stop-color="#000" stop-opacity="0.93"/><stop offset="0.12" stop-color="#000" stop-opacity="0.62"/><stop offset="0.3" stop-color="#000" stop-opacity="0.3"/><stop offset="0.55" stop-color="#000" stop-opacity="0.07"/><stop offset="1" stop-color="#000" stop-opacity="0"/></linearGradient>
<polygon points="407.4,1639.4 551.4,1753.0 551.4,1739.0 547.8,1728.6 544.2,1726.3 540.6,1723.9 537.0,1721.6 533.4,1719.2 529.8,1716.8 526.2,1714.5 522.6,1712.1 519.0,1709.2 515.4,1706.2 511.8,1703.2 508.2,1700.2 504.6,1688.7 501.0,1685.6 497.4,1682.6 493.8,1679.6 490.2,1676.5 486.6,1673.5 483.0,1670.4 479.4,1667.4 475.8,1657.1 472.2,1654.0 468.6,1650.9 465.0,1647.8 461.4,1646.1 457.8,1644.4 454.2,1649.4 450.6,1647.5 447.0,1645.5 443.4,1643.6 439.8,1641.7 436.2,1639.7 432.6,1649.6 429.0,1646.9 425.4,1644.2 421.8,1641.5 418.2,1638.8 414.6,1636.1 411.0,1633.4 407.4,1630.7" fill="url(#p13lh)"/>
<polygon points="407.4,1639.4 551.4,1753.0 551.4,1739.0 547.8,1728.6 544.2,1726.3 540.6,1723.9 537.0,1721.6 533.4,1719.2 529.8,1716.8 526.2,1714.5 522.6,1712.1 519.0,1709.2 515.4,1706.2 511.8,1703.2 508.2,1700.2 504.6,1688.7 501.0,1685.6 497.4,1682.6 493.8,1679.6 490.2,1676.5 486.6,1673.5 483.0,1670.4 479.4,1667.4 475.8,1657.1 472.2,1654.0 468.6,1650.9 465.0,1647.8 461.4,1646.1 457.8,1644.4 454.2,1649.4 450.6,1647.5 447.0,1645.5 443.4,1643.6 439.8,1641.7 436.2,1639.7 432.6,1649.6 429.0,1646.9 425.4,1644.2 421.8,1641.5 418.2,1638.8 414.6,1636.1 411.0,1633.4 407.4,1630.7" fill="#000" filter="url(#streak)"/>
<polygon points="407.4,1639.4 551.4,1753.0 551.4,1739.0 547.8,1728.6 544.2,1726.3 540.6,1723.9 537.0,1721.6 533.4,1719.2 529.8,1716.8 526.2,1714.5 522.6,1712.1 519.0,1709.2 515.4,1706.2 511.8,1703.2 508.2,1700.2 504.6,1688.7 501.0,1685.6 497.4,1682.6 493.8,1679.6 490.2,1676.5 486.6,1673.5 483.0,1670.4 479.4,1667.4 475.8,1657.1 472.2,1654.0 468.6,1650.9 465.0,1647.8 461.4,1646.1 457.8,1644.4 454.2,1649.4 450.6,1647.5 447.0,1645.5 443.4,1643.6 439.8,1641.7 436.2,1639.7 432.6,1649.6 429.0,1646.9 425.4,1644.2 421.8,1641.5 418.2,1638.8 414.6,1636.1 411.0,1633.4 407.4,1630.7" fill="url(#p13lv)"/>
<linearGradient id="p13rh" gradientUnits="userSpaceOnUse" x1="551.4" y1="0" x2="697.0" y2="0"><stop offset="0.000" stop-color="#8a4a1c"/><stop offset="0.200" stop-color="#c4a040"/><stop offset="0.240" stop-color="#f2f0ec"/><stop offset="0.600" stop-color="#f2f0ec"/><stop offset="0.640" stop-color="#8a4a1c"/><stop offset="1.000" stop-color="#c4a040"/></linearGradient>
<linearGradient id="p13rv" gradientUnits="userSpaceOnUse" x1="0" y1="2189.3" x2="0" y2="2139.3" gradientTransform="matrix(1 -0.7912 0 1 0 0)"><stop offset="0" stop-color="#000" stop-opacity="0.93"/><stop offset="0.12" stop-color="#000" stop-opacity="0.62"/><stop offset="0.3" stop-color="#000" stop-opacity="0.3"/><stop offset="0.55" stop-color="#000" stop-opacity="0.07"/><stop offset="1" stop-color="#000" stop-opacity="0"/></linearGradient>
<polygon points="551.4,1753.0 697.0,1637.8 697.0,1622.6 693.4,1629.7 689.7,1632.1 686.1,1634.5 682.4,1636.9 678.8,1639.2 675.2,1641.6 671.5,1644.0 667.9,1646.4 664.2,1648.7 660.6,1651.1 657.0,1653.5 653.3,1655.9 649.7,1656.7 646.0,1657.5 642.4,1639.8 638.8,1638.9 635.1,1640.9 631.5,1643.0 627.8,1645.0 624.2,1647.1 620.6,1649.1 616.9,1651.2 613.3,1654.9 609.6,1658.6 606.0,1662.3 602.4,1666.0 598.7,1669.7 595.1,1673.4 591.4,1680.1 587.8,1686.7 584.2,1700.1 580.5,1706.0 576.9,1715.7 573.2,1717.8 569.6,1720.0 566.0,1722.2 562.3,1724.4 558.7,1726.6 555.0,1728.8 551.4,1731.0" fill="url(#p13rh)"/>
<polygon points="551.4,1753.0 697.0,1637.8 697.0,1622.6 693.4,1629.7 689.7,1632.1 686.1,1634.5 682.4,1636.9 678.8,1639.2 675.2,1641.6 671.5,1644.0 667.9,1646.4 664.2,1648.7 660.6,1651.1 657.0,1653.5 653.3,1655.9 649.7,1656.7 646.0,1657.5 642.4,1639.8 638.8,1638.9 635.1,1640.9 631.5,1643.0 627.8,1645.0 624.2,1647.1 620.6,1649.1 616.9,1651.2 613.3,1654.9 609.6,1658.6 606.0,1662.3 602.4,1666.0 598.7,1669.7 595.1,1673.4 591.4,1680.1 587.8,1686.7 584.2,1700.1 580.5,1706.0 576.9,1715.7 573.2,1717.8 569.6,1720.0 566.0,1722.2 562.3,1724.4 558.7,1726.6 555.0,1728.8 551.4,1731.0" fill="#000" filter="url(#streak)"/>
<polygon points="551.4,1753.0 697.0,1637.8 697.0,1622.6 693.4,1629.7 689.7,1632.1 686.1,1634.5 682.4,1636.9 678.8,1639.2 675.2,1641.6 671.5,1644.0 667.9,1646.4 664.2,1648.7 660.6,1651.1 657.0,1653.5 653.3,1655.9 649.7,1656.7 646.0,1657.5 642.4,1639.8 638.8,1638.9 635.1,1640.9 631.5,1643.0 627.8,1645.0 624.2,1647.1 620.6,1649.1 616.9,1651.2 613.3,1654.9 609.6,1658.6 606.0,1662.3 602.4,1666.0 598.7,1669.7 595.1,1673.4 591.4,1680.1 587.8,1686.7 584.2,1700.1 580.5,1706.0 576.9,1715.7 573.2,1717.8 569.6,1720.0 566.0,1722.2 562.3,1724.4 558.7,1726.6 555.0,1728.8 551.4,1731.0" fill="url(#p13rv)"/>
<g clip-path="url(#p13c)"><g transform="rotate(-30 550.6 1652.8)" filter="url(#p13f)"><g transform="rotate(30 550.6 1652.8)">
<rect x="324" y="1473" width="453" height="360" fill="rgb(81,81,81)"/>
<ellipse cx="407.4" cy="1627.7" rx="7" ry="4" fill="rgb(81,81,81)"/>
<ellipse cx="414.6" cy="1633.1" rx="7" ry="4" fill="rgb(81,81,81)"/>
<ellipse cx="421.8" cy="1638.5" rx="7" ry="4" fill="rgb(81,81,81)"/>
<ellipse cx="429.0" cy="1643.9" rx="7" ry="4" fill="rgb(81,81,81)"/>
<ellipse cx="436.2" cy="1636.7" rx="7" ry="4" fill="rgb(165,165,165)"/>
<ellipse cx="443.4" cy="1640.6" rx="7" ry="4" fill="rgb(165,165,165)"/>
<ellipse cx="450.6" cy="1644.5" rx="7" ry="4" fill="rgb(165,165,165)"/>
<ellipse cx="457.8" cy="1641.4" rx="7" ry="4" fill="rgb(242,242,242)"/>
<ellipse cx="465.0" cy="1644.8" rx="7" ry="4" fill="rgb(242,242,242)"/>
<ellipse cx="472.2" cy="1651.0" rx="7" ry="4" fill="rgb(242,242,242)"/>
<ellipse cx="479.4" cy="1664.4" rx="7" ry="4" fill="rgb(165,165,165)"/>
<ellipse cx="486.6" cy="1670.5" rx="7" ry="4" fill="rgb(165,165,165)"/>
<ellipse cx="493.8" cy="1676.6" rx="7" ry="4" fill="rgb(165,165,165)"/>
<ellipse cx="501.0" cy="1682.6" rx="7" ry="4" fill="rgb(165,165,165)"/>
<ellipse cx="508.2" cy="1697.2" rx="7" ry="4" fill="rgb(114,114,114)"/>
<ellipse cx="515.4" cy="1703.2" rx="7" ry="4" fill="rgb(114,114,114)"/>
<ellipse cx="522.6" cy="1709.1" rx="7" ry="4" fill="rgb(114,114,114)"/>
<ellipse cx="529.8" cy="1713.8" rx="7" ry="4" fill="rgb(114,114,114)"/>
<ellipse cx="537.0" cy="1718.6" rx="7" ry="4" fill="rgb(114,114,114)"/>
<ellipse cx="544.2" cy="1723.3" rx="7" ry="4" fill="rgb(114,114,114)"/>
<ellipse cx="551.4" cy="1736.0" rx="7" ry="4" fill="rgb(81,81,81)"/>
<ellipse cx="551.4" cy="1728.0" rx="7" ry="4" fill="rgb(114,114,114)"/>
<ellipse cx="558.7" cy="1723.6" rx="7" ry="4" fill="rgb(114,114,114)"/>
<ellipse cx="566.0" cy="1719.2" rx="7" ry="4" fill="rgb(114,114,114)"/>
<ellipse cx="573.2" cy="1714.8" rx="7" ry="4" fill="rgb(114,114,114)"/>
<ellipse cx="580.5" cy="1703.0" rx="7" ry="4" fill="rgb(165,165,165)"/>
<ellipse cx="587.8" cy="1683.7" rx="7" ry="4" fill="rgb(242,242,242)"/>
<ellipse cx="595.1" cy="1670.4" rx="7" ry="4" fill="rgb(242,242,242)"/>
<ellipse cx="602.4" cy="1663.0" rx="7" ry="4" fill="rgb(242,242,242)"/>
<ellipse cx="609.6" cy="1655.6" rx="7" ry="4" fill="rgb(242,242,242)"/>
<ellipse cx="616.9" cy="1648.2" rx="7" ry="4" fill="rgb(242,242,242)"/>
<ellipse cx="624.2" cy="1644.1" rx="7" ry="4" fill="rgb(242,242,242)"/>
<ellipse cx="631.5" cy="1640.0" rx="7" ry="4" fill="rgb(242,242,242)"/>
<ellipse cx="638.8" cy="1635.9" rx="7" ry="4" fill="rgb(242,242,242)"/>
<ellipse cx="646.0" cy="1654.5" rx="7" ry="4" fill="rgb(114,114,114)"/>
<ellipse cx="653.3" cy="1652.9" rx="7" ry="4" fill="rgb(114,114,114)"/>
<ellipse cx="660.6" cy="1648.1" rx="7" ry="4" fill="rgb(114,114,114)"/>
<ellipse cx="667.9" cy="1643.4" rx="7" ry="4" fill="rgb(114,114,114)"/>
<ellipse cx="675.2" cy="1638.6" rx="7" ry="4" fill="rgb(114,114,114)"/>
<ellipse cx="682.4" cy="1633.9" rx="7" ry="4" fill="rgb(114,114,114)"/>
<ellipse cx="689.7" cy="1629.1" rx="7" ry="4" fill="rgb(114,114,114)"/>
<ellipse cx="697.0" cy="1619.6" rx="7" ry="4" fill="rgb(165,165,165)"/>
<ellipse cx="477" cy="1593" rx="68" ry="22" transform="rotate(-20 477 1593)" fill="rgb(81,81,81)"/>
<ellipse cx="593" cy="1582" rx="40" ry="14" transform="rotate(15 593 1582)" fill="rgb(170,170,170)"/>
<ellipse cx="564" cy="1577" rx="10" ry="5" fill="rgb(242,242,242)"/>
<ellipse cx="553" cy="1612" rx="72" ry="10" transform="rotate(-5 553 1612)" fill="rgb(242,242,242)"/>
<ellipse cx="489" cy="1628" rx="56" ry="12" transform="rotate(-10 489 1628)" fill="rgb(170,170,170)"/>
<ellipse cx="429" cy="1628" rx="20" ry="12" fill="rgb(81,81,81)"/>
<ellipse cx="581" cy="1642" rx="26" ry="14" fill="rgb(7,7,7)"/>
<ellipse cx="665" cy="1620" rx="32" ry="20" fill="rgb(89,89,89)"/>
<ellipse cx="633" cy="1641" rx="24" ry="8" fill="rgb(165,165,165)"/>
<ellipse cx="489" cy="1650" rx="56" ry="10" transform="rotate(-15 489 1650)" fill="rgb(160,160,160)"/>
<ellipse cx="533" cy="1681" rx="52" ry="32" fill="rgb(81,81,81)"/>
<ellipse cx="463" cy="1668" rx="10" ry="18" fill="rgb(242,242,242)"/>
<ellipse cx="527" cy="1675" rx="14" ry="13" fill="rgb(170,170,170)"/>
<ellipse cx="613" cy="1681" rx="28" ry="30" transform="rotate(-30 613 1681)" fill="rgb(247,247,247)"/>
</g></g></g>
<path d="M407.4,1639.4L551.4,1753.0L697.0,1637.8" stroke="#0a0606" stroke-width="1.2" fill="none"/>
<g font-family="'Liberation Sans', Arial, sans-serif" font-size="7.6" fill="#2a2a2a"><text transform="translate(496.4 1723.6) rotate(141)" text-anchor="middle">2.5</text><text transform="translate(460.4 1695.2) rotate(141)" text-anchor="middle">5</text><text transform="translate(424.4 1666.8) rotate(141)" text-anchor="middle">7.5</text><text transform="translate(463.4 1702.2) rotate(141)" text-anchor="middle" font-size="5.5">µm</text><text transform="translate(605.8 1722.2) rotate(-38)" text-anchor="middle">2.5</text><text transform="translate(642.2 1693.4) rotate(-38)" text-anchor="middle">5</text><text transform="translate(678.6 1664.6) rotate(-38)" text-anchor="middle">7.5</text><text transform="translate(704.0 1641.8) rotate(-38)" text-anchor="middle">10</text><text transform="translate(648.2 1700.4) rotate(-38)" text-anchor="middle" font-size="5.5">µm</text><text transform="translate(546.4 1763.0) rotate(-38)" text-anchor="middle">0</text><text transform="translate(560.4 1761.0) rotate(-38)" text-anchor="middle">0</text><path d="M404.4 1638.4L399.4 1598.4" stroke="#444" stroke-width="0.7" fill="none"/><text transform="translate(398.1 1606.9) rotate(-22)" text-anchor="end">250</text><text transform="translate(399.6 1618.2) rotate(-22)" text-anchor="end">0</text><text transform="translate(401.0 1629.6) rotate(-22)" text-anchor="end">-250</text><text transform="translate(402.4 1640.9) rotate(-22)" text-anchor="end">-500</text><path d="M400.1 1604.4h2.2M401.6 1615.7h2.2M403.0 1627.1h2.2M404.4 1638.4h2.2" stroke="#444" stroke-width="0.6" fill="none"/><text transform="translate(388.4 1594.4) rotate(-22)" text-anchor="middle">nm</text></g>
<clipPath id="p14c"><polygon points="734.2,1626.6 741.1,1623.4 748.1,1619.5 755.0,1617.0 771.7,1610.1 788.3,1603.3 805.0,1598.0 810.2,1595.1 815.4,1592.9 820.6,1591.4 833.4,1583.2 846.2,1579.4 859.0,1573.8 861.7,1572.0 864.3,1570.0 867.0,1569.0 877.7,1568.8 888.3,1569.3 899.0,1573.8 916.7,1581.5 934.3,1589.3 952.0,1598.0 956.2,1601.5 960.4,1611.3 964.6,1618.6 969.4,1620.0 974.2,1622.7 979.0,1625.0 990.2,1625.5 1001.4,1621.8 1012.6,1626.6 1011.0,1639.8 1007.6,1634.5 1004.1,1636.8 1000.7,1639.2 997.2,1641.5 993.8,1643.8 990.4,1646.1 986.9,1648.4 983.5,1650.8 980.0,1653.1 976.6,1655.4 973.2,1657.7 969.7,1660.0 966.3,1672.9 962.8,1675.5 959.4,1678.0 956.0,1680.6 952.5,1683.3 949.1,1686.0 945.6,1688.7 942.2,1691.4 938.8,1694.2 935.3,1696.9 931.9,1699.6 928.4,1702.3 925.0,1705.0 921.6,1692.8 918.1,1694.9 914.7,1696.7 911.2,1698.5 907.8,1700.3 904.4,1702.1 900.9,1703.9 897.5,1705.7 894.0,1706.9 890.6,1707.3 887.2,1707.6 883.7,1708.0 880.3,1708.3 876.8,1708.7 873.4,1709.0 873.4,1706.6 870.0,1705.4 866.6,1704.2 863.2,1702.9 859.8,1701.7 856.4,1700.5 853.0,1699.3 849.6,1698.1 846.2,1696.8 842.8,1694.9 839.4,1692.9 836.0,1690.9 832.6,1689.0 829.2,1687.0 825.8,1685.0 822.4,1683.0 819.0,1681.1 815.6,1685.2 812.2,1683.2 808.8,1688.1 805.4,1685.9 802.0,1683.7 798.6,1681.6 795.2,1679.4 791.8,1677.2 788.4,1675.0 785.0,1672.9 781.6,1670.4 778.2,1668.0 774.8,1660.9 771.4,1658.6 768.0,1656.3 764.6,1654.0 761.2,1649.2 757.8,1646.9 754.4,1643.7 751.0,1640.5 747.6,1650.5 744.2,1647.6 740.8,1644.8 737.4,1642.0"/></clipPath>
<filter id="p14f" filterUnits="userSpaceOnUse" x="464.20000000000005" y="1289" width="818.3999999999999" height="735.5999999999999" color-interpolation-filters="sRGB"><feGaussianBlur in="SourceGraphic" stdDeviation="2.6" result="b"/><feTurbulence type="fractalNoise" baseFrequency="0.1 0.28" numOctaves="2" seed="101" result="t"/><feColorMatrix in="t" type="matrix" values="1 0 0 0 0 1 0 0 0 0 1 0 0 0 0 0 0 0 0 1" result="tg"/><feComposite in="b" in2="tg" operator="arithmetic" k1="0" k2="1.0" k3="0.6" k4="-0.300" result="h"/><feComponentTransfer in="h" result="col"><feFuncR type="table" tableValues="0.08 0.24 0.40 0.49 0.60 0.70 0.83 0.97"/><feFuncG type="table" tableValues="0.03 0.09 0.15 0.23 0.42 0.57 0.75 0.97"/><feFuncB type="table" tableValues="0.02 0.06 0.11 0.12 0.16 0.23 0.49 0.96"/><feFuncA type="linear" slope="0" intercept="1"/></feComponentTransfer><feColorMatrix in="h" type="matrix" values="0 0 0 0 0 0 0 0 0 0 0 0 0 0 0 1 0 0 0 0" result="ha0"/><feGaussianBlur in="ha0" stdDeviation="1.3" result="ha"/><feDiffuseLighting in="ha" surfaceScale="2.5" diffuseConstant="1" lighting-color="#fff" result="lit"><feDistantLight azimuth="255" elevation="50"/></feDiffuseLighting><feComposite in="col" in2="lit" operator="arithmetic" k1="1.305" k2="0" k3="0" k4="0"/></filter>
<linearGradient id="p14lh" gradientUnits="userSpaceOnUse" x1="737.4" y1="0" x2="873.4" y2="0"><stop offset="0.000" stop-color="#3a1a12"/><stop offset="0.080" stop-color="#e2d4a4"/><stop offset="0.200" stop-color="#c4a040"/><stop offset="0.300" stop-color="#8a4a1c"/><stop offset="0.550" stop-color="#c4a040"/><stop offset="0.600" stop-color="#f2f0ec"/><stop offset="1.000" stop-color="#f2f0ec"/></linearGradient>
<linearGradient id="p14lv" gradientUnits="userSpaceOnUse" x1="0" y1="1055.9" x2="0" y2="1007.9" gradientTransform="matrix(1 0.8000 0 1 0 0)"><stop offset="0" stop-color="#000" stop-opacity="0.93"/><stop offset="0.12" stop-color="#000" stop-opacity="0.62"/><stop offset="0.3" stop-color="#000" stop-opacity="0.3"/><stop offset="0.55" stop-color="#000" stop-opacity="0.07"/><stop offset="1" stop-color="#000" stop-opacity="0"/></linearGradient>
<polygon points="737.4,1645.8 873.4,1754.6 873.4,1706.6 870.0,1705.4 866.6,1704.2 863.2,1702.9 859.8,1701.7 856.4,1700.5 853.0,1699.3 849.6,1698.1 846.2,1696.8 842.8,1694.9 839.4,1692.9 836.0,1690.9 832.6,1689.0 829.2,1687.0 825.8,1685.0 822.4,1683.0 819.0,1681.1 815.6,1685.2 812.2,1683.2 808.8,1688.1 805.4,1685.9 802.0,1683.7 798.6,1681.6 795.2,1679.4 791.8,1677.2 788.4,1675.0 785.0,1672.9 781.6,1670.4 778.2,1668.0 774.8,1660.9 771.4,1658.6 768.0,1656.3 764.6,1654.0 761.2,1649.2 757.8,1646.9 754.4,1643.7 751.0,1640.5 747.6,1650.5 744.2,1647.6 740.8,1644.8 737.4,1642.0" fill="url(#p14lh)"/>
<polygon points="737.4,1645.8 873.4,1754.6 873.4,1706.6 870.0,1705.4 866.6,1704.2 863.2,1702.9 859.8,1701.7 856.4,1700.5 853.0,1699.3 849.6,1698.1 846.2,1696.8 842.8,1694.9 839.4,1692.9 836.0,1690.9 832.6,1689.0 829.2,1687.0 825.8,1685.0 822.4,1683.0 819.0,1681.1 815.6,1685.2 812.2,1683.2 808.8,1688.1 805.4,1685.9 802.0,1683.7 798.6,1681.6 795.2,1679.4 791.8,1677.2 788.4,1675.0 785.0,1672.9 781.6,1670.4 778.2,1668.0 774.8,1660.9 771.4,1658.6 768.0,1656.3 764.6,1654.0 761.2,1649.2 757.8,1646.9 754.4,1643.7 751.0,1640.5 747.6,1650.5 744.2,1647.6 740.8,1644.8 737.4,1642.0" fill="#000" filter="url(#streak)"/>
<polygon points="737.4,1645.8 873.4,1754.6 873.4,1706.6 870.0,1705.4 866.6,1704.2 863.2,1702.9 859.8,1701.7 856.4,1700.5 853.0,1699.3 849.6,1698.1 846.2,1696.8 842.8,1694.9 839.4,1692.9 836.0,1690.9 832.6,1689.0 829.2,1687.0 825.8,1685.0 822.4,1683.0 819.0,1681.1 815.6,1685.2 812.2,1683.2 808.8,1688.1 805.4,1685.9 802.0,1683.7 798.6,1681.6 795.2,1679.4 791.8,1677.2 788.4,1675.0 785.0,1672.9 781.6,1670.4 778.2,1668.0 774.8,1660.9 771.4,1658.6 768.0,1656.3 764.6,1654.0 761.2,1649.2 757.8,1646.9 754.4,1643.7 751.0,1640.5 747.6,1650.5 744.2,1647.6 740.8,1644.8 737.4,1642.0" fill="url(#p14lv)"/>
<linearGradient id="p14rh" gradientUnits="userSpaceOnUse" x1="873.4" y1="0" x2="1011.0" y2="0"><stop offset="0.000" stop-color="#e2d4a4"/><stop offset="0.330" stop-color="#e2d4a4"/><stop offset="0.360" stop-color="#6e2a1c"/><stop offset="0.700" stop-color="#c4a040"/><stop offset="1.000" stop-color="#6e2a1c"/></linearGradient>
<linearGradient id="p14rv" gradientUnits="userSpaceOnUse" x1="0" y1="2445.2" x2="0" y2="2399.6" gradientTransform="matrix(1 -0.7907 0 1 0 0)"><stop offset="0" stop-color="#000" stop-opacity="0.93"/><stop offset="0.12" stop-color="#000" stop-opacity="0.62"/><stop offset="0.3" stop-color="#000" stop-opacity="0.3"/><stop offset="0.55" stop-color="#000" stop-opacity="0.07"/><stop offset="1" stop-color="#000" stop-opacity="0"/></linearGradient>
<polygon points="873.4,1754.6 1011.0,1645.8 1011.0,1639.8 1007.6,1634.5 1004.1,1636.8 1000.7,1639.2 997.2,1641.5 993.8,1643.8 990.4,1646.1 986.9,1648.4 983.5,1650.8 980.0,1653.1 976.6,1655.4 973.2,1657.7 969.7,1660.0 966.3,1672.9 962.8,1675.5 959.4,1678.0 956.0,1680.6 952.5,1683.3 949.1,1686.0 945.6,1688.7 942.2,1691.4 938.8,1694.2 935.3,1696.9 931.9,1699.6 928.4,1702.3 925.0,1705.0 921.6,1692.8 918.1,1694.9 914.7,1696.7 911.2,1698.5 907.8,1700.3 904.4,1702.1 900.9,1703.9 897.5,1705.7 894.0,1706.9 890.6,1707.3 887.2,1707.6 883.7,1708.0 880.3,1708.3 876.8,1708.7 873.4,1709.0" fill="url(#p14rh)"/>
<polygon points="873.4,1754.6 1011.0,1645.8 1011.0,1639.8 1007.6,1634.5 1004.1,1636.8 1000.7,1639.2 997.2,1641.5 993.8,1643.8 990.4,1646.1 986.9,1648.4 983.5,1650.8 980.0,1653.1 976.6,1655.4 973.2,1657.7 969.7,1660.0 966.3,1672.9 962.8,1675.5 959.4,1678.0 956.0,1680.6 952.5,1683.3 949.1,1686.0 945.6,1688.7 942.2,1691.4 938.8,1694.2 935.3,1696.9 931.9,1699.6 928.4,1702.3 925.0,1705.0 921.6,1692.8 918.1,1694.9 914.7,1696.7 911.2,1698.5 907.8,1700.3 904.4,1702.1 900.9,1703.9 897.5,1705.7 894.0,1706.9 890.6,1707.3 887.2,1707.6 883.7,1708.0 880.3,1708.3 876.8,1708.7 873.4,1709.0" fill="#000" filter="url(#streak)"/>
<polygon points="873.4,1754.6 1011.0,1645.8 1011.0,1639.8 1007.6,1634.5 1004.1,1636.8 1000.7,1639.2 997.2,1641.5 993.8,1643.8 990.4,1646.1 986.9,1648.4 983.5,1650.8 980.0,1653.1 976.6,1655.4 973.2,1657.7 969.7,1660.0 966.3,1672.9 962.8,1675.5 959.4,1678.0 956.0,1680.6 952.5,1683.3 949.1,1686.0 945.6,1688.7 942.2,1691.4 938.8,1694.2 935.3,1696.9 931.9,1699.6 928.4,1702.3 925.0,1705.0 921.6,1692.8 918.1,1694.9 914.7,1696.7 911.2,1698.5 907.8,1700.3 904.4,1702.1 900.9,1703.9 897.5,1705.7 894.0,1706.9 890.6,1707.3 887.2,1707.6 883.7,1708.0 880.3,1708.3 876.8,1708.7 873.4,1709.0" fill="url(#p14rv)"/>
<g clip-path="url(#p14c)"><g transform="rotate(-30 873.4 1656.8)" filter="url(#p14f)"><g transform="rotate(30 873.4 1656.8)">
<rect x="654" y="1479" width="438" height="356" fill="rgb(119,119,119)"/>
<ellipse cx="737.4" cy="1639.0" rx="7" ry="4" fill="rgb(45,45,45)"/>
<ellipse cx="744.2" cy="1644.6" rx="7" ry="4" fill="rgb(45,45,45)"/>
<ellipse cx="751.0" cy="1637.5" rx="7" ry="4" fill="rgb(216,216,216)"/>
<ellipse cx="757.8" cy="1643.9" rx="7" ry="4" fill="rgb(216,216,216)"/>
<ellipse cx="764.6" cy="1651.0" rx="7" ry="4" fill="rgb(165,165,165)"/>
<ellipse cx="771.4" cy="1655.6" rx="7" ry="4" fill="rgb(165,165,165)"/>
<ellipse cx="778.2" cy="1665.0" rx="7" ry="4" fill="rgb(114,114,114)"/>
<ellipse cx="785.0" cy="1669.9" rx="7" ry="4" fill="rgb(114,114,114)"/>
<ellipse cx="791.8" cy="1674.2" rx="7" ry="4" fill="rgb(114,114,114)"/>
<ellipse cx="798.6" cy="1678.6" rx="7" ry="4" fill="rgb(114,114,114)"/>
<ellipse cx="805.4" cy="1682.9" rx="7" ry="4" fill="rgb(114,114,114)"/>
<ellipse cx="812.2" cy="1680.2" rx="7" ry="4" fill="rgb(165,165,165)"/>
<ellipse cx="819.0" cy="1678.1" rx="7" ry="4" fill="rgb(242,242,242)"/>
<ellipse cx="825.8" cy="1682.0" rx="7" ry="4" fill="rgb(242,242,242)"/>
<ellipse cx="832.6" cy="1686.0" rx="7" ry="4" fill="rgb(242,242,242)"/>
<ellipse cx="839.4" cy="1689.9" rx="7" ry="4" fill="rgb(242,242,242)"/>
<ellipse cx="846.2" cy="1693.8" rx="7" ry="4" fill="rgb(242,242,242)"/>
<ellipse cx="853.0" cy="1696.3" rx="7" ry="4" fill="rgb(242,242,242)"/>
<ellipse cx="859.8" cy="1698.7" rx="7" ry="4" fill="rgb(242,242,242)"/>
<ellipse cx="866.6" cy="1701.2" rx="7" ry="4" fill="rgb(242,242,242)"/>
<ellipse cx="873.4" cy="1703.6" rx="7" ry="4" fill="rgb(242,242,242)"/>
<ellipse cx="873.4" cy="1706.0" rx="7" ry="4" fill="rgb(216,216,216)"/>
<ellipse cx="880.3" cy="1705.3" rx="7" ry="4" fill="rgb(216,216,216)"/>
<ellipse cx="887.2" cy="1704.6" rx="7" ry="4" fill="rgb(216,216,216)"/>
<ellipse cx="894.0" cy="1703.9" rx="7" ry="4" fill="rgb(216,216,216)"/>
<ellipse cx="900.9" cy="1700.9" rx="7" ry="4" fill="rgb(216,216,216)"/>
<ellipse cx="907.8" cy="1697.3" rx="7" ry="4" fill="rgb(216,216,216)"/>
<ellipse cx="914.7" cy="1693.7" rx="7" ry="4" fill="rgb(216,216,216)"/>
<ellipse cx="921.6" cy="1689.8" rx="7" ry="4" fill="rgb(216,216,216)"/>
<ellipse cx="928.4" cy="1699.3" rx="7" ry="4" fill="rgb(81,81,81)"/>
<ellipse cx="935.3" cy="1693.9" rx="7" ry="4" fill="rgb(81,81,81)"/>
<ellipse cx="942.2" cy="1688.4" rx="7" ry="4" fill="rgb(81,81,81)"/>
<ellipse cx="949.1" cy="1683.0" rx="7" ry="4" fill="rgb(81,81,81)"/>
<ellipse cx="956.0" cy="1677.6" rx="7" ry="4" fill="rgb(81,81,81)"/>
<ellipse cx="962.8" cy="1672.5" rx="7" ry="4" fill="rgb(81,81,81)"/>
<ellipse cx="969.7" cy="1657.0" rx="7" ry="4" fill="rgb(165,165,165)"/>
<ellipse cx="976.6" cy="1652.4" rx="7" ry="4" fill="rgb(165,165,165)"/>
<ellipse cx="983.5" cy="1647.8" rx="7" ry="4" fill="rgb(165,165,165)"/>
<ellipse cx="990.4" cy="1643.1" rx="7" ry="4" fill="rgb(165,165,165)"/>
<ellipse cx="997.2" cy="1638.5" rx="7" ry="4" fill="rgb(165,165,165)"/>
<ellipse cx="1004.1" cy="1633.8" rx="7" ry="4" fill="rgb(165,165,165)"/>
<ellipse cx="1011.0" cy="1636.8" rx="7" ry="4" fill="rgb(81,81,81)"/>
<ellipse cx="875" cy="1577" rx="16" ry="8" fill="rgb(216,216,216)"/>
<ellipse cx="927" cy="1591" rx="28" ry="17" transform="rotate(30 927 1591)" fill="rgb(242,242,242)"/>
<ellipse cx="875" cy="1601" rx="48" ry="16" transform="rotate(10 875 1601)" fill="rgb(38,38,38)"/>
<ellipse cx="900" cy="1612" rx="24" ry="6" transform="rotate(10 900 1612)" fill="rgb(12,12,12)"/>
<ellipse cx="818" cy="1601" rx="12" ry="8" fill="rgb(209,209,209)"/>
<ellipse cx="830" cy="1614" rx="10" ry="5" fill="rgb(242,242,242)"/>
<ellipse cx="783" cy="1637" rx="44" ry="20" transform="rotate(-20 783 1637)" fill="rgb(145,145,145)"/>
<ellipse cx="851" cy="1657" rx="40" ry="32" fill="rgb(165,165,165)"/>
<ellipse cx="905" cy="1630" rx="20" ry="10" fill="rgb(30,30,30)"/>
<ellipse cx="915" cy="1673" rx="34" ry="18" fill="rgb(107,107,107)"/>
<ellipse cx="967" cy="1649" rx="44" ry="24" fill="rgb(165,165,165)"/>
<ellipse cx="952" cy="1624" rx="16" ry="10" fill="rgb(224,224,224)"/>
<ellipse cx="962" cy="1649" rx="8" ry="5" fill="rgb(242,242,242)"/>
<ellipse cx="870" cy="1697" rx="50" ry="8" fill="rgb(229,229,229)"/>
</g></g></g>
<path d="M737.4,1645.8L873.4,1754.6L1011.0,1645.8" stroke="#0a0606" stroke-width="1.2" fill="none"/>
<g font-family="'Liberation Sans', Arial, sans-serif" font-size="7.6" fill="#2a2a2a"><text transform="translate(820.4 1726.4) rotate(141)" text-anchor="middle">2.5</text><text transform="translate(786.4 1699.2) rotate(141)" text-anchor="middle">5</text><text transform="translate(752.4 1672.0) rotate(141)" text-anchor="middle">7.5</text><text transform="translate(789.4 1706.2) rotate(141)" text-anchor="middle" font-size="5.5">µm</text><text transform="translate(925.8 1725.4) rotate(-38)" text-anchor="middle">2.5</text><text transform="translate(960.2 1698.2) rotate(-38)" text-anchor="middle">5</text><text transform="translate(994.6 1671.0) rotate(-38)" text-anchor="middle">7.5</text><text transform="translate(1018.0 1649.8) rotate(-38)" text-anchor="middle">10</text><text transform="translate(966.2 1705.2) rotate(-38)" text-anchor="middle" font-size="5.5">µm</text><text transform="translate(868.4 1764.6) rotate(-38)" text-anchor="middle">0</text><text transform="translate(882.4 1762.6) rotate(-38)" text-anchor="middle">0</text><path d="M734.4 1644.8L729.4 1604.8" stroke="#444" stroke-width="0.7" fill="none"/><text transform="translate(728.1 1613.3) rotate(-22)" text-anchor="end">200</text><text transform="translate(729.2 1621.8) rotate(-22)" text-anchor="end">100</text><text transform="translate(730.3 1630.3) rotate(-22)" text-anchor="end">0</text><text transform="translate(731.3 1638.8) rotate(-22)" text-anchor="end">-100</text><text transform="translate(732.4 1647.3) rotate(-22)" text-anchor="end">-200</text><path d="M730.1 1610.8h2.2M731.2 1619.3h2.2M732.3 1627.8h2.2M733.3 1636.3h2.2M734.4 1644.8h2.2" stroke="#444" stroke-width="0.6" fill="none"/><text transform="translate(718.4 1600.8) rotate(-22)" text-anchor="middle">nm</text></g>
<clipPath id="p15c"><polygon points="1051.0,1623.4 1067.0,1614.6 1083.0,1606.8 1099.0,1599.4 1121.3,1591.9 1143.7,1585.0 1166.0,1578.6 1175.1,1571.3 1184.3,1561.0 1193.4,1557.0 1198.3,1558.6 1203.1,1564.9 1208.0,1569.0 1214.3,1568.0 1220.7,1568.2 1227.0,1570.6 1233.3,1576.6 1239.7,1586.4 1246.0,1594.6 1254.7,1593.2 1263.3,1592.1 1272.0,1591.4 1276.3,1587.3 1280.7,1585.0 1285.0,1585.0 1293.3,1586.7 1301.7,1593.0 1310.0,1597.8 1319.7,1607.0 1329.3,1617.4 1339.0,1628.0 1335.8,1636.5 1332.2,1639.2 1328.7,1642.0 1325.1,1636.4 1321.6,1639.2 1318.0,1642.0 1314.4,1644.8 1310.9,1647.6 1307.3,1650.4 1303.8,1661.6 1300.2,1664.3 1296.6,1667.0 1293.1,1669.7 1289.5,1672.4 1286.0,1675.1 1282.4,1677.8 1278.8,1680.5 1275.3,1683.2 1271.7,1685.9 1268.2,1688.5 1264.6,1691.2 1261.0,1693.8 1257.5,1696.5 1253.9,1699.1 1250.4,1701.8 1246.8,1704.4 1243.2,1707.1 1239.7,1700.9 1236.1,1703.4 1232.6,1705.9 1229.0,1708.3 1225.4,1710.8 1221.9,1713.3 1218.3,1715.7 1214.8,1718.2 1211.2,1726.4 1207.6,1729.0 1204.1,1731.5 1200.5,1734.1 1197.0,1736.7 1193.4,1739.2 1193.4,1739.2 1189.9,1730.2 1186.4,1727.4 1183.0,1724.6 1179.5,1721.8 1176.0,1719.0 1172.5,1716.2 1169.0,1713.4 1165.6,1710.6 1162.1,1708.0 1158.6,1705.4 1155.1,1702.8 1151.6,1700.2 1148.2,1692.8 1144.7,1690.3 1141.2,1687.8 1137.7,1685.2 1134.2,1682.6 1130.8,1679.9 1127.3,1677.3 1123.8,1674.7 1120.3,1672.0 1116.8,1669.4 1113.4,1666.8 1109.9,1678.3 1106.4,1675.6 1102.9,1672.9 1099.4,1670.1 1096.0,1667.4 1092.5,1664.7 1089.0,1662.0 1085.5,1659.1 1082.0,1642.7 1078.6,1639.6 1075.1,1636.5 1071.6,1633.3 1068.1,1630.2 1064.6,1628.4 1061.2,1626.6 1057.7,1640.0 1054.2,1637.4"/></clipPath>
<filter id="p15f" filterUnits="userSpaceOnUse" x="781" y="1277" width="826.4000000000001" height="746" color-interpolation-filters="sRGB"><feGaussianBlur in="SourceGraphic" stdDeviation="2.6" result="b"/><feTurbulence type="fractalNoise" baseFrequency="0.1 0.28" numOctaves="2" seed="108" result="t"/><feColorMatrix in="t" type="matrix" values="1 0 0 0 0 1 0 0 0 0 1 0 0 0 0 0 0 0 0 1" result="tg"/><feComposite in="b" in2="tg" operator="arithmetic" k1="0" k2="1.0" k3="0.6" k4="-0.300" result="h"/><feComponentTransfer in="h" result="col"><feFuncR type="table" tableValues="0.08 0.24 0.40 0.49 0.60 0.70 0.83 0.97"/><feFuncG type="table" tableValues="0.03 0.09 0.15 0.23 0.42 0.57 0.75 0.97"/><feFuncB type="table" tableValues="0.02 0.06 0.11 0.12 0.16 0.23 0.49 0.96"/><feFuncA type="linear" slope="0" intercept="1"/></feComponentTransfer><feColorMatrix in="h" type="matrix" values="0 0 0 0 0 0 0 0 0 0 0 0 0 0 0 1 0 0 0 0" result="ha0"/><feGaussianBlur in="ha0" stdDeviation="1.3" result="ha"/><feDiffuseLighting in="ha" surfaceScale="2.5" diffuseConstant="1" lighting-color="#fff" result="lit"><feDistantLight azimuth="255" elevation="50"/></feDiffuseLighting><feComposite in="col" in2="lit" operator="arithmetic" k1="1.305" k2="0" k3="0" k4="0"/></filter>
<linearGradient id="p15lh" gradientUnits="userSpaceOnUse" x1="1054.2" y1="0" x2="1193.4" y2="0"><stop offset="0.000" stop-color="#3a1a12"/><stop offset="0.050" stop-color="#f2f0ec"/><stop offset="0.200" stop-color="#f2f0ec"/><stop offset="0.220" stop-color="#6e2a1c"/><stop offset="0.400" stop-color="#6e2a1c"/><stop offset="0.420" stop-color="#f2f0ec"/><stop offset="0.660" stop-color="#f2f0ec"/><stop offset="0.700" stop-color="#c4a040"/><stop offset="1.000" stop-color="#8a4a1c"/></linearGradient>
<linearGradient id="p15lv" gradientUnits="userSpaceOnUse" x1="0" y1="792.8" x2="0" y2="769.0" gradientTransform="matrix(1 0.8046 0 1 0 0)"><stop offset="0" stop-color="#000" stop-opacity="0.93"/><stop offset="0.12" stop-color="#000" stop-opacity="0.62"/><stop offset="0.3" stop-color="#000" stop-opacity="0.3"/><stop offset="0.55" stop-color="#000" stop-opacity="0.07"/><stop offset="1" stop-color="#000" stop-opacity="0"/></linearGradient>
<polygon points="1054.2,1641.0 1193.4,1753.0 1193.4,1739.2 1189.9,1730.2 1186.4,1727.4 1183.0,1724.6 1179.5,1721.8 1176.0,1719.0 1172.5,1716.2 1169.0,1713.4 1165.6,1710.6 1162.1,1708.0 1158.6,1705.4 1155.1,1702.8 1151.6,1700.2 1148.2,1692.8 1144.7,1690.3 1141.2,1687.8 1137.7,1685.2 1134.2,1682.6 1130.8,1679.9 1127.3,1677.3 1123.8,1674.7 1120.3,1672.0 1116.8,1669.4 1113.4,1666.8 1109.9,1678.3 1106.4,1675.6 1102.9,1672.9 1099.4,1670.1 1096.0,1667.4 1092.5,1664.7 1089.0,1662.0 1085.5,1659.1 1082.0,1642.7 1078.6,1639.6 1075.1,1636.5 1071.6,1633.3 1068.1,1630.2 1064.6,1628.4 1061.2,1626.6 1057.7,1640.0 1054.2,1637.4" fill="url(#p15lh)"/>
<polygon points="1054.2,1641.0 1193.4,1753.0 1193.4,1739.2 1189.9,1730.2 1186.4,1727.4 1183.0,1724.6 1179.5,1721.8 1176.0,1719.0 1172.5,1716.2 1169.0,1713.4 1165.6,1710.6 1162.1,1708.0 1158.6,1705.4 1155.1,1702.8 1151.6,1700.2 1148.2,1692.8 1144.7,1690.3 1141.2,1687.8 1137.7,1685.2 1134.2,1682.6 1130.8,1679.9 1127.3,1677.3 1123.8,1674.7 1120.3,1672.0 1116.8,1669.4 1113.4,1666.8 1109.9,1678.3 1106.4,1675.6 1102.9,1672.9 1099.4,1670.1 1096.0,1667.4 1092.5,1664.7 1089.0,1662.0 1085.5,1659.1 1082.0,1642.7 1078.6,1639.6 1075.1,1636.5 1071.6,1633.3 1068.1,1630.2 1064.6,1628.4 1061.2,1626.6 1057.7,1640.0 1054.2,1637.4" fill="#000" filter="url(#streak)"/>
<polygon points="1054.2,1641.0 1193.4,1753.0 1193.4,1739.2 1189.9,1730.2 1186.4,1727.4 1183.0,1724.6 1179.5,1721.8 1176.0,1719.0 1172.5,1716.2 1169.0,1713.4 1165.6,1710.6 1162.1,1708.0 1158.6,1705.4 1155.1,1702.8 1151.6,1700.2 1148.2,1692.8 1144.7,1690.3 1141.2,1687.8 1137.7,1685.2 1134.2,1682.6 1130.8,1679.9 1127.3,1677.3 1123.8,1674.7 1120.3,1672.0 1116.8,1669.4 1113.4,1666.8 1109.9,1678.3 1106.4,1675.6 1102.9,1672.9 1099.4,1670.1 1096.0,1667.4 1092.5,1664.7 1089.0,1662.0 1085.5,1659.1 1082.0,1642.7 1078.6,1639.6 1075.1,1636.5 1071.6,1633.3 1068.1,1630.2 1064.6,1628.4 1061.2,1626.6 1057.7,1640.0 1054.2,1637.4" fill="url(#p15lv)"/>
<linearGradient id="p15rh" gradientUnits="userSpaceOnUse" x1="1193.4" y1="0" x2="1335.8" y2="0"><stop offset="0.000" stop-color="#8a4a1c"/><stop offset="0.150" stop-color="#c4a040"/><stop offset="0.320" stop-color="#c4a040"/><stop offset="0.350" stop-color="#6e2a1c"/><stop offset="0.780" stop-color="#6e2a1c"/><stop offset="0.800" stop-color="#f2f0ec"/><stop offset="0.900" stop-color="#f2f0ec"/><stop offset="0.930" stop-color="#6e2a1c"/><stop offset="1.000" stop-color="#6e2a1c"/></linearGradient>
<linearGradient id="p15rv" gradientUnits="userSpaceOnUse" x1="0" y1="2691.6" x2="0" y2="2673.6" gradientTransform="matrix(1 -0.7865 0 1 0 0)"><stop offset="0" stop-color="#000" stop-opacity="0.93"/><stop offset="0.12" stop-color="#000" stop-opacity="0.62"/><stop offset="0.3" stop-color="#000" stop-opacity="0.3"/><stop offset="0.55" stop-color="#000" stop-opacity="0.07"/><stop offset="1" stop-color="#000" stop-opacity="0"/></linearGradient>
<polygon points="1193.4,1753.0 1335.8,1641.0 1335.8,1636.5 1332.2,1639.2 1328.7,1642.0 1325.1,1636.4 1321.6,1639.2 1318.0,1642.0 1314.4,1644.8 1310.9,1647.6 1307.3,1650.4 1303.8,1661.6 1300.2,1664.3 1296.6,1667.0 1293.1,1669.7 1289.5,1672.4 1286.0,1675.1 1282.4,1677.8 1278.8,1680.5 1275.3,1683.2 1271.7,1685.9 1268.2,1688.5 1264.6,1691.2 1261.0,1693.8 1257.5,1696.5 1253.9,1699.1 1250.4,1701.8 1246.8,1704.4 1243.2,1707.1 1239.7,1700.9 1236.1,1703.4 1232.6,1705.9 1229.0,1708.3 1225.4,1710.8 1221.9,1713.3 1218.3,1715.7 1214.8,1718.2 1211.2,1726.4 1207.6,1729.0 1204.1,1731.5 1200.5,1734.1 1197.0,1736.7 1193.4,1739.2" fill="url(#p15rh)"/>
<polygon points="1193.4,1753.0 1335.8,1641.0 1335.8,1636.5 1332.2,1639.2 1328.7,1642.0 1325.1,1636.4 1321.6,1639.2 1318.0,1642.0 1314.4,1644.8 1310.9,1647.6 1307.3,1650.4 1303.8,1661.6 1300.2,1664.3 1296.6,1667.0 1293.1,1669.7 1289.5,1672.4 1286.0,1675.1 1282.4,1677.8 1278.8,1680.5 1275.3,1683.2 1271.7,1685.9 1268.2,1688.5 1264.6,1691.2 1261.0,1693.8 1257.5,1696.5 1253.9,1699.1 1250.4,1701.8 1246.8,1704.4 1243.2,1707.1 1239.7,1700.9 1236.1,1703.4 1232.6,1705.9 1229.0,1708.3 1225.4,1710.8 1221.9,1713.3 1218.3,1715.7 1214.8,1718.2 1211.2,1726.4 1207.6,1729.0 1204.1,1731.5 1200.5,1734.1 1197.0,1736.7 1193.4,1739.2" fill="#000" filter="url(#streak)"/>
<polygon points="1193.4,1753.0 1335.8,1641.0 1335.8,1636.5 1332.2,1639.2 1328.7,1642.0 1325.1,1636.4 1321.6,1639.2 1318.0,1642.0 1314.4,1644.8 1310.9,1647.6 1307.3,1650.4 1303.8,1661.6 1300.2,1664.3 1296.6,1667.0 1293.1,1669.7 1289.5,1672.4 1286.0,1675.1 1282.4,1677.8 1278.8,1680.5 1275.3,1683.2 1271.7,1685.9 1268.2,1688.5 1264.6,1691.2 1261.0,1693.8 1257.5,1696.5 1253.9,1699.1 1250.4,1701.8 1246.8,1704.4 1243.2,1707.1 1239.7,1700.9 1236.1,1703.4 1232.6,1705.9 1229.0,1708.3 1225.4,1710.8 1221.9,1713.3 1218.3,1715.7 1214.8,1718.2 1211.2,1726.4 1207.6,1729.0 1204.1,1731.5 1200.5,1734.1 1197.0,1736.7 1193.4,1739.2" fill="url(#p15rv)"/>
<g clip-path="url(#p15c)"><g transform="rotate(-30 1194.2 1650.0)" filter="url(#p15f)"><g transform="rotate(30 1194.2 1650.0)">
<rect x="971" y="1467" width="446" height="366" fill="rgb(94,94,94)"/>
<ellipse cx="1054.2" cy="1634.4" rx="7" ry="4" fill="rgb(45,45,45)"/>
<ellipse cx="1061.2" cy="1623.6" rx="7" ry="4" fill="rgb(242,242,242)"/>
<ellipse cx="1068.1" cy="1627.2" rx="7" ry="4" fill="rgb(242,242,242)"/>
<ellipse cx="1075.1" cy="1633.5" rx="7" ry="4" fill="rgb(242,242,242)"/>
<ellipse cx="1082.0" cy="1639.7" rx="7" ry="4" fill="rgb(242,242,242)"/>
<ellipse cx="1089.0" cy="1659.0" rx="7" ry="4" fill="rgb(81,81,81)"/>
<ellipse cx="1096.0" cy="1664.4" rx="7" ry="4" fill="rgb(81,81,81)"/>
<ellipse cx="1102.9" cy="1669.9" rx="7" ry="4" fill="rgb(81,81,81)"/>
<ellipse cx="1109.9" cy="1675.3" rx="7" ry="4" fill="rgb(81,81,81)"/>
<ellipse cx="1116.8" cy="1666.4" rx="7" ry="4" fill="rgb(242,242,242)"/>
<ellipse cx="1123.8" cy="1671.7" rx="7" ry="4" fill="rgb(242,242,242)"/>
<ellipse cx="1130.8" cy="1676.9" rx="7" ry="4" fill="rgb(242,242,242)"/>
<ellipse cx="1137.7" cy="1682.2" rx="7" ry="4" fill="rgb(242,242,242)"/>
<ellipse cx="1144.7" cy="1687.3" rx="7" ry="4" fill="rgb(242,242,242)"/>
<ellipse cx="1151.6" cy="1697.2" rx="7" ry="4" fill="rgb(165,165,165)"/>
<ellipse cx="1158.6" cy="1702.4" rx="7" ry="4" fill="rgb(165,165,165)"/>
<ellipse cx="1165.6" cy="1707.6" rx="7" ry="4" fill="rgb(165,165,165)"/>
<ellipse cx="1172.5" cy="1713.2" rx="7" ry="4" fill="rgb(165,165,165)"/>
<ellipse cx="1179.5" cy="1718.8" rx="7" ry="4" fill="rgb(165,165,165)"/>
<ellipse cx="1186.4" cy="1724.4" rx="7" ry="4" fill="rgb(165,165,165)"/>
<ellipse cx="1193.4" cy="1736.2" rx="7" ry="4" fill="rgb(114,114,114)"/>
<ellipse cx="1193.4" cy="1736.2" rx="7" ry="4" fill="rgb(114,114,114)"/>
<ellipse cx="1200.5" cy="1731.1" rx="7" ry="4" fill="rgb(114,114,114)"/>
<ellipse cx="1207.6" cy="1726.0" rx="7" ry="4" fill="rgb(114,114,114)"/>
<ellipse cx="1214.8" cy="1715.2" rx="7" ry="4" fill="rgb(165,165,165)"/>
<ellipse cx="1221.9" cy="1710.3" rx="7" ry="4" fill="rgb(165,165,165)"/>
<ellipse cx="1229.0" cy="1705.3" rx="7" ry="4" fill="rgb(165,165,165)"/>
<ellipse cx="1236.1" cy="1700.4" rx="7" ry="4" fill="rgb(165,165,165)"/>
<ellipse cx="1243.2" cy="1704.1" rx="7" ry="4" fill="rgb(81,81,81)"/>
<ellipse cx="1250.4" cy="1698.8" rx="7" ry="4" fill="rgb(81,81,81)"/>
<ellipse cx="1257.5" cy="1693.5" rx="7" ry="4" fill="rgb(81,81,81)"/>
<ellipse cx="1264.6" cy="1688.2" rx="7" ry="4" fill="rgb(81,81,81)"/>
<ellipse cx="1271.7" cy="1682.9" rx="7" ry="4" fill="rgb(81,81,81)"/>
<ellipse cx="1278.8" cy="1677.5" rx="7" ry="4" fill="rgb(81,81,81)"/>
<ellipse cx="1286.0" cy="1672.1" rx="7" ry="4" fill="rgb(81,81,81)"/>
<ellipse cx="1293.1" cy="1666.7" rx="7" ry="4" fill="rgb(81,81,81)"/>
<ellipse cx="1300.2" cy="1661.3" rx="7" ry="4" fill="rgb(81,81,81)"/>
<ellipse cx="1307.3" cy="1647.4" rx="7" ry="4" fill="rgb(242,242,242)"/>
<ellipse cx="1314.4" cy="1641.8" rx="7" ry="4" fill="rgb(242,242,242)"/>
<ellipse cx="1321.6" cy="1636.2" rx="7" ry="4" fill="rgb(242,242,242)"/>
<ellipse cx="1328.7" cy="1639.0" rx="7" ry="4" fill="rgb(81,81,81)"/>
<ellipse cx="1335.8" cy="1633.5" rx="7" ry="4" fill="rgb(81,81,81)"/>
<ellipse cx="1195" cy="1567" rx="16" ry="10" fill="rgb(170,170,170)"/>
<ellipse cx="1171" cy="1588" rx="72" ry="13" transform="rotate(-10 1171 1588)" fill="rgb(170,170,170)"/>
<ellipse cx="1220" cy="1580" rx="20" ry="6" fill="rgb(216,216,216)"/>
<ellipse cx="1159" cy="1610" rx="92" ry="14" transform="rotate(-10 1159 1610)" fill="rgb(81,81,81)"/>
<ellipse cx="1288" cy="1601" rx="26" ry="16" fill="rgb(242,242,242)"/>
<ellipse cx="1195" cy="1606" rx="24" ry="10" transform="rotate(-15 1195 1606)" fill="rgb(237,237,237)"/>
<ellipse cx="1159" cy="1635" rx="84" ry="13" transform="rotate(-10 1159 1635)" fill="rgb(170,170,170)"/>
<ellipse cx="1071" cy="1640" rx="12" ry="16" fill="rgb(242,242,242)"/>
<ellipse cx="1195" cy="1655" rx="112" ry="14" transform="rotate(-10 1195 1655)" fill="rgb(76,76,76)"/>
<ellipse cx="1227" cy="1648" rx="40" ry="12" transform="rotate(-10 1227 1648)" fill="rgb(15,15,15)"/>
<ellipse cx="1295" cy="1642" rx="36" ry="14" transform="rotate(-20 1295 1642)" fill="rgb(170,170,170)"/>
<ellipse cx="1315" cy="1640" rx="10" ry="8" fill="rgb(242,242,242)"/>
<ellipse cx="1170" cy="1680" rx="58" ry="16" transform="rotate(-5 1170 1680)" fill="rgb(247,247,247)"/>
<ellipse cx="1207" cy="1701" rx="60" ry="20" transform="rotate(-20 1207 1701)" fill="rgb(165,165,165)"/>
<ellipse cx="1179" cy="1725" rx="32" ry="20" fill="rgb(81,81,81)"/>
</g></g></g>
<path d="M1054.2,1641.0L1193.4,1753.0L1335.8,1641.0" stroke="#0a0606" stroke-width="1.2" fill="none"/>
<g font-family="'Liberation Sans', Arial, sans-serif" font-size="7.6" fill="#2a2a2a"><text transform="translate(1139.6 1724.0) rotate(141)" text-anchor="middle">2.5</text><text transform="translate(1104.8 1696.0) rotate(141)" text-anchor="middle">5</text><text transform="translate(1070.0 1668.0) rotate(141)" text-anchor="middle">7.5</text><text transform="translate(1107.8 1703.0) rotate(141)" text-anchor="middle" font-size="5.5">µm</text><text transform="translate(1247.0 1723.0) rotate(-38)" text-anchor="middle">2.5</text><text transform="translate(1282.6 1695.0) rotate(-38)" text-anchor="middle">5</text><text transform="translate(1318.2 1667.0) rotate(-38)" text-anchor="middle">7.5</text><text transform="translate(1342.8 1645.0) rotate(-38)" text-anchor="middle">10</text><text transform="translate(1288.6 1702.0) rotate(-38)" text-anchor="middle" font-size="5.5">µm</text><text transform="translate(1188.4 1763.0) rotate(-38)" text-anchor="middle">0</text><text transform="translate(1202.4 1761.0) rotate(-38)" text-anchor="middle">0</text><path d="M1051.2 1640.0L1046.2 1600.0" stroke="#444" stroke-width="0.7" fill="none"/><text transform="translate(1045.0 1608.5) rotate(-22)" text-anchor="end">200</text><text transform="translate(1046.0 1617.0) rotate(-22)" text-anchor="end">100</text><text transform="translate(1047.1 1625.5) rotate(-22)" text-anchor="end">0</text><text transform="translate(1048.1 1634.0) rotate(-22)" text-anchor="end">-100</text><text transform="translate(1049.2 1642.5) rotate(-22)" text-anchor="end">-200</text><path d="M1047.0 1606.0h2.2M1048.0 1614.5h2.2M1049.1 1623.0h2.2M1050.1 1631.5h2.2M1051.2 1640.0h2.2" stroke="#444" stroke-width="0.6" fill="none"/><text transform="translate(1035.2 1596.0) rotate(-22)" text-anchor="middle">nm</text></g>
<clipPath id="p16c"><polygon points="1374.4,1625.0 1383.9,1620.9 1393.5,1616.6 1403.0,1615.4 1409.3,1616.4 1415.7,1617.3 1422.0,1618.6 1438.7,1606.3 1455.3,1595.2 1472.0,1586.6 1484.8,1580.0 1497.6,1576.8 1510.4,1572.2 1517.9,1575.9 1525.5,1578.0 1533.0,1583.4 1539.3,1580.6 1545.7,1581.8 1552.0,1583.4 1561.7,1589.3 1571.3,1597.6 1581.0,1605.8 1584.7,1605.8 1588.3,1605.5 1592.0,1609.0 1609.7,1618.4 1627.3,1627.7 1645.0,1637.8 1646.4,1640.6 1643.0,1643.4 1639.6,1645.9 1636.2,1648.4 1632.8,1651.0 1629.4,1653.5 1626.0,1656.0 1622.6,1658.6 1619.2,1661.1 1615.8,1663.6 1612.4,1666.2 1609.0,1658.0 1605.6,1645.7 1602.2,1647.6 1598.8,1649.6 1595.4,1651.5 1592.0,1653.4 1588.6,1655.4 1585.2,1657.3 1581.8,1675.0 1578.4,1685.8 1575.0,1688.6 1571.6,1691.3 1568.2,1694.1 1564.8,1696.8 1561.4,1699.6 1558.0,1702.4 1554.6,1705.1 1551.2,1707.9 1547.8,1717.3 1544.4,1719.9 1541.0,1722.6 1537.6,1725.2 1534.2,1727.8 1530.8,1730.5 1527.4,1733.1 1524.0,1735.8 1520.6,1738.4 1517.2,1741.1 1513.8,1743.7 1510.4,1746.3 1510.4,1746.3 1507.0,1743.5 1503.7,1740.6 1500.3,1737.7 1497.0,1734.8 1493.6,1731.9 1490.2,1729.0 1486.9,1725.8 1483.5,1722.6 1480.2,1719.4 1476.8,1716.2 1473.4,1694.4 1470.1,1690.4 1466.7,1686.0 1463.4,1681.6 1460.0,1677.2 1456.6,1672.8 1453.3,1668.4 1449.9,1664.0 1446.6,1662.2 1443.2,1660.3 1439.8,1658.5 1436.5,1656.7 1433.1,1654.8 1429.8,1653.0 1426.4,1651.1 1423.0,1649.3 1419.7,1662.1 1416.3,1660.2 1413.0,1650.9 1409.6,1649.3 1406.2,1647.6 1402.9,1646.0 1399.5,1643.8 1396.2,1641.7 1392.8,1639.6 1389.4,1637.5 1386.1,1635.4 1382.7,1633.2 1379.4,1631.1 1376.0,1629.0"/></clipPath>
<filter id="p16f" filterUnits="userSpaceOnUse" x="1104.4" y="1292.2" width="812.0" height="730.8" color-interpolation-filters="sRGB"><feGaussianBlur in="SourceGraphic" stdDeviation="2.6" result="b"/><feTurbulence type="fractalNoise" baseFrequency="0.1 0.28" numOctaves="2" seed="115" result="t"/><feColorMatrix in="t" type="matrix" values="1 0 0 0 0 1 0 0 0 0 1 0 0 0 0 0 0 0 0 1" result="tg"/><feComposite in="b" in2="tg" operator="arithmetic" k1="0" k2="1.0" k3="0.6" k4="-0.300" result="h"/><feComponentTransfer in="h" result="col"><feFuncR type="table" tableValues="0.08 0.24 0.40 0.49 0.60 0.70 0.83 0.97"/><feFuncG type="table" tableValues="0.03 0.09 0.15 0.23 0.42 0.57 0.75 0.97"/><feFuncB type="table" tableValues="0.02 0.06 0.11 0.12 0.16 0.23 0.49 0.96"/><feFuncA type="linear" slope="0" intercept="1"/></feComponentTransfer><feColorMatrix in="h" type="matrix" values="0 0 0 0 0 0 0 0 0 0 0 0 0 0 0 1 0 0 0 0" result="ha0"/><feGaussianBlur in="ha0" stdDeviation="1.3" result="ha"/><feDiffuseLighting in="ha" surfaceScale="2.5" diffuseConstant="1" lighting-color="#fff" result="lit"><feDistantLight azimuth="255" elevation="50"/></feDiffuseLighting><feComposite in="col" in2="lit" operator="arithmetic" k1="1.305" k2="0" k3="0" k4="0"/></filter>
<linearGradient id="p16lh" gradientUnits="userSpaceOnUse" x1="1376.0" y1="0" x2="1510.4" y2="0"><stop offset="0.000" stop-color="#c4a040"/><stop offset="0.300" stop-color="#8a4a1c"/><stop offset="0.340" stop-color="#f2f0ec"/><stop offset="0.700" stop-color="#f2f0ec"/><stop offset="0.730" stop-color="#6e2a1c"/><stop offset="1.000" stop-color="#6e2a1c"/></linearGradient>
<linearGradient id="p16lv" gradientUnits="userSpaceOnUse" x1="0" y1="530.3" x2="0" y2="490.3" gradientTransform="matrix(1 0.8095 0 1 0 0)"><stop offset="0" stop-color="#000" stop-opacity="0.93"/><stop offset="0.12" stop-color="#000" stop-opacity="0.62"/><stop offset="0.3" stop-color="#000" stop-opacity="0.3"/><stop offset="0.55" stop-color="#000" stop-opacity="0.07"/><stop offset="1" stop-color="#000" stop-opacity="0"/></linearGradient>
<polygon points="1376.0,1644.2 1510.4,1753.0 1510.4,1746.3 1507.0,1743.5 1503.7,1740.6 1500.3,1737.7 1497.0,1734.8 1493.6,1731.9 1490.2,1729.0 1486.9,1725.8 1483.5,1722.6 1480.2,1719.4 1476.8,1716.2 1473.4,1694.4 1470.1,1690.4 1466.7,1686.0 1463.4,1681.6 1460.0,1677.2 1456.6,1672.8 1453.3,1668.4 1449.9,1664.0 1446.6,1662.2 1443.2,1660.3 1439.8,1658.5 1436.5,1656.7 1433.1,1654.8 1429.8,1653.0 1426.4,1651.1 1423.0,1649.3 1419.7,1662.1 1416.3,1660.2 1413.0,1650.9 1409.6,1649.3 1406.2,1647.6 1402.9,1646.0 1399.5,1643.8 1396.2,1641.7 1392.8,1639.6 1389.4,1637.5 1386.1,1635.4 1382.7,1633.2 1379.4,1631.1 1376.0,1629.0" fill="url(#p16lh)"/>
<polygon points="1376.0,1644.2 1510.4,1753.0 1510.4,1746.3 1507.0,1743.5 1503.7,1740.6 1500.3,1737.7 1497.0,1734.8 1493.6,1731.9 1490.2,1729.0 1486.9,1725.8 1483.5,1722.6 1480.2,1719.4 1476.8,1716.2 1473.4,1694.4 1470.1,1690.4 1466.7,1686.0 1463.4,1681.6 1460.0,1677.2 1456.6,1672.8 1453.3,1668.4 1449.9,1664.0 1446.6,1662.2 1443.2,1660.3 1439.8,1658.5 1436.5,1656.7 1433.1,1654.8 1429.8,1653.0 1426.4,1651.1 1423.0,1649.3 1419.7,1662.1 1416.3,1660.2 1413.0,1650.9 1409.6,1649.3 1406.2,1647.6 1402.9,1646.0 1399.5,1643.8 1396.2,1641.7 1392.8,1639.6 1389.4,1637.5 1386.1,1635.4 1382.7,1633.2 1379.4,1631.1 1376.0,1629.0" fill="#000" filter="url(#streak)"/>
<polygon points="1376.0,1644.2 1510.4,1753.0 1510.4,1746.3 1507.0,1743.5 1503.7,1740.6 1500.3,1737.7 1497.0,1734.8 1493.6,1731.9 1490.2,1729.0 1486.9,1725.8 1483.5,1722.6 1480.2,1719.4 1476.8,1716.2 1473.4,1694.4 1470.1,1690.4 1466.7,1686.0 1463.4,1681.6 1460.0,1677.2 1456.6,1672.8 1453.3,1668.4 1449.9,1664.0 1446.6,1662.2 1443.2,1660.3 1439.8,1658.5 1436.5,1656.7 1433.1,1654.8 1429.8,1653.0 1426.4,1651.1 1423.0,1649.3 1419.7,1662.1 1416.3,1660.2 1413.0,1650.9 1409.6,1649.3 1406.2,1647.6 1402.9,1646.0 1399.5,1643.8 1396.2,1641.7 1392.8,1639.6 1389.4,1637.5 1386.1,1635.4 1382.7,1633.2 1379.4,1631.1 1376.0,1629.0" fill="url(#p16lv)"/>
<linearGradient id="p16rh" gradientUnits="userSpaceOnUse" x1="1510.4" y1="0" x2="1646.4" y2="0"><stop offset="0.000" stop-color="#6e2a1c"/><stop offset="0.300" stop-color="#c4a040"/><stop offset="0.520" stop-color="#c4a040"/><stop offset="0.540" stop-color="#f2f0ec"/><stop offset="0.700" stop-color="#f2f0ec"/><stop offset="0.730" stop-color="#6e2a1c"/><stop offset="1.000" stop-color="#6e2a1c"/></linearGradient>
<linearGradient id="p16rv" gradientUnits="userSpaceOnUse" x1="0" y1="2979.1" x2="0" y2="2944.1" gradientTransform="matrix(1 -0.8118 0 1 0 0)"><stop offset="0" stop-color="#000" stop-opacity="0.93"/><stop offset="0.12" stop-color="#000" stop-opacity="0.62"/><stop offset="0.3" stop-color="#000" stop-opacity="0.3"/><stop offset="0.55" stop-color="#000" stop-opacity="0.07"/><stop offset="1" stop-color="#000" stop-opacity="0"/></linearGradient>
<polygon points="1510.4,1753.0 1646.4,1642.6 1646.4,1640.6 1643.0,1643.4 1639.6,1645.9 1636.2,1648.4 1632.8,1651.0 1629.4,1653.5 1626.0,1656.0 1622.6,1658.6 1619.2,1661.1 1615.8,1663.6 1612.4,1666.2 1609.0,1658.0 1605.6,1645.7 1602.2,1647.6 1598.8,1649.6 1595.4,1651.5 1592.0,1653.4 1588.6,1655.4 1585.2,1657.3 1581.8,1675.0 1578.4,1685.8 1575.0,1688.6 1571.6,1691.3 1568.2,1694.1 1564.8,1696.8 1561.4,1699.6 1558.0,1702.4 1554.6,1705.1 1551.2,1707.9 1547.8,1717.3 1544.4,1719.9 1541.0,1722.6 1537.6,1725.2 1534.2,1727.8 1530.8,1730.5 1527.4,1733.1 1524.0,1735.8 1520.6,1738.4 1517.2,1741.1 1513.8,1743.7 1510.4,1746.3" fill="url(#p16rh)"/>
<polygon points="1510.4,1753.0 1646.4,1642.6 1646.4,1640.6 1643.0,1643.4 1639.6,1645.9 1636.2,1648.4 1632.8,1651.0 1629.4,1653.5 1626.0,1656.0 1622.6,1658.6 1619.2,1661.1 1615.8,1663.6 1612.4,1666.2 1609.0,1658.0 1605.6,1645.7 1602.2,1647.6 1598.8,1649.6 1595.4,1651.5 1592.0,1653.4 1588.6,1655.4 1585.2,1657.3 1581.8,1675.0 1578.4,1685.8 1575.0,1688.6 1571.6,1691.3 1568.2,1694.1 1564.8,1696.8 1561.4,1699.6 1558.0,1702.4 1554.6,1705.1 1551.2,1707.9 1547.8,1717.3 1544.4,1719.9 1541.0,1722.6 1537.6,1725.2 1534.2,1727.8 1530.8,1730.5 1527.4,1733.1 1524.0,1735.8 1520.6,1738.4 1517.2,1741.1 1513.8,1743.7 1510.4,1746.3" fill="#000" filter="url(#streak)"/>
<polygon points="1510.4,1753.0 1646.4,1642.6 1646.4,1640.6 1643.0,1643.4 1639.6,1645.9 1636.2,1648.4 1632.8,1651.0 1629.4,1653.5 1626.0,1656.0 1622.6,1658.6 1619.2,1661.1 1615.8,1663.6 1612.4,1666.2 1609.0,1658.0 1605.6,1645.7 1602.2,1647.6 1598.8,1649.6 1595.4,1651.5 1592.0,1653.4 1588.6,1655.4 1585.2,1657.3 1581.8,1675.0 1578.4,1685.8 1575.0,1688.6 1571.6,1691.3 1568.2,1694.1 1564.8,1696.8 1561.4,1699.6 1558.0,1702.4 1554.6,1705.1 1551.2,1707.9 1547.8,1717.3 1544.4,1719.9 1541.0,1722.6 1537.6,1725.2 1534.2,1727.8 1530.8,1730.5 1527.4,1733.1 1524.0,1735.8 1520.6,1738.4 1517.2,1741.1 1513.8,1743.7 1510.4,1746.3" fill="url(#p16rv)"/>
<g clip-path="url(#p16c)"><g transform="rotate(-30 1510.4 1657.6)" filter="url(#p16f)"><g transform="rotate(30 1510.4 1657.6)">
<rect x="1294" y="1482" width="432" height="351" fill="rgb(124,124,124)"/>
<ellipse cx="1376.0" cy="1626.0" rx="7" ry="4" fill="rgb(165,165,165)"/>
<ellipse cx="1382.7" cy="1630.2" rx="7" ry="4" fill="rgb(165,165,165)"/>
<ellipse cx="1389.4" cy="1634.5" rx="7" ry="4" fill="rgb(165,165,165)"/>
<ellipse cx="1396.2" cy="1638.7" rx="7" ry="4" fill="rgb(165,165,165)"/>
<ellipse cx="1402.9" cy="1643.0" rx="7" ry="4" fill="rgb(165,165,165)"/>
<ellipse cx="1409.6" cy="1646.3" rx="7" ry="4" fill="rgb(165,165,165)"/>
<ellipse cx="1416.3" cy="1657.2" rx="7" ry="4" fill="rgb(114,114,114)"/>
<ellipse cx="1423.0" cy="1646.3" rx="7" ry="4" fill="rgb(242,242,242)"/>
<ellipse cx="1429.8" cy="1650.0" rx="7" ry="4" fill="rgb(242,242,242)"/>
<ellipse cx="1436.5" cy="1653.7" rx="7" ry="4" fill="rgb(242,242,242)"/>
<ellipse cx="1443.2" cy="1657.3" rx="7" ry="4" fill="rgb(242,242,242)"/>
<ellipse cx="1449.9" cy="1661.0" rx="7" ry="4" fill="rgb(242,242,242)"/>
<ellipse cx="1456.6" cy="1669.8" rx="7" ry="4" fill="rgb(242,242,242)"/>
<ellipse cx="1463.4" cy="1678.6" rx="7" ry="4" fill="rgb(242,242,242)"/>
<ellipse cx="1470.1" cy="1687.4" rx="7" ry="4" fill="rgb(242,242,242)"/>
<ellipse cx="1476.8" cy="1713.2" rx="7" ry="4" fill="rgb(81,81,81)"/>
<ellipse cx="1483.5" cy="1719.6" rx="7" ry="4" fill="rgb(81,81,81)"/>
<ellipse cx="1490.2" cy="1726.0" rx="7" ry="4" fill="rgb(81,81,81)"/>
<ellipse cx="1497.0" cy="1731.8" rx="7" ry="4" fill="rgb(81,81,81)"/>
<ellipse cx="1503.7" cy="1737.6" rx="7" ry="4" fill="rgb(81,81,81)"/>
<ellipse cx="1510.4" cy="1743.3" rx="7" ry="4" fill="rgb(81,81,81)"/>
<ellipse cx="1510.4" cy="1743.3" rx="7" ry="4" fill="rgb(81,81,81)"/>
<ellipse cx="1517.2" cy="1738.1" rx="7" ry="4" fill="rgb(81,81,81)"/>
<ellipse cx="1524.0" cy="1732.8" rx="7" ry="4" fill="rgb(81,81,81)"/>
<ellipse cx="1530.8" cy="1727.5" rx="7" ry="4" fill="rgb(81,81,81)"/>
<ellipse cx="1537.6" cy="1722.2" rx="7" ry="4" fill="rgb(81,81,81)"/>
<ellipse cx="1544.4" cy="1716.9" rx="7" ry="4" fill="rgb(81,81,81)"/>
<ellipse cx="1551.2" cy="1704.9" rx="7" ry="4" fill="rgb(165,165,165)"/>
<ellipse cx="1558.0" cy="1699.4" rx="7" ry="4" fill="rgb(165,165,165)"/>
<ellipse cx="1564.8" cy="1693.8" rx="7" ry="4" fill="rgb(165,165,165)"/>
<ellipse cx="1571.6" cy="1688.3" rx="7" ry="4" fill="rgb(165,165,165)"/>
<ellipse cx="1578.4" cy="1682.8" rx="7" ry="4" fill="rgb(165,165,165)"/>
<ellipse cx="1585.2" cy="1654.3" rx="7" ry="4" fill="rgb(242,242,242)"/>
<ellipse cx="1592.0" cy="1650.4" rx="7" ry="4" fill="rgb(242,242,242)"/>
<ellipse cx="1598.8" cy="1646.6" rx="7" ry="4" fill="rgb(242,242,242)"/>
<ellipse cx="1605.6" cy="1642.7" rx="7" ry="4" fill="rgb(242,242,242)"/>
<ellipse cx="1612.4" cy="1663.2" rx="7" ry="4" fill="rgb(81,81,81)"/>
<ellipse cx="1619.2" cy="1658.1" rx="7" ry="4" fill="rgb(81,81,81)"/>
<ellipse cx="1626.0" cy="1653.0" rx="7" ry="4" fill="rgb(81,81,81)"/>
<ellipse cx="1632.8" cy="1648.0" rx="7" ry="4" fill="rgb(81,81,81)"/>
<ellipse cx="1639.6" cy="1642.9" rx="7" ry="4" fill="rgb(81,81,81)"/>
<ellipse cx="1646.4" cy="1637.6" rx="7" ry="4" fill="rgb(81,81,81)"/>
<ellipse cx="1448" cy="1623" rx="24" ry="12" transform="rotate(-20 1448 1623)" fill="rgb(71,71,71)"/>
<ellipse cx="1492" cy="1597" rx="36" ry="20" fill="rgb(165,165,165)"/>
<ellipse cx="1500" cy="1650" rx="36" ry="60" transform="rotate(25 1500 1650)" fill="rgb(81,81,81)"/>
<ellipse cx="1496" cy="1645" rx="14" ry="22" transform="rotate(25 1496 1645)" fill="rgb(10,10,10)"/>
<ellipse cx="1584" cy="1645" rx="56" ry="44" fill="rgb(165,165,165)"/>
<ellipse cx="1560" cy="1602" rx="24" ry="20" fill="rgb(242,242,242)"/>
<ellipse cx="1424" cy="1640" rx="48" ry="18" transform="rotate(-10 1424 1640)" fill="rgb(165,165,165)"/>
<ellipse cx="1446" cy="1664" rx="26" ry="24" fill="rgb(247,247,247)"/>
<ellipse cx="1520" cy="1709" rx="48" ry="36" fill="rgb(86,86,86)"/>
<ellipse cx="1596" cy="1669" rx="12" ry="20" fill="rgb(242,242,242)"/>
</g></g></g>
<path d="M1376.0,1644.2L1510.4,1753.0L1646.4,1642.6" stroke="#0a0606" stroke-width="1.2" fill="none"/>
<g font-family="'Liberation Sans', Arial, sans-serif" font-size="7.6" fill="#2a2a2a"><text transform="translate(1457.8 1724.8) rotate(141)" text-anchor="middle">2.5</text><text transform="translate(1424.2 1697.6) rotate(141)" text-anchor="middle">5</text><text transform="translate(1390.6 1670.4) rotate(141)" text-anchor="middle">7.5</text><text transform="translate(1427.2 1704.6) rotate(141)" text-anchor="middle" font-size="5.5">µm</text><text transform="translate(1562.4 1723.4) rotate(-38)" text-anchor="middle">2.5</text><text transform="translate(1596.4 1695.8) rotate(-38)" text-anchor="middle">5</text><text transform="translate(1630.4 1668.2) rotate(-38)" text-anchor="middle">7.5</text><text transform="translate(1653.4 1646.6) rotate(-38)" text-anchor="middle">10</text><text transform="translate(1602.4 1702.8) rotate(-38)" text-anchor="middle" font-size="5.5">µm</text><text transform="translate(1505.4 1763.0) rotate(-38)" text-anchor="middle">0</text><text transform="translate(1519.4 1761.0) rotate(-38)" text-anchor="middle">0</text><path d="M1373.0 1643.2L1368.0 1603.2" stroke="#444" stroke-width="0.7" fill="none"/><text transform="translate(1366.8 1611.7) rotate(-22)" text-anchor="end">750</text><text transform="translate(1367.8 1620.2) rotate(-22)" text-anchor="end">500</text><text transform="translate(1368.9 1628.7) rotate(-22)" text-anchor="end">250</text><text transform="translate(1369.9 1637.2) rotate(-22)" text-anchor="end">0</text><text transform="translate(1371.0 1645.7) rotate(-22)" text-anchor="end">-250</text><path d="M1368.8 1609.2h2.2M1369.8 1617.7h2.2M1370.9 1626.2h2.2M1371.9 1634.7h2.2M1373.0 1643.2h2.2" stroke="#444" stroke-width="0.6" fill="none"/><text transform="translate(1357.0 1599.2) rotate(-22)" text-anchor="middle">nm</text></g>
<clipPath id="p17c"><polygon points="1694.0,1636.2 1697.7,1625.4 1701.3,1613.8 1705.0,1604.0 1712.0,1602.8 1719.0,1602.5 1726.0,1602.6 1731.9,1598.2 1737.7,1594.7 1743.6,1591.4 1753.7,1589.4 1763.9,1591.0 1774.0,1591.4 1782.0,1586.5 1790.0,1582.6 1798.0,1581.8 1803.7,1573.6 1809.3,1573.1 1815.0,1570.0 1818.9,1566.7 1822.9,1564.7 1826.8,1562.6 1831.2,1563.1 1835.6,1565.1 1840.0,1568.0 1847.3,1570.1 1854.7,1577.1 1862.0,1581.8 1867.3,1585.2 1872.7,1589.6 1878.0,1596.0 1894.0,1594.9 1910.0,1595.6 1926.0,1599.4 1934.0,1601.6 1942.0,1607.6 1950.0,1612.0 1954.8,1615.4 1959.6,1623.7 1964.4,1631.4 1964.4,1638.8 1961.0,1640.9 1957.5,1643.0 1954.1,1645.2 1950.6,1647.3 1947.2,1649.5 1943.8,1651.6 1940.3,1643.3 1936.9,1644.7 1933.4,1646.1 1930.0,1647.5 1926.6,1649.0 1923.1,1650.4 1919.7,1651.8 1916.2,1646.2 1912.8,1648.4 1909.4,1650.5 1905.9,1652.6 1902.5,1654.8 1899.0,1656.9 1895.6,1659.0 1892.2,1661.2 1888.7,1663.3 1885.3,1693.0 1881.8,1696.6 1878.4,1700.2 1875.0,1703.9 1871.5,1707.5 1868.1,1711.1 1864.6,1713.9 1861.2,1716.8 1857.8,1719.6 1854.3,1722.4 1850.9,1725.2 1847.4,1728.0 1844.0,1730.9 1840.6,1733.7 1837.1,1736.5 1833.7,1739.3 1830.2,1742.1 1826.8,1745.0 1826.8,1745.0 1823.4,1731.6 1820.1,1728.7 1816.7,1725.7 1813.4,1722.8 1810.0,1719.8 1806.6,1716.8 1803.3,1713.9 1799.9,1710.9 1796.6,1719.3 1793.2,1716.4 1789.8,1713.5 1786.5,1710.6 1783.1,1707.7 1779.8,1704.8 1776.4,1701.9 1773.0,1699.0 1769.7,1678.5 1766.3,1676.1 1763.0,1673.7 1759.6,1671.3 1756.2,1674.1 1752.9,1671.7 1749.5,1669.2 1746.2,1666.8 1742.8,1664.5 1739.4,1662.2 1736.1,1660.0 1732.7,1657.7 1729.4,1665.3 1726.0,1662.8 1722.6,1660.2 1719.3,1657.7 1715.9,1655.5 1712.6,1653.3 1709.2,1651.1 1705.8,1648.9 1702.5,1646.7 1699.1,1644.5 1695.8,1642.3 1692.4,1640.1"/></clipPath>
<filter id="p17f" filterUnits="userSpaceOnUse" x="1422.4" y="1282.6" width="812.0" height="740.4000000000001" color-interpolation-filters="sRGB"><feGaussianBlur in="SourceGraphic" stdDeviation="2.6" result="b"/><feTurbulence type="fractalNoise" baseFrequency="0.1 0.28" numOctaves="2" seed="122" result="t"/><feColorMatrix in="t" type="matrix" values="1 0 0 0 0 1 0 0 0 0 1 0 0 0 0 0 0 0 0 1" result="tg"/><feComposite in="b" in2="tg" operator="arithmetic" k1="0" k2="1.0" k3="0.6" k4="-0.300" result="h"/><feComponentTransfer in="h" result="col"><feFuncR type="table" tableValues="0.08 0.24 0.40 0.49 0.60 0.70 0.83 0.97"/><feFuncG type="table" tableValues="0.03 0.09 0.15 0.23 0.42 0.57 0.75 0.97"/><feFuncB type="table" tableValues="0.02 0.06 0.11 0.12 0.16 0.23 0.49 0.96"/><feFuncA type="linear" slope="0" intercept="1"/></feComponentTransfer><feColorMatrix in="h" type="matrix" values="0 0 0 0 0 0 0 0 0 0 0 0 0 0 0 1 0 0 0 0" result="ha0"/><feGaussianBlur in="ha0" stdDeviation="1.3" result="ha"/><feDiffuseLighting in="ha" surfaceScale="2.5" diffuseConstant="1" lighting-color="#fff" result="lit"><feDistantLight azimuth="255" elevation="50"/></feDiffuseLighting><feComposite in="col" in2="lit" operator="arithmetic" k1="1.305" k2="0" k3="0" k4="0"/></filter>
<linearGradient id="p17lh" gradientUnits="userSpaceOnUse" x1="1692.4" y1="0" x2="1826.8" y2="0"><stop offset="0.000" stop-color="#6e2a1c"/><stop offset="0.250" stop-color="#6e2a1c"/><stop offset="0.280" stop-color="#c4a040"/><stop offset="0.450" stop-color="#c4a040"/><stop offset="0.500" stop-color="#f2f0ec"/><stop offset="0.550" stop-color="#f2f0ec"/><stop offset="0.600" stop-color="#6e2a1c"/><stop offset="0.800" stop-color="#c4a040"/><stop offset="1.000" stop-color="#6e2a1c"/></linearGradient>
<linearGradient id="p17lv" gradientUnits="userSpaceOnUse" x1="0" y1="252.4" x2="0" y2="224.8" gradientTransform="matrix(1 0.8214 0 1 0 0)"><stop offset="0" stop-color="#000" stop-opacity="0.93"/><stop offset="0.12" stop-color="#000" stop-opacity="0.62"/><stop offset="0.3" stop-color="#000" stop-opacity="0.3"/><stop offset="0.55" stop-color="#000" stop-opacity="0.07"/><stop offset="1" stop-color="#000" stop-opacity="0"/></linearGradient>
<polygon points="1692.4,1642.6 1826.8,1753.0 1826.8,1745.0 1823.4,1731.6 1820.1,1728.7 1816.7,1725.7 1813.4,1722.8 1810.0,1719.8 1806.6,1716.8 1803.3,1713.9 1799.9,1710.9 1796.6,1719.3 1793.2,1716.4 1789.8,1713.5 1786.5,1710.6 1783.1,1707.7 1779.8,1704.8 1776.4,1701.9 1773.0,1699.0 1769.7,1678.5 1766.3,1676.1 1763.0,1673.7 1759.6,1671.3 1756.2,1674.1 1752.9,1671.7 1749.5,1669.2 1746.2,1666.8 1742.8,1664.5 1739.4,1662.2 1736.1,1660.0 1732.7,1657.7 1729.4,1665.3 1726.0,1662.8 1722.6,1660.2 1719.3,1657.7 1715.9,1655.5 1712.6,1653.3 1709.2,1651.1 1705.8,1648.9 1702.5,1646.7 1699.1,1644.5 1695.8,1642.3 1692.4,1640.1" fill="url(#p17lh)"/>
<polygon points="1692.4,1642.6 1826.8,1753.0 1826.8,1745.0 1823.4,1731.6 1820.1,1728.7 1816.7,1725.7 1813.4,1722.8 1810.0,1719.8 1806.6,1716.8 1803.3,1713.9 1799.9,1710.9 1796.6,1719.3 1793.2,1716.4 1789.8,1713.5 1786.5,1710.6 1783.1,1707.7 1779.8,1704.8 1776.4,1701.9 1773.0,1699.0 1769.7,1678.5 1766.3,1676.1 1763.0,1673.7 1759.6,1671.3 1756.2,1674.1 1752.9,1671.7 1749.5,1669.2 1746.2,1666.8 1742.8,1664.5 1739.4,1662.2 1736.1,1660.0 1732.7,1657.7 1729.4,1665.3 1726.0,1662.8 1722.6,1660.2 1719.3,1657.7 1715.9,1655.5 1712.6,1653.3 1709.2,1651.1 1705.8,1648.9 1702.5,1646.7 1699.1,1644.5 1695.8,1642.3 1692.4,1640.1" fill="#000" filter="url(#streak)"/>
<polygon points="1692.4,1642.6 1826.8,1753.0 1826.8,1745.0 1823.4,1731.6 1820.1,1728.7 1816.7,1725.7 1813.4,1722.8 1810.0,1719.8 1806.6,1716.8 1803.3,1713.9 1799.9,1710.9 1796.6,1719.3 1793.2,1716.4 1789.8,1713.5 1786.5,1710.6 1783.1,1707.7 1779.8,1704.8 1776.4,1701.9 1773.0,1699.0 1769.7,1678.5 1766.3,1676.1 1763.0,1673.7 1759.6,1671.3 1756.2,1674.1 1752.9,1671.7 1749.5,1669.2 1746.2,1666.8 1742.8,1664.5 1739.4,1662.2 1736.1,1660.0 1732.7,1657.7 1729.4,1665.3 1726.0,1662.8 1722.6,1660.2 1719.3,1657.7 1715.9,1655.5 1712.6,1653.3 1709.2,1651.1 1705.8,1648.9 1702.5,1646.7 1699.1,1644.5 1695.8,1642.3 1692.4,1640.1" fill="url(#p17lv)"/>
<linearGradient id="p17rh" gradientUnits="userSpaceOnUse" x1="1826.8" y1="0" x2="1964.4" y2="0"><stop offset="0.000" stop-color="#6e2a1c"/><stop offset="0.400" stop-color="#6e2a1c"/><stop offset="0.430" stop-color="#f2f0ec"/><stop offset="0.640" stop-color="#f2f0ec"/><stop offset="0.670" stop-color="#c4a040"/><stop offset="0.800" stop-color="#c4a040"/><stop offset="0.830" stop-color="#6e2a1c"/><stop offset="1.000" stop-color="#6e2a1c"/></linearGradient>
<linearGradient id="p17rv" gradientUnits="userSpaceOnUse" x1="0" y1="3218.7" x2="0" y2="3178.7" gradientTransform="matrix(1 -0.8023 0 1 0 0)"><stop offset="0" stop-color="#000" stop-opacity="0.93"/><stop offset="0.12" stop-color="#000" stop-opacity="0.62"/><stop offset="0.3" stop-color="#000" stop-opacity="0.3"/><stop offset="0.55" stop-color="#000" stop-opacity="0.07"/><stop offset="1" stop-color="#000" stop-opacity="0"/></linearGradient>
<polygon points="1826.8,1753.0 1964.4,1642.6 1964.4,1638.8 1961.0,1640.9 1957.5,1643.0 1954.1,1645.2 1950.6,1647.3 1947.2,1649.5 1943.8,1651.6 1940.3,1643.3 1936.9,1644.7 1933.4,1646.1 1930.0,1647.5 1926.6,1649.0 1923.1,1650.4 1919.7,1651.8 1916.2,1646.2 1912.8,1648.4 1909.4,1650.5 1905.9,1652.6 1902.5,1654.8 1899.0,1656.9 1895.6,1659.0 1892.2,1661.2 1888.7,1663.3 1885.3,1693.0 1881.8,1696.6 1878.4,1700.2 1875.0,1703.9 1871.5,1707.5 1868.1,1711.1 1864.6,1713.9 1861.2,1716.8 1857.8,1719.6 1854.3,1722.4 1850.9,1725.2 1847.4,1728.0 1844.0,1730.9 1840.6,1733.7 1837.1,1736.5 1833.7,1739.3 1830.2,1742.1 1826.8,1745.0" fill="url(#p17rh)"/>
<polygon points="1826.8,1753.0 1964.4,1642.6 1964.4,1638.8 1961.0,1640.9 1957.5,1643.0 1954.1,1645.2 1950.6,1647.3 1947.2,1649.5 1943.8,1651.6 1940.3,1643.3 1936.9,1644.7 1933.4,1646.1 1930.0,1647.5 1926.6,1649.0 1923.1,1650.4 1919.7,1651.8 1916.2,1646.2 1912.8,1648.4 1909.4,1650.5 1905.9,1652.6 1902.5,1654.8 1899.0,1656.9 1895.6,1659.0 1892.2,1661.2 1888.7,1663.3 1885.3,1693.0 1881.8,1696.6 1878.4,1700.2 1875.0,1703.9 1871.5,1707.5 1868.1,1711.1 1864.6,1713.9 1861.2,1716.8 1857.8,1719.6 1854.3,1722.4 1850.9,1725.2 1847.4,1728.0 1844.0,1730.9 1840.6,1733.7 1837.1,1736.5 1833.7,1739.3 1830.2,1742.1 1826.8,1745.0" fill="#000" filter="url(#streak)"/>
<polygon points="1826.8,1753.0 1964.4,1642.6 1964.4,1638.8 1961.0,1640.9 1957.5,1643.0 1954.1,1645.2 1950.6,1647.3 1947.2,1649.5 1943.8,1651.6 1940.3,1643.3 1936.9,1644.7 1933.4,1646.1 1930.0,1647.5 1926.6,1649.0 1923.1,1650.4 1919.7,1651.8 1916.2,1646.2 1912.8,1648.4 1909.4,1650.5 1905.9,1652.6 1902.5,1654.8 1899.0,1656.9 1895.6,1659.0 1892.2,1661.2 1888.7,1663.3 1885.3,1693.0 1881.8,1696.6 1878.4,1700.2 1875.0,1703.9 1871.5,1707.5 1868.1,1711.1 1864.6,1713.9 1861.2,1716.8 1857.8,1719.6 1854.3,1722.4 1850.9,1725.2 1847.4,1728.0 1844.0,1730.9 1840.6,1733.7 1837.1,1736.5 1833.7,1739.3 1830.2,1742.1 1826.8,1745.0" fill="url(#p17rv)"/>
<g clip-path="url(#p17c)"><g transform="rotate(-30 1828.4 1652.8)" filter="url(#p17f)"><g transform="rotate(30 1828.4 1652.8)">
<rect x="1612" y="1473" width="432" height="360" fill="rgb(107,107,107)"/>
<ellipse cx="1692.4" cy="1637.1" rx="7" ry="4" fill="rgb(81,81,81)"/>
<ellipse cx="1699.1" cy="1641.5" rx="7" ry="4" fill="rgb(81,81,81)"/>
<ellipse cx="1705.8" cy="1645.9" rx="7" ry="4" fill="rgb(81,81,81)"/>
<ellipse cx="1712.6" cy="1650.3" rx="7" ry="4" fill="rgb(81,81,81)"/>
<ellipse cx="1719.3" cy="1654.7" rx="7" ry="4" fill="rgb(81,81,81)"/>
<ellipse cx="1726.0" cy="1659.8" rx="7" ry="4" fill="rgb(81,81,81)"/>
<ellipse cx="1732.7" cy="1654.7" rx="7" ry="4" fill="rgb(165,165,165)"/>
<ellipse cx="1739.4" cy="1659.2" rx="7" ry="4" fill="rgb(165,165,165)"/>
<ellipse cx="1746.2" cy="1663.8" rx="7" ry="4" fill="rgb(165,165,165)"/>
<ellipse cx="1752.9" cy="1668.7" rx="7" ry="4" fill="rgb(165,165,165)"/>
<ellipse cx="1759.6" cy="1668.3" rx="7" ry="4" fill="rgb(242,242,242)"/>
<ellipse cx="1766.3" cy="1673.1" rx="7" ry="4" fill="rgb(242,242,242)"/>
<ellipse cx="1773.0" cy="1696.0" rx="7" ry="4" fill="rgb(81,81,81)"/>
<ellipse cx="1779.8" cy="1701.8" rx="7" ry="4" fill="rgb(81,81,81)"/>
<ellipse cx="1786.5" cy="1707.6" rx="7" ry="4" fill="rgb(81,81,81)"/>
<ellipse cx="1793.2" cy="1713.4" rx="7" ry="4" fill="rgb(81,81,81)"/>
<ellipse cx="1799.9" cy="1707.9" rx="7" ry="4" fill="rgb(165,165,165)"/>
<ellipse cx="1806.6" cy="1713.8" rx="7" ry="4" fill="rgb(165,165,165)"/>
<ellipse cx="1813.4" cy="1719.8" rx="7" ry="4" fill="rgb(165,165,165)"/>
<ellipse cx="1820.1" cy="1725.7" rx="7" ry="4" fill="rgb(165,165,165)"/>
<ellipse cx="1826.8" cy="1742.0" rx="7" ry="4" fill="rgb(81,81,81)"/>
<ellipse cx="1826.8" cy="1742.0" rx="7" ry="4" fill="rgb(81,81,81)"/>
<ellipse cx="1833.7" cy="1736.3" rx="7" ry="4" fill="rgb(81,81,81)"/>
<ellipse cx="1840.6" cy="1730.7" rx="7" ry="4" fill="rgb(81,81,81)"/>
<ellipse cx="1847.4" cy="1725.0" rx="7" ry="4" fill="rgb(81,81,81)"/>
<ellipse cx="1854.3" cy="1719.4" rx="7" ry="4" fill="rgb(81,81,81)"/>
<ellipse cx="1861.2" cy="1713.8" rx="7" ry="4" fill="rgb(81,81,81)"/>
<ellipse cx="1868.1" cy="1708.1" rx="7" ry="4" fill="rgb(81,81,81)"/>
<ellipse cx="1875.0" cy="1700.9" rx="7" ry="4" fill="rgb(81,81,81)"/>
<ellipse cx="1881.8" cy="1693.6" rx="7" ry="4" fill="rgb(81,81,81)"/>
<ellipse cx="1888.7" cy="1660.3" rx="7" ry="4" fill="rgb(242,242,242)"/>
<ellipse cx="1895.6" cy="1656.0" rx="7" ry="4" fill="rgb(242,242,242)"/>
<ellipse cx="1902.5" cy="1651.8" rx="7" ry="4" fill="rgb(242,242,242)"/>
<ellipse cx="1909.4" cy="1647.5" rx="7" ry="4" fill="rgb(242,242,242)"/>
<ellipse cx="1916.2" cy="1643.2" rx="7" ry="4" fill="rgb(242,242,242)"/>
<ellipse cx="1923.1" cy="1647.4" rx="7" ry="4" fill="rgb(165,165,165)"/>
<ellipse cx="1930.0" cy="1644.5" rx="7" ry="4" fill="rgb(165,165,165)"/>
<ellipse cx="1936.9" cy="1641.7" rx="7" ry="4" fill="rgb(165,165,165)"/>
<ellipse cx="1943.8" cy="1648.6" rx="7" ry="4" fill="rgb(81,81,81)"/>
<ellipse cx="1950.6" cy="1644.3" rx="7" ry="4" fill="rgb(81,81,81)"/>
<ellipse cx="1957.5" cy="1640.0" rx="7" ry="4" fill="rgb(81,81,81)"/>
<ellipse cx="1964.4" cy="1635.8" rx="7" ry="4" fill="rgb(81,81,81)"/>
<ellipse cx="1822" cy="1578" rx="48" ry="15" fill="rgb(170,170,170)"/>
<ellipse cx="1822" cy="1590" rx="40" ry="6" fill="rgb(89,89,89)"/>
<ellipse cx="1786" cy="1593" rx="48" ry="4" fill="rgb(247,247,247)"/>
<ellipse cx="1760" cy="1603" rx="30" ry="4" transform="rotate(-3 1760 1603)" fill="rgb(242,242,242)"/>
<ellipse cx="1850" cy="1598" rx="40" ry="4" transform="rotate(-5 1850 1598)" fill="rgb(237,237,237)"/>
<ellipse cx="1818" cy="1606" rx="92" ry="8" transform="rotate(-5 1818 1606)" fill="rgb(170,170,170)"/>
<ellipse cx="1810" cy="1608" rx="36" ry="4" transform="rotate(-5 1810 1608)" fill="rgb(242,242,242)"/>
<ellipse cx="1830" cy="1614" rx="96" ry="5" transform="rotate(-8 1830 1614)" fill="rgb(242,242,242)"/>
<ellipse cx="1715" cy="1610" rx="11" ry="7" fill="rgb(242,242,242)"/>
<ellipse cx="1820" cy="1622" rx="120" ry="7" transform="rotate(-8 1820 1622)" fill="rgb(165,165,165)"/>
<ellipse cx="1826" cy="1643" rx="132" ry="13" transform="rotate(-8 1826 1643)" fill="rgb(76,76,76)"/>
<ellipse cx="1730" cy="1650" rx="36" ry="8" transform="rotate(-5 1730 1650)" fill="rgb(30,30,30)"/>
<ellipse cx="1782" cy="1654" rx="56" ry="8" transform="rotate(-8 1782 1654)" fill="rgb(160,160,160)"/>
<ellipse cx="1830" cy="1661" rx="96" ry="12" transform="rotate(-10 1830 1661)" fill="rgb(81,81,81)"/>
<ellipse cx="1810" cy="1677" rx="68" ry="20" transform="rotate(-12 1810 1677)" fill="rgb(165,165,165)"/>
<ellipse cx="1846" cy="1669" rx="72" ry="5" transform="rotate(-12 1846 1669)" fill="rgb(242,242,242)"/>
<ellipse cx="1838" cy="1713" rx="40" ry="24" transform="rotate(-25 1838 1713)" fill="rgb(76,76,76)"/>
</g></g></g>
<path d="M1692.4,1642.6L1826.8,1753.0L1964.4,1642.6" stroke="#0a0606" stroke-width="1.2" fill="none"/>
<g font-family="'Liberation Sans', Arial, sans-serif" font-size="7.6" fill="#2a2a2a"><text transform="translate(1774.2 1724.4) rotate(141)" text-anchor="middle">2.5</text><text transform="translate(1740.6 1696.8) rotate(141)" text-anchor="middle">5</text><text transform="translate(1707.0 1669.2) rotate(141)" text-anchor="middle">7.5</text><text transform="translate(1743.6 1703.8) rotate(141)" text-anchor="middle" font-size="5.5">µm</text><text transform="translate(1879.2 1723.4) rotate(-38)" text-anchor="middle">2.5</text><text transform="translate(1913.6 1695.8) rotate(-38)" text-anchor="middle">5</text><text transform="translate(1948.0 1668.2) rotate(-38)" text-anchor="middle">7.5</text><text transform="translate(1971.4 1646.6) rotate(-38)" text-anchor="middle">10</text><text transform="translate(1919.6 1702.8) rotate(-38)" text-anchor="middle" font-size="5.5">µm</text><text transform="translate(1821.8 1763.0) rotate(-38)" text-anchor="middle">0</text><text transform="translate(1835.8 1761.0) rotate(-38)" text-anchor="middle">0</text><path d="M1689.4 1641.6L1684.4 1601.6" stroke="#444" stroke-width="0.7" fill="none"/><text transform="translate(1683.2 1610.1) rotate(-22)" text-anchor="end">200</text><text transform="translate(1685.3 1627.1) rotate(-22)" text-anchor="end">0</text><text transform="translate(1687.4 1644.1) rotate(-22)" text-anchor="end">-200</text><path d="M1685.2 1607.6h2.2M1687.3 1624.6h2.2M1689.4 1641.6h2.2" stroke="#444" stroke-width="0.6" fill="none"/><text transform="translate(1673.4 1597.6) rotate(-22)" text-anchor="middle">nm</text></g>
</svg></body></html>
